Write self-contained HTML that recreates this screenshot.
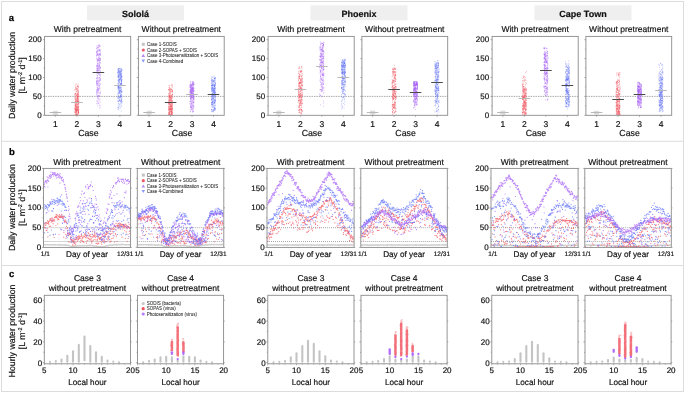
<!DOCTYPE html>
<html><head><meta charset="utf-8"><style>
html,body{margin:0;padding:0;background:#fff;width:685px;height:393px;overflow:hidden}
svg{display:block;will-change:transform}
</style></head><body>
<svg width="685" height="393" viewBox="0 0 685 393" font-family='"Liberation Sans", sans-serif' text-rendering="geometricPrecision">
<rect width="685" height="393" fill="#fff"/>
<rect x="1.5" y="1.5" width="682" height="390" fill="none" stroke="#dcdcdc" stroke-width="1"/>
<path d="M1.5 141.3H683.5M1.5 265.5H683.5" stroke="#dcdcdc" stroke-width="1"/>
<text x="8.7" y="20.5" font-size="9.5" text-anchor="start" font-weight="bold" fill="#000" stroke="#000" stroke-width="0.18" >a</text>
<text x="8.9" y="155.2" font-size="9.5" text-anchor="start" font-weight="bold" fill="#000" stroke="#000" stroke-width="0.18" >b</text>
<text x="8.9" y="276.8" font-size="9.5" text-anchor="start" font-weight="bold" fill="#000" stroke="#000" stroke-width="0.18" >c</text>
<rect x="87" y="5.3" width="97" height="15" fill="#efefef"/>
<text x="135.5" y="16.5" font-size="9" text-anchor="middle" font-weight="bold" fill="#111" stroke="#111" stroke-width="0.18" >Sololá</text>
<rect x="310.5" y="5.3" width="97" height="15" fill="#efefef"/>
<text x="359" y="16.5" font-size="9" text-anchor="middle" font-weight="bold" fill="#111" stroke="#111" stroke-width="0.18" >Phoenix</text>
<rect x="534.5" y="5.3" width="97" height="15" fill="#efefef"/>
<text x="583" y="16.5" font-size="9" text-anchor="middle" font-weight="bold" fill="#111" stroke="#111" stroke-width="0.18" >Cape Town</text>
<g transform="translate(15.3 75.4) rotate(-90)"><text x="0" y="0" font-size="8.8" text-anchor="middle" fill="#111" stroke="#111" stroke-width="0.18">Daily water production</text></g>
<g transform="translate(24.9 75.4) rotate(-90)"><text x="0" y="0" font-size="8.8" text-anchor="middle" fill="#111" stroke="#111" stroke-width="0.18">[L m<tspan font-size="5.5" dy="-3.2">-2</tspan><tspan dy="3.2"> d</tspan><tspan font-size="5.5" dy="-3.2">-1</tspan><tspan dy="3.2">]</tspan></text></g>
<g transform="translate(15.3 207.6) rotate(-90)"><text x="0" y="0" font-size="8.8" text-anchor="middle" fill="#111" stroke="#111" stroke-width="0.18">Daily water production</text></g>
<g transform="translate(24.9 207.6) rotate(-90)"><text x="0" y="0" font-size="8.8" text-anchor="middle" fill="#111" stroke="#111" stroke-width="0.18">[L m<tspan font-size="5.5" dy="-3.2">-2</tspan><tspan dy="3.2"> d</tspan><tspan font-size="5.5" dy="-3.2">-1</tspan><tspan dy="3.2">]</tspan></text></g>
<g transform="translate(15.3 331.0) rotate(-90)"><text x="0" y="0" font-size="8.8" text-anchor="middle" fill="#111" stroke="#111" stroke-width="0.18">Hourly water production</text></g>
<g transform="translate(24.9 331.0) rotate(-90)"><text x="0" y="0" font-size="8.8" text-anchor="middle" fill="#111" stroke="#111" stroke-width="0.18">[L m<tspan font-size="5.5" dy="-3.2">-2</tspan><tspan dy="3.2"> d</tspan><tspan font-size="5.5" dy="-3.2">-1</tspan><tspan dy="3.2">]</tspan></text></g>
<path d="M44.6 96.4H130.7" stroke="#333" stroke-width="0.55" stroke-dasharray="0.8 0.9"/>
<path d="M56.3 112.7h0M55.1 112.5h0M54.9 112.8h0M55.0 113.2h0M53.4 112.9h0M56.8 113.3h0M55.5 112.6h0M54.9 111.8h0M55.6 113.0h0M56.3 113.0h0M54.9 112.4h0M56.8 112.4h0M57.1 112.6h0M54.9 113.2h0M53.8 112.7h0M56.5 112.2h0M57.4 113.5h0M53.9 112.9h0M56.3 113.8h0M56.7 113.4h0M57.1 113.8h0M53.8 112.8h0M53.6 113.4h0M57.4 112.5h0M53.8 112.6h0M54.0 112.8h0M55.7 114.2h0M55.1 113.0h0M56.4 112.7h0M54.1 112.6h0M57.1 113.6h0M54.2 112.9h0M56.5 113.2h0M53.5 113.1h0M55.3 112.0h0M53.4 113.1h0M54.6 112.7h0M54.6 112.1h0M56.3 113.0h0M55.2 112.7h0M53.5 112.6h0M57.4 112.6h0M57.0 113.4h0M57.1 112.6h0M54.3 111.8h0M54.9 113.6h0M54.2 112.1h0M53.8 112.6h0M53.4 113.0h0M55.4 111.4h0M53.8 112.2h0M54.0 113.4h0M56.9 112.6h0M55.3 112.3h0M54.0 112.8h0M56.1 112.2h0M54.4 112.7h0M55.5 112.3h0M54.5 111.8h0M55.4 113.1h0M55.9 112.5h0M55.5 112.9h0M54.9 112.6h0M56.6 113.4h0M56.9 113.0h0M54.0 112.8h0M53.8 112.1h0M53.7 112.0h0M57.4 113.5h0M57.2 113.1h0M54.2 112.3h0M57.3 113.9h0M54.1 112.9h0M55.4 112.7h0M55.4 111.9h0M57.1 112.2h0M53.4 112.9h0M54.6 112.9h0M55.8 112.8h0M53.5 111.7h0M54.3 112.9h0M55.2 112.8h0M57.0 112.4h0M56.5 112.7h0M56.7 112.8h0M56.5 113.3h0M56.2 112.7h0M56.8 112.9h0M56.1 111.9h0M56.4 112.3h0M54.5 112.7h0M54.0 112.2h0M56.4 112.9h0M54.0 112.0h0M57.1 112.7h0M55.8 112.3h0M54.6 113.4h0M57.2 112.4h0M53.9 113.7h0M55.4 113.9h0M53.6 112.8h0M57.3 113.2h0M55.7 112.6h0M56.6 111.3h0M54.4 113.2h0M56.6 113.0h0M56.2 112.5h0M56.0 112.4h0M57.3 112.8h0M55.1 112.8h0M55.0 112.2h0M56.2 112.3h0M56.8 113.3h0M54.7 112.7h0M56.1 112.6h0M54.1 113.3h0M55.6 112.5h0M56.5 113.2h0M53.5 112.1h0M56.3 112.5h0M53.3 112.6h0M57.3 113.0h0M55.2 112.7h0M55.0 113.9h0M56.3 113.3h0M55.5 112.4h0M56.3 113.9h0M53.6 112.1h0M55.6 113.7h0M55.6 112.2h0M57.2 113.2h0M53.4 112.2h0M55.2 112.6h0M55.9 113.6h0M55.6 111.9h0M53.6 111.8h0M55.8 112.7h0M54.2 112.8h0M54.1 112.8h0M57.0 113.2h0M54.1 112.0h0M55.2 113.0h0M56.4 112.7h0M56.2 113.1h0M55.6 113.0h0M56.7 113.4h0M55.2 111.9h0M55.9 112.7h0M56.7 112.1h0M56.1 112.6h0M56.0 113.1h0M55.0 112.9h0M55.6 113.0h0M54.9 112.6h0M56.4 112.9h0M54.9 112.8h0M55.2 113.5h0M56.4 113.1h0M55.4 111.7h0M54.7 113.1h0M56.7 113.3h0M54.9 112.4h0M56.8 111.8h0M56.6 113.5h0M55.1 112.8h0M56.3 113.0h0M53.4 113.7h0M54.9 112.2h0M56.9 112.7h0M55.7 112.6h0M55.6 113.1h0M56.1 112.4h0M56.1 113.0h0M55.7 112.7h0M55.0 113.3h0M54.0 113.4h0M54.5 111.8h0M54.5 113.0h0M55.1 112.5h0M57.5 112.7h0M54.7 112.9h0M55.1 113.0h0M54.8 112.3h0M55.7 112.8h0M57.2 112.7h0M57.0 112.6h0M54.8 111.9h0M54.4 112.2h0M57.0 112.4h0M55.3 113.0h0M56.1 113.5h0M53.6 112.1h0M56.9 112.1h0M54.6 112.7h0M55.3 112.3h0M54.1 112.2h0M55.0 112.2h0M56.7 112.1h0M56.7 112.9h0M55.3 111.7h0M56.5 113.4h0M55.2 112.1h0M54.8 112.4h0M55.6 112.1h0M54.1 111.5h0M54.6 111.8h0M56.2 113.3h0M56.5 113.7h0M53.5 112.2h0M56.3 113.3h0M56.7 112.7h0M55.1 112.1h0M53.5 113.6h0M56.1 113.9h0M54.3 112.5h0M56.0 112.6h0M54.8 112.8h0M55.9 112.6h0M54.3 113.2h0M55.3 113.6h0M55.5 112.8h0M55.9 113.2h0M54.1 113.6h0M57.3 112.3h0M54.5 112.7h0M54.5 112.4h0M54.3 113.3h0M53.5 113.1h0M55.0 113.3h0M56.5 113.2h0M56.2 112.5h0M54.1 113.1h0M53.8 112.4h0M54.6 112.4h0M56.5 111.4h0M55.3 113.5h0M57.1 112.1h0M56.0 112.7h0M55.9 112.7h0M56.5 113.5h0M56.4 112.9h0M54.7 112.2h0M54.3 112.7h0M55.1 112.6h0M55.3 112.8h0M53.9 112.0h0M55.1 112.7h0M55.9 114.0h0M53.8 113.1h0M53.8 113.8h0M54.0 114.2h0M54.5 113.0h0M57.3 111.8h0M53.4 112.6h0M54.0 113.4h0M54.0 113.2h0M55.3 112.0h0M53.3 112.6h0M55.2 112.6h0M53.9 112.7h0M54.4 112.6h0M56.6 112.2h0M54.0 112.3h0M55.9 112.5h0M55.0 113.3h0M55.0 112.3h0M56.7 113.1h0M53.9 112.0h0M57.1 113.4h0M57.0 112.7h0M56.1 112.7h0M53.5 113.5h0M56.0 111.6h0M55.8 111.8h0M56.5 112.9h0M54.2 112.2h0M57.3 112.4h0M57.0 114.2h0M53.7 112.5h0M54.6 112.7h0M53.4 112.6h0M56.8 113.3h0M57.1 112.8h0M57.4 112.8h0M55.8 111.9h0M56.1 112.5h0M56.1 112.7h0M55.7 111.7h0M57.3 113.0h0M55.8 112.9h0M54.7 113.8h0M55.4 111.7h0M53.3 112.1h0M56.3 112.1h0M56.2 112.2h0M55.0 112.6h0M56.8 112.5h0M56.4 112.8h0M54.7 112.8h0M53.6 112.6h0" stroke="#9a9a9a" stroke-width="1.40" stroke-linecap="round" stroke-opacity="0.35" fill="none"/>
<path d="M77.9 106.4h0M77.5 102.1h0M76.2 113.5h0M77.0 112.9h0M77.3 115.2h0M77.0 110.3h0M75.3 107.2h0M79.0 96.9h0M78.8 110.4h0M74.9 105.2h0M78.8 96.0h0M77.0 109.0h0M75.3 106.6h0M78.2 98.6h0M76.6 101.9h0M77.8 105.8h0M78.3 101.3h0M77.0 93.5h0M75.0 109.1h0M78.2 111.5h0M77.7 97.1h0M78.6 101.3h0M75.9 110.1h0M78.1 107.5h0M78.5 112.8h0M76.3 100.3h0M76.5 109.7h0M76.2 107.2h0M74.8 97.4h0M75.8 86.9h0M76.2 105.4h0M75.2 115.1h0M78.0 84.3h0M76.6 111.8h0M77.2 102.1h0M76.0 101.9h0M76.3 114.8h0M78.0 90.2h0M76.8 101.4h0M77.3 98.5h0M76.6 89.0h0M77.1 96.3h0M78.6 108.1h0M75.9 108.9h0M77.0 110.4h0M77.7 98.0h0M75.2 106.1h0M78.8 109.2h0M76.9 99.2h0M75.8 109.4h0M78.0 106.8h0M78.2 103.8h0M77.4 96.8h0M78.6 112.3h0M75.2 112.6h0M77.0 113.8h0M77.9 105.2h0M78.6 111.7h0M77.5 109.7h0M77.3 99.9h0M76.4 95.4h0M77.2 88.3h0M77.1 96.6h0M78.6 90.2h0M78.3 99.8h0M77.9 95.2h0M78.7 96.8h0M75.1 85.4h0M78.0 108.7h0M76.7 102.0h0M77.9 98.3h0M76.0 111.3h0M76.8 104.7h0M78.3 103.8h0M74.9 111.9h0M76.0 107.1h0M76.8 94.7h0M78.4 92.0h0M75.9 104.3h0M78.2 101.0h0M75.8 110.3h0M76.1 107.0h0M77.1 109.5h0M77.5 101.4h0M78.5 110.7h0M78.5 110.3h0M75.8 95.3h0M77.9 99.8h0M77.5 99.8h0M76.4 107.2h0M78.0 94.0h0M78.6 95.1h0M76.8 100.3h0M78.6 86.0h0M75.3 109.8h0M75.5 93.5h0M78.0 102.1h0M76.1 104.1h0M77.2 96.3h0M76.9 97.6h0M75.4 100.4h0M78.0 108.9h0M77.9 88.6h0M75.4 99.9h0M75.9 104.1h0M78.1 107.5h0M78.6 109.2h0M78.4 104.3h0M76.9 111.7h0M76.3 99.9h0M76.7 109.2h0M75.5 87.7h0M76.9 91.4h0M75.8 114.6h0M75.5 109.6h0M76.4 111.7h0M75.1 93.5h0M76.8 114.8h0M77.7 86.4h0M77.5 89.3h0M78.9 105.9h0M78.5 87.3h0M77.4 109.3h0M78.6 109.3h0M76.7 108.8h0M78.1 103.2h0M76.0 94.5h0M77.0 102.1h0M78.9 102.3h0M77.3 107.6h0M76.9 89.7h0M78.1 104.0h0M76.1 104.9h0M78.3 106.5h0M74.9 109.9h0M75.8 113.0h0M75.5 105.2h0M75.9 106.2h0M78.8 95.9h0M74.9 108.8h0M76.0 103.8h0M77.2 100.0h0M77.7 97.4h0M78.0 93.8h0M76.4 95.3h0M75.7 88.3h0M78.4 110.2h0M75.3 101.8h0M75.1 94.2h0M75.8 98.3h0M76.9 102.1h0M78.7 112.0h0M77.8 97.5h0M77.2 111.0h0M77.0 107.3h0M77.7 86.1h0M77.4 90.4h0M76.2 106.7h0M75.2 98.7h0M75.6 101.4h0M78.1 110.9h0M77.5 106.6h0M78.1 107.4h0M75.0 112.4h0M78.6 112.7h0M76.4 91.0h0M78.7 99.3h0M77.3 94.4h0M77.1 108.1h0M78.2 96.6h0M77.4 101.1h0M77.6 85.8h0M75.4 110.3h0M77.3 104.1h0M76.3 105.4h0M75.1 89.7h0M75.3 112.0h0M76.8 103.5h0M75.9 83.7h0M78.0 102.9h0M75.3 114.4h0M74.8 108.6h0M79.0 100.9h0M76.1 92.8h0M76.9 99.0h0M75.7 109.7h0M75.7 102.6h0M76.5 89.0h0M78.1 94.3h0M75.0 95.4h0M78.3 93.4h0M78.9 102.3h0M77.1 114.4h0M76.3 84.6h0M75.8 113.4h0M75.6 105.2h0M76.1 91.5h0M78.4 92.7h0M74.8 90.6h0M78.1 109.9h0M77.6 100.9h0M74.9 96.1h0M75.1 114.2h0M77.9 92.6h0M77.6 96.2h0M76.1 102.4h0M78.4 96.7h0M75.7 110.2h0M76.6 111.4h0M75.3 111.4h0M77.5 104.6h0M75.2 101.5h0M75.5 102.2h0M78.0 109.1h0M76.9 97.1h0M77.6 115.0h0M77.9 91.6h0M77.3 109.8h0M75.6 108.6h0M77.7 100.6h0M75.3 97.7h0M75.9 109.1h0M76.7 110.6h0M75.3 99.5h0M75.2 89.4h0M77.5 96.4h0M77.9 102.6h0M76.3 108.4h0M76.4 114.2h0M75.7 108.3h0M77.0 115.0h0M77.2 95.0h0M78.7 113.9h0M75.0 103.5h0M78.6 101.9h0M78.9 103.7h0M76.2 98.1h0M77.8 101.6h0M78.3 112.7h0M77.5 102.1h0M76.0 100.3h0M77.4 109.4h0M78.5 94.6h0M75.2 99.3h0M76.8 108.0h0M74.9 107.7h0M78.3 87.0h0M78.1 91.5h0M75.0 94.3h0M77.9 113.8h0M77.7 104.7h0M75.3 93.5h0M77.0 110.6h0M77.7 96.5h0M76.2 89.0h0M76.9 110.7h0M78.9 112.3h0M77.5 95.3h0M76.9 88.1h0M75.1 105.2h0M75.3 102.9h0M78.4 112.7h0M77.9 114.8h0M78.3 106.9h0M77.2 110.4h0M77.2 107.1h0M77.0 112.6h0M77.9 86.4h0M76.2 102.9h0M76.9 111.7h0M76.8 112.4h0M77.6 93.2h0M75.7 106.0h0M74.9 111.9h0M75.2 102.4h0M75.5 104.6h0M78.4 112.0h0M77.8 99.8h0M77.9 98.3h0M76.7 115.0h0M75.2 98.1h0M76.7 87.2h0M78.4 113.6h0M76.9 114.6h0M77.4 93.9h0M76.4 110.9h0M75.4 106.4h0M77.4 101.5h0M76.8 110.5h0M76.2 107.8h0M75.9 105.8h0M77.7 102.5h0M76.1 110.5h0M77.2 98.4h0M75.9 112.2h0M78.0 90.3h0M76.4 110.5h0M76.8 107.7h0M78.7 102.1h0M77.8 107.3h0" stroke="#f0505a" stroke-width="1.00" stroke-linecap="round" stroke-opacity="0.45" fill="none"/>
<path d="M97.1 101.5h0M99.9 89.8h0M97.5 59.6h0M98.6 98.3h0M99.3 46.0h0M96.9 52.4h0M100.3 84.0h0M100.3 59.4h0M100.4 54.2h0M96.3 52.0h0M99.0 70.8h0M99.1 73.5h0M100.0 99.5h0M97.2 80.8h0M96.8 83.9h0M99.7 61.7h0M97.4 76.9h0M96.6 78.0h0M96.7 46.1h0M99.0 88.7h0M98.6 96.4h0M99.5 88.4h0M99.7 105.2h0M96.3 49.0h0M100.2 96.0h0M100.0 58.4h0M100.2 67.2h0M99.5 108.2h0M97.9 59.0h0M97.4 66.0h0M100.1 102.2h0M98.1 59.9h0M98.4 101.9h0M99.2 95.0h0M99.2 57.9h0M99.2 50.3h0M98.9 78.7h0M98.4 69.9h0M99.5 66.2h0M98.0 55.2h0M97.4 54.0h0M100.1 75.3h0M99.9 59.5h0M99.3 79.3h0M97.0 80.1h0M96.5 82.0h0M100.2 52.0h0M100.3 79.5h0M97.5 80.1h0M99.0 72.6h0M96.4 72.5h0M98.0 65.0h0M99.3 86.0h0M97.8 72.4h0M99.7 53.8h0M100.1 53.0h0M96.9 55.2h0M99.2 64.2h0M97.9 97.1h0M97.0 85.6h0M97.8 91.4h0M98.3 70.2h0M100.1 68.4h0M99.5 50.5h0M96.3 94.7h0M96.5 65.2h0M100.5 78.2h0M98.7 58.1h0M98.9 73.6h0M97.8 89.4h0M99.8 45.8h0M98.7 57.9h0M98.8 67.8h0M97.4 90.8h0M99.6 81.0h0M97.2 83.8h0M96.9 60.7h0M98.8 68.7h0M99.8 50.0h0M97.5 68.6h0M97.6 96.2h0M96.9 82.0h0M98.8 63.1h0M99.5 56.2h0M96.8 83.0h0M98.6 82.1h0M98.6 95.8h0M96.8 54.0h0M98.5 55.7h0M97.5 63.7h0M97.1 55.6h0M100.5 84.1h0M96.7 81.5h0M97.8 61.5h0M98.9 78.0h0M98.0 77.5h0M96.4 67.1h0M100.0 54.8h0M97.3 87.9h0M98.0 103.6h0M100.1 107.4h0M100.4 50.9h0M100.2 75.0h0M98.0 96.8h0M99.4 49.2h0M99.9 93.1h0M97.1 51.2h0M100.4 92.2h0M96.7 80.9h0M99.1 86.0h0M97.3 75.6h0M97.2 63.1h0M96.9 93.2h0M100.3 60.2h0M96.9 71.5h0M100.1 54.9h0M97.0 70.7h0M97.7 65.8h0M97.2 82.6h0M100.5 55.3h0M96.7 57.9h0M99.9 100.9h0M97.6 93.0h0M100.3 93.6h0M99.5 72.8h0M97.4 63.6h0M98.5 89.8h0M97.0 65.9h0M98.0 51.1h0M96.4 92.7h0M99.2 69.9h0M98.8 57.1h0M97.5 67.8h0M96.4 103.8h0M100.3 58.2h0M96.8 69.0h0M97.7 50.3h0M96.4 52.0h0M97.9 45.5h0M98.0 96.5h0M98.6 54.2h0M97.7 54.8h0M97.4 68.0h0M99.6 60.7h0M97.5 85.0h0M97.7 89.7h0M98.4 80.4h0M97.5 84.9h0M99.4 64.7h0M96.7 66.3h0M97.7 60.4h0M98.1 92.8h0M97.4 78.8h0M99.8 45.5h0M97.8 51.5h0M98.1 89.0h0M98.3 74.0h0M99.8 58.4h0M97.2 84.0h0M99.8 53.8h0M100.3 67.9h0M97.4 90.3h0M97.0 78.1h0M99.6 60.3h0M97.6 59.0h0M97.3 75.7h0M96.6 48.3h0M98.9 50.3h0M100.2 49.6h0M100.0 63.4h0M98.8 90.0h0M98.2 60.0h0M100.4 92.1h0M99.1 61.1h0M100.3 71.2h0M99.2 68.9h0M99.2 46.3h0M99.3 65.3h0M96.8 52.2h0M97.4 87.5h0M96.6 85.0h0M100.2 105.8h0M100.5 62.7h0M98.9 86.7h0M97.0 81.3h0M96.8 55.6h0M98.2 67.2h0M98.0 95.3h0M97.1 51.3h0M96.7 89.7h0M99.0 70.9h0M99.6 77.5h0M96.6 56.0h0M97.6 106.0h0M97.6 98.2h0M98.6 59.5h0M98.9 99.1h0M98.0 53.7h0M99.9 66.6h0M98.0 69.0h0M97.6 81.8h0M99.5 58.7h0M99.8 77.3h0M100.0 74.2h0M97.0 52.9h0M97.1 83.5h0M98.3 46.0h0M100.4 78.6h0M98.9 47.7h0M98.9 98.8h0M97.7 61.8h0M100.5 72.8h0M97.1 47.8h0M98.7 45.1h0M99.1 81.1h0M99.7 83.9h0M99.7 54.9h0M97.9 95.5h0M97.5 102.6h0M100.4 75.9h0M98.6 90.3h0M97.5 73.2h0M96.9 100.7h0M99.7 67.7h0M99.9 67.8h0M98.7 81.7h0M97.9 88.1h0M99.1 63.0h0M100.4 79.6h0M98.7 88.6h0M99.6 66.1h0M100.0 59.7h0M99.5 54.4h0M98.4 103.7h0M97.1 54.3h0M99.2 70.1h0M99.8 80.8h0M100.4 70.3h0M97.0 92.1h0M96.8 70.3h0M99.0 54.6h0M99.8 80.9h0M96.6 73.9h0M98.9 65.0h0M97.4 72.9h0M100.5 60.3h0M97.8 100.1h0M96.7 78.5h0M99.6 85.7h0M97.6 88.9h0M98.1 60.2h0M96.9 92.1h0M97.7 69.6h0M96.9 91.1h0M97.4 64.7h0M98.7 85.6h0M97.6 65.7h0M99.1 93.0h0M100.1 88.0h0M98.7 82.9h0M96.4 58.9h0M100.3 71.9h0M97.1 87.0h0M97.8 47.9h0M98.5 84.5h0M98.9 66.2h0M97.7 54.5h0M98.2 49.6h0M98.9 95.6h0M98.2 47.7h0M97.5 70.8h0M98.0 60.0h0M97.9 65.8h0M97.5 53.7h0M98.8 91.6h0M98.5 74.0h0M98.0 47.1h0M99.3 87.2h0M99.7 74.9h0M99.0 103.7h0M97.7 47.8h0M100.2 54.1h0M96.8 83.4h0M99.7 51.2h0M98.1 67.1h0M98.0 50.2h0M99.9 44.3h0M99.1 83.8h0M100.4 80.6h0M100.0 46.5h0M96.8 94.8h0M98.4 66.3h0M99.5 62.7h0M96.7 90.7h0M98.6 60.4h0M100.5 67.7h0M97.3 70.6h0M96.8 68.7h0M97.5 68.9h0M97.8 70.9h0" stroke="#a45cf5" stroke-width="1.00" stroke-linecap="round" stroke-opacity="0.45" fill="none"/>
<path d="M118.9 80.0h0M119.6 100.2h0M118.1 105.1h0M117.9 72.7h0M118.9 76.6h0M121.2 100.5h0M120.7 77.6h0M119.8 79.9h0M119.6 70.9h0M119.0 92.8h0M121.1 69.5h0M119.9 81.7h0M118.1 97.5h0M120.5 74.8h0M122.0 91.3h0M118.1 83.7h0M122.0 101.6h0M118.3 103.3h0M119.1 75.2h0M121.9 70.7h0M121.9 95.4h0M118.6 79.9h0M120.9 102.8h0M120.4 74.3h0M119.5 73.3h0M121.1 74.9h0M120.5 72.8h0M118.8 77.6h0M119.9 91.4h0M120.8 84.1h0M120.4 101.8h0M120.1 68.4h0M120.9 83.4h0M118.4 76.2h0M118.0 97.1h0M118.0 75.1h0M120.4 92.0h0M119.7 92.9h0M121.3 80.9h0M121.9 84.3h0M118.3 79.8h0M119.4 93.1h0M119.6 90.8h0M120.1 99.7h0M121.7 68.3h0M120.4 83.6h0M119.1 90.0h0M120.6 96.9h0M119.2 106.5h0M120.2 78.5h0M118.3 73.0h0M120.2 78.6h0M119.8 77.9h0M120.5 108.0h0M120.2 77.1h0M120.2 76.5h0M120.9 79.7h0M118.4 95.7h0M121.0 73.4h0M120.5 85.2h0M120.7 97.3h0M119.5 97.7h0M118.2 74.3h0M121.7 100.6h0M121.3 105.8h0M121.9 73.3h0M119.8 93.3h0M121.6 81.4h0M121.5 80.8h0M120.1 100.9h0M121.6 77.5h0M121.3 82.3h0M118.3 76.6h0M118.4 76.8h0M119.5 82.7h0M120.1 74.7h0M120.6 70.4h0M120.2 72.1h0M121.5 76.4h0M121.2 111.0h0M118.3 75.3h0M119.3 80.8h0M121.6 94.6h0M121.0 93.1h0M117.9 77.4h0M120.5 96.6h0M118.4 78.1h0M120.0 91.1h0M122.0 102.9h0M118.2 80.5h0M121.3 77.3h0M119.9 104.1h0M121.9 96.9h0M121.4 83.8h0M118.1 84.2h0M120.5 87.6h0M121.5 74.1h0M119.0 86.9h0M120.8 84.1h0M118.9 89.8h0M118.7 103.8h0M119.2 82.3h0M119.1 88.0h0M121.9 80.5h0M118.8 85.3h0M119.6 98.1h0M119.9 71.5h0M120.7 93.8h0M121.9 91.9h0M120.4 88.4h0M121.5 96.4h0M118.4 89.8h0M120.6 71.2h0M118.6 86.6h0M121.5 78.1h0M120.3 95.9h0M118.4 109.0h0M121.4 71.1h0M120.0 100.8h0M119.9 70.5h0M118.2 94.1h0M121.6 79.9h0M120.0 71.5h0M121.5 92.5h0M118.2 80.7h0M120.7 96.1h0M119.4 100.1h0M120.1 81.0h0M120.5 78.9h0M121.3 98.3h0M121.7 94.5h0M118.5 86.8h0M121.4 71.9h0M118.3 87.9h0M117.9 98.7h0M119.1 91.7h0M119.0 108.1h0M121.1 90.3h0M120.2 95.2h0M119.5 88.4h0M121.2 91.0h0M121.8 98.0h0M120.5 78.4h0M120.6 72.4h0M121.5 84.3h0M119.1 84.8h0M122.0 69.5h0M118.6 68.6h0M118.0 109.7h0M121.3 91.7h0M118.6 93.2h0M119.2 79.5h0M120.0 79.4h0M118.3 107.0h0M119.6 72.6h0M119.3 79.4h0M118.2 70.6h0M120.4 90.7h0M119.7 97.3h0M118.5 76.1h0M121.1 71.2h0M119.6 79.4h0M117.9 69.3h0M121.5 80.5h0M119.6 87.4h0M118.2 76.4h0M119.1 88.3h0M118.9 72.0h0M118.0 90.2h0M119.2 82.9h0M118.5 87.6h0M118.7 89.0h0M120.7 95.5h0M118.5 76.5h0M117.9 94.6h0M118.6 98.5h0M119.1 87.2h0M118.5 81.8h0M120.3 84.9h0M121.5 82.5h0M121.3 83.3h0M119.8 86.8h0M121.1 106.3h0M121.2 83.7h0M120.5 94.9h0M121.2 84.6h0M119.4 73.2h0M121.0 96.2h0M120.0 78.4h0M120.9 89.1h0M120.9 89.7h0M118.1 97.2h0M121.3 69.8h0M118.0 86.6h0M119.6 79.8h0M120.3 86.0h0M121.3 89.9h0M118.1 88.3h0M120.7 75.4h0M119.3 100.7h0M118.0 101.1h0M119.2 81.1h0M120.5 96.0h0M118.2 95.9h0M121.4 88.4h0M118.0 87.0h0M118.8 74.2h0M119.2 92.0h0M118.1 86.3h0M121.7 101.2h0M121.9 91.7h0M121.6 77.1h0M118.7 70.8h0M121.3 99.8h0M119.3 90.6h0M119.1 71.0h0M120.7 97.7h0M118.2 93.0h0M117.9 72.3h0M121.7 75.5h0M119.3 74.3h0M121.2 83.7h0M119.6 68.8h0M118.2 96.6h0M119.8 92.4h0M118.6 71.5h0M118.2 71.8h0M117.9 107.8h0M119.5 104.9h0M118.9 68.4h0M119.2 77.1h0M121.9 76.5h0M121.3 81.5h0M120.8 75.8h0M118.9 88.5h0M121.0 76.8h0M120.8 87.5h0M120.1 87.0h0M118.8 84.7h0M118.7 69.4h0M119.6 75.3h0M119.0 68.7h0M121.6 92.2h0M119.8 89.6h0M120.7 90.6h0M121.6 70.1h0M120.4 68.6h0M118.5 87.1h0M119.2 91.6h0M121.7 87.5h0M118.0 76.6h0M118.8 86.4h0M120.4 83.8h0M121.4 74.2h0M121.3 75.7h0M120.9 71.5h0M120.8 104.1h0M119.4 72.0h0M118.1 101.4h0M120.5 75.8h0M118.1 107.6h0M121.2 100.2h0M118.4 101.6h0M117.9 87.9h0M122.0 77.4h0M118.5 81.0h0M120.3 73.9h0M118.1 100.8h0M122.0 101.5h0M117.9 69.9h0M120.7 73.8h0M121.4 99.9h0M119.1 99.8h0M117.9 72.2h0M118.0 72.3h0M118.1 92.7h0M121.0 73.0h0M120.1 74.0h0M121.6 102.9h0M120.5 90.9h0M120.3 101.4h0M118.7 83.3h0M118.8 68.9h0M121.9 79.1h0M121.8 70.1h0M119.7 91.4h0M121.2 80.2h0M120.9 96.4h0M119.0 72.3h0M118.7 70.0h0M121.0 79.6h0M121.9 99.2h0M122.0 76.0h0M119.3 96.8h0M118.1 82.8h0M119.2 75.0h0M118.1 73.9h0M122.0 79.3h0M119.1 76.2h0M121.4 83.1h0" stroke="#5a6cf5" stroke-width="1.00" stroke-linecap="round" stroke-opacity="0.45" fill="none"/>
<path d="M49.6 112.5h11.6" stroke="#b8b8b8" stroke-width="1"/>
<path d="M71.1 102.5h11.6" stroke="#b8b8b8" stroke-width="1"/>
<path d="M92.6 72.5h11.6" stroke="#4a4a4a" stroke-width="1"/>
<path d="M114.1 85.5h11.6" stroke="#b8b8b8" stroke-width="1"/>
<rect x="44.6" y="36.4" width="86.1" height="78.9" fill="none" stroke="#8a8a8a" stroke-width="0.9"/>
<path d="M44.6 115.3h-1.6M44.6 96.4h-1.6M44.6 77.5h-1.6M44.6 58.6h-1.6M44.6 39.7h-1.6M44.6 105.8h-1M44.6 86.9h-1M44.6 68.0h-1M44.6 49.1h-1" stroke="#8a8a8a" stroke-width="0.7" fill="none"/>
<text x="41.6" y="117.6" font-size="8" text-anchor="end" font-weight="normal" fill="#111" stroke="#111" stroke-width="0.18" >0</text>
<text x="41.6" y="98.7" font-size="8" text-anchor="end" font-weight="normal" fill="#111" stroke="#111" stroke-width="0.18" >50</text>
<text x="41.6" y="79.8" font-size="8" text-anchor="end" font-weight="normal" fill="#111" stroke="#111" stroke-width="0.18" >100</text>
<text x="41.6" y="60.9" font-size="8" text-anchor="end" font-weight="normal" fill="#111" stroke="#111" stroke-width="0.18" >150</text>
<text x="41.6" y="42" font-size="8" text-anchor="end" font-weight="normal" fill="#111" stroke="#111" stroke-width="0.18" >200</text>
<path d="M55.4 115.3v1.5M76.9 115.3v1.5M98.4 115.3v1.5M119.9 115.3v1.5" stroke="#8a8a8a" stroke-width="0.7"/>
<text x="55.4" y="126.8" font-size="8.5" text-anchor="middle" font-weight="normal" fill="#111" stroke="#111" stroke-width="0.18" >1</text>
<text x="76.9" y="126.8" font-size="8.5" text-anchor="middle" font-weight="normal" fill="#111" stroke="#111" stroke-width="0.18" >2</text>
<text x="98.4" y="126.8" font-size="8.5" text-anchor="middle" font-weight="normal" fill="#111" stroke="#111" stroke-width="0.18" >3</text>
<text x="119.9" y="126.8" font-size="8.5" text-anchor="middle" font-weight="normal" fill="#111" stroke="#111" stroke-width="0.18" >4</text>
<text x="88.4" y="136.3" font-size="8.8" text-anchor="middle" font-weight="normal" fill="#111" stroke="#111" stroke-width="0.18" >Case</text>
<text x="87.6" y="31.6" font-size="8.5" text-anchor="middle" font-weight="normal" fill="#111" stroke="#111" stroke-width="0.18" >With pretreatment</text>
<path d="M138.4 96.4H224.2" stroke="#333" stroke-width="0.55" stroke-dasharray="0.8 0.9"/>
<path d="M149.1 113.3h0M148.3 113.6h0M148.4 113.1h0M147.7 113.2h0M151.1 113.5h0M147.9 112.6h0M148.2 112.3h0M148.7 113.4h0M147.5 113.0h0M148.0 112.6h0M148.7 112.8h0M149.5 113.1h0M149.3 112.2h0M148.6 112.1h0M149.9 112.2h0M150.2 112.8h0M148.1 111.4h0M148.0 111.6h0M149.7 112.9h0M148.8 112.7h0M150.5 111.9h0M147.1 113.1h0M149.3 112.4h0M148.5 112.6h0M147.9 113.1h0M150.7 112.8h0M147.9 113.6h0M150.3 113.0h0M150.6 113.9h0M151.1 111.3h0M147.5 111.7h0M147.7 111.9h0M147.4 112.5h0M148.4 112.0h0M150.8 111.9h0M149.7 112.0h0M147.7 112.1h0M147.5 113.2h0M150.2 112.4h0M149.6 113.0h0M147.0 113.4h0M149.5 113.3h0M147.8 112.4h0M148.3 112.0h0M147.4 113.5h0M151.2 111.6h0M148.9 111.8h0M149.6 112.9h0M147.9 112.9h0M148.6 112.7h0M149.7 112.1h0M150.2 112.9h0M150.8 113.3h0M148.1 112.4h0M148.0 113.9h0M148.7 112.6h0M148.3 112.0h0M150.5 112.5h0M148.6 112.2h0M148.6 112.4h0M149.1 112.2h0M149.4 112.6h0M148.5 113.2h0M147.1 112.8h0M150.1 112.7h0M147.5 111.9h0M150.6 111.7h0M148.1 112.4h0M148.1 113.1h0M149.3 113.1h0M150.8 112.8h0M148.6 111.8h0M149.0 112.5h0M148.8 112.7h0M147.5 113.1h0M148.2 112.1h0M150.9 112.5h0M151.0 112.7h0M148.1 112.6h0M150.9 111.6h0M147.1 112.8h0M150.0 111.6h0M147.1 111.9h0M148.8 112.6h0M148.8 112.1h0M148.9 112.7h0M151.0 113.2h0M148.5 112.8h0M147.1 113.2h0M147.5 112.3h0M150.2 112.6h0M147.6 112.3h0M147.3 112.2h0M147.8 114.2h0M151.1 112.5h0M148.9 113.7h0M147.6 112.6h0M149.8 113.2h0M148.6 112.6h0M149.3 111.8h0M151.2 113.7h0M150.0 112.5h0M149.3 112.7h0M151.2 113.8h0M149.1 112.3h0M148.9 112.6h0M150.6 113.0h0M151.0 113.1h0M150.0 111.1h0M148.6 112.9h0M148.7 113.7h0M147.1 113.2h0M148.0 112.9h0M150.3 112.9h0M149.1 112.7h0M150.6 113.3h0M149.8 112.3h0M149.4 112.9h0M150.4 113.5h0M149.1 113.1h0M149.8 112.9h0M149.1 112.1h0M148.5 112.4h0M150.2 112.9h0M147.3 112.6h0M151.1 112.5h0M151.1 111.4h0M150.5 113.0h0M149.0 112.4h0M148.9 112.2h0M148.7 113.2h0M149.0 112.5h0M148.0 112.6h0M150.4 112.9h0M150.7 112.3h0M149.1 112.0h0M150.6 112.0h0M148.2 112.8h0M150.6 112.5h0M151.1 111.2h0M149.8 113.3h0M151.1 112.5h0M150.1 112.1h0M149.9 112.6h0M149.0 112.3h0M147.3 112.5h0M147.6 112.2h0M150.5 111.9h0M147.8 112.8h0M149.9 112.5h0M147.7 112.7h0M150.2 112.9h0M151.0 112.7h0M149.6 113.3h0M147.2 112.2h0M150.1 111.6h0M149.0 111.6h0M150.7 111.9h0M147.7 113.2h0M148.2 111.7h0M150.9 113.1h0M150.5 112.7h0M150.8 111.5h0M149.2 113.3h0M149.9 112.1h0M150.9 112.5h0M149.8 112.7h0M147.4 113.2h0M147.7 112.4h0M147.0 112.9h0M147.5 112.0h0M147.1 111.9h0M148.6 113.5h0M149.6 113.0h0M150.6 112.8h0M148.7 113.4h0M147.7 113.3h0M150.8 112.6h0M150.9 112.8h0M151.1 113.7h0M147.1 113.0h0M149.5 112.3h0M149.7 113.4h0M149.3 113.2h0M147.8 111.7h0M150.9 111.9h0M149.3 113.6h0M147.2 113.5h0M148.5 112.4h0M150.1 113.4h0M147.9 112.8h0M150.3 112.9h0M147.9 112.3h0M148.8 114.2h0M148.3 114.0h0M147.6 113.4h0M150.7 112.0h0M148.5 112.7h0M150.2 113.7h0M150.8 112.4h0M148.2 112.2h0M147.0 112.8h0M149.2 112.9h0M148.0 112.4h0M150.7 111.9h0M147.7 112.6h0M150.1 112.3h0M147.1 112.7h0M148.2 112.9h0M147.9 113.2h0M150.6 112.5h0M149.5 112.8h0M149.8 112.8h0M147.4 112.1h0M148.3 112.4h0M150.8 112.1h0M149.6 113.6h0M150.2 112.3h0M149.1 113.0h0M147.9 113.1h0M150.9 113.2h0M148.1 111.9h0M147.7 112.2h0M149.8 113.1h0M147.4 113.3h0M150.2 112.6h0M150.0 112.9h0M148.6 111.7h0M149.2 113.5h0M149.1 113.8h0M147.3 112.8h0M147.4 112.6h0M148.5 112.6h0M147.1 112.2h0M147.8 111.4h0M148.6 112.9h0M149.7 113.0h0M149.2 113.7h0M147.8 112.5h0M150.2 112.1h0M150.4 112.8h0M149.8 111.9h0M149.9 112.6h0M148.1 111.7h0M150.5 112.5h0M149.5 113.3h0M147.8 113.0h0M149.9 113.6h0M149.7 113.7h0M149.4 112.5h0M149.0 112.1h0M150.2 111.5h0M150.1 112.7h0M149.5 112.8h0M147.3 113.3h0M148.0 112.1h0M151.1 112.4h0M148.7 113.0h0M149.7 112.2h0M147.6 112.3h0M149.4 113.8h0M149.6 112.2h0M150.2 112.6h0M151.1 112.9h0M148.9 112.9h0M148.3 111.6h0M147.7 111.7h0M148.4 111.5h0M148.9 113.3h0M151.1 113.0h0M149.2 112.1h0M149.9 113.4h0M150.1 113.1h0M147.1 113.7h0M148.0 111.5h0M149.3 112.0h0M147.3 112.4h0M147.7 112.5h0M150.2 112.9h0M149.9 112.9h0M147.6 112.3h0M147.5 113.1h0M150.6 111.9h0M149.0 113.0h0M148.4 113.2h0M150.0 111.9h0M149.8 112.7h0M151.2 112.3h0M147.5 112.9h0M150.3 114.0h0M149.0 112.3h0M148.1 113.5h0M149.1 112.0h0M147.1 113.6h0M147.5 113.8h0M147.5 112.5h0M149.9 112.4h0M150.0 112.6h0M148.0 113.4h0M148.3 112.1h0" stroke="#9a9a9a" stroke-width="1.40" stroke-linecap="round" stroke-opacity="0.35" fill="none"/>
<path d="M171.0 106.7h0M171.9 110.9h0M169.2 102.7h0M171.1 102.4h0M169.6 92.5h0M170.6 97.3h0M170.3 107.6h0M170.9 106.0h0M170.9 110.0h0M172.3 96.1h0M171.1 102.8h0M170.0 106.5h0M171.8 110.6h0M169.2 107.0h0M171.7 109.1h0M170.9 99.4h0M169.6 103.7h0M171.6 107.0h0M169.0 103.1h0M168.6 90.0h0M169.6 94.5h0M170.6 91.2h0M171.1 108.9h0M169.8 111.6h0M170.9 103.8h0M172.6 97.4h0M172.7 94.0h0M171.5 108.6h0M169.7 91.2h0M170.5 105.7h0M171.9 85.1h0M172.2 104.7h0M172.5 90.4h0M170.1 107.0h0M169.9 109.0h0M169.9 108.5h0M171.8 114.7h0M172.5 108.6h0M170.8 109.2h0M170.3 96.0h0M171.3 114.8h0M170.2 109.5h0M170.9 90.9h0M169.3 102.8h0M168.9 103.4h0M170.2 89.5h0M169.6 112.1h0M169.1 107.7h0M172.5 107.0h0M171.4 98.3h0M170.1 91.1h0M172.6 104.6h0M168.9 94.2h0M169.9 96.7h0M172.2 84.6h0M172.5 105.3h0M171.8 101.7h0M169.3 100.1h0M170.9 111.0h0M168.8 89.8h0M168.7 107.9h0M172.1 112.4h0M168.5 103.4h0M168.9 112.7h0M168.9 114.1h0M171.5 97.9h0M171.1 108.1h0M169.4 96.4h0M170.2 100.5h0M172.5 106.3h0M169.4 95.7h0M168.8 89.6h0M171.2 112.8h0M168.9 100.4h0M170.8 108.8h0M169.5 87.9h0M168.6 101.4h0M171.2 103.9h0M171.6 108.8h0M169.8 106.1h0M169.1 96.9h0M172.6 108.8h0M169.5 109.0h0M169.5 97.1h0M170.0 108.5h0M169.5 87.7h0M169.5 113.5h0M172.4 98.1h0M168.8 114.0h0M172.0 113.9h0M170.7 104.8h0M168.6 100.1h0M169.1 108.4h0M171.2 112.8h0M170.8 99.3h0M169.5 85.7h0M169.7 109.7h0M172.4 103.4h0M171.6 104.9h0M171.3 114.3h0M172.4 103.2h0M169.4 90.4h0M169.9 106.4h0M172.0 105.4h0M170.3 104.1h0M170.4 97.3h0M171.9 96.2h0M172.7 91.1h0M172.2 109.0h0M171.7 98.2h0M170.4 96.4h0M171.4 99.9h0M169.4 112.8h0M169.5 98.9h0M169.3 101.6h0M171.3 92.1h0M172.5 100.5h0M171.6 109.5h0M169.6 100.5h0M171.2 101.2h0M169.9 109.7h0M171.9 95.8h0M170.5 114.8h0M169.5 113.6h0M169.7 100.4h0M168.8 113.2h0M170.0 89.1h0M169.9 100.8h0M170.4 110.1h0M171.2 101.1h0M172.4 109.1h0M171.9 96.1h0M170.9 108.5h0M170.0 104.2h0M169.2 114.5h0M171.0 106.3h0M168.7 89.6h0M168.7 112.5h0M171.2 105.9h0M169.2 95.6h0M172.0 85.7h0M171.3 106.1h0M170.7 97.3h0M172.4 112.4h0M169.0 105.2h0M169.8 109.9h0M170.6 92.1h0M172.5 89.9h0M168.8 104.3h0M171.0 111.7h0M172.3 114.2h0M169.1 104.6h0M171.4 111.0h0M171.4 113.9h0M170.0 95.1h0M170.7 110.1h0M172.4 102.8h0M170.4 88.9h0M170.4 95.5h0M170.8 114.5h0M168.6 106.8h0M171.9 101.5h0M168.7 110.5h0M172.6 91.7h0M172.6 108.7h0M171.9 94.7h0M172.2 90.8h0M171.1 109.2h0M169.8 96.1h0M171.0 111.4h0M171.3 95.5h0M169.1 96.8h0M171.7 102.8h0M169.8 88.3h0M170.6 93.0h0M169.6 113.1h0M169.7 109.1h0M172.2 94.5h0M171.7 106.5h0M168.7 95.0h0M171.7 89.7h0M172.4 109.1h0M171.4 111.4h0M171.4 97.7h0M169.6 89.7h0M171.4 96.5h0M170.1 101.9h0M172.4 110.6h0M171.4 89.7h0M169.8 98.1h0M172.2 86.8h0M171.7 98.4h0M169.3 96.6h0M169.4 99.6h0M168.5 109.2h0M171.7 114.8h0M168.8 85.8h0M169.6 98.0h0M171.6 106.7h0M169.8 98.2h0M169.7 110.7h0M168.8 114.3h0M168.7 110.9h0M170.9 110.1h0M169.1 87.7h0M172.5 114.2h0M168.6 102.5h0M169.8 94.3h0M169.2 102.8h0M172.3 111.4h0M171.6 103.7h0M168.9 96.2h0M168.7 102.0h0M168.8 114.3h0M171.6 112.1h0M171.6 106.7h0M171.1 85.3h0M170.5 93.9h0M170.4 101.0h0M171.0 112.2h0M168.9 102.9h0M171.8 95.5h0M171.7 100.4h0M171.3 111.0h0M169.5 102.7h0M169.4 93.5h0M172.6 94.3h0M172.5 100.8h0M171.6 107.1h0M171.8 106.8h0M170.4 108.0h0M172.2 87.0h0M171.4 102.8h0M170.3 93.3h0M171.3 113.7h0M168.8 109.5h0M170.1 98.8h0M172.0 100.7h0M170.5 109.3h0M170.8 104.5h0M170.8 107.7h0M172.4 115.1h0M169.3 111.4h0M171.3 99.9h0M170.4 105.5h0M169.5 104.6h0M168.7 96.1h0M171.0 104.8h0M169.2 114.4h0M170.9 113.9h0M170.3 111.6h0M170.2 89.1h0M172.2 102.1h0M168.9 109.0h0M170.8 106.3h0M170.2 103.8h0M169.1 113.9h0M170.1 113.0h0M172.1 111.9h0M169.3 103.9h0M171.3 88.9h0M169.6 97.6h0M170.7 100.4h0M170.8 111.7h0M168.8 109.0h0M171.9 113.1h0M170.1 89.9h0M169.4 106.8h0M169.3 112.8h0M172.6 91.4h0M172.4 112.6h0M170.4 97.9h0M169.6 112.4h0M171.4 113.0h0M168.7 106.1h0M172.1 108.5h0M168.5 93.4h0M168.7 98.9h0M169.9 99.9h0M170.4 99.3h0M168.5 107.1h0M169.7 109.4h0M172.6 94.3h0M171.7 113.7h0M168.7 97.1h0M172.2 107.6h0M170.4 98.4h0M172.6 91.9h0M169.8 101.9h0M169.8 92.0h0M171.3 91.5h0M170.5 109.4h0M169.6 111.2h0M170.7 115.1h0M171.2 105.6h0M169.8 114.5h0M171.9 112.5h0M171.6 111.3h0M171.6 89.2h0M171.2 106.5h0" stroke="#f0505a" stroke-width="1.00" stroke-linecap="round" stroke-opacity="0.45" fill="none"/>
<path d="M193.6 95.3h0M190.3 94.5h0M192.6 112.1h0M190.6 104.6h0M192.1 90.4h0M191.4 101.5h0M191.1 88.2h0M190.0 91.4h0M192.4 87.1h0M191.8 93.9h0M192.8 100.0h0M190.7 94.8h0M194.1 99.3h0M190.0 87.2h0M190.7 86.2h0M192.6 94.0h0M190.5 89.1h0M191.0 97.8h0M192.0 93.7h0M193.1 97.1h0M193.6 102.8h0M191.3 95.5h0M192.7 89.7h0M190.0 103.8h0M193.7 108.8h0M192.7 106.4h0M193.7 106.0h0M190.8 98.2h0M192.0 91.0h0M193.0 88.4h0M190.0 96.3h0M193.5 96.9h0M192.9 83.7h0M193.2 91.5h0M190.6 94.6h0M193.2 104.6h0M192.3 90.1h0M190.6 86.4h0M190.5 89.7h0M193.5 84.6h0M191.6 97.4h0M191.1 92.7h0M191.5 99.6h0M192.8 97.8h0M190.5 98.6h0M190.6 100.8h0M192.7 95.8h0M193.7 91.4h0M192.7 90.9h0M193.9 88.1h0M191.1 90.0h0M191.4 89.9h0M191.5 94.6h0M191.4 85.9h0M191.1 106.1h0M193.3 88.9h0M191.1 89.9h0M191.7 104.8h0M191.9 90.6h0M194.1 84.3h0M191.3 96.7h0M192.8 92.0h0M191.3 105.7h0M193.3 99.8h0M191.6 99.9h0M190.0 85.3h0M192.1 107.1h0M191.3 93.0h0M191.0 91.4h0M191.2 94.0h0M189.9 101.7h0M193.0 88.7h0M192.2 88.8h0M192.6 85.4h0M192.3 100.4h0M191.5 88.9h0M191.9 92.2h0M191.9 88.1h0M193.8 90.9h0M191.4 91.7h0M190.6 87.5h0M190.3 96.8h0M191.3 95.2h0M192.3 101.0h0M192.4 85.1h0M193.0 93.1h0M192.7 93.1h0M190.3 111.6h0M191.6 109.8h0M191.5 93.7h0M190.4 91.3h0M192.4 83.0h0M193.2 96.3h0M190.1 93.9h0M192.2 104.2h0M190.4 94.9h0M193.2 88.4h0M192.3 101.6h0M190.2 86.2h0M192.1 91.5h0M190.9 106.2h0M190.8 91.4h0M192.7 83.5h0M191.6 85.1h0M193.8 102.0h0M193.8 91.7h0M193.5 98.0h0M191.6 92.5h0M193.7 90.9h0M190.2 84.9h0M193.2 90.0h0M191.4 97.9h0M193.6 96.9h0M190.0 92.9h0M192.3 84.8h0M190.2 84.2h0M191.2 107.5h0M192.3 90.0h0M190.5 107.1h0M192.8 108.1h0M192.1 87.7h0M190.9 102.6h0M192.2 88.2h0M191.8 86.0h0M190.1 87.5h0M192.9 93.9h0M192.9 94.0h0M193.7 106.0h0M193.9 83.2h0M191.5 89.8h0M192.6 105.4h0M192.5 102.7h0M190.1 101.4h0M193.0 89.5h0M191.1 106.6h0M191.7 86.6h0M192.5 81.9h0M192.0 91.4h0M191.1 87.9h0M193.6 111.2h0M190.3 95.6h0M192.5 110.2h0M190.7 94.8h0M193.8 98.0h0M193.9 82.8h0M192.9 82.8h0M193.6 96.2h0M193.1 109.9h0M192.7 94.2h0M193.1 98.4h0M193.8 85.1h0M190.8 107.5h0M193.0 111.4h0M190.7 109.9h0M191.9 94.8h0M191.4 103.6h0M192.6 92.4h0M192.6 109.0h0M193.7 108.0h0M193.5 97.7h0M190.2 92.4h0M190.7 94.1h0M190.1 89.6h0M192.9 97.9h0M191.4 102.7h0M194.0 102.3h0M190.8 101.1h0M193.9 98.8h0M193.1 90.4h0M193.1 83.9h0M192.5 94.9h0M193.6 82.8h0M190.9 98.9h0M193.6 86.9h0M193.6 105.9h0M192.5 105.3h0M192.7 96.3h0M190.9 93.4h0M192.0 96.4h0M192.4 97.9h0M191.3 89.1h0M190.1 103.6h0M193.9 96.3h0M193.3 94.3h0M191.5 97.7h0M192.2 88.3h0M192.4 111.2h0M193.9 90.3h0M192.3 88.4h0M193.0 87.7h0M193.3 93.9h0M190.3 89.9h0M192.4 90.2h0M193.8 84.7h0M193.4 102.5h0M193.8 99.4h0M190.6 87.0h0M193.2 81.6h0M191.1 93.6h0M193.6 101.9h0M193.2 93.7h0M191.5 90.4h0M192.4 91.5h0M191.9 97.0h0M193.9 97.4h0M192.3 87.7h0M190.3 95.4h0M192.2 107.6h0M190.0 92.7h0M190.5 99.5h0M192.0 90.0h0M191.9 85.5h0M190.2 91.5h0M191.4 96.1h0M191.1 92.5h0M191.1 84.3h0M191.8 104.0h0M190.1 89.9h0M190.1 85.4h0M190.9 84.6h0M192.9 83.4h0M193.9 91.1h0M193.1 87.6h0M190.2 111.8h0M193.4 95.5h0M193.4 95.9h0M193.5 87.9h0M193.0 86.7h0M191.0 106.9h0M192.0 90.3h0M191.8 96.8h0M190.1 86.1h0M192.2 103.2h0M191.0 91.3h0M193.9 97.8h0M192.7 85.3h0M193.3 111.8h0M190.1 95.6h0M192.9 90.0h0M193.3 93.5h0M191.9 108.3h0M191.0 98.1h0M192.0 84.7h0M192.2 81.6h0M191.7 108.8h0M191.3 86.4h0M192.7 88.9h0M193.7 85.2h0M191.1 106.4h0M193.6 84.1h0M190.2 90.1h0M192.8 95.2h0M191.4 93.4h0M192.1 88.4h0M191.4 109.2h0M190.3 81.5h0M190.6 82.4h0M194.1 88.7h0M191.7 103.7h0M193.9 106.9h0M192.1 97.9h0M193.7 99.6h0M191.8 107.7h0M194.1 94.8h0M191.9 95.5h0M191.0 93.2h0M190.7 98.6h0M190.2 91.5h0M190.4 98.7h0M192.8 93.0h0M191.4 87.5h0M193.6 90.0h0M190.8 101.4h0M193.8 101.0h0M190.7 96.7h0M191.1 90.8h0M191.4 85.7h0M191.0 97.6h0M191.7 84.3h0M193.3 102.8h0M190.2 97.1h0M191.0 83.1h0M190.1 87.2h0M193.2 83.8h0M190.4 105.7h0M192.1 84.5h0M193.6 92.1h0M191.3 92.1h0M190.4 107.6h0M191.0 88.5h0M193.9 106.1h0M190.3 85.0h0M193.6 102.9h0M190.4 90.9h0M190.6 92.4h0M193.2 82.2h0M192.6 95.3h0M191.3 88.4h0M192.9 97.7h0M190.5 110.0h0" stroke="#a45cf5" stroke-width="1.00" stroke-linecap="round" stroke-opacity="0.45" fill="none"/>
<path d="M211.8 83.7h0M214.5 82.3h0M213.5 81.4h0M214.0 77.3h0M212.1 85.4h0M213.1 104.2h0M214.1 110.7h0M213.2 90.0h0M214.4 92.9h0M211.7 80.4h0M212.9 91.3h0M211.8 89.2h0M214.5 78.6h0M213.0 102.1h0M214.5 107.4h0M214.6 93.9h0M211.5 85.6h0M214.0 102.5h0M214.8 92.7h0M215.2 92.4h0M211.7 109.3h0M211.8 99.8h0M213.2 98.2h0M214.5 85.1h0M211.8 100.0h0M215.6 78.2h0M214.4 100.9h0M211.4 99.7h0M214.5 99.5h0M213.2 80.8h0M212.1 93.0h0M214.2 100.4h0M214.4 84.5h0M214.0 97.4h0M212.4 80.6h0M212.1 98.8h0M211.6 89.0h0M212.1 81.1h0M212.9 86.2h0M212.8 104.8h0M211.7 106.8h0M214.9 86.7h0M212.2 82.7h0M211.7 111.3h0M212.3 100.9h0M213.2 98.8h0M214.0 88.9h0M211.7 104.1h0M212.0 89.0h0M211.5 99.4h0M213.0 82.0h0M215.6 83.5h0M214.7 86.5h0M215.0 93.4h0M215.2 94.5h0M212.3 94.0h0M214.1 91.6h0M213.1 80.8h0M212.9 88.0h0M214.6 96.2h0M213.7 107.6h0M214.0 93.3h0M212.5 87.7h0M215.3 84.3h0M214.1 78.7h0M214.0 106.2h0M214.6 86.6h0M215.2 109.9h0M212.1 104.2h0M212.5 88.5h0M215.5 92.4h0M214.2 91.1h0M215.1 107.9h0M212.8 93.5h0M215.5 77.8h0M213.2 88.3h0M214.8 101.2h0M215.2 83.4h0M213.5 103.6h0M213.1 87.9h0M213.5 91.8h0M211.9 97.1h0M211.7 80.6h0M215.3 96.8h0M214.1 80.4h0M211.7 88.4h0M213.9 97.9h0M212.4 95.4h0M214.9 91.3h0M212.9 89.4h0M211.4 90.3h0M214.2 86.6h0M215.6 89.1h0M214.5 105.3h0M215.4 82.8h0M211.8 105.3h0M212.6 87.5h0M214.6 102.7h0M213.3 94.9h0M212.1 98.6h0M212.8 94.8h0M212.6 102.2h0M214.3 91.3h0M214.6 102.8h0M214.5 88.5h0M214.2 87.8h0M214.5 109.6h0M215.3 88.5h0M212.5 95.2h0M212.5 85.4h0M215.5 80.0h0M215.1 97.9h0M214.2 88.6h0M214.7 110.4h0M214.1 84.7h0M212.7 104.2h0M213.7 94.7h0M212.4 81.3h0M211.8 79.2h0M212.8 105.0h0M214.8 108.6h0M212.0 95.8h0M211.6 102.1h0M212.4 96.6h0M214.7 90.4h0M215.1 82.6h0M212.5 84.7h0M215.4 105.7h0M213.4 83.4h0M214.3 95.5h0M214.2 100.3h0M213.2 90.4h0M214.9 80.1h0M215.1 78.4h0M213.4 90.0h0M212.6 84.9h0M215.3 101.9h0M214.3 101.8h0M212.9 91.0h0M212.1 89.7h0M213.0 88.7h0M213.2 84.9h0M214.8 90.0h0M214.3 88.0h0M213.5 109.7h0M215.2 108.4h0M213.8 85.6h0M215.0 87.8h0M211.6 96.6h0M211.7 99.7h0M215.0 91.5h0M214.5 78.5h0M212.5 77.2h0M211.9 98.4h0M211.7 102.8h0M212.7 93.4h0M215.1 109.3h0M212.2 90.9h0M212.4 102.3h0M214.9 90.2h0M212.2 97.1h0M212.4 97.9h0M214.5 86.1h0M215.0 97.0h0M215.3 105.1h0M211.6 76.9h0M212.8 111.6h0M213.9 98.9h0M212.8 102.2h0M214.5 94.3h0M212.3 82.9h0M213.9 76.2h0M212.1 111.5h0M212.0 102.5h0M214.7 102.7h0M214.0 96.1h0M213.8 81.4h0M213.0 110.5h0M214.2 102.5h0M215.4 108.5h0M212.9 92.4h0M211.6 81.7h0M212.5 90.5h0M214.7 93.8h0M212.6 106.4h0M214.5 95.0h0M212.2 97.2h0M213.9 79.8h0M212.9 94.5h0M213.6 100.2h0M212.9 95.7h0M213.9 92.8h0M214.5 80.4h0M214.3 90.4h0M213.2 92.7h0M211.5 87.8h0M214.8 82.1h0M211.8 83.7h0M213.0 85.0h0M214.7 108.8h0M215.5 87.8h0M214.4 85.8h0M211.9 94.9h0M215.4 100.2h0M211.6 91.3h0M211.5 104.4h0M214.5 78.5h0M215.2 100.1h0M214.1 85.8h0M215.1 77.8h0M214.1 88.3h0M211.7 103.3h0M214.0 88.0h0M214.6 94.5h0M213.4 84.4h0M214.4 103.6h0M213.3 81.9h0M211.8 82.8h0M215.0 103.7h0M212.2 104.2h0M212.2 85.9h0M211.9 102.8h0M212.8 94.4h0M213.1 90.9h0M212.2 88.0h0M212.1 85.0h0M213.3 98.8h0M211.4 79.8h0M213.4 109.8h0M211.8 109.7h0M211.9 95.9h0M211.9 86.0h0M214.9 96.6h0M214.8 81.4h0M215.5 95.8h0M214.8 93.3h0M213.5 111.0h0M213.0 103.7h0M213.8 93.2h0M214.0 106.8h0M215.5 85.2h0M212.8 101.2h0M215.2 84.7h0M215.4 101.0h0M215.4 94.8h0M214.0 89.9h0M214.0 96.2h0M215.6 93.0h0M213.1 89.8h0M214.6 88.9h0M211.7 109.9h0M212.4 107.3h0M213.5 89.7h0M214.5 78.2h0M212.1 102.5h0M214.8 85.4h0M213.8 105.7h0M211.9 109.5h0M211.5 85.7h0M213.0 90.3h0M214.8 91.0h0M215.5 97.9h0M214.6 92.3h0M212.3 88.2h0M215.1 85.8h0M212.0 91.3h0M213.0 110.6h0M214.2 107.4h0M212.8 101.3h0M212.8 98.7h0M213.2 101.1h0M215.2 101.9h0M213.3 80.9h0M211.7 85.7h0M212.9 101.9h0M213.8 91.9h0M213.6 97.8h0M215.4 99.4h0M213.5 92.2h0M214.7 85.3h0M214.5 108.7h0M213.3 85.7h0M213.1 95.2h0M213.3 95.6h0M211.9 87.4h0M211.7 94.1h0M211.9 96.5h0M211.9 85.2h0M211.7 78.2h0M213.0 99.7h0M212.0 85.9h0M215.5 100.5h0M213.1 111.9h0M211.4 94.8h0M214.1 108.9h0M214.4 102.6h0M215.4 95.4h0M212.4 79.5h0M212.7 104.9h0M214.5 89.3h0" stroke="#5a6cf5" stroke-width="1.00" stroke-linecap="round" stroke-opacity="0.45" fill="none"/>
<path d="M143.3 112.5h11.6" stroke="#b8b8b8" stroke-width="1"/>
<path d="M164.8 102.5h11.6" stroke="#4a4a4a" stroke-width="1"/>
<path d="M186.2 94.5h11.6" stroke="#b8b8b8" stroke-width="1"/>
<path d="M207.7 94.5h11.6" stroke="#4a4a4a" stroke-width="1"/>
<rect x="138.4" y="36.4" width="85.8" height="78.9" fill="none" stroke="#8a8a8a" stroke-width="0.9"/>
<path d="M138.4 115.3h-1.6M138.4 96.4h-1.6M138.4 77.5h-1.6M138.4 58.6h-1.6M138.4 39.7h-1.6M138.4 105.8h-1M138.4 86.9h-1M138.4 68.0h-1M138.4 49.1h-1" stroke="#8a8a8a" stroke-width="0.7" fill="none"/>
<path d="M149.1 115.3v1.5M170.6 115.3v1.5M192.0 115.3v1.5M213.5 115.3v1.5" stroke="#8a8a8a" stroke-width="0.7"/>
<text x="149.1" y="126.8" font-size="8.5" text-anchor="middle" font-weight="normal" fill="#111" stroke="#111" stroke-width="0.18" >1</text>
<text x="170.6" y="126.8" font-size="8.5" text-anchor="middle" font-weight="normal" fill="#111" stroke="#111" stroke-width="0.18" >2</text>
<text x="192" y="126.8" font-size="8.5" text-anchor="middle" font-weight="normal" fill="#111" stroke="#111" stroke-width="0.18" >3</text>
<text x="213.5" y="126.8" font-size="8.5" text-anchor="middle" font-weight="normal" fill="#111" stroke="#111" stroke-width="0.18" >4</text>
<text x="182.1" y="136.3" font-size="8.8" text-anchor="middle" font-weight="normal" fill="#111" stroke="#111" stroke-width="0.18" >Case</text>
<text x="181.3" y="31.6" font-size="8.5" text-anchor="middle" font-weight="normal" fill="#111" stroke="#111" stroke-width="0.18" >Without pretreatment</text>
<rect x="141.8" y="42.8" width="3" height="3" fill="#c4c4c4"/>
<text x="146.9" y="45.9" font-size="4.5" text-anchor="start" font-weight="normal" fill="#222" stroke="#222" stroke-width="0.04" text-rendering="optimizeLegibility">Case 1-SODIS</text>
<circle cx="143.3" cy="50.0" r="1.6" fill="#f05a68"/>
<text x="146.9" y="51.6" font-size="4.5" text-anchor="start" font-weight="normal" fill="#222" stroke="#222" stroke-width="0.04" text-rendering="optimizeLegibility">Case 2-SOPAS + SODIS</text>
<path d="M141.5 56.9L143.3 53.8L145.1 56.9Z" fill="#b888f8"/>
<text x="146.9" y="57.1" font-size="4.5" text-anchor="start" font-weight="normal" fill="#222" stroke="#222" stroke-width="0.04" text-rendering="optimizeLegibility">Case 3-Photosensitization + SODIS</text>
<path d="M141.5 59.6L143.3 62.7L145.1 59.6Z" fill="#8c9cf8"/>
<text x="146.9" y="62.6" font-size="4.5" text-anchor="start" font-weight="normal" fill="#222" stroke="#222" stroke-width="0.04" text-rendering="optimizeLegibility">Case 4-Combined</text>
<path d="M268.1 96.4H354.2" stroke="#333" stroke-width="0.55" stroke-dasharray="0.8 0.9"/>
<path d="M277.9 112.7h0M278.6 113.6h0M277.7 112.5h0M280.1 112.5h0M278.2 112.2h0M277.4 112.8h0M280.5 113.4h0M278.2 112.7h0M280.8 113.2h0M278.6 111.6h0M279.5 113.1h0M280.1 113.1h0M278.9 112.7h0M280.7 113.4h0M280.2 112.9h0M280.5 112.7h0M279.0 113.0h0M277.3 112.8h0M277.5 111.9h0M277.4 112.4h0M279.0 113.5h0M280.8 112.9h0M279.1 112.2h0M278.6 113.1h0M277.2 112.6h0M278.3 112.7h0M277.5 112.3h0M278.7 112.8h0M278.7 112.7h0M280.7 113.2h0M278.4 112.4h0M280.5 113.2h0M276.9 111.6h0M278.2 112.7h0M279.8 112.8h0M278.6 112.2h0M277.1 112.7h0M278.3 112.6h0M279.1 112.7h0M280.8 113.1h0M277.8 113.2h0M277.1 113.1h0M279.9 112.0h0M279.3 113.0h0M278.2 112.9h0M278.4 112.9h0M278.1 112.2h0M279.5 111.4h0M280.4 113.2h0M278.0 112.3h0M280.6 112.6h0M278.5 112.8h0M278.8 112.3h0M277.8 113.4h0M277.1 112.1h0M277.6 112.5h0M277.8 113.3h0M278.6 111.7h0M278.8 112.1h0M280.3 111.9h0M278.3 113.6h0M280.0 112.8h0M277.8 113.0h0M278.8 112.3h0M277.1 111.8h0M280.5 113.8h0M278.2 112.6h0M279.5 112.7h0M279.1 112.0h0M278.8 112.7h0M277.8 113.4h0M280.2 112.8h0M278.7 113.3h0M277.3 113.1h0M277.2 112.6h0M278.9 113.0h0M279.1 112.5h0M277.9 113.6h0M277.7 111.2h0M280.2 111.9h0M279.6 112.2h0M277.4 113.5h0M280.2 114.0h0M277.0 113.2h0M280.3 112.8h0M280.3 111.3h0M277.3 111.8h0M280.9 113.0h0M280.5 111.9h0M277.5 111.9h0M279.5 112.6h0M278.7 111.9h0M277.4 112.4h0M277.6 113.1h0M277.6 113.4h0M279.6 112.7h0M279.2 112.0h0M280.8 113.5h0M278.0 113.7h0M278.8 112.3h0M278.3 114.2h0M278.4 111.5h0M279.2 112.9h0M280.1 112.2h0M279.6 111.5h0M277.2 113.6h0M277.9 113.3h0M279.4 111.3h0M280.0 112.8h0M280.4 112.7h0M278.3 112.5h0M278.7 112.0h0M277.0 111.8h0M278.9 112.6h0M278.0 112.9h0M279.0 112.7h0M279.3 112.5h0M277.5 111.8h0M277.1 112.6h0M279.8 111.5h0M279.8 113.2h0M280.9 112.3h0M278.9 111.6h0M277.0 111.9h0M277.1 112.4h0M280.8 113.2h0M279.8 113.1h0M277.5 112.8h0M278.5 112.5h0M277.6 112.8h0M280.0 113.6h0M279.8 113.1h0M280.7 112.3h0M279.5 112.1h0M278.5 113.5h0M280.6 112.9h0M278.4 113.7h0M279.9 113.0h0M277.7 111.1h0M277.9 112.6h0M279.3 112.9h0M278.0 113.0h0M280.4 113.4h0M278.9 113.8h0M280.7 112.7h0M279.3 112.8h0M279.2 111.7h0M278.9 113.7h0M277.6 112.4h0M278.2 111.8h0M280.5 113.9h0M279.6 112.2h0M280.0 113.7h0M278.5 112.3h0M277.6 111.7h0M280.1 112.7h0M278.5 112.5h0M280.0 113.1h0M277.0 112.5h0M278.2 112.0h0M279.5 112.8h0M280.7 112.7h0M277.6 112.4h0M280.9 112.1h0M279.6 113.7h0M277.6 112.6h0M276.8 113.1h0M280.7 112.3h0M279.6 112.0h0M279.8 112.5h0M278.5 111.9h0M277.1 113.3h0M278.8 112.9h0M279.5 113.3h0M277.9 112.6h0M280.8 112.6h0M280.0 112.8h0M276.8 113.4h0M278.0 112.7h0M280.5 112.9h0M279.9 112.3h0M280.1 112.8h0M277.6 111.9h0M280.5 112.5h0M279.5 113.8h0M278.5 112.8h0M279.6 113.5h0M277.8 112.1h0M280.5 111.8h0M277.1 112.7h0M277.9 112.4h0M279.8 113.5h0M278.5 114.0h0M280.5 113.0h0M280.2 112.8h0M279.6 113.6h0M278.3 112.6h0M278.6 112.5h0M278.2 112.3h0M278.1 111.7h0M276.8 112.2h0M277.8 112.9h0M279.7 112.6h0M279.0 112.3h0M278.2 113.3h0M278.1 111.8h0M277.5 112.1h0M277.1 112.8h0M277.4 113.0h0M279.4 111.1h0M280.7 112.1h0M279.6 112.1h0M278.2 111.5h0M279.1 112.0h0M277.3 112.5h0M277.1 112.2h0M277.0 113.2h0M279.1 112.2h0M279.2 113.6h0M277.4 112.4h0M280.7 112.3h0M277.4 113.6h0M278.9 111.5h0M279.5 113.4h0M276.9 112.0h0M277.9 113.0h0M279.0 112.5h0M279.6 113.1h0M279.6 111.1h0M279.5 112.0h0M277.1 111.5h0M277.0 112.2h0M280.4 112.2h0M277.4 112.6h0M278.3 112.8h0M280.3 112.3h0M276.9 112.5h0M280.4 112.7h0M279.5 113.5h0M278.4 112.8h0M277.8 112.3h0M279.0 112.9h0M280.2 112.4h0M277.6 112.7h0M277.8 113.3h0M278.9 113.2h0M280.2 113.1h0M278.5 112.8h0M278.5 112.8h0M280.8 111.9h0M279.0 113.3h0M280.1 113.9h0M279.6 112.2h0M279.1 112.9h0M278.6 112.7h0M279.5 111.1h0M280.3 111.7h0M277.4 112.3h0M277.9 112.1h0M277.6 112.6h0M280.2 112.0h0M278.1 113.0h0M278.6 113.1h0M278.9 112.9h0M280.8 111.7h0M276.8 111.7h0M277.5 113.0h0M280.4 111.9h0M278.7 112.7h0M278.3 112.0h0M280.7 112.8h0M277.2 112.0h0M276.8 112.7h0M280.6 112.8h0M280.2 112.6h0M279.0 112.5h0M277.9 113.0h0M280.0 113.5h0M277.4 111.6h0M278.6 112.9h0M277.5 113.8h0M278.5 114.0h0M276.8 114.2h0M278.7 113.0h0M278.7 111.8h0M280.9 113.6h0M278.4 112.8h0M279.0 113.8h0M277.4 111.9h0M277.9 112.4h0M277.7 112.4h0M280.9 111.8h0M277.3 111.6h0M279.5 112.0h0M280.3 113.0h0M280.7 113.5h0M279.7 113.3h0M277.5 113.7h0M280.6 111.5h0M278.9 112.7h0" stroke="#9a9a9a" stroke-width="1.40" stroke-linecap="round" stroke-opacity="0.35" fill="none"/>
<path d="M298.3 90.0h0M301.6 100.6h0M299.8 82.1h0M299.8 105.5h0M300.3 100.1h0M299.1 78.5h0M299.2 106.6h0M301.3 96.0h0M302.1 111.6h0M298.9 107.7h0M299.4 94.5h0M302.4 79.0h0M301.2 101.5h0M302.1 79.3h0M299.9 78.9h0M301.5 110.7h0M301.3 78.7h0M301.4 88.6h0M300.3 88.4h0M299.5 110.4h0M299.8 76.3h0M298.9 99.2h0M298.6 106.2h0M299.9 112.4h0M301.9 70.1h0M299.7 106.3h0M300.6 80.9h0M301.7 76.2h0M298.7 97.5h0M299.8 109.5h0M299.8 75.4h0M301.3 76.6h0M302.1 99.5h0M298.3 90.5h0M300.6 82.3h0M298.3 88.3h0M299.6 67.1h0M300.0 74.9h0M299.5 109.4h0M300.0 86.3h0M299.8 68.5h0M300.4 90.3h0M299.3 105.6h0M299.9 97.1h0M299.2 89.3h0M300.1 88.7h0M301.3 109.6h0M298.4 80.1h0M302.5 110.6h0M298.9 89.5h0M301.6 112.9h0M299.5 83.1h0M298.6 102.3h0M301.6 98.1h0M300.7 94.2h0M299.4 103.9h0M299.9 101.9h0M301.9 90.3h0M301.3 105.0h0M299.5 107.7h0M299.3 97.1h0M300.7 87.6h0M298.8 85.8h0M299.2 109.6h0M301.7 72.0h0M301.3 82.6h0M298.4 88.3h0M300.2 99.9h0M300.0 112.3h0M301.4 85.2h0M300.1 99.9h0M299.2 96.0h0M301.8 107.5h0M299.1 112.7h0M301.0 102.3h0M299.5 97.1h0M300.9 82.7h0M299.0 101.1h0M302.0 92.7h0M299.8 87.9h0M301.1 112.2h0M301.4 80.3h0M300.3 103.1h0M300.6 102.4h0M298.8 86.1h0M300.6 86.3h0M300.5 79.7h0M302.0 80.9h0M299.8 94.6h0M298.9 100.5h0M300.0 82.8h0M301.6 109.7h0M298.3 76.6h0M298.4 92.3h0M302.5 94.1h0M300.6 101.2h0M301.3 87.5h0M300.2 105.2h0M299.1 92.3h0M301.1 94.2h0M299.3 83.2h0M300.2 102.9h0M299.2 92.1h0M302.1 92.5h0M299.9 85.5h0M301.2 97.2h0M299.1 86.2h0M300.8 87.5h0M299.5 103.9h0M298.8 75.4h0M299.6 96.2h0M298.6 93.7h0M300.8 76.3h0M300.6 71.6h0M301.9 105.6h0M298.4 91.2h0M300.0 82.2h0M302.4 85.7h0M299.7 97.1h0M298.5 95.4h0M301.6 90.3h0M298.7 71.4h0M301.3 97.7h0M300.5 80.3h0M302.0 103.9h0M300.4 72.3h0M301.1 101.2h0M299.4 91.2h0M302.4 85.6h0M299.2 103.1h0M301.8 78.2h0M301.2 85.4h0M300.3 93.5h0M299.9 95.1h0M298.6 110.3h0M301.6 79.5h0M299.2 89.1h0M302.0 81.0h0M302.0 73.9h0M299.2 83.3h0M299.5 78.0h0M301.3 84.5h0M301.5 80.9h0M298.5 83.8h0M301.8 94.4h0M301.7 110.8h0M300.9 71.7h0M302.0 81.3h0M302.4 95.3h0M299.1 68.0h0M302.2 67.1h0M301.9 88.7h0M300.8 87.6h0M298.8 94.6h0M302.3 85.2h0M301.4 83.2h0M299.8 96.9h0M299.6 88.8h0M302.3 82.6h0M299.3 95.8h0M301.7 70.6h0M300.2 104.3h0M301.2 109.8h0M301.7 76.6h0M298.7 73.4h0M299.4 104.9h0M298.8 86.3h0M300.0 74.5h0M298.9 76.5h0M302.1 85.9h0M301.6 71.7h0M300.7 71.8h0M299.1 67.1h0M299.2 83.8h0M300.8 97.6h0M302.1 78.6h0M302.2 82.3h0M302.2 84.3h0M299.6 97.9h0M301.2 95.6h0M300.5 93.4h0M300.6 91.6h0M301.1 83.1h0M299.5 77.4h0M299.4 107.2h0M300.0 110.2h0M299.3 97.4h0M301.9 89.2h0M299.8 86.2h0M298.4 94.4h0M300.9 83.3h0M302.4 73.7h0M300.6 82.2h0M299.5 95.2h0M302.1 88.1h0M300.9 109.6h0M300.9 95.7h0M300.2 71.7h0M301.5 113.5h0M301.1 88.5h0M300.6 82.0h0M299.7 78.6h0M301.6 84.9h0M302.1 97.8h0M298.7 80.6h0M298.4 98.6h0M298.7 100.4h0M302.0 91.0h0M300.9 103.8h0M300.0 100.9h0M302.4 77.9h0M302.3 96.3h0M300.1 103.7h0M299.8 93.5h0M300.5 79.9h0M300.8 105.5h0M301.8 99.0h0M302.0 90.5h0M299.5 82.8h0M301.9 92.9h0M298.6 100.8h0M299.2 83.4h0M300.1 91.8h0M298.6 95.6h0M299.7 76.5h0M298.4 94.0h0M301.7 68.3h0M301.1 95.7h0M299.4 100.8h0M300.5 88.4h0M299.9 96.5h0M301.7 114.2h0M299.5 74.4h0M299.3 82.4h0M301.5 97.0h0M301.5 109.5h0M301.2 103.8h0M298.6 89.1h0M298.5 110.5h0M302.2 103.5h0M302.4 81.6h0M299.1 84.6h0M300.4 95.2h0M300.2 94.0h0M299.5 82.7h0M298.6 91.9h0M299.4 99.7h0M302.3 75.3h0M300.1 70.6h0M299.2 112.6h0M298.6 68.7h0M301.0 86.6h0M301.8 71.5h0M299.3 72.9h0M301.5 71.1h0M298.4 100.4h0M298.8 107.7h0M301.0 102.1h0M298.7 77.8h0M300.2 70.6h0M300.3 83.3h0M298.4 79.2h0M301.7 66.6h0M301.4 75.8h0M301.6 99.6h0M301.0 95.8h0M299.5 76.5h0M301.2 88.7h0M300.7 79.9h0M300.9 100.2h0M301.4 66.8h0M299.5 85.2h0M302.1 102.4h0M300.2 78.7h0M299.6 87.3h0M300.5 113.4h0M302.4 111.2h0M301.2 103.7h0M298.7 73.1h0M299.4 82.9h0M301.1 109.0h0M302.3 103.5h0M300.6 102.1h0M300.6 91.0h0M298.3 97.2h0M298.9 81.7h0M301.7 106.8h0M299.3 111.6h0M300.5 108.1h0M301.2 95.4h0M300.8 98.7h0M301.5 99.1h0M301.0 89.9h0M299.6 77.8h0M300.7 83.4h0M301.2 97.2h0M298.6 83.8h0M302.3 100.7h0M300.9 109.6h0M302.4 94.9h0" stroke="#f0505a" stroke-width="1.00" stroke-linecap="round" stroke-opacity="0.45" fill="none"/>
<path d="M321.2 64.2h0M322.0 50.0h0M319.8 60.1h0M323.8 69.2h0M321.8 96.2h0M320.5 60.1h0M322.5 58.8h0M322.2 47.0h0M322.8 68.1h0M324.0 88.0h0M321.7 63.1h0M319.8 94.0h0M320.7 72.2h0M321.5 49.6h0M320.9 66.0h0M321.9 43.3h0M322.5 62.8h0M322.0 58.3h0M320.0 48.1h0M319.9 64.5h0M319.9 94.3h0M322.7 43.5h0M321.5 65.6h0M322.1 54.6h0M321.5 84.2h0M322.7 89.6h0M324.0 90.2h0M322.4 74.3h0M320.7 76.1h0M322.9 80.1h0M320.7 57.1h0M322.7 91.2h0M322.2 69.4h0M319.9 59.3h0M320.6 65.6h0M320.8 53.5h0M321.4 91.8h0M323.5 44.5h0M322.8 60.0h0M321.8 79.3h0M321.5 61.6h0M319.9 59.1h0M320.7 70.7h0M323.5 79.8h0M321.4 55.1h0M321.0 74.6h0M323.8 61.2h0M320.7 78.0h0M323.2 51.3h0M321.4 68.2h0M321.3 78.9h0M321.2 80.3h0M320.9 62.7h0M320.9 60.0h0M321.0 44.8h0M321.8 61.4h0M321.7 84.8h0M319.9 47.0h0M321.5 83.2h0M323.3 62.9h0M323.0 61.8h0M320.3 85.4h0M320.7 57.0h0M322.5 80.5h0M322.5 73.9h0M320.0 49.2h0M321.1 87.3h0M322.0 55.8h0M322.7 62.0h0M322.2 62.1h0M322.5 75.3h0M323.5 101.1h0M323.5 83.9h0M320.7 82.7h0M323.5 44.3h0M320.7 76.2h0M319.8 67.3h0M323.1 72.1h0M323.6 84.4h0M320.2 89.5h0M323.0 78.2h0M320.2 66.3h0M323.7 69.7h0M321.8 77.8h0M321.9 67.9h0M323.6 65.5h0M321.1 50.1h0M322.1 79.4h0M320.2 71.8h0M320.6 76.1h0M322.1 56.5h0M323.5 53.1h0M321.4 59.4h0M319.8 70.0h0M320.8 70.1h0M321.9 51.3h0M320.1 63.1h0M320.4 44.4h0M320.8 49.1h0M323.4 60.6h0M321.6 65.1h0M320.4 55.8h0M322.1 49.7h0M322.2 64.9h0M322.4 62.6h0M322.9 61.3h0M322.2 56.1h0M320.0 67.1h0M322.3 80.3h0M322.4 90.1h0M321.9 68.7h0M320.4 65.9h0M320.7 56.9h0M322.4 87.0h0M323.0 82.4h0M320.1 72.7h0M323.0 86.3h0M321.7 90.6h0M322.5 58.2h0M323.1 64.5h0M320.2 78.3h0M322.9 50.7h0M322.9 43.3h0M321.8 52.8h0M320.9 61.9h0M322.2 84.2h0M322.3 48.5h0M321.5 82.8h0M322.0 47.4h0M322.9 67.0h0M323.1 84.5h0M323.8 56.4h0M323.9 47.2h0M319.9 48.0h0M323.6 81.5h0M323.5 46.1h0M324.0 73.6h0M323.1 75.6h0M323.8 51.7h0M323.9 42.3h0M320.4 71.8h0M320.3 54.0h0M322.2 51.0h0M323.7 59.1h0M322.0 85.5h0M321.9 88.3h0M323.4 69.6h0M322.3 66.6h0M323.3 87.7h0M322.3 96.4h0M322.0 90.0h0M321.9 62.4h0M323.1 66.5h0M320.3 53.4h0M321.2 90.1h0M320.2 45.7h0M322.6 75.0h0M321.5 62.1h0M323.6 57.5h0M321.2 43.1h0M323.7 67.3h0M321.1 91.3h0M323.8 42.4h0M323.6 45.1h0M321.0 43.3h0M322.0 53.3h0M320.1 56.4h0M322.4 45.9h0M322.7 88.8h0M321.7 54.4h0M321.6 56.2h0M321.9 74.1h0M323.1 70.4h0M320.7 47.3h0M323.3 49.0h0M322.8 47.6h0M321.5 67.7h0M323.9 74.0h0M322.3 58.6h0M322.0 72.4h0M322.0 75.2h0M321.3 54.2h0M322.0 73.6h0M320.2 74.0h0M322.4 48.4h0M321.2 60.3h0M322.6 87.6h0M322.3 51.1h0M324.0 52.3h0M322.9 45.5h0M319.8 67.8h0M320.3 59.5h0M321.9 65.3h0M322.1 56.0h0M321.8 86.6h0M322.9 66.0h0M323.7 44.9h0M320.1 81.3h0M322.4 80.3h0M321.0 89.7h0M321.5 58.8h0M323.8 69.7h0M320.1 89.6h0M320.7 71.5h0M321.9 50.3h0M323.0 74.5h0M323.8 69.3h0M323.9 92.4h0M323.7 65.5h0M323.1 75.9h0M321.7 86.6h0M321.0 52.1h0M323.4 74.4h0M323.0 46.9h0M322.8 44.1h0M323.1 63.7h0M323.7 63.0h0M322.1 71.6h0M320.9 62.6h0M319.9 56.6h0M320.8 57.1h0M322.6 49.9h0M321.4 57.1h0M320.6 104.8h0M320.4 95.5h0M320.0 66.4h0M322.2 54.8h0M322.6 51.9h0M323.8 64.1h0M323.1 51.4h0M320.5 70.0h0M320.7 76.7h0M323.9 80.9h0M321.0 62.6h0M322.1 70.5h0M323.2 56.9h0M322.5 82.1h0M320.0 80.2h0M321.8 54.9h0M322.0 50.1h0M322.1 53.8h0M320.3 51.1h0M323.9 56.1h0M321.9 49.1h0M322.6 46.1h0M323.0 56.8h0M320.9 46.8h0M319.9 56.0h0M322.4 66.5h0M323.6 83.6h0M323.5 53.7h0M323.5 45.5h0M320.7 70.9h0M323.5 44.2h0M320.1 95.4h0M321.0 53.4h0M323.3 50.9h0M320.2 65.2h0M323.1 77.7h0M323.2 88.2h0M323.6 50.8h0M323.4 106.0h0M322.8 63.1h0M320.5 79.2h0M320.3 65.7h0M320.1 64.0h0M321.1 43.6h0M321.1 84.5h0M324.0 75.9h0M323.4 75.5h0M320.2 41.8h0M321.8 59.9h0M323.2 93.2h0M321.5 79.0h0M322.0 62.6h0M323.5 103.1h0M323.7 54.5h0M320.5 49.6h0M323.3 67.2h0M321.7 67.5h0M319.9 50.5h0M321.1 89.4h0M323.5 58.7h0M320.6 55.0h0M320.5 82.0h0M323.8 57.9h0M321.6 68.5h0M323.6 68.7h0M321.0 56.2h0M320.1 60.9h0M323.7 58.5h0M321.2 49.0h0M323.8 67.1h0M322.6 83.6h0M323.3 74.4h0M321.2 60.7h0M322.8 43.6h0M323.2 56.0h0M322.7 75.8h0M323.7 73.0h0" stroke="#a45cf5" stroke-width="1.00" stroke-linecap="round" stroke-opacity="0.45" fill="none"/>
<path d="M343.7 86.5h0M342.6 77.2h0M341.6 87.7h0M344.1 63.0h0M342.5 82.8h0M344.5 74.8h0M342.6 73.8h0M343.0 82.3h0M345.1 67.9h0M341.8 107.1h0M342.5 107.1h0M344.2 70.0h0M343.1 66.5h0M345.0 86.9h0M341.9 65.4h0M341.4 103.1h0M344.7 60.5h0M342.0 78.4h0M342.5 88.1h0M342.2 105.9h0M343.2 67.9h0M345.1 64.1h0M343.4 64.3h0M344.4 85.1h0M342.0 65.6h0M343.6 66.5h0M342.3 70.8h0M342.3 80.5h0M342.6 73.4h0M343.0 77.8h0M344.4 71.3h0M341.8 90.7h0M342.4 76.3h0M345.4 82.5h0M342.9 63.9h0M341.4 88.0h0M345.0 81.5h0M341.4 64.5h0M342.9 72.6h0M344.3 80.0h0M345.3 60.8h0M345.1 59.4h0M345.3 78.9h0M343.8 89.4h0M345.4 69.7h0M342.3 68.9h0M342.7 71.9h0M344.1 93.9h0M344.0 108.1h0M344.8 101.8h0M341.9 77.1h0M342.9 84.6h0M344.0 84.2h0M341.7 85.7h0M343.5 89.2h0M345.0 73.7h0M341.4 68.9h0M344.8 75.4h0M344.4 82.1h0M343.1 96.9h0M342.2 66.9h0M344.6 78.4h0M342.8 89.8h0M344.0 89.3h0M341.9 109.2h0M344.5 73.2h0M345.2 94.7h0M345.2 71.8h0M345.5 84.7h0M341.6 88.4h0M344.7 63.3h0M342.4 91.9h0M341.8 76.9h0M344.7 74.5h0M345.1 65.6h0M341.6 84.4h0M342.2 60.8h0M343.3 69.3h0M345.0 94.4h0M343.3 79.8h0M341.5 101.2h0M344.4 66.6h0M345.3 65.7h0M342.0 66.3h0M344.8 97.0h0M345.4 72.8h0M343.1 69.8h0M344.8 72.4h0M344.0 76.1h0M345.4 64.8h0M344.2 64.5h0M342.6 82.8h0M344.3 69.1h0M342.7 65.2h0M342.8 91.7h0M341.4 69.8h0M341.7 68.1h0M342.1 83.4h0M344.1 61.2h0M343.5 97.7h0M343.0 60.7h0M343.9 73.1h0M342.7 83.7h0M342.7 72.9h0M343.9 63.8h0M344.5 65.7h0M344.4 84.7h0M343.7 61.5h0M345.4 76.5h0M345.5 81.5h0M345.2 78.8h0M342.6 81.4h0M344.5 72.1h0M341.8 87.9h0M345.5 72.3h0M343.7 103.4h0M341.6 72.8h0M341.9 83.6h0M344.1 90.0h0M344.2 72.7h0M342.9 71.6h0M343.2 97.5h0M344.7 89.4h0M344.6 61.7h0M344.5 98.9h0M342.9 63.0h0M342.8 66.5h0M344.1 66.9h0M341.7 69.6h0M344.2 99.7h0M344.2 71.3h0M344.6 63.0h0M342.4 70.2h0M342.8 92.3h0M342.4 62.9h0M343.2 62.0h0M344.0 93.8h0M343.2 61.9h0M345.0 65.9h0M343.8 78.4h0M344.7 60.8h0M345.4 75.9h0M344.7 75.5h0M342.2 78.0h0M342.8 93.9h0M341.5 65.9h0M343.0 64.2h0M343.2 80.0h0M342.7 76.8h0M342.9 80.6h0M342.2 72.6h0M344.8 62.6h0M343.0 79.8h0M341.4 94.7h0M343.2 72.1h0M342.9 74.3h0M342.1 69.0h0M344.3 71.2h0M343.1 72.6h0M344.6 80.7h0M343.9 78.1h0M345.4 91.0h0M342.8 75.7h0M341.5 83.1h0M342.1 97.4h0M344.5 78.9h0M342.2 65.8h0M343.8 61.0h0M341.8 66.7h0M344.9 70.8h0M343.0 77.5h0M342.6 62.1h0M345.1 63.7h0M344.3 104.7h0M343.9 74.2h0M345.1 66.1h0M344.7 73.1h0M341.4 80.4h0M345.2 65.0h0M342.2 69.7h0M344.4 81.7h0M342.6 78.4h0M342.6 66.1h0M343.1 65.2h0M341.4 63.0h0M344.9 67.7h0M342.5 99.2h0M344.0 68.0h0M341.9 87.3h0M341.7 72.3h0M341.4 104.8h0M343.4 90.1h0M343.1 84.9h0M344.4 67.4h0M343.2 80.7h0M343.5 87.7h0M343.7 65.6h0M341.9 81.6h0M342.9 87.1h0M344.8 93.5h0M345.5 80.8h0M343.4 64.9h0M342.6 70.5h0M344.9 96.0h0M343.6 78.1h0M341.5 88.1h0M342.0 74.0h0M344.0 82.8h0M341.9 73.7h0M343.6 70.9h0M345.4 60.0h0M343.5 83.9h0M343.2 86.9h0M344.7 62.9h0M343.5 91.1h0M344.9 86.3h0M341.4 67.1h0M344.9 72.6h0M342.0 62.3h0M342.3 59.7h0M343.7 67.5h0M344.2 85.1h0M342.0 73.7h0M344.7 76.5h0M343.4 91.8h0M344.5 63.6h0M342.8 69.2h0M342.8 60.0h0M343.6 89.3h0M344.1 62.6h0M344.6 72.8h0M342.8 79.2h0M343.9 93.4h0M342.4 77.1h0M344.3 59.2h0M343.0 67.2h0M345.2 71.6h0M344.4 63.2h0M341.7 71.0h0M344.0 74.3h0M342.9 78.3h0M342.7 84.3h0M342.2 71.9h0M344.3 65.8h0M344.9 73.8h0M343.2 73.7h0M343.4 78.1h0M342.7 63.2h0M344.7 63.0h0M345.5 66.4h0M343.2 66.3h0M343.2 78.3h0M342.1 100.7h0M342.5 72.5h0M343.0 77.1h0M343.1 85.0h0M342.0 65.6h0M342.8 78.6h0M341.6 83.1h0M342.5 67.7h0M344.1 87.9h0M345.1 67.7h0M342.2 72.3h0M344.3 69.2h0M342.3 67.8h0M345.3 95.0h0M342.4 89.0h0M341.5 96.4h0M345.3 76.1h0M342.8 84.7h0M342.2 81.0h0M343.2 65.9h0M344.9 90.9h0M343.0 72.5h0M343.3 62.2h0M344.1 59.8h0M341.4 62.8h0M345.1 81.3h0M344.3 63.4h0M343.8 69.7h0M342.8 71.7h0M345.4 82.3h0M341.6 65.7h0M341.4 62.3h0M343.8 74.2h0M344.2 69.8h0M342.0 87.7h0M344.9 83.9h0M343.2 72.0h0M342.7 93.5h0M344.3 69.1h0M343.0 64.6h0M342.0 61.1h0M343.1 85.1h0M341.5 81.3h0M342.6 89.9h0M343.8 65.6h0M341.7 69.7h0M343.2 63.3h0M343.4 82.5h0" stroke="#5a6cf5" stroke-width="1.00" stroke-linecap="round" stroke-opacity="0.45" fill="none"/>
<path d="M273.1 112.5h11.6" stroke="#b8b8b8" stroke-width="1"/>
<path d="M294.6 89.5h11.6" stroke="#b8b8b8" stroke-width="1"/>
<path d="M316.1 66.5h11.6" stroke="#b8b8b8" stroke-width="1"/>
<path d="M337.6 77.5h11.6" stroke="#b8b8b8" stroke-width="1"/>
<rect x="268.1" y="36.4" width="86.1" height="78.9" fill="none" stroke="#8a8a8a" stroke-width="0.9"/>
<path d="M268.1 115.3h-1.6M268.1 96.4h-1.6M268.1 77.5h-1.6M268.1 58.6h-1.6M268.1 39.7h-1.6M268.1 105.8h-1M268.1 86.9h-1M268.1 68.0h-1M268.1 49.1h-1" stroke="#8a8a8a" stroke-width="0.7" fill="none"/>
<text x="265.1" y="117.6" font-size="8" text-anchor="end" font-weight="normal" fill="#111" stroke="#111" stroke-width="0.18" >0</text>
<text x="265.1" y="98.7" font-size="8" text-anchor="end" font-weight="normal" fill="#111" stroke="#111" stroke-width="0.18" >50</text>
<text x="265.1" y="79.8" font-size="8" text-anchor="end" font-weight="normal" fill="#111" stroke="#111" stroke-width="0.18" >100</text>
<text x="265.1" y="60.9" font-size="8" text-anchor="end" font-weight="normal" fill="#111" stroke="#111" stroke-width="0.18" >150</text>
<text x="265.1" y="42" font-size="8" text-anchor="end" font-weight="normal" fill="#111" stroke="#111" stroke-width="0.18" >200</text>
<path d="M278.9 115.3v1.5M300.4 115.3v1.5M321.9 115.3v1.5M343.4 115.3v1.5" stroke="#8a8a8a" stroke-width="0.7"/>
<text x="278.9" y="126.8" font-size="8.5" text-anchor="middle" font-weight="normal" fill="#111" stroke="#111" stroke-width="0.18" >1</text>
<text x="300.4" y="126.8" font-size="8.5" text-anchor="middle" font-weight="normal" fill="#111" stroke="#111" stroke-width="0.18" >2</text>
<text x="321.9" y="126.8" font-size="8.5" text-anchor="middle" font-weight="normal" fill="#111" stroke="#111" stroke-width="0.18" >3</text>
<text x="343.4" y="126.8" font-size="8.5" text-anchor="middle" font-weight="normal" fill="#111" stroke="#111" stroke-width="0.18" >4</text>
<text x="311.9" y="136.3" font-size="8.8" text-anchor="middle" font-weight="normal" fill="#111" stroke="#111" stroke-width="0.18" >Case</text>
<text x="311.1" y="31.6" font-size="8.5" text-anchor="middle" font-weight="normal" fill="#111" stroke="#111" stroke-width="0.18" >With pretreatment</text>
<path d="M361.9 96.4H447.7" stroke="#333" stroke-width="0.55" stroke-dasharray="0.8 0.9"/>
<path d="M371.7 112.9h0M372.0 114.1h0M374.7 113.0h0M372.5 112.4h0M371.1 112.7h0M373.7 112.6h0M371.4 113.3h0M372.8 112.3h0M373.8 113.2h0M372.4 112.1h0M370.9 112.5h0M373.6 112.9h0M374.4 111.8h0M373.4 112.9h0M374.4 112.0h0M372.5 112.6h0M371.4 112.7h0M371.9 112.0h0M373.9 112.4h0M374.5 112.7h0M371.7 112.7h0M374.0 112.5h0M373.7 112.6h0M371.5 112.9h0M374.0 113.3h0M372.3 114.2h0M371.1 112.7h0M372.9 112.8h0M371.6 111.9h0M372.8 112.4h0M374.5 112.0h0M371.4 111.6h0M372.8 112.7h0M372.7 113.2h0M371.2 112.2h0M373.1 113.0h0M371.6 112.8h0M374.3 111.8h0M374.1 112.3h0M372.7 112.0h0M371.6 113.5h0M371.1 112.6h0M371.5 112.0h0M372.7 113.4h0M373.0 112.5h0M371.1 112.4h0M373.7 114.0h0M372.6 111.7h0M374.6 113.1h0M372.2 112.7h0M372.5 111.6h0M373.8 113.7h0M372.3 112.4h0M373.8 112.9h0M372.8 112.6h0M371.0 113.1h0M374.3 111.8h0M374.3 113.3h0M371.1 112.4h0M371.9 112.3h0M372.9 112.7h0M371.0 112.8h0M372.2 112.8h0M370.8 112.0h0M372.8 112.4h0M372.6 112.7h0M374.4 113.3h0M373.9 112.6h0M371.7 112.3h0M373.4 112.7h0M374.5 111.8h0M371.1 113.8h0M372.8 111.1h0M371.1 112.8h0M371.6 113.3h0M372.6 113.7h0M370.6 112.1h0M372.5 112.3h0M371.8 112.8h0M370.8 112.7h0M372.8 112.5h0M371.4 112.9h0M371.4 112.0h0M374.5 112.3h0M372.4 112.7h0M372.8 113.6h0M371.0 111.8h0M374.5 112.9h0M373.0 113.3h0M371.8 111.9h0M373.3 112.3h0M373.2 113.9h0M372.6 113.7h0M372.3 112.9h0M370.9 113.4h0M373.7 112.7h0M370.7 111.1h0M370.8 111.1h0M373.1 112.7h0M374.2 112.2h0M374.3 112.1h0M371.5 112.7h0M373.9 113.5h0M371.3 112.0h0M371.3 112.8h0M372.5 112.4h0M372.9 112.2h0M372.8 113.1h0M374.4 111.6h0M372.6 112.6h0M372.0 112.5h0M372.5 112.9h0M371.3 112.2h0M373.6 112.0h0M371.3 113.0h0M372.6 112.3h0M370.9 112.9h0M373.6 113.4h0M372.0 112.8h0M373.8 112.3h0M371.2 112.3h0M372.6 112.0h0M374.2 113.1h0M373.6 112.8h0M371.4 112.6h0M370.9 112.3h0M373.0 112.7h0M374.6 113.2h0M372.2 113.6h0M373.5 111.9h0M373.4 112.0h0M374.6 113.1h0M372.2 111.8h0M370.9 112.7h0M370.9 112.4h0M374.3 111.9h0M371.4 112.9h0M373.0 113.1h0M373.2 113.7h0M374.3 112.5h0M372.3 112.4h0M371.6 112.1h0M374.3 112.3h0M373.1 112.6h0M374.7 111.9h0M373.8 113.3h0M373.3 112.4h0M372.5 112.3h0M370.5 112.7h0M374.0 111.6h0M372.0 112.4h0M370.8 111.8h0M373.6 112.1h0M374.7 112.8h0M373.6 111.5h0M371.3 112.0h0M372.0 112.6h0M372.0 112.7h0M371.8 113.3h0M373.4 112.7h0M373.6 112.8h0M371.7 112.5h0M372.2 112.9h0M371.9 112.3h0M371.6 112.7h0M373.3 113.6h0M373.9 113.0h0M373.5 113.2h0M374.6 113.4h0M374.5 112.8h0M374.6 112.1h0M373.8 113.3h0M372.1 113.9h0M373.7 112.7h0M374.6 111.1h0M371.7 113.0h0M372.0 112.5h0M370.6 112.9h0M374.3 112.1h0M373.9 111.8h0M371.0 112.7h0M372.4 111.9h0M371.7 113.3h0M372.0 112.5h0M372.4 113.4h0M374.5 112.5h0M371.8 113.0h0M372.9 112.5h0M373.7 113.3h0M373.5 112.5h0M370.7 112.6h0M372.0 113.0h0M374.0 113.1h0M371.3 113.4h0M372.4 112.9h0M373.8 112.4h0M371.4 112.7h0M372.6 112.5h0M374.5 111.9h0M370.9 112.8h0M371.7 112.5h0M370.6 112.1h0M370.8 112.3h0M373.9 112.4h0M372.8 112.6h0M373.1 111.5h0M371.6 112.7h0M373.5 112.9h0M371.1 112.3h0M371.4 111.6h0M370.8 111.8h0M374.5 112.6h0M371.9 112.1h0M371.7 112.3h0M372.3 112.6h0M371.5 112.2h0M374.4 112.3h0M371.7 112.6h0M370.7 111.6h0M374.1 112.9h0M373.6 111.8h0M371.3 111.4h0M372.1 111.4h0M371.2 112.5h0M374.3 112.7h0M374.4 113.6h0M370.8 112.7h0M371.4 111.2h0M372.3 113.6h0M373.1 113.6h0M374.0 112.1h0M374.3 112.3h0M374.4 113.7h0M372.9 112.7h0M373.6 112.4h0M374.3 113.6h0M373.6 112.1h0M372.5 113.4h0M374.0 112.0h0M373.2 112.5h0M371.7 113.1h0M370.6 113.6h0M373.7 112.8h0M370.6 112.7h0M373.8 112.7h0M373.8 113.0h0M371.3 112.8h0M374.1 112.1h0M372.9 113.2h0M374.5 112.8h0M374.4 112.4h0M370.6 112.7h0M371.5 112.1h0M373.9 111.7h0M372.7 112.9h0M371.1 112.5h0M372.7 114.2h0M372.0 112.9h0M372.1 112.2h0M371.0 113.3h0M373.1 111.8h0M374.0 113.8h0M372.1 111.8h0M371.9 113.0h0M374.3 113.3h0M373.2 112.9h0M374.6 112.8h0M374.1 113.3h0M371.4 113.5h0M373.5 113.0h0M371.2 112.1h0M371.2 112.4h0M373.2 111.8h0M370.6 113.0h0M371.5 112.9h0M374.6 112.8h0M371.8 112.6h0M373.5 112.4h0M373.5 111.6h0M372.8 112.2h0M374.1 112.5h0M371.4 111.8h0M371.1 113.1h0M373.9 113.4h0M372.0 112.2h0M371.4 112.5h0M372.7 112.6h0M373.4 112.1h0M372.7 112.8h0M373.9 112.7h0M372.0 112.4h0M373.9 112.3h0M374.4 112.0h0M373.0 112.6h0M373.4 112.5h0M372.9 114.1h0M371.8 111.9h0M371.6 113.6h0M373.6 112.7h0M371.1 111.1h0" stroke="#9a9a9a" stroke-width="1.40" stroke-linecap="round" stroke-opacity="0.35" fill="none"/>
<path d="M395.7 96.5h0M393.5 80.7h0M393.6 75.3h0M394.2 107.3h0M394.8 84.9h0M394.4 71.9h0M393.4 82.3h0M394.3 93.5h0M393.5 113.1h0M394.8 105.5h0M394.3 104.9h0M392.4 107.0h0M394.6 93.5h0M395.9 74.4h0M394.6 83.6h0M392.3 109.4h0M394.3 71.6h0M392.7 101.8h0M393.7 71.6h0M392.7 72.7h0M395.8 99.5h0M395.2 97.4h0M394.4 96.6h0M393.2 104.3h0M392.4 99.5h0M395.0 105.8h0M393.0 85.6h0M395.8 96.1h0M395.7 84.2h0M392.7 96.4h0M396.2 86.6h0M396.0 72.2h0M392.3 82.1h0M394.1 105.6h0M393.2 69.9h0M394.6 104.2h0M395.5 102.4h0M393.1 97.9h0M392.3 91.5h0M393.5 91.8h0M392.8 74.7h0M395.0 89.3h0M393.2 98.8h0M394.5 89.1h0M392.4 69.3h0M393.1 75.0h0M395.2 78.5h0M395.5 102.9h0M394.3 92.9h0M394.4 112.7h0M392.2 83.5h0M394.5 77.6h0M394.4 80.1h0M392.9 84.9h0M395.0 111.9h0M392.5 93.8h0M394.2 95.4h0M392.4 111.8h0M395.5 81.6h0M393.7 69.1h0M396.0 91.6h0M393.9 98.5h0M395.2 109.0h0M394.1 77.9h0M392.2 90.2h0M393.3 87.6h0M394.4 68.4h0M395.3 74.8h0M392.2 104.6h0M394.1 107.7h0M395.2 99.2h0M392.9 72.4h0M393.4 69.9h0M393.2 94.4h0M395.1 76.1h0M393.2 90.5h0M395.8 97.2h0M395.5 96.2h0M394.3 93.0h0M396.1 87.2h0M393.3 107.8h0M392.0 106.2h0M394.8 91.1h0M395.4 84.8h0M395.9 79.6h0M392.7 111.6h0M392.1 83.2h0M394.5 82.1h0M393.6 93.4h0M392.9 114.2h0M394.8 74.9h0M394.2 95.0h0M394.5 85.1h0M395.8 71.8h0M395.6 105.1h0M392.7 96.8h0M392.2 69.8h0M394.7 95.8h0M392.0 76.8h0M392.9 86.3h0M395.8 79.3h0M393.6 90.5h0M395.0 89.3h0M394.7 78.3h0M392.4 94.3h0M395.1 89.3h0M395.1 78.4h0M392.0 87.4h0M396.0 95.1h0M392.4 114.8h0M394.0 106.1h0M394.0 103.9h0M394.0 85.5h0M396.1 98.1h0M392.7 71.5h0M395.4 77.8h0M395.7 86.7h0M392.6 104.8h0M392.0 84.8h0M393.1 71.4h0M392.2 112.1h0M392.3 98.1h0M395.5 76.0h0M392.1 97.1h0M393.1 105.5h0M392.3 86.2h0M392.6 90.0h0M394.3 101.8h0M395.8 68.6h0M395.6 108.3h0M392.5 106.5h0M395.5 107.8h0M395.6 94.4h0M393.0 86.1h0M392.8 102.8h0M393.5 107.3h0M395.2 69.5h0M396.1 108.6h0M394.2 108.2h0M393.7 67.9h0M393.5 107.3h0M393.9 88.5h0M393.0 94.2h0M394.9 72.5h0M394.4 108.0h0M393.4 94.3h0M394.9 69.7h0M395.3 75.2h0M392.8 92.9h0M393.6 97.0h0M394.6 77.3h0M395.1 112.0h0M392.3 109.0h0M392.4 108.6h0M395.2 75.1h0M395.2 74.9h0M392.9 80.6h0M393.6 90.8h0M394.8 91.5h0M394.1 81.5h0M395.3 75.8h0M392.8 94.6h0M393.7 97.8h0M393.4 69.6h0M395.5 96.9h0M393.4 92.2h0M395.0 108.6h0M393.8 107.4h0M392.7 95.9h0M394.6 90.7h0M392.6 82.9h0M392.5 81.5h0M395.6 93.3h0M395.7 104.1h0M393.4 95.6h0M393.5 110.3h0M394.5 90.2h0M394.6 102.8h0M394.4 68.4h0M393.1 80.6h0M395.3 94.5h0M393.2 73.4h0M395.6 93.4h0M395.9 111.1h0M393.1 104.2h0M394.5 102.6h0M394.9 104.1h0M392.9 71.6h0M396.0 97.1h0M393.8 78.7h0M394.1 72.9h0M393.4 107.7h0M393.6 98.4h0M392.3 109.7h0M395.9 96.6h0M395.7 87.0h0M395.2 111.8h0M396.2 92.2h0M395.6 99.8h0M394.6 112.7h0M392.1 87.3h0M396.0 111.4h0M395.2 79.0h0M394.2 98.3h0M394.1 73.6h0M394.6 107.0h0M395.0 102.8h0M394.3 76.2h0M393.5 88.1h0M392.3 92.0h0M393.6 88.8h0M392.4 112.4h0M393.6 99.0h0M395.6 80.3h0M395.3 110.7h0M394.1 90.4h0M394.9 67.7h0M393.8 82.9h0M394.3 91.0h0M395.7 81.5h0M396.0 98.4h0M393.2 99.5h0M395.2 103.8h0M393.6 80.8h0M393.9 95.2h0M393.7 72.5h0M392.7 88.5h0M392.9 97.7h0M395.7 81.5h0M394.4 71.9h0M392.6 86.3h0M396.1 84.0h0M395.2 74.7h0M395.2 69.0h0M394.3 98.1h0M394.5 65.3h0M392.6 97.0h0M392.7 98.8h0M394.8 91.6h0M394.8 106.4h0M393.6 108.1h0M395.4 72.9h0M392.9 76.0h0M392.6 95.7h0M392.2 82.5h0M395.9 97.5h0M394.2 69.4h0M394.4 87.3h0M394.7 87.9h0M392.5 112.0h0M395.7 93.1h0M396.1 88.4h0M393.0 80.0h0M393.0 106.2h0M395.6 93.5h0M394.1 80.7h0M392.8 100.5h0M396.1 114.4h0M395.5 69.1h0M393.5 71.8h0M394.6 101.0h0M395.0 80.9h0M393.5 99.1h0M394.4 77.0h0M393.6 104.6h0M395.5 86.8h0M392.9 80.7h0M393.9 92.3h0M392.2 82.6h0M394.5 87.9h0M392.2 79.6h0M393.4 93.9h0M395.2 107.0h0M394.3 92.1h0M393.4 95.3h0M394.0 106.0h0M392.5 104.7h0M393.0 73.6h0M395.8 102.0h0M392.6 88.0h0M395.3 88.9h0M395.1 76.1h0M394.6 89.9h0M395.2 87.0h0M392.5 68.6h0M393.5 87.8h0M393.4 81.8h0M392.9 104.8h0M393.0 97.2h0M393.3 104.6h0M396.0 89.8h0M393.6 110.7h0M395.3 97.8h0M395.1 86.8h0M395.1 71.6h0M394.0 104.7h0M394.1 88.0h0M392.7 89.7h0M395.7 91.2h0M393.5 95.6h0" stroke="#f0505a" stroke-width="1.00" stroke-linecap="round" stroke-opacity="0.45" fill="none"/>
<path d="M417.1 83.2h0M414.2 94.3h0M417.2 84.4h0M416.9 92.9h0M414.2 92.3h0M414.3 104.1h0M413.6 96.1h0M415.3 87.0h0M413.9 85.6h0M416.8 104.4h0M414.6 88.0h0M414.4 88.0h0M417.3 97.0h0M414.7 93.1h0M414.8 88.7h0M415.8 89.8h0M415.7 84.9h0M414.7 85.2h0M416.0 83.9h0M414.3 83.8h0M416.2 94.7h0M414.7 100.2h0M414.4 96.9h0M414.9 90.6h0M414.5 98.7h0M416.8 104.7h0M416.6 84.8h0M413.9 89.9h0M417.2 81.8h0M416.9 88.1h0M413.8 88.9h0M415.5 87.6h0M415.6 88.0h0M415.6 91.5h0M413.5 94.6h0M417.3 87.0h0M415.2 96.4h0M416.5 88.5h0M415.7 93.5h0M417.3 86.3h0M414.7 103.9h0M416.4 95.0h0M414.8 82.0h0M417.3 96.1h0M414.7 104.1h0M413.6 89.8h0M415.5 85.8h0M416.4 95.3h0M415.1 85.6h0M416.6 103.2h0M416.5 93.1h0M414.4 90.4h0M415.1 98.2h0M417.6 87.5h0M415.6 88.3h0M417.1 93.5h0M415.1 102.7h0M414.4 82.1h0M417.1 83.0h0M415.3 90.9h0M413.5 85.2h0M416.4 89.1h0M415.7 99.8h0M416.9 102.3h0M417.5 96.8h0M416.3 93.2h0M414.0 81.8h0M413.8 93.3h0M417.0 99.0h0M416.5 92.3h0M416.9 92.7h0M415.7 96.5h0M415.9 100.0h0M413.7 107.9h0M415.2 85.8h0M415.8 97.1h0M414.6 84.6h0M413.8 101.1h0M417.1 100.1h0M414.1 91.1h0M415.6 91.6h0M416.2 84.3h0M415.5 99.4h0M417.2 88.2h0M414.4 87.0h0M417.2 82.3h0M417.0 84.7h0M415.7 91.0h0M415.2 88.9h0M417.0 84.0h0M415.5 109.5h0M417.5 84.6h0M414.1 88.6h0M413.8 82.8h0M414.1 92.7h0M417.0 89.3h0M415.2 81.6h0M415.4 85.2h0M416.2 85.2h0M414.3 85.5h0M415.3 94.2h0M416.0 99.4h0M413.5 91.2h0M415.3 86.0h0M415.9 98.8h0M415.2 103.6h0M414.3 105.3h0M413.7 91.1h0M417.4 83.9h0M416.8 98.4h0M415.7 87.6h0M416.5 102.9h0M413.5 83.3h0M417.6 100.1h0M414.8 89.6h0M415.3 89.8h0M413.7 84.8h0M414.8 95.7h0M413.9 95.4h0M414.8 105.7h0M415.2 102.4h0M416.0 95.1h0M414.0 83.2h0M417.1 95.1h0M417.4 85.4h0M414.0 83.8h0M414.1 97.1h0M416.7 82.6h0M414.8 96.1h0M414.6 89.7h0M414.5 88.8h0M414.2 88.8h0M417.2 83.5h0M416.2 97.4h0M414.3 105.9h0M417.6 86.2h0M414.8 98.6h0M416.6 90.9h0M416.5 92.2h0M415.3 96.4h0M416.3 97.9h0M414.6 85.8h0M416.5 84.2h0M414.3 93.1h0M414.0 89.4h0M415.0 90.5h0M416.4 91.8h0M416.4 96.0h0M414.6 87.1h0M413.6 100.5h0M415.7 93.7h0M416.6 84.0h0M413.6 89.9h0M414.0 95.9h0M415.3 92.0h0M414.2 93.7h0M415.0 85.7h0M414.2 101.6h0M416.4 92.4h0M416.7 96.1h0M417.4 84.0h0M413.6 90.7h0M414.0 93.2h0M417.1 85.0h0M416.3 104.7h0M416.3 83.8h0M413.5 86.0h0M417.6 89.8h0M414.8 95.6h0M413.7 81.9h0M413.9 101.6h0M414.0 86.8h0M416.1 81.4h0M415.2 93.9h0M414.7 98.9h0M414.1 102.5h0M414.6 85.8h0M416.8 98.5h0M415.0 94.6h0M413.5 88.1h0M417.6 99.9h0M417.4 88.9h0M415.0 107.2h0M416.1 83.5h0M413.8 85.0h0M415.8 89.3h0M413.6 85.9h0M414.4 83.0h0M417.4 94.6h0M414.0 81.9h0M415.6 98.7h0M415.9 88.6h0M414.4 83.9h0M417.5 104.1h0M415.5 104.4h0M413.8 84.4h0M416.6 81.7h0M415.4 87.9h0M414.2 83.1h0M414.9 82.7h0M415.8 101.5h0M415.5 85.3h0M415.3 97.1h0M413.4 94.7h0M413.8 82.4h0M415.2 84.7h0M417.5 86.0h0M414.1 83.5h0M414.4 93.1h0M415.3 96.4h0M414.7 106.0h0M417.1 82.6h0M416.6 94.3h0M416.3 98.5h0M414.0 81.8h0M415.0 88.4h0M416.8 83.8h0M415.8 84.9h0M414.0 92.5h0M417.0 98.5h0M417.3 84.5h0M416.6 91.5h0M415.9 102.6h0M414.1 94.6h0M414.9 84.3h0M415.3 102.2h0M415.8 93.1h0M415.7 81.9h0M414.0 88.2h0M415.9 90.0h0M416.8 85.7h0M414.3 85.1h0M413.7 89.9h0M415.1 96.3h0M415.1 83.5h0M417.3 94.0h0M414.5 82.5h0M416.7 98.0h0M416.9 85.5h0M414.0 101.8h0M417.2 91.5h0M415.8 101.7h0M417.0 88.9h0M416.7 92.3h0M415.5 99.7h0M417.0 85.3h0M414.8 89.0h0M414.8 93.6h0M415.9 94.6h0M415.0 89.0h0M414.3 94.7h0M416.8 82.4h0M416.8 83.2h0M413.8 99.6h0M416.4 84.4h0M417.3 89.0h0M416.8 91.1h0M414.0 85.7h0M413.8 101.4h0M415.3 84.3h0M417.2 87.4h0M417.3 88.2h0M413.5 83.4h0M417.2 101.6h0M416.1 92.4h0M416.2 97.4h0M414.4 88.2h0M416.1 86.2h0M417.4 93.2h0M415.9 83.7h0M417.3 94.8h0M416.3 83.6h0M414.4 94.3h0M414.9 82.5h0M414.5 100.2h0M414.7 92.2h0M416.2 99.0h0M415.5 88.3h0M417.2 87.3h0M414.3 96.8h0M414.0 93.8h0M413.8 94.2h0M414.5 89.9h0M416.4 91.6h0M414.1 84.1h0M416.1 81.7h0M417.3 95.7h0M416.1 81.8h0M414.3 99.3h0M416.6 83.0h0M416.9 96.0h0M415.6 90.2h0M415.0 91.6h0M416.0 93.1h0M413.8 108.0h0M416.2 105.4h0M414.4 90.1h0M416.1 101.3h0M414.7 84.7h0M415.0 89.2h0" stroke="#a45cf5" stroke-width="1.00" stroke-linecap="round" stroke-opacity="0.45" fill="none"/>
<path d="M436.2 64.5h0M438.6 92.7h0M436.8 71.2h0M435.0 90.1h0M437.4 68.4h0M438.0 60.7h0M435.0 84.7h0M439.0 69.4h0M436.3 67.4h0M436.8 78.5h0M438.0 78.0h0M437.3 88.4h0M436.9 84.1h0M438.9 100.8h0M435.4 93.0h0M437.9 74.3h0M434.9 64.7h0M438.1 80.1h0M437.9 93.7h0M436.6 63.4h0M436.6 108.6h0M437.3 72.2h0M438.7 109.6h0M435.5 98.8h0M436.5 72.4h0M436.8 94.4h0M436.4 74.8h0M435.9 72.0h0M436.9 74.4h0M436.3 111.5h0M437.4 79.9h0M436.7 82.9h0M438.4 90.9h0M438.4 82.3h0M437.2 72.8h0M438.5 64.1h0M437.0 81.7h0M436.4 95.9h0M437.3 94.9h0M438.4 101.4h0M437.2 93.4h0M438.2 74.8h0M436.4 87.3h0M437.7 89.1h0M437.2 98.7h0M437.6 67.6h0M436.7 102.1h0M435.4 67.6h0M434.9 63.1h0M435.2 96.9h0M435.2 65.2h0M436.7 86.3h0M436.5 83.0h0M437.5 77.8h0M438.9 75.7h0M436.6 74.1h0M436.2 81.3h0M437.5 103.3h0M437.1 111.0h0M435.1 80.2h0M438.2 66.2h0M436.4 87.3h0M437.2 70.8h0M437.6 82.0h0M438.8 88.6h0M436.2 67.5h0M436.8 84.5h0M438.5 66.3h0M438.9 90.5h0M437.9 65.7h0M438.3 90.3h0M435.0 71.6h0M437.3 114.1h0M436.1 64.0h0M437.4 63.4h0M437.5 97.3h0M436.6 73.5h0M438.5 72.9h0M438.3 65.5h0M435.1 101.0h0M438.6 86.9h0M438.0 98.5h0M438.4 72.3h0M436.2 62.1h0M436.6 68.4h0M438.0 75.5h0M438.5 88.0h0M436.1 64.0h0M437.7 72.0h0M436.5 79.3h0M436.8 95.8h0M436.9 79.5h0M436.5 65.4h0M438.6 90.0h0M438.4 109.8h0M435.1 91.1h0M435.1 93.2h0M435.2 105.5h0M435.5 87.6h0M435.8 83.1h0M435.7 66.2h0M436.1 102.8h0M436.5 87.6h0M437.9 94.8h0M437.4 95.9h0M435.4 86.1h0M437.7 77.5h0M437.3 88.4h0M434.9 68.5h0M438.5 63.5h0M435.7 77.1h0M437.0 95.9h0M437.1 89.3h0M435.1 106.1h0M435.5 90.6h0M435.6 68.4h0M438.7 79.3h0M438.6 95.9h0M438.6 106.3h0M435.9 87.4h0M436.6 90.2h0M437.2 90.7h0M435.1 65.9h0M435.4 73.7h0M436.9 110.1h0M435.3 87.3h0M436.8 81.6h0M437.1 100.6h0M435.0 111.9h0M438.1 62.8h0M436.5 81.0h0M436.9 91.9h0M437.6 79.6h0M438.5 85.0h0M435.5 86.4h0M435.6 93.9h0M437.5 79.6h0M438.6 79.3h0M435.8 88.5h0M436.8 91.0h0M435.0 89.7h0M434.9 73.0h0M438.8 86.6h0M438.1 88.2h0M437.8 76.5h0M435.1 64.8h0M437.8 64.7h0M437.9 77.1h0M436.3 101.5h0M438.3 76.4h0M439.1 92.7h0M435.9 100.9h0M435.0 66.1h0M436.1 70.1h0M437.7 80.7h0M438.7 87.6h0M438.8 82.6h0M438.3 88.4h0M437.4 86.7h0M435.8 66.0h0M436.2 79.7h0M435.8 68.6h0M437.3 96.7h0M435.3 67.3h0M438.2 82.3h0M437.6 84.5h0M438.2 73.8h0M437.9 94.8h0M437.7 94.8h0M436.2 88.6h0M438.7 76.0h0M438.1 107.2h0M435.4 74.6h0M435.8 63.8h0M435.3 66.5h0M437.7 76.2h0M436.8 99.4h0M435.9 84.8h0M437.8 104.0h0M435.3 86.9h0M439.0 69.3h0M438.9 72.1h0M435.3 71.9h0M437.7 79.9h0M437.4 67.7h0M436.1 83.3h0M436.3 65.1h0M438.9 112.0h0M435.2 91.0h0M438.7 106.2h0M436.9 111.7h0M437.2 66.9h0M437.0 83.4h0M438.2 67.9h0M435.7 66.8h0M435.9 70.6h0M435.3 80.5h0M436.8 66.4h0M435.0 90.0h0M438.9 102.6h0M436.7 74.9h0M436.3 69.7h0M438.8 77.5h0M438.5 63.7h0M435.8 94.1h0M435.2 85.7h0M437.9 60.8h0M436.4 72.8h0M438.4 71.7h0M436.5 88.4h0M436.1 82.6h0M436.8 91.8h0M435.1 70.2h0M435.6 96.5h0M435.5 93.1h0M437.8 87.3h0M436.1 103.5h0M438.3 64.9h0M438.9 100.6h0M437.0 70.6h0M435.7 96.1h0M434.9 80.9h0M438.9 71.5h0M435.4 101.2h0M438.0 101.4h0M435.0 100.6h0M438.7 90.2h0M437.2 75.0h0M437.6 69.4h0M437.5 95.8h0M435.9 93.9h0M435.4 104.4h0M438.4 105.1h0M437.2 99.6h0M437.3 98.3h0M435.3 79.1h0M438.9 89.6h0M437.8 76.4h0M436.7 82.9h0M435.1 69.0h0M436.8 84.9h0M439.0 71.1h0M438.1 88.6h0M435.0 61.5h0M438.0 82.5h0M438.5 65.4h0M436.0 100.7h0M438.4 67.4h0M439.0 102.5h0M436.6 80.0h0M435.3 72.4h0M436.4 101.6h0M438.7 72.6h0M436.8 90.4h0M436.1 85.2h0M436.7 88.9h0M438.4 83.3h0M437.4 107.7h0M435.4 91.5h0M436.2 98.9h0M436.1 65.9h0M438.1 90.7h0M437.0 65.5h0M435.2 102.6h0M435.0 81.4h0M436.4 80.6h0M437.3 97.1h0M437.3 78.9h0M436.5 82.9h0M436.6 92.6h0M436.1 102.0h0M435.5 94.2h0M436.3 68.5h0M437.6 67.1h0M436.1 76.4h0M438.7 62.9h0M437.2 90.1h0M435.6 76.7h0M436.8 89.1h0M435.6 78.0h0M435.4 86.1h0M435.3 70.7h0M435.6 76.3h0M435.7 80.5h0M438.9 82.3h0M435.1 91.5h0M436.8 78.0h0M437.6 84.7h0M435.2 76.2h0M436.2 69.0h0M436.6 68.3h0M436.9 95.2h0M437.7 62.6h0M437.0 62.9h0M437.1 101.6h0M436.1 92.2h0M435.1 72.6h0M437.7 85.5h0M437.1 110.3h0M437.0 97.5h0" stroke="#5a6cf5" stroke-width="1.00" stroke-linecap="round" stroke-opacity="0.45" fill="none"/>
<path d="M366.8 112.5h11.6" stroke="#b8b8b8" stroke-width="1"/>
<path d="M388.3 89.5h11.6" stroke="#4a4a4a" stroke-width="1"/>
<path d="M409.7 92.5h11.6" stroke="#4a4a4a" stroke-width="1"/>
<path d="M431.2 82.5h11.6" stroke="#4a4a4a" stroke-width="1"/>
<rect x="361.9" y="36.4" width="85.8" height="78.9" fill="none" stroke="#8a8a8a" stroke-width="0.9"/>
<path d="M361.9 115.3h-1.6M361.9 96.4h-1.6M361.9 77.5h-1.6M361.9 58.6h-1.6M361.9 39.7h-1.6M361.9 105.8h-1M361.9 86.9h-1M361.9 68.0h-1M361.9 49.1h-1" stroke="#8a8a8a" stroke-width="0.7" fill="none"/>
<path d="M372.6 115.3v1.5M394.1 115.3v1.5M415.5 115.3v1.5M437.0 115.3v1.5" stroke="#8a8a8a" stroke-width="0.7"/>
<text x="372.6" y="126.8" font-size="8.5" text-anchor="middle" font-weight="normal" fill="#111" stroke="#111" stroke-width="0.18" >1</text>
<text x="394.1" y="126.8" font-size="8.5" text-anchor="middle" font-weight="normal" fill="#111" stroke="#111" stroke-width="0.18" >2</text>
<text x="415.5" y="126.8" font-size="8.5" text-anchor="middle" font-weight="normal" fill="#111" stroke="#111" stroke-width="0.18" >3</text>
<text x="437" y="126.8" font-size="8.5" text-anchor="middle" font-weight="normal" fill="#111" stroke="#111" stroke-width="0.18" >4</text>
<text x="405.6" y="136.3" font-size="8.8" text-anchor="middle" font-weight="normal" fill="#111" stroke="#111" stroke-width="0.18" >Case</text>
<text x="404.8" y="31.6" font-size="8.5" text-anchor="middle" font-weight="normal" fill="#111" stroke="#111" stroke-width="0.18" >Without pretreatment</text>
<path d="M492.1 96.4H578.2" stroke="#333" stroke-width="0.55" stroke-dasharray="0.8 0.9"/>
<path d="M501.6 111.8h0M501.9 113.2h0M503.6 112.6h0M500.8 111.7h0M503.6 111.9h0M503.1 113.1h0M502.8 113.0h0M501.1 112.3h0M503.9 113.0h0M501.0 112.6h0M503.7 113.5h0M504.1 112.3h0M501.8 113.6h0M504.4 112.6h0M501.7 112.2h0M502.3 113.1h0M504.1 113.6h0M504.5 113.4h0M504.6 113.8h0M504.0 111.6h0M500.8 113.8h0M504.3 113.4h0M504.4 112.5h0M504.6 112.6h0M502.2 112.0h0M501.3 111.9h0M504.2 112.4h0M501.9 112.7h0M502.5 113.0h0M504.5 112.8h0M501.5 112.1h0M501.9 112.3h0M502.2 112.3h0M504.2 113.7h0M504.8 113.1h0M501.5 113.1h0M502.0 113.0h0M504.0 113.3h0M501.7 112.2h0M503.3 112.0h0M502.7 111.6h0M504.3 113.0h0M501.9 112.7h0M503.0 112.6h0M503.2 112.7h0M500.9 113.2h0M501.0 112.2h0M501.6 113.9h0M500.9 112.9h0M502.4 113.8h0M503.1 112.3h0M502.8 113.5h0M503.4 113.4h0M503.2 112.7h0M503.8 113.3h0M504.3 112.5h0M500.9 112.9h0M501.0 111.5h0M500.9 113.4h0M503.1 113.2h0M501.4 112.3h0M502.8 112.6h0M501.9 112.4h0M502.5 112.8h0M502.6 112.1h0M503.3 112.4h0M500.9 111.9h0M502.9 113.5h0M502.0 112.5h0M503.1 112.8h0M502.4 112.4h0M500.8 113.2h0M502.6 112.2h0M503.1 113.5h0M504.4 112.1h0M502.8 112.3h0M501.9 113.7h0M500.9 112.4h0M501.4 113.8h0M504.7 112.3h0M503.1 113.6h0M504.6 112.7h0M501.2 112.8h0M501.4 113.6h0M504.5 113.8h0M500.9 112.4h0M502.8 112.9h0M503.5 112.0h0M503.0 112.7h0M503.5 111.1h0M501.0 112.5h0M503.1 111.6h0M503.0 112.4h0M504.0 112.6h0M502.8 112.3h0M502.1 113.1h0M502.7 113.0h0M501.5 111.6h0M504.0 112.8h0M503.0 113.3h0M501.9 112.3h0M503.7 113.2h0M502.1 112.6h0M502.9 112.0h0M504.9 111.9h0M504.7 111.5h0M502.6 111.9h0M501.9 112.2h0M503.9 112.3h0M504.8 112.5h0M504.4 112.7h0M503.3 111.3h0M503.9 112.7h0M505.0 111.6h0M502.0 112.7h0M501.2 111.9h0M503.9 114.2h0M504.6 112.5h0M503.2 113.0h0M502.0 111.7h0M502.4 111.7h0M500.8 113.0h0M503.9 112.7h0M504.9 112.1h0M501.4 112.4h0M503.2 112.6h0M502.6 112.0h0M503.4 113.4h0M504.8 111.6h0M504.2 112.3h0M503.4 114.2h0M500.9 113.2h0M502.2 112.7h0M502.1 111.2h0M503.8 112.6h0M501.3 113.5h0M501.8 111.8h0M501.2 112.4h0M503.7 112.6h0M500.8 112.0h0M502.3 112.8h0M502.2 112.7h0M504.5 112.0h0M501.0 112.3h0M503.9 112.0h0M502.6 112.8h0M502.1 111.6h0M500.9 113.5h0M502.4 113.4h0M504.8 112.3h0M503.9 112.8h0M501.4 112.5h0M501.3 112.6h0M503.0 112.7h0M503.5 113.2h0M504.7 112.4h0M504.7 111.8h0M504.4 113.1h0M501.3 111.4h0M502.6 111.6h0M501.7 113.1h0M503.3 112.1h0M501.8 113.2h0M502.6 112.7h0M504.5 113.2h0M501.9 112.9h0M504.4 113.7h0M503.3 112.7h0M501.9 113.2h0M503.6 113.1h0M503.5 113.8h0M502.4 112.6h0M504.3 111.4h0M504.0 112.8h0M503.3 112.7h0M503.6 113.3h0M504.2 112.9h0M503.2 113.1h0M503.8 113.5h0M502.8 113.1h0M502.6 112.9h0M502.3 112.4h0M502.3 112.8h0M504.2 112.4h0M502.3 111.8h0M503.1 112.0h0M502.4 112.8h0M503.3 113.7h0M501.3 112.7h0M500.9 112.5h0M502.3 112.0h0M501.9 112.5h0M504.4 111.1h0M504.0 112.8h0M504.4 112.2h0M502.8 113.1h0M503.5 113.2h0M504.0 112.8h0M502.1 112.5h0M501.2 112.2h0M504.8 114.2h0M504.7 111.9h0M501.0 111.7h0M501.5 111.8h0M504.3 112.1h0M503.5 112.7h0M504.1 112.3h0M502.8 111.8h0M501.7 113.2h0M501.5 112.2h0M504.6 112.3h0M503.0 112.7h0M503.0 111.5h0M503.3 113.0h0M503.6 113.2h0M501.9 112.6h0M501.1 113.0h0M504.6 111.8h0M501.5 113.6h0M503.9 113.4h0M502.6 112.4h0M502.1 112.2h0M504.6 113.3h0M503.8 111.8h0M504.0 113.8h0M502.0 112.0h0M503.8 113.1h0M502.3 112.9h0M503.9 111.5h0M504.4 112.6h0M501.1 113.0h0M504.2 112.5h0M502.2 111.5h0M500.9 112.6h0M503.7 113.1h0M504.2 112.5h0M501.8 113.4h0M503.6 113.0h0M503.5 113.0h0M503.1 112.2h0M504.5 112.9h0M503.9 112.3h0M503.1 111.9h0M504.9 111.7h0M500.9 113.6h0M503.5 112.7h0M503.6 113.3h0M503.6 112.2h0M504.0 112.5h0M502.9 112.6h0M501.3 112.9h0M503.4 113.2h0M501.1 113.6h0M504.3 112.0h0M503.8 112.7h0M501.2 112.6h0M503.7 112.4h0M501.7 112.1h0M504.1 111.5h0M500.9 112.7h0M500.9 112.2h0M502.4 113.6h0M502.5 112.9h0M502.5 113.1h0M500.8 113.0h0M500.8 111.9h0M502.7 112.6h0M503.6 112.6h0M504.8 112.6h0M504.1 112.8h0M502.1 112.8h0M502.7 113.0h0M503.9 112.9h0M502.2 112.9h0M503.3 112.7h0M502.4 113.8h0M503.8 112.6h0M502.3 112.6h0M501.2 112.4h0M502.7 113.3h0M502.6 113.2h0M503.1 112.1h0M502.0 113.1h0M502.1 112.3h0M504.1 113.0h0M504.0 113.3h0M500.9 113.5h0M502.8 113.0h0M504.0 112.9h0M501.0 113.4h0M502.7 111.8h0M501.6 112.6h0M503.0 113.2h0M502.5 111.7h0M503.4 112.1h0M503.4 113.1h0M501.0 113.2h0M502.3 112.7h0M501.0 112.2h0M504.8 113.5h0" stroke="#9a9a9a" stroke-width="1.40" stroke-linecap="round" stroke-opacity="0.35" fill="none"/>
<path d="M524.3 107.9h0M524.2 92.1h0M525.3 114.2h0M524.5 106.2h0M524.1 89.3h0M522.6 112.2h0M524.2 91.5h0M525.9 103.1h0M526.4 100.3h0M525.9 112.9h0M522.7 85.6h0M526.0 94.4h0M524.4 89.7h0M525.2 97.0h0M524.9 111.9h0M524.4 95.3h0M523.2 97.5h0M523.8 100.4h0M523.8 97.6h0M525.5 89.6h0M522.9 89.8h0M522.6 106.8h0M525.9 113.4h0M525.1 102.6h0M524.7 101.5h0M522.9 97.6h0M522.8 87.0h0M525.1 108.7h0M522.9 97.5h0M525.9 112.9h0M523.0 109.9h0M524.9 103.2h0M523.3 104.0h0M523.6 97.8h0M523.7 95.1h0M522.4 90.6h0M524.0 97.1h0M525.9 104.9h0M524.4 98.3h0M523.1 96.1h0M524.5 108.6h0M526.2 102.9h0M524.2 102.2h0M524.3 105.4h0M525.5 105.2h0M522.6 84.3h0M523.6 108.5h0M523.9 99.4h0M523.6 97.8h0M524.6 93.1h0M525.6 90.2h0M524.0 76.6h0M525.6 95.7h0M524.1 88.6h0M526.0 104.4h0M523.7 92.5h0M524.2 89.5h0M525.2 106.9h0M522.3 94.0h0M526.0 105.9h0M524.1 115.1h0M523.8 102.3h0M522.8 85.2h0M522.7 114.4h0M524.3 113.4h0M525.7 96.0h0M524.8 102.9h0M526.1 113.3h0M526.4 83.3h0M524.4 101.5h0M523.1 92.0h0M526.2 90.3h0M523.2 86.7h0M524.6 101.8h0M523.1 110.3h0M526.0 89.7h0M525.5 112.8h0M524.5 76.5h0M525.9 97.1h0M525.2 85.0h0M524.9 104.2h0M525.1 88.1h0M526.0 92.3h0M524.0 91.5h0M525.2 104.0h0M523.8 107.5h0M525.1 80.3h0M524.5 109.3h0M525.4 107.0h0M524.6 96.4h0M524.4 102.6h0M522.7 98.4h0M522.5 105.2h0M525.9 113.4h0M524.2 80.2h0M526.4 93.5h0M524.2 105.6h0M522.7 113.9h0M525.4 109.4h0M523.6 84.3h0M524.9 89.1h0M522.5 98.3h0M526.0 106.5h0M523.1 99.7h0M523.8 108.7h0M524.0 104.3h0M524.5 79.0h0M526.2 98.5h0M525.9 110.0h0M523.9 96.8h0M523.9 104.1h0M525.4 109.9h0M523.7 105.9h0M523.3 110.3h0M526.2 93.5h0M525.4 114.6h0M524.0 103.2h0M523.1 83.7h0M524.4 90.7h0M524.1 90.0h0M523.5 102.3h0M524.7 86.8h0M523.0 112.6h0M523.4 96.5h0M524.6 95.3h0M524.0 88.8h0M524.0 101.6h0M525.1 95.6h0M522.6 96.4h0M525.5 110.7h0M526.3 104.2h0M526.1 89.2h0M526.0 105.7h0M522.5 103.4h0M523.6 108.9h0M522.7 97.6h0M522.7 99.5h0M523.0 105.9h0M522.5 99.6h0M526.2 100.5h0M524.8 114.1h0M523.6 77.3h0M523.3 88.9h0M522.3 84.8h0M522.4 112.4h0M525.0 104.5h0M524.3 105.8h0M523.6 109.7h0M524.3 97.2h0M523.9 105.6h0M525.2 111.2h0M524.6 107.6h0M524.1 112.8h0M522.3 112.3h0M524.6 102.5h0M525.9 112.8h0M523.3 104.0h0M523.7 103.9h0M525.5 77.4h0M523.0 99.3h0M524.7 101.0h0M524.9 94.4h0M525.6 98.4h0M526.0 105.6h0M525.8 92.9h0M523.1 111.9h0M525.5 87.8h0M524.8 90.4h0M524.0 95.0h0M522.5 109.7h0M524.8 114.7h0M524.1 95.0h0M525.2 93.3h0M524.8 101.1h0M522.9 109.2h0M525.3 99.1h0M522.9 115.1h0M522.8 91.9h0M525.1 102.9h0M526.1 109.5h0M525.3 98.0h0M526.2 102.6h0M522.9 87.2h0M522.7 78.2h0M524.3 113.7h0M523.4 106.3h0M523.4 108.5h0M523.1 86.9h0M523.5 96.4h0M525.4 109.4h0M524.0 108.0h0M524.4 111.3h0M522.9 88.6h0M524.9 104.7h0M525.2 102.1h0M523.7 80.8h0M524.6 106.4h0M523.4 107.5h0M522.6 108.4h0M523.0 91.2h0M522.3 108.6h0M526.1 80.7h0M526.3 99.1h0M523.0 87.2h0M525.7 110.2h0M524.7 107.2h0M525.5 93.4h0M524.8 97.1h0M524.4 95.6h0M523.8 78.0h0M523.9 112.3h0M526.0 95.8h0M523.5 104.7h0M523.0 105.8h0M526.5 115.0h0M523.5 97.4h0M522.7 105.5h0M523.4 91.8h0M525.7 72.6h0M525.6 103.5h0M526.0 97.4h0M526.1 109.3h0M526.5 89.4h0M523.7 86.5h0M523.2 93.3h0M526.3 107.7h0M526.1 96.7h0M524.5 98.1h0M523.6 111.2h0M523.1 81.3h0M526.4 71.6h0M525.0 102.8h0M524.9 88.2h0M523.1 91.1h0M523.1 112.2h0M524.1 90.5h0M526.1 102.6h0M525.7 100.0h0M523.4 90.7h0M522.6 108.9h0M524.9 94.9h0M525.4 106.4h0M526.2 88.5h0M525.0 114.5h0M523.4 89.8h0M524.5 81.1h0M525.3 102.0h0M523.1 99.7h0M526.1 112.1h0M522.9 96.8h0M522.3 112.7h0M523.5 86.5h0M525.5 95.3h0M524.7 97.8h0M523.5 101.5h0M523.7 99.7h0M524.4 92.7h0M525.7 82.6h0M526.4 98.9h0M525.2 93.8h0M522.9 88.8h0M525.9 110.3h0M525.7 84.3h0M525.3 100.0h0M525.7 98.3h0M522.4 95.9h0M525.1 103.8h0M524.3 106.3h0M526.5 109.1h0M526.3 95.1h0M524.3 113.0h0M525.8 101.4h0M525.3 91.9h0M525.4 79.8h0M523.8 89.3h0M525.4 108.6h0M522.4 80.5h0M522.4 95.7h0M523.3 106.4h0M523.3 92.7h0M522.3 94.9h0M526.0 106.2h0M525.6 109.0h0M525.5 100.2h0M525.7 93.4h0M526.2 104.0h0M522.9 83.0h0M524.4 97.6h0M523.9 93.6h0M523.9 107.2h0M525.1 95.6h0M523.8 111.9h0M526.2 90.2h0M522.9 106.3h0M523.0 90.3h0M526.0 91.3h0M523.4 76.0h0M523.8 100.7h0M524.2 112.3h0M525.3 98.6h0" stroke="#f0505a" stroke-width="1.00" stroke-linecap="round" stroke-opacity="0.45" fill="none"/>
<path d="M546.8 94.0h0M545.3 74.1h0M546.9 87.8h0M548.0 68.4h0M546.9 95.2h0M546.1 89.2h0M544.2 54.5h0M547.3 75.8h0M546.8 90.5h0M544.8 72.6h0M547.4 89.5h0M547.3 53.5h0M547.4 80.4h0M545.5 56.5h0M546.9 62.6h0M546.3 96.4h0M544.9 54.6h0M544.7 54.4h0M545.0 68.5h0M543.8 48.2h0M544.1 86.6h0M546.8 88.4h0M547.7 79.9h0M547.6 68.7h0M547.4 65.7h0M545.2 66.6h0M544.8 58.5h0M545.5 95.6h0M546.6 68.0h0M547.6 76.7h0M545.8 79.7h0M547.6 64.1h0M547.4 77.8h0M545.5 59.7h0M544.3 72.0h0M546.5 81.4h0M545.5 83.2h0M547.6 80.2h0M545.9 73.5h0M546.1 61.9h0M546.4 56.2h0M545.1 83.1h0M544.7 66.8h0M546.1 62.0h0M544.2 90.7h0M546.3 62.2h0M546.1 88.3h0M547.7 82.3h0M544.0 62.5h0M544.9 54.4h0M544.8 57.4h0M547.7 92.2h0M545.9 62.8h0M547.8 81.7h0M546.0 61.2h0M544.7 58.0h0M544.1 59.8h0M546.5 92.4h0M547.7 88.0h0M545.8 86.2h0M547.8 88.7h0M545.5 74.0h0M543.8 73.7h0M547.6 90.1h0M545.7 86.5h0M545.3 86.3h0M548.0 65.3h0M545.7 73.7h0M544.5 58.9h0M545.3 55.5h0M546.2 73.9h0M547.8 56.0h0M547.3 61.8h0M545.5 56.4h0M547.7 67.3h0M546.4 50.7h0M544.9 66.5h0M544.6 55.2h0M544.1 55.0h0M544.7 64.5h0M544.6 76.0h0M544.5 61.6h0M544.5 81.0h0M545.4 92.4h0M543.9 68.6h0M544.8 65.3h0M546.4 72.5h0M545.9 60.3h0M546.4 67.4h0M546.5 48.3h0M546.8 73.6h0M544.6 56.7h0M546.9 54.9h0M547.2 51.7h0M546.8 91.5h0M546.0 73.2h0M544.3 73.5h0M544.8 48.6h0M545.8 61.2h0M545.2 60.1h0M545.5 54.1h0M544.9 90.6h0M545.8 59.1h0M547.2 82.6h0M544.2 78.9h0M547.9 70.3h0M544.5 58.4h0M547.4 100.0h0M544.8 79.5h0M544.9 82.8h0M547.5 76.2h0M547.8 91.8h0M546.1 71.7h0M546.9 77.8h0M544.9 68.5h0M544.2 94.3h0M545.2 99.8h0M545.1 92.1h0M545.2 68.8h0M546.5 72.6h0M544.6 51.3h0M545.4 68.3h0M546.2 89.1h0M547.9 74.0h0M546.2 92.8h0M546.7 69.1h0M545.9 86.3h0M547.1 94.5h0M544.0 58.2h0M545.5 75.3h0M544.7 71.5h0M545.3 57.1h0M545.1 68.7h0M546.8 61.3h0M546.4 52.6h0M546.6 71.2h0M545.6 88.3h0M544.6 91.6h0M544.8 63.1h0M546.1 58.4h0M544.9 55.2h0M545.7 68.3h0M547.7 70.9h0M545.1 68.8h0M544.3 57.1h0M547.9 67.6h0M547.2 63.6h0M544.3 47.6h0M547.6 51.6h0M546.3 62.6h0M544.6 61.9h0M547.0 73.3h0M545.6 58.1h0M547.7 60.0h0M547.8 51.7h0M544.1 78.3h0M547.4 73.6h0M544.0 53.9h0M547.6 62.8h0M545.9 65.5h0M544.2 47.8h0M545.5 52.0h0M545.2 58.9h0M546.7 84.4h0M546.8 55.5h0M545.4 82.1h0M546.8 76.6h0M543.9 76.5h0M544.8 87.7h0M544.3 83.9h0M544.5 89.0h0M545.0 52.2h0M544.6 69.3h0M546.0 62.5h0M547.8 98.7h0M547.7 83.7h0M547.0 76.0h0M547.2 80.6h0M544.4 79.2h0M544.2 78.2h0M546.6 79.6h0M545.6 93.3h0M544.6 65.8h0M544.2 78.8h0M545.1 71.8h0M545.7 69.1h0M543.9 64.5h0M545.5 94.8h0M544.5 77.4h0M547.5 81.3h0M546.9 80.5h0M544.7 90.9h0M544.3 86.4h0M547.1 100.1h0M547.0 83.5h0M547.9 79.2h0M544.4 52.7h0M546.1 68.0h0M547.3 62.3h0M545.7 90.3h0M544.9 61.4h0M544.3 79.7h0M545.0 55.8h0M545.3 62.0h0M546.6 92.0h0M544.1 53.3h0M547.0 74.3h0M544.4 65.4h0M544.9 54.2h0M545.7 82.8h0M544.0 48.3h0M545.2 53.6h0M547.8 87.2h0M547.8 99.6h0M547.2 52.9h0M545.1 60.2h0M546.1 73.1h0M547.2 92.7h0M543.8 70.2h0M545.6 54.2h0M546.0 77.8h0M546.4 72.4h0M544.8 74.2h0M545.2 75.2h0M548.0 63.9h0M544.1 64.9h0M547.3 68.6h0M546.3 79.5h0M548.0 57.8h0M546.3 76.5h0M545.5 95.4h0M547.9 57.9h0M546.3 88.2h0M546.3 56.7h0M547.3 55.6h0M545.3 70.5h0M546.3 80.6h0M547.1 87.5h0M544.7 80.6h0M544.8 72.9h0M547.0 85.4h0M547.4 67.0h0M546.8 86.6h0M546.5 74.1h0M544.4 48.9h0M547.4 55.9h0M547.9 78.4h0M547.5 54.0h0M546.0 55.9h0M544.3 87.0h0M545.7 66.1h0M547.7 58.3h0M546.6 69.1h0M544.5 69.9h0M547.8 68.3h0M546.6 59.2h0M547.0 78.5h0M544.3 57.5h0M546.4 83.4h0M547.1 48.9h0M544.5 67.0h0M545.0 86.0h0M547.5 95.1h0M546.0 48.0h0M547.1 60.3h0M547.0 53.1h0M546.0 74.6h0M545.6 53.2h0M546.9 48.3h0M545.4 65.4h0M546.6 61.7h0M544.2 65.2h0M546.9 81.1h0M547.0 88.9h0M547.3 72.4h0M545.9 59.5h0M547.2 72.8h0M544.7 74.8h0M543.9 87.2h0M547.5 69.4h0M544.4 67.6h0M544.8 72.1h0M545.0 64.4h0M543.9 86.4h0M544.8 72.6h0M545.5 68.6h0M544.5 70.0h0M547.7 71.2h0M544.0 62.6h0M545.0 78.2h0M544.7 55.4h0M546.1 88.1h0M544.2 58.0h0M546.1 60.7h0M544.5 62.5h0M547.0 60.4h0M545.4 58.9h0M545.4 83.5h0M547.4 75.4h0M544.5 48.6h0" stroke="#a45cf5" stroke-width="1.00" stroke-linecap="round" stroke-opacity="0.45" fill="none"/>
<path d="M568.1 98.1h0M565.4 85.2h0M567.5 96.1h0M569.0 96.6h0M569.0 66.7h0M569.3 68.9h0M567.2 92.2h0M565.8 67.0h0M569.1 94.5h0M569.4 73.9h0M565.8 64.6h0M566.5 78.5h0M566.6 84.7h0M566.7 79.2h0M569.0 79.8h0M566.8 89.7h0M565.5 90.1h0M568.5 79.6h0M567.5 79.6h0M568.8 105.5h0M568.1 106.7h0M569.4 86.1h0M567.4 100.2h0M567.4 91.4h0M569.3 96.7h0M566.1 85.1h0M566.9 71.5h0M569.4 72.2h0M569.5 82.5h0M568.7 72.8h0M568.3 92.9h0M568.8 94.2h0M569.1 99.7h0M568.0 73.4h0M567.4 78.3h0M567.6 78.6h0M566.7 63.7h0M566.9 76.7h0M568.6 102.1h0M565.5 71.6h0M569.0 81.6h0M566.5 90.0h0M567.8 92.2h0M566.1 88.1h0M568.7 95.2h0M568.5 99.5h0M566.1 97.2h0M567.4 68.2h0M567.5 74.2h0M567.8 80.0h0M565.5 106.4h0M568.6 71.9h0M568.3 92.7h0M567.9 90.8h0M566.8 71.2h0M568.0 77.0h0M567.8 67.4h0M566.5 103.5h0M567.1 65.0h0M569.3 104.3h0M566.6 65.8h0M567.4 88.7h0M566.8 75.2h0M568.2 100.8h0M567.0 79.3h0M569.2 90.0h0M566.0 103.4h0M566.6 106.1h0M569.4 82.2h0M568.1 77.2h0M568.4 92.2h0M567.2 74.6h0M565.6 101.1h0M565.5 97.0h0M568.6 94.5h0M569.4 76.0h0M567.3 89.6h0M568.3 77.5h0M566.8 99.1h0M568.5 70.3h0M566.5 92.2h0M566.9 71.7h0M568.6 96.8h0M567.5 93.1h0M567.5 79.5h0M565.5 102.4h0M566.6 93.0h0M566.4 89.8h0M567.1 107.2h0M566.1 98.7h0M569.2 73.2h0M568.8 64.7h0M568.7 104.6h0M567.0 91.8h0M568.0 76.0h0M566.8 94.1h0M566.5 103.0h0M569.2 80.8h0M568.6 66.9h0M569.0 81.0h0M568.0 104.1h0M568.2 86.2h0M569.5 106.3h0M567.8 77.5h0M566.5 99.1h0M566.2 102.8h0M569.2 101.8h0M566.2 86.4h0M565.6 94.6h0M567.7 109.0h0M565.7 66.7h0M567.3 100.9h0M566.7 105.0h0M566.7 79.5h0M568.5 97.2h0M566.7 96.3h0M569.2 71.1h0M568.8 76.7h0M568.9 75.2h0M566.5 83.9h0M566.8 77.8h0M566.5 86.8h0M567.1 92.7h0M566.6 80.2h0M567.0 91.7h0M568.0 93.3h0M567.8 83.2h0M568.5 79.2h0M568.9 68.1h0M567.0 90.9h0M569.1 78.4h0M567.0 74.5h0M566.3 73.5h0M567.0 73.7h0M566.5 83.9h0M566.4 88.6h0M565.8 69.7h0M569.0 82.6h0M566.4 96.3h0M569.1 104.8h0M569.2 99.3h0M569.5 81.8h0M566.8 81.1h0M565.5 61.7h0M568.6 105.6h0M568.7 72.2h0M569.2 73.0h0M567.6 89.8h0M568.9 69.0h0M566.7 67.1h0M565.6 101.3h0M566.3 88.7h0M569.0 101.6h0M568.5 99.3h0M566.0 86.4h0M566.8 102.5h0M567.3 79.8h0M569.2 95.3h0M568.8 103.7h0M566.3 82.6h0M566.4 99.8h0M569.2 82.9h0M568.5 69.1h0M568.5 71.5h0M567.0 80.0h0M569.1 70.6h0M566.1 90.7h0M565.5 63.7h0M569.3 83.7h0M565.8 88.8h0M565.4 84.7h0M568.8 101.1h0M567.3 99.3h0M569.2 67.7h0M567.3 79.2h0M568.0 76.5h0M567.2 85.7h0M567.6 93.5h0M566.4 87.9h0M565.7 106.8h0M567.4 82.9h0M567.3 79.5h0M568.0 104.5h0M565.8 104.4h0M566.5 91.6h0M565.8 100.7h0M565.4 87.2h0M566.4 78.6h0M565.8 83.6h0M566.2 77.2h0M567.7 94.6h0M567.6 70.7h0M566.5 84.1h0M565.4 76.5h0M569.3 97.9h0M569.5 84.4h0M566.8 103.4h0M567.9 91.3h0M565.9 91.3h0M568.1 98.7h0M566.2 106.3h0M567.5 91.5h0M569.3 67.2h0M568.5 78.0h0M566.5 70.5h0M569.0 94.0h0M566.6 86.5h0M568.2 98.2h0M566.4 69.6h0M569.0 101.6h0M565.9 79.6h0M566.2 76.7h0M568.0 106.5h0M565.5 94.1h0M568.5 97.8h0M566.7 103.1h0M568.9 63.3h0M566.5 102.7h0M568.0 79.3h0M567.5 72.0h0M568.7 86.6h0M566.5 90.1h0M565.5 72.6h0M569.2 97.6h0M566.5 103.0h0M568.9 78.3h0M566.8 66.9h0M566.7 77.7h0M566.5 94.1h0M568.6 65.5h0M566.0 90.8h0M568.2 90.8h0M567.4 69.6h0M567.6 94.0h0M568.9 94.6h0M565.4 84.4h0M568.2 98.2h0M567.8 76.4h0M566.4 106.6h0M565.4 73.1h0M569.1 73.0h0M567.8 85.1h0M569.5 70.4h0M567.8 98.3h0M567.0 79.7h0M568.0 92.3h0M569.4 78.1h0M566.2 98.2h0M569.5 102.7h0M566.8 74.9h0M567.3 101.1h0M567.6 67.6h0M565.9 98.5h0M566.4 90.7h0M566.8 100.5h0M566.6 84.3h0M565.5 80.1h0M568.5 92.5h0M569.0 91.2h0M566.5 75.3h0M565.4 86.2h0M567.9 101.6h0M567.3 103.0h0M565.8 97.6h0M569.1 79.2h0M567.9 99.7h0M568.7 73.5h0M565.8 79.2h0M567.1 84.4h0M568.0 76.0h0M567.1 69.9h0M568.8 80.5h0M569.3 100.4h0M568.6 68.5h0M566.9 81.1h0M567.0 84.6h0M567.6 80.5h0M565.9 85.6h0M567.9 75.2h0M568.5 88.7h0M565.7 81.1h0M568.5 95.1h0M568.0 86.0h0M568.4 60.9h0M566.0 90.7h0M568.3 69.6h0M566.2 92.7h0M567.2 85.0h0M569.0 102.5h0M568.3 78.4h0M567.0 66.2h0M569.2 90.9h0M565.8 80.9h0M565.9 78.1h0M568.7 98.8h0M566.9 90.3h0M568.6 83.6h0M565.5 100.3h0M565.7 80.6h0M567.4 89.0h0" stroke="#5a6cf5" stroke-width="1.00" stroke-linecap="round" stroke-opacity="0.45" fill="none"/>
<path d="M497.1 112.5h11.6" stroke="#b8b8b8" stroke-width="1"/>
<path d="M518.6 98.5h11.6" stroke="#b8b8b8" stroke-width="1"/>
<path d="M540.1 70.5h11.6" stroke="#4a4a4a" stroke-width="1"/>
<path d="M561.6 85.5h11.6" stroke="#4a4a4a" stroke-width="1"/>
<rect x="492.1" y="36.4" width="86.1" height="78.9" fill="none" stroke="#8a8a8a" stroke-width="0.9"/>
<path d="M492.1 115.3h-1.6M492.1 96.4h-1.6M492.1 77.5h-1.6M492.1 58.6h-1.6M492.1 39.7h-1.6M492.1 105.8h-1M492.1 86.9h-1M492.1 68.0h-1M492.1 49.1h-1" stroke="#8a8a8a" stroke-width="0.7" fill="none"/>
<text x="489.1" y="117.6" font-size="8" text-anchor="end" font-weight="normal" fill="#111" stroke="#111" stroke-width="0.18" >0</text>
<text x="489.1" y="98.7" font-size="8" text-anchor="end" font-weight="normal" fill="#111" stroke="#111" stroke-width="0.18" >50</text>
<text x="489.1" y="79.8" font-size="8" text-anchor="end" font-weight="normal" fill="#111" stroke="#111" stroke-width="0.18" >100</text>
<text x="489.1" y="60.9" font-size="8" text-anchor="end" font-weight="normal" fill="#111" stroke="#111" stroke-width="0.18" >150</text>
<text x="489.1" y="42" font-size="8" text-anchor="end" font-weight="normal" fill="#111" stroke="#111" stroke-width="0.18" >200</text>
<path d="M502.9 115.3v1.5M524.4 115.3v1.5M545.9 115.3v1.5M567.4 115.3v1.5" stroke="#8a8a8a" stroke-width="0.7"/>
<text x="502.9" y="126.8" font-size="8.5" text-anchor="middle" font-weight="normal" fill="#111" stroke="#111" stroke-width="0.18" >1</text>
<text x="524.4" y="126.8" font-size="8.5" text-anchor="middle" font-weight="normal" fill="#111" stroke="#111" stroke-width="0.18" >2</text>
<text x="545.9" y="126.8" font-size="8.5" text-anchor="middle" font-weight="normal" fill="#111" stroke="#111" stroke-width="0.18" >3</text>
<text x="567.4" y="126.8" font-size="8.5" text-anchor="middle" font-weight="normal" fill="#111" stroke="#111" stroke-width="0.18" >4</text>
<text x="536" y="136.3" font-size="8.8" text-anchor="middle" font-weight="normal" fill="#111" stroke="#111" stroke-width="0.18" >Case</text>
<text x="535.2" y="31.6" font-size="8.5" text-anchor="middle" font-weight="normal" fill="#111" stroke="#111" stroke-width="0.18" >With pretreatment</text>
<path d="M585.9 96.4H671.7" stroke="#333" stroke-width="0.55" stroke-dasharray="0.8 0.9"/>
<path d="M596.8 112.8h0M597.7 112.1h0M595.4 112.8h0M597.1 112.9h0M596.8 112.7h0M597.8 112.8h0M597.5 112.8h0M594.6 112.4h0M595.7 112.6h0M594.6 111.6h0M597.5 112.4h0M597.3 111.6h0M597.0 112.5h0M598.0 111.6h0M598.3 112.7h0M595.9 111.9h0M598.1 112.5h0M596.7 111.7h0M598.4 113.1h0M594.8 112.9h0M595.1 112.4h0M597.3 113.2h0M595.2 111.7h0M597.3 112.7h0M595.1 112.3h0M598.1 112.0h0M596.8 112.3h0M594.6 113.1h0M595.8 113.4h0M596.6 113.6h0M597.5 113.2h0M595.7 113.1h0M597.5 113.1h0M597.3 112.4h0M598.2 113.4h0M596.2 113.6h0M595.0 112.5h0M595.5 111.6h0M598.0 113.2h0M596.6 112.7h0M596.9 112.7h0M595.9 112.0h0M598.0 112.1h0M594.7 112.9h0M598.7 112.1h0M597.7 112.6h0M595.5 112.1h0M597.4 111.5h0M595.5 113.9h0M595.7 113.5h0M597.0 113.4h0M596.9 113.4h0M597.9 112.6h0M597.3 112.6h0M594.5 111.6h0M595.2 111.8h0M594.6 112.5h0M597.6 112.7h0M597.2 112.2h0M598.5 112.4h0M596.8 112.9h0M597.1 112.2h0M597.4 112.9h0M595.4 112.7h0M596.3 112.7h0M597.4 113.0h0M596.3 113.0h0M596.8 112.6h0M594.6 112.7h0M596.1 113.4h0M596.2 111.6h0M597.7 111.6h0M597.7 111.7h0M598.1 111.9h0M597.5 112.7h0M596.5 113.2h0M597.4 113.2h0M596.6 113.7h0M596.4 112.8h0M596.0 113.7h0M598.2 112.6h0M595.6 112.5h0M594.9 113.0h0M594.6 113.0h0M595.7 112.7h0M594.7 112.3h0M597.7 112.8h0M595.2 111.6h0M595.7 113.2h0M597.5 113.0h0M598.2 112.9h0M597.7 112.8h0M597.2 112.5h0M597.5 112.3h0M595.9 112.8h0M598.6 111.7h0M596.3 113.8h0M597.3 112.5h0M596.6 112.6h0M596.3 113.5h0M595.4 113.5h0M598.6 112.6h0M597.3 112.0h0M597.9 112.4h0M596.9 112.7h0M595.9 112.8h0M596.8 113.0h0M597.1 112.9h0M596.0 112.3h0M594.7 112.0h0M598.2 112.3h0M595.9 113.1h0M598.5 112.3h0M598.2 112.1h0M598.4 113.7h0M594.8 112.5h0M597.0 113.0h0M597.7 112.6h0M595.1 113.4h0M597.2 113.3h0M598.2 112.7h0M597.9 113.0h0M598.7 113.0h0M598.1 113.2h0M595.2 112.4h0M596.9 112.0h0M596.3 113.2h0M597.4 112.5h0M597.7 112.9h0M597.6 112.5h0M598.7 112.0h0M596.8 112.5h0M598.1 112.7h0M597.2 113.3h0M597.3 112.0h0M595.0 111.7h0M597.6 113.8h0M597.9 112.3h0M595.7 112.8h0M597.2 113.4h0M597.0 111.7h0M594.9 112.4h0M596.1 111.4h0M597.6 113.1h0M595.2 112.9h0M596.5 113.6h0M597.3 112.6h0M597.3 113.7h0M595.5 112.9h0M596.3 112.0h0M597.5 112.4h0M597.1 112.1h0M597.8 112.6h0M597.2 112.2h0M597.7 112.7h0M595.9 113.4h0M597.4 112.4h0M597.7 112.7h0M596.3 113.1h0M595.1 113.3h0M597.9 112.0h0M597.2 113.6h0M596.9 113.2h0M595.6 112.5h0M597.3 112.3h0M595.4 112.5h0M598.2 113.6h0M595.0 112.0h0M598.3 112.7h0M594.5 113.5h0M598.2 112.0h0M595.4 112.7h0M594.9 113.8h0M595.3 114.2h0M597.7 112.8h0M597.7 113.0h0M595.0 112.5h0M596.2 112.6h0M595.5 113.1h0M597.6 112.4h0M597.1 112.5h0M598.4 113.3h0M597.4 112.2h0M597.0 112.6h0M598.5 112.8h0M595.5 112.5h0M594.9 113.2h0M596.0 113.1h0M597.4 112.7h0M595.5 113.2h0M598.1 111.8h0M595.7 112.5h0M595.1 112.3h0M598.2 111.6h0M595.4 111.8h0M595.2 111.4h0M597.6 113.2h0M597.7 111.7h0M596.7 112.9h0M596.1 112.8h0M598.6 112.5h0M594.7 112.6h0M597.2 112.7h0M595.4 112.5h0M596.3 111.8h0M596.1 113.9h0M596.0 113.5h0M595.6 113.4h0M597.6 112.5h0M596.9 112.6h0M598.2 112.4h0M597.7 111.5h0M596.4 112.6h0M596.9 113.5h0M598.0 112.4h0M595.1 111.6h0M594.5 111.5h0M596.7 112.7h0M596.5 112.6h0M597.0 112.5h0M596.8 112.3h0M595.4 112.7h0M598.4 112.9h0M598.5 111.7h0M595.6 111.8h0M596.1 112.6h0M598.4 113.0h0M597.0 113.0h0M597.0 113.3h0M598.2 113.4h0M595.3 112.8h0M595.1 113.1h0M597.3 112.5h0M596.2 113.0h0M595.6 113.2h0M595.3 112.9h0M595.4 114.1h0M598.4 112.4h0M596.2 112.8h0M595.1 111.8h0M595.8 112.9h0M595.2 112.7h0M598.4 113.2h0M595.6 111.4h0M596.1 112.5h0M596.2 111.9h0M594.6 112.9h0M597.0 112.3h0M595.9 113.2h0M598.1 113.0h0M596.1 112.8h0M595.8 113.2h0M595.4 112.2h0M596.5 112.2h0M598.4 112.0h0M598.7 113.2h0M596.6 113.0h0M597.9 112.7h0M595.5 112.3h0M598.2 113.4h0M597.0 112.8h0M595.9 112.1h0M597.6 112.6h0M596.9 112.7h0M596.3 113.3h0M596.9 112.9h0M598.7 112.3h0M595.9 112.1h0M595.5 113.7h0M597.1 112.4h0M597.1 112.9h0M595.5 113.2h0M596.0 111.6h0M596.2 112.3h0M595.7 113.3h0M594.5 113.3h0M594.7 112.6h0M595.8 113.5h0M598.4 112.8h0M596.9 112.4h0M598.4 113.5h0M596.7 112.6h0M597.0 112.4h0M596.2 113.1h0M597.6 112.5h0M597.2 112.3h0M594.8 112.4h0M596.0 113.1h0M596.8 112.2h0M596.6 112.9h0M594.7 112.6h0M595.8 112.6h0M597.5 112.7h0M596.3 113.9h0M597.9 112.1h0M595.6 112.4h0M597.4 112.6h0M594.7 112.3h0M597.8 112.9h0M596.9 112.8h0" stroke="#9a9a9a" stroke-width="1.40" stroke-linecap="round" stroke-opacity="0.35" fill="none"/>
<path d="M619.8 93.3h0M619.4 102.6h0M619.0 93.6h0M616.2 91.8h0M618.6 96.2h0M616.5 84.9h0M619.6 108.3h0M619.6 105.4h0M619.4 111.7h0M617.6 85.5h0M616.6 92.3h0M619.8 107.7h0M616.5 113.3h0M619.1 82.6h0M616.9 101.2h0M616.3 89.2h0M618.8 107.7h0M618.8 104.2h0M619.7 96.1h0M619.2 105.8h0M619.6 94.4h0M618.9 100.9h0M617.2 83.6h0M619.6 99.1h0M618.5 112.7h0M616.3 108.9h0M617.3 89.5h0M616.1 102.6h0M617.5 81.1h0M620.0 114.5h0M617.2 111.6h0M619.3 107.4h0M618.3 90.1h0M616.5 110.8h0M617.9 92.6h0M618.5 85.3h0M619.9 72.6h0M618.1 93.9h0M619.0 115.1h0M619.2 100.9h0M619.9 74.5h0M617.4 97.3h0M619.7 105.6h0M617.2 107.9h0M616.8 108.8h0M618.0 106.7h0M619.4 109.7h0M618.4 76.0h0M618.3 80.2h0M616.3 102.7h0M616.3 108.8h0M620.0 106.0h0M619.2 113.2h0M617.9 112.7h0M618.7 107.2h0M620.0 114.0h0M619.0 107.9h0M616.4 87.0h0M619.2 106.7h0M618.9 112.1h0M618.3 109.9h0M618.2 105.8h0M617.5 81.5h0M616.2 102.5h0M619.3 80.0h0M619.8 90.9h0M618.2 75.6h0M618.2 113.2h0M619.9 105.6h0M617.4 90.7h0M616.0 105.6h0M617.0 105.8h0M617.0 96.0h0M618.4 111.0h0M617.2 96.2h0M619.4 94.9h0M616.1 95.4h0M620.0 114.4h0M617.4 114.6h0M618.0 109.4h0M617.8 104.7h0M616.3 101.1h0M617.8 95.6h0M616.7 104.5h0M616.5 105.4h0M616.5 82.8h0M617.1 73.8h0M619.5 81.2h0M619.0 110.9h0M618.0 94.7h0M617.1 113.7h0M618.5 93.9h0M618.2 87.0h0M617.0 89.9h0M617.0 103.1h0M617.1 85.5h0M619.5 112.7h0M619.3 73.8h0M618.1 94.5h0M619.6 81.4h0M618.8 90.4h0M619.9 99.6h0M617.0 114.7h0M617.9 100.8h0M619.7 101.2h0M616.7 110.4h0M617.7 101.8h0M619.5 105.6h0M617.5 103.7h0M616.3 99.7h0M617.7 109.0h0M617.8 81.8h0M616.5 99.9h0M617.3 106.6h0M618.6 87.8h0M619.8 72.9h0M617.7 106.6h0M616.3 106.1h0M617.0 95.1h0M616.8 98.1h0M617.3 101.9h0M619.6 89.3h0M619.4 100.7h0M617.8 95.0h0M620.1 94.1h0M619.2 107.1h0M619.5 112.9h0M620.1 91.8h0M620.0 109.1h0M616.7 86.7h0M618.8 114.9h0M619.8 76.9h0M618.5 97.6h0M618.9 105.6h0M618.9 108.7h0M616.8 110.2h0M619.2 114.5h0M618.1 113.4h0M616.1 82.0h0M618.8 101.6h0M619.5 93.8h0M618.1 111.5h0M617.4 92.5h0M616.2 90.6h0M617.4 82.2h0M616.8 75.2h0M616.2 94.3h0M619.3 113.8h0M618.5 111.6h0M618.6 107.7h0M617.8 110.2h0M616.8 107.3h0M616.4 103.8h0M619.8 87.1h0M617.8 81.0h0M616.3 94.5h0M618.9 110.2h0M617.9 89.8h0M619.3 97.8h0M618.9 113.1h0M619.0 94.4h0M617.7 79.7h0M617.4 95.1h0M616.5 114.7h0M616.4 109.4h0M618.8 114.8h0M620.0 99.4h0M619.1 84.9h0M617.7 112.2h0M618.3 73.5h0M616.2 112.9h0M619.5 114.6h0M616.1 110.6h0M616.9 88.3h0M620.1 88.6h0M618.1 104.1h0M617.6 100.7h0M619.5 83.2h0M618.9 104.3h0M617.5 105.3h0M618.7 74.5h0M617.8 101.4h0M619.0 105.0h0M616.2 103.0h0M618.9 98.1h0M616.5 82.1h0M616.8 88.6h0M616.9 105.9h0M619.0 98.6h0M619.8 104.0h0M618.0 104.6h0M619.0 98.6h0M618.5 92.8h0M617.9 108.6h0M619.8 84.5h0M619.2 94.3h0M617.9 90.7h0M619.6 81.0h0M616.3 114.2h0M618.9 100.0h0M617.0 104.4h0M617.3 97.8h0M617.9 111.5h0M616.5 103.9h0M617.8 100.9h0M616.3 84.1h0M619.3 75.2h0M617.5 114.6h0M617.5 89.0h0M616.5 81.3h0M618.8 96.9h0M617.6 88.0h0M616.3 73.0h0M619.9 99.5h0M616.9 99.5h0M616.1 107.7h0M617.2 89.3h0M618.8 91.6h0M619.8 113.2h0M619.8 98.6h0M617.8 100.8h0M617.4 83.2h0M616.1 92.9h0M618.2 110.3h0M619.4 111.8h0M619.1 108.6h0M619.2 99.5h0M617.0 105.2h0M617.2 88.9h0M617.5 96.4h0M618.2 112.0h0M617.5 90.5h0M619.9 87.6h0M617.2 102.3h0M616.4 92.3h0M617.9 87.0h0M616.0 97.0h0M616.2 94.6h0M617.8 107.9h0M618.9 91.9h0M618.5 74.5h0M617.0 109.3h0M617.7 106.0h0M617.1 108.6h0M616.3 109.0h0M617.7 108.8h0M618.4 111.4h0M617.4 87.0h0M618.0 82.6h0M619.1 95.8h0M616.2 106.9h0M616.1 82.7h0M617.8 112.7h0M617.8 84.0h0M619.7 98.5h0M619.3 101.6h0M617.1 88.8h0M619.4 91.0h0M617.9 102.1h0M618.7 111.0h0M616.8 100.9h0M617.2 108.2h0M619.6 106.9h0M616.7 88.7h0M616.1 91.7h0M616.3 105.9h0M618.5 114.2h0M617.9 101.5h0M618.6 91.9h0M617.4 105.8h0M616.4 97.8h0M616.8 111.5h0M620.1 89.2h0M619.2 113.5h0M618.8 93.9h0M620.2 106.9h0M618.9 109.3h0M616.4 82.7h0M617.4 113.3h0M618.9 103.3h0M619.5 108.6h0M619.0 113.9h0M619.6 111.4h0M618.1 72.3h0M616.7 113.1h0M618.3 111.1h0M619.0 101.5h0M619.3 77.8h0M616.3 100.1h0M616.8 97.0h0M619.9 111.5h0M619.2 103.1h0M617.3 109.2h0M616.3 83.6h0M618.6 80.2h0M618.8 82.3h0M616.3 111.7h0M620.1 86.0h0M617.0 112.2h0M618.7 112.7h0" stroke="#f0505a" stroke-width="1.00" stroke-linecap="round" stroke-opacity="0.45" fill="none"/>
<path d="M637.6 83.9h0M638.3 86.2h0M638.5 90.6h0M641.2 100.0h0M641.0 100.2h0M638.2 105.1h0M639.3 90.0h0M638.6 105.9h0M641.3 106.3h0M640.6 100.2h0M637.6 94.4h0M638.9 90.2h0M637.5 98.2h0M639.7 99.6h0M638.6 85.1h0M641.6 89.9h0M640.6 96.2h0M639.0 89.1h0M640.7 90.4h0M641.1 93.0h0M641.4 95.3h0M638.9 98.1h0M639.0 95.3h0M639.8 98.3h0M638.8 94.1h0M638.0 85.9h0M641.1 84.3h0M639.7 105.1h0M638.7 92.1h0M637.5 91.4h0M641.4 86.1h0M638.1 89.1h0M639.2 91.6h0M641.5 84.9h0M638.0 83.7h0M639.1 95.9h0M638.8 90.4h0M638.2 99.7h0M639.7 94.1h0M641.2 84.4h0M638.1 102.8h0M638.8 101.3h0M641.2 95.9h0M639.3 90.3h0M637.6 94.7h0M638.9 99.6h0M641.3 102.5h0M639.8 84.5h0M641.5 90.2h0M637.7 94.3h0M638.0 108.2h0M641.1 96.5h0M638.3 101.0h0M638.4 93.8h0M639.3 82.5h0M640.3 93.5h0M637.5 94.4h0M639.0 86.9h0M638.7 97.7h0M639.6 83.5h0M641.0 87.7h0M638.5 99.1h0M637.5 103.8h0M638.2 87.7h0M641.0 102.4h0M639.3 100.9h0M638.4 92.9h0M637.6 90.0h0M640.6 98.2h0M639.2 89.5h0M640.6 97.7h0M638.5 102.7h0M640.0 98.2h0M640.6 99.5h0M640.6 107.2h0M641.6 95.5h0M637.5 93.5h0M640.1 83.7h0M638.7 91.7h0M641.3 98.0h0M637.8 89.6h0M638.7 98.9h0M637.9 104.5h0M641.3 94.4h0M640.9 88.7h0M639.6 87.0h0M639.5 99.1h0M641.4 91.2h0M640.0 94.9h0M638.4 98.2h0M638.4 95.0h0M638.7 91.8h0M637.7 85.4h0M639.9 101.5h0M638.4 89.0h0M638.9 92.1h0M639.2 94.0h0M640.1 99.9h0M639.8 87.0h0M639.4 94.9h0M640.5 93.0h0M640.0 98.4h0M639.2 92.2h0M641.4 94.1h0M640.3 92.7h0M637.8 101.8h0M639.8 95.1h0M638.3 93.7h0M639.4 99.0h0M639.0 88.2h0M637.5 101.7h0M638.8 82.6h0M640.8 89.8h0M638.5 102.3h0M638.2 91.2h0M637.6 82.4h0M639.0 91.6h0M637.8 94.8h0M641.5 91.7h0M640.7 101.6h0M639.5 88.1h0M640.8 90.0h0M637.7 104.2h0M638.2 92.3h0M640.7 100.8h0M639.4 94.4h0M637.6 100.2h0M638.7 101.5h0M641.5 98.6h0M640.1 103.4h0M639.3 82.7h0M638.4 97.3h0M641.5 86.4h0M639.3 95.2h0M637.6 91.7h0M640.7 88.9h0M640.6 91.8h0M638.1 98.0h0M639.9 85.2h0M638.8 91.5h0M638.6 107.0h0M640.8 93.5h0M637.6 86.9h0M640.6 105.6h0M638.8 103.1h0M638.6 86.0h0M641.0 107.4h0M639.7 83.3h0M638.8 87.6h0M641.1 91.4h0M639.2 97.7h0M638.1 86.7h0M639.7 87.1h0M638.1 98.2h0M638.3 101.6h0M640.9 107.2h0M638.8 91.2h0M640.6 102.2h0M637.6 103.8h0M639.8 91.3h0M637.7 90.6h0M637.9 82.8h0M638.6 91.9h0M637.5 88.2h0M639.4 92.2h0M637.5 101.2h0M640.4 89.4h0M637.4 88.2h0M638.8 96.2h0M640.4 89.5h0M639.7 101.0h0M639.6 90.2h0M640.8 99.1h0M640.9 106.3h0M640.4 88.5h0M638.0 97.1h0M640.9 88.7h0M638.9 107.6h0M641.5 88.3h0M638.7 86.2h0M641.2 92.7h0M639.2 96.4h0M641.2 91.3h0M640.7 99.1h0M640.8 86.1h0M637.6 94.4h0M641.0 93.6h0M638.9 86.2h0M638.7 98.2h0M638.7 95.0h0M641.3 103.8h0M641.4 93.4h0M637.6 97.4h0M640.2 105.5h0M640.7 97.3h0M640.7 107.5h0M637.4 91.8h0M638.9 95.4h0M639.9 105.9h0M638.4 89.7h0M637.6 99.1h0M639.6 92.5h0M637.6 90.5h0M638.5 93.4h0M637.8 91.9h0M640.1 102.7h0M637.8 98.0h0M641.3 107.7h0M638.7 87.2h0M640.7 107.6h0M638.3 100.5h0M637.5 101.0h0M640.4 84.2h0M639.7 97.0h0M641.6 103.1h0M638.4 86.9h0M641.0 103.4h0M638.4 85.7h0M639.6 89.8h0M638.2 103.0h0M641.4 100.6h0M639.8 87.0h0M639.2 90.7h0M639.7 83.9h0M641.1 99.4h0M640.4 92.1h0M639.4 102.2h0M640.3 99.9h0M637.9 94.8h0M639.2 102.6h0M638.8 91.3h0M638.7 102.2h0M641.3 99.5h0M639.6 103.8h0M641.6 87.0h0M638.6 82.2h0M639.4 104.3h0M641.0 104.7h0M641.2 85.7h0M640.2 89.6h0M638.9 95.1h0M640.4 96.8h0M640.8 96.3h0M640.0 89.5h0M640.6 95.5h0M640.5 103.1h0M638.3 89.1h0M638.5 91.0h0M637.6 101.2h0M641.5 94.7h0M637.7 88.2h0M640.6 86.1h0M639.5 98.9h0M641.3 92.5h0M638.5 83.1h0M641.5 93.2h0M638.0 102.3h0M637.9 96.1h0M639.6 86.2h0M638.2 102.7h0M638.7 91.1h0M639.4 86.5h0M640.0 105.1h0M639.7 88.2h0M641.0 91.9h0M637.4 89.1h0M640.9 87.0h0M637.8 90.6h0M638.2 105.3h0M637.8 89.5h0M639.1 89.7h0M640.3 87.5h0M637.5 95.9h0M638.6 94.8h0M638.3 86.6h0M637.9 101.6h0M640.2 91.1h0M640.0 95.9h0M637.7 85.9h0M638.8 98.5h0M638.4 97.7h0M639.3 84.5h0M637.6 86.5h0M641.4 101.7h0M640.7 89.6h0M639.1 104.8h0M639.5 93.1h0M641.0 94.2h0M638.7 105.3h0M641.4 95.2h0M640.9 85.0h0M639.6 103.4h0M637.5 105.2h0M641.6 91.1h0M638.7 97.1h0M638.1 96.8h0M638.8 95.2h0M637.5 96.3h0M638.0 94.1h0M639.5 101.4h0" stroke="#a45cf5" stroke-width="1.00" stroke-linecap="round" stroke-opacity="0.45" fill="none"/>
<path d="M659.8 90.2h0M660.2 86.3h0M660.8 92.8h0M661.4 98.5h0M659.6 81.3h0M659.1 96.7h0M660.6 79.0h0M662.5 76.2h0M660.2 95.4h0M661.8 94.2h0M659.2 105.2h0M661.3 107.6h0M659.3 83.6h0M660.3 87.7h0M660.3 93.6h0M659.9 94.4h0M659.4 105.6h0M661.7 88.0h0M660.4 99.1h0M662.6 91.3h0M659.7 87.1h0M661.8 79.5h0M660.1 104.1h0M659.3 100.4h0M660.4 107.2h0M662.5 106.0h0M662.1 83.8h0M659.5 108.3h0M659.0 75.4h0M660.0 91.7h0M659.8 105.1h0M662.2 84.8h0M660.6 98.7h0M661.1 100.5h0M661.8 76.9h0M662.8 95.4h0M659.2 104.7h0M660.4 97.6h0M659.1 87.8h0M661.5 101.0h0M660.6 86.3h0M660.3 99.3h0M661.3 102.8h0M660.6 77.0h0M661.6 92.5h0M660.1 73.5h0M658.9 95.4h0M662.9 80.2h0M659.2 90.9h0M662.2 88.0h0M660.7 104.8h0M660.2 94.1h0M661.8 79.7h0M660.0 79.3h0M659.9 92.7h0M662.8 108.4h0M659.6 105.5h0M662.7 109.0h0M660.3 93.4h0M661.5 86.2h0M661.8 90.1h0M659.7 78.5h0M660.0 95.6h0M661.5 104.7h0M659.5 94.1h0M659.2 94.5h0M658.9 79.5h0M662.7 90.6h0M662.3 83.2h0M663.0 111.3h0M660.0 90.8h0M661.4 84.8h0M660.4 108.8h0M662.3 79.1h0M660.4 105.3h0M662.5 90.1h0M661.7 106.3h0M659.9 85.7h0M659.2 102.7h0M661.0 83.0h0M662.9 99.6h0M662.6 77.4h0M661.8 91.0h0M660.7 77.8h0M661.1 74.4h0M662.3 100.5h0M662.2 90.0h0M660.4 100.7h0M662.0 101.7h0M661.9 79.4h0M660.2 92.7h0M660.4 102.6h0M662.0 69.8h0M660.3 107.4h0M662.4 65.1h0M661.6 88.6h0M660.9 85.7h0M661.5 94.9h0M659.6 95.8h0M660.2 92.4h0M661.8 75.6h0M661.2 102.8h0M662.7 72.2h0M662.2 70.9h0M659.7 96.7h0M660.3 94.6h0M661.2 85.1h0M660.4 82.4h0M659.0 76.5h0M660.6 95.1h0M659.9 96.2h0M660.8 99.5h0M660.7 80.9h0M661.0 83.4h0M659.6 100.9h0M662.0 77.3h0M662.7 73.8h0M661.2 96.4h0M658.9 74.2h0M660.8 105.6h0M661.2 93.3h0M660.2 90.7h0M661.9 102.0h0M659.0 64.5h0M661.7 104.6h0M660.1 101.2h0M660.6 63.6h0M659.3 73.5h0M659.3 106.4h0M661.4 100.4h0M660.7 91.1h0M660.9 88.5h0M660.2 74.7h0M661.3 97.3h0M660.4 83.2h0M660.9 102.6h0M662.9 73.0h0M659.1 92.4h0M661.5 83.1h0M662.5 97.5h0M663.0 110.5h0M661.1 93.0h0M661.1 96.6h0M661.9 86.3h0M660.0 105.3h0M661.1 94.4h0M662.3 79.8h0M661.7 88.6h0M659.1 102.1h0M662.1 79.1h0M659.2 111.4h0M662.4 85.9h0M660.0 90.8h0M661.1 82.8h0M661.0 79.2h0M661.8 92.0h0M660.8 106.7h0M661.0 87.5h0M662.8 90.5h0M660.3 101.5h0M661.4 92.4h0M662.5 106.0h0M662.4 90.2h0M659.9 90.1h0M663.0 106.8h0M659.0 99.0h0M660.8 89.0h0M661.9 95.0h0M661.8 110.1h0M660.6 92.7h0M660.9 100.8h0M659.0 82.9h0M662.7 83.2h0M662.0 103.5h0M661.4 88.5h0M661.9 103.5h0M661.4 82.1h0M659.1 101.8h0M660.2 95.2h0M662.3 95.8h0M661.9 99.9h0M660.5 85.1h0M662.4 98.3h0M660.4 102.5h0M662.8 106.8h0M662.5 98.1h0M659.4 84.3h0M660.2 71.0h0M659.8 110.7h0M662.8 71.5h0M662.5 102.8h0M659.8 102.7h0M658.9 94.3h0M661.6 83.4h0M660.0 80.4h0M659.5 95.2h0M662.5 100.5h0M659.9 108.5h0M659.2 83.7h0M662.2 77.6h0M660.8 104.2h0M659.7 109.9h0M658.9 78.3h0M660.9 63.3h0M660.1 104.9h0M659.3 104.1h0M661.9 80.2h0M662.5 68.6h0M661.6 93.3h0M662.6 92.9h0M661.8 78.9h0M660.8 87.5h0M659.0 89.5h0M660.1 87.3h0M660.3 85.6h0M661.4 95.9h0M660.8 100.5h0M660.1 76.5h0M661.0 110.0h0M661.3 108.4h0M662.7 98.1h0M662.2 109.7h0M662.4 89.7h0M660.0 103.3h0M661.0 78.1h0M662.5 81.7h0M659.6 89.6h0M659.4 77.5h0M661.5 95.2h0M660.0 106.1h0M660.5 99.8h0M661.3 69.6h0M662.5 79.4h0M660.4 110.4h0M659.7 67.5h0M659.9 111.6h0M662.4 111.7h0M659.3 72.4h0M662.1 92.7h0M663.0 101.4h0M661.2 91.6h0M662.0 105.1h0M661.9 108.1h0M662.4 100.8h0M662.7 106.6h0M662.0 64.4h0M661.6 98.2h0M660.4 74.6h0M659.4 90.7h0M659.3 80.5h0M660.5 96.2h0M662.3 86.8h0M660.6 77.2h0M661.2 107.8h0M662.0 83.3h0M660.6 89.6h0M662.7 107.3h0M662.5 84.1h0M661.5 104.3h0M660.8 97.6h0M662.8 72.6h0M660.8 90.3h0M661.1 91.6h0M659.2 65.5h0M661.2 74.7h0M661.9 65.2h0M661.5 72.6h0M661.4 94.2h0M663.1 78.3h0M659.9 95.9h0M662.9 67.1h0M663.0 84.6h0M660.5 82.2h0M661.1 80.8h0M659.9 88.1h0M661.0 86.1h0M662.5 91.2h0M662.8 98.1h0M661.8 100.6h0M662.9 86.9h0M659.6 109.7h0M661.8 91.9h0M660.9 98.7h0M659.0 90.0h0M659.1 100.9h0M661.1 85.5h0M659.1 80.5h0M661.9 96.6h0M659.5 96.6h0M661.1 80.8h0M660.4 71.4h0M659.5 94.6h0M661.5 78.3h0M660.0 94.9h0M662.4 94.5h0M662.3 102.8h0M660.6 99.3h0M661.6 105.9h0M662.8 96.7h0M661.2 107.7h0" stroke="#5a6cf5" stroke-width="1.00" stroke-linecap="round" stroke-opacity="0.45" fill="none"/>
<path d="M590.8 112.5h11.6" stroke="#b8b8b8" stroke-width="1"/>
<path d="M612.3 99.5h11.6" stroke="#4a4a4a" stroke-width="1"/>
<path d="M633.7 94.5h11.6" stroke="#4a4a4a" stroke-width="1"/>
<path d="M655.2 90.5h11.6" stroke="#b8b8b8" stroke-width="1"/>
<rect x="585.9" y="36.4" width="85.8" height="78.9" fill="none" stroke="#8a8a8a" stroke-width="0.9"/>
<path d="M585.9 115.3h-1.6M585.9 96.4h-1.6M585.9 77.5h-1.6M585.9 58.6h-1.6M585.9 39.7h-1.6M585.9 105.8h-1M585.9 86.9h-1M585.9 68.0h-1M585.9 49.1h-1" stroke="#8a8a8a" stroke-width="0.7" fill="none"/>
<path d="M596.6 115.3v1.5M618.1 115.3v1.5M639.5 115.3v1.5M661.0 115.3v1.5" stroke="#8a8a8a" stroke-width="0.7"/>
<text x="596.6" y="126.8" font-size="8.5" text-anchor="middle" font-weight="normal" fill="#111" stroke="#111" stroke-width="0.18" >1</text>
<text x="618.1" y="126.8" font-size="8.5" text-anchor="middle" font-weight="normal" fill="#111" stroke="#111" stroke-width="0.18" >2</text>
<text x="639.5" y="126.8" font-size="8.5" text-anchor="middle" font-weight="normal" fill="#111" stroke="#111" stroke-width="0.18" >3</text>
<text x="661" y="126.8" font-size="8.5" text-anchor="middle" font-weight="normal" fill="#111" stroke="#111" stroke-width="0.18" >4</text>
<text x="629.6" y="136.3" font-size="8.8" text-anchor="middle" font-weight="normal" fill="#111" stroke="#111" stroke-width="0.18" >Case</text>
<text x="628.8" y="31.6" font-size="8.5" text-anchor="middle" font-weight="normal" fill="#111" stroke="#111" stroke-width="0.18" >Without pretreatment</text>
<path d="M43.5 227.7H130.6M43.5 241.5H130.6" stroke="#777" stroke-width="0.7" stroke-dasharray="0.9 1.1"/>
<path d="M44.1 244.6h0M44.3 244.6h0M44.6 244.8h0M44.8 244.8h0M45.0 244.4h0M45.3 244.8h0M45.5 244.7h0M45.8 244.7h0M46.0 244.8h0M46.2 244.5h0M46.5 244.8h0M46.7 245.1h0M46.9 244.3h0M47.2 244.8h0M47.4 244.7h0M47.6 244.6h0M47.9 244.8h0M48.1 245.0h0M48.3 244.9h0M48.6 244.9h0M48.8 244.6h0M49.1 244.8h0M49.3 244.6h0M49.5 245.3h0M49.8 245.0h0M50.0 244.7h0M50.2 245.0h0M50.5 244.6h0M50.7 244.8h0M50.9 244.8h0M51.2 245.0h0M51.4 244.8h0M51.7 245.1h0M51.9 244.6h0M52.1 244.7h0M52.4 244.9h0M52.6 245.1h0M52.8 244.7h0M53.1 245.0h0M53.3 244.6h0M53.5 244.6h0M53.8 245.0h0M54.0 244.9h0M54.2 244.4h0M54.5 244.7h0M54.7 244.6h0M55.0 245.0h0M55.2 244.6h0M55.4 245.2h0M55.7 244.7h0M55.9 244.6h0M56.1 244.9h0M56.4 244.7h0M56.6 244.9h0M56.8 244.9h0M57.1 244.8h0M57.3 244.8h0M57.6 244.8h0M57.8 244.8h0M58.0 245.1h0M58.3 245.2h0M58.5 244.8h0M58.7 245.5h0M59.0 245.3h0M59.2 245.2h0M59.4 244.7h0M59.7 244.8h0M59.9 244.2h0M60.1 245.0h0M60.4 245.0h0M60.6 245.0h0M60.9 245.3h0M61.1 244.7h0M61.3 245.2h0M61.6 245.1h0M61.8 244.9h0M62.0 245.1h0M62.3 244.8h0M62.5 244.8h0M62.7 244.8h0M63.0 245.0h0M63.2 245.2h0M63.5 245.0h0M63.7 245.2h0M63.9 245.4h0M64.2 245.4h0M64.4 244.8h0M64.6 245.3h0M64.9 244.7h0M65.1 245.0h0M65.3 245.1h0M65.6 245.0h0M65.8 244.6h0M66.0 245.4h0M66.3 244.9h0M66.5 245.2h0M66.8 245.3h0M67.0 245.6h0M67.2 245.4h0M67.5 245.4h0M67.7 245.2h0M67.9 245.1h0M68.2 245.3h0M68.4 245.5h0M68.6 245.1h0M68.9 245.8h0M69.1 245.7h0M69.4 245.9h0M69.6 245.8h0M69.8 245.9h0M70.1 246.1h0M70.3 246.1h0M70.5 246.3h0M70.8 246.6h0M71.0 246.3h0M71.2 246.7h0M71.5 246.8h0M71.7 246.5h0M71.9 246.9h0M72.2 246.8h0M72.4 246.2h0M72.7 246.6h0M72.9 246.9h0M73.1 246.9h0M73.4 246.5h0M73.6 246.5h0M73.8 246.8h0M74.1 246.4h0M74.3 246.9h0M74.5 246.1h0M74.8 246.1h0M75.0 245.9h0M75.3 246.6h0M75.5 246.1h0M75.7 245.7h0M76.0 246.0h0M76.2 246.1h0M76.4 245.7h0M76.7 246.3h0M76.9 246.0h0M77.1 245.8h0M77.4 246.0h0M77.6 245.8h0M77.8 245.6h0M78.1 245.6h0M78.3 245.8h0M78.6 246.1h0M78.8 246.1h0M79.0 246.0h0M79.3 245.9h0M79.5 245.9h0M79.7 245.1h0M80.0 245.8h0M80.2 245.8h0M80.4 245.6h0M80.7 246.0h0M80.9 245.9h0M81.2 245.6h0M81.4 245.9h0M81.6 245.5h0M81.9 245.8h0M82.1 245.6h0M82.3 245.3h0M82.6 245.4h0M82.8 245.6h0M83.0 245.6h0M83.3 245.5h0M83.5 245.7h0M83.7 245.9h0M84.0 245.4h0M84.2 245.4h0M84.5 245.6h0M84.7 245.7h0M84.9 245.9h0M85.2 245.7h0M85.4 245.7h0M85.6 245.5h0M85.9 245.4h0M86.1 245.6h0M86.3 245.5h0M86.6 245.9h0M86.8 245.5h0M87.0 245.3h0M87.3 245.7h0M87.5 246.0h0M87.8 245.4h0M88.0 245.2h0M88.2 245.3h0M88.5 245.6h0M88.7 245.4h0M88.9 246.0h0M89.2 245.5h0M89.4 245.7h0M89.6 245.2h0M89.9 245.7h0M90.1 245.0h0M90.4 244.9h0M90.6 245.0h0M90.8 245.2h0M91.1 245.7h0M91.3 245.6h0M91.5 245.3h0M91.8 245.4h0M92.0 245.7h0M92.2 245.6h0M92.5 245.8h0M92.7 245.5h0M92.9 245.7h0M93.2 245.4h0M93.4 245.6h0M93.7 245.9h0M93.9 245.5h0M94.1 246.4h0M94.4 246.2h0M94.6 246.1h0M94.8 245.8h0M95.1 245.5h0M95.3 245.8h0M95.5 246.0h0M95.8 246.1h0M96.0 246.6h0M96.3 246.3h0M96.5 245.9h0M96.7 246.2h0M97.0 246.4h0M97.2 246.3h0M97.4 246.5h0M97.7 246.8h0M97.9 246.5h0M98.1 246.6h0M98.4 246.8h0M98.6 246.6h0M98.8 246.6h0M99.1 246.5h0M99.3 246.6h0M99.6 246.6h0M99.8 246.7h0M100.0 246.9h0M100.3 246.8h0M100.5 246.8h0M100.7 246.6h0M101.0 246.8h0M101.2 247.0h0M101.4 246.7h0M101.7 246.9h0M101.9 246.7h0M102.2 246.3h0M102.4 246.6h0M102.6 247.1h0M102.9 247.0h0M103.1 246.6h0M103.3 247.0h0M103.6 246.7h0M103.8 246.5h0M104.0 246.6h0M104.3 246.6h0M104.5 246.4h0M104.7 246.4h0M105.0 246.4h0M105.2 246.1h0M105.5 246.3h0M105.7 246.1h0M105.9 245.7h0M106.2 245.8h0M106.4 245.9h0M106.6 245.9h0M106.9 245.8h0M107.1 245.7h0M107.3 246.0h0M107.6 245.9h0M107.8 245.4h0M108.1 245.9h0M108.3 245.2h0M108.5 245.4h0M108.8 245.5h0M109.0 245.6h0M109.2 245.4h0M109.5 245.2h0M109.7 245.3h0M109.9 245.0h0M110.2 245.2h0M110.4 245.4h0M110.6 245.1h0M110.9 245.0h0M111.1 245.2h0M111.4 245.4h0M111.6 245.3h0M111.8 244.9h0M112.1 245.3h0M112.3 244.6h0M112.5 244.8h0M112.8 245.4h0M113.0 245.2h0M113.2 244.9h0M113.5 245.1h0M113.7 244.8h0M114.0 244.6h0M114.2 244.6h0M114.4 245.0h0M114.7 244.5h0M114.9 244.5h0M115.1 244.8h0M115.4 244.5h0M115.6 244.8h0M115.8 245.0h0M116.1 244.4h0M116.3 244.4h0M116.5 244.9h0M116.8 245.3h0M117.0 244.4h0M117.3 244.8h0M117.5 244.5h0M117.7 245.0h0M118.0 244.5h0M118.2 244.4h0M118.4 244.6h0M118.7 244.4h0M118.9 244.6h0M119.1 244.4h0M119.4 244.8h0M119.6 244.8h0M119.9 245.1h0M120.1 244.7h0M120.3 244.7h0M120.6 244.9h0M120.8 244.4h0M121.0 244.7h0M121.3 243.9h0M121.5 244.5h0M121.7 244.8h0M122.0 244.6h0M122.2 244.5h0M122.4 244.4h0M122.7 244.3h0M122.9 244.7h0M123.2 244.4h0M123.4 244.6h0M123.6 244.4h0M123.9 244.7h0M124.1 244.6h0M124.3 244.6h0M124.6 244.8h0M124.8 244.6h0M125.0 244.5h0M125.3 245.1h0M125.5 244.8h0M125.8 244.8h0M126.0 244.4h0M126.2 244.6h0M126.5 244.6h0M126.7 244.8h0M126.9 244.5h0M127.2 244.7h0M127.4 244.4h0M127.6 244.7h0M127.9 244.6h0M128.1 244.5h0M128.3 244.5h0M128.6 245.0h0M128.8 244.6h0M129.1 244.6h0M129.3 245.1h0M129.5 244.9h0M129.8 244.4h0M130.0 244.6h0" stroke="#b0b0b0" stroke-width="1.20" stroke-linecap="round" stroke-opacity="0.6" fill="none"/>
<path d="M44.1 226.1h0M44.3 224.1h0M44.6 227.7h0M44.8 223.3h0M45.0 227.9h0M45.3 222.9h0M45.5 225.3h0M45.8 225.3h0M46.0 224.0h0M46.2 230.5h0M46.5 222.7h0M46.7 222.8h0M46.9 230.4h0M47.2 228.7h0M47.4 223.4h0M47.6 220.8h0M47.9 236.9h0M48.1 221.4h0M48.3 222.7h0M48.6 223.6h0M48.8 224.6h0M49.1 221.8h0M49.3 221.3h0M49.5 226.4h0M49.8 219.8h0M50.0 220.4h0M50.2 218.7h0M50.5 220.2h0M50.7 226.2h0M50.9 219.1h0M51.2 222.0h0M51.4 220.5h0M51.7 221.9h0M51.9 218.7h0M52.1 217.8h0M52.4 221.5h0M52.6 220.7h0M52.8 220.2h0M53.1 223.7h0M53.3 219.0h0M53.5 234.8h0M53.8 220.4h0M54.0 221.5h0M54.2 237.5h0M54.5 217.6h0M54.7 219.9h0M55.0 217.6h0M55.2 217.1h0M55.4 216.3h0M55.7 217.2h0M55.9 225.5h0M56.1 214.7h0M56.4 217.4h0M56.6 216.4h0M56.8 214.6h0M57.1 217.9h0M57.3 215.3h0M57.6 219.8h0M57.8 223.9h0M58.0 218.3h0M58.3 216.4h0M58.5 216.2h0M58.7 219.4h0M59.0 234.5h0M59.2 217.6h0M59.4 214.5h0M59.7 216.6h0M59.9 215.7h0M60.1 217.4h0M60.4 217.2h0M60.6 217.5h0M60.9 216.1h0M61.1 217.3h0M61.3 217.3h0M61.6 214.3h0M61.8 217.4h0M62.0 216.2h0M62.3 216.6h0M62.5 218.0h0M62.7 218.1h0M63.0 216.1h0M63.2 218.6h0M63.5 217.2h0M63.7 237.2h0M63.9 232.3h0M64.2 216.7h0M64.4 221.5h0M64.6 220.5h0M64.9 220.7h0M65.1 219.8h0M65.3 221.9h0M65.6 221.4h0M65.8 234.4h0M66.0 238.6h0M66.3 222.3h0M66.5 226.4h0M66.8 222.9h0M67.0 235.4h0M67.2 228.5h0M67.5 227.8h0M67.7 230.4h0M67.9 232.9h0M68.2 233.2h0M68.4 241.8h0M68.6 235.7h0M68.9 233.8h0M69.1 234.7h0M69.4 233.2h0M69.6 234.5h0M69.8 242.0h0M70.1 234.4h0M70.3 242.0h0M70.5 238.2h0M70.8 236.7h0M71.0 238.9h0M71.2 239.5h0M71.5 240.3h0M71.7 239.5h0M71.9 240.1h0M72.2 241.8h0M72.4 244.9h0M72.7 240.4h0M72.9 241.6h0M73.1 241.9h0M73.4 241.4h0M73.6 239.9h0M73.8 245.2h0M74.1 243.1h0M74.3 242.3h0M74.5 243.3h0M74.8 240.9h0M75.0 237.9h0M75.3 239.4h0M75.5 244.0h0M75.7 244.2h0M76.0 242.3h0M76.2 237.4h0M76.4 239.2h0M76.7 239.0h0M76.9 237.6h0M77.1 239.6h0M77.4 241.0h0M77.6 236.6h0M77.8 240.8h0M78.1 238.3h0M78.3 236.6h0M78.6 239.4h0M78.8 238.2h0M79.0 235.7h0M79.3 236.2h0M79.5 238.1h0M79.7 237.2h0M80.0 238.6h0M80.2 238.0h0M80.4 242.3h0M80.7 236.3h0M80.9 240.3h0M81.2 236.5h0M81.4 234.2h0M81.6 235.6h0M81.9 239.0h0M82.1 240.5h0M82.3 238.2h0M82.6 241.7h0M82.8 236.9h0M83.0 237.8h0M83.3 241.6h0M83.5 241.5h0M83.7 236.1h0M84.0 242.5h0M84.2 236.0h0M84.5 236.3h0M84.7 234.5h0M84.9 233.7h0M85.2 237.3h0M85.4 234.5h0M85.6 235.2h0M85.9 235.4h0M86.1 237.8h0M86.3 235.9h0M86.6 243.1h0M86.8 241.0h0M87.0 235.7h0M87.3 235.4h0M87.5 237.8h0M87.8 240.5h0M88.0 232.8h0M88.2 232.6h0M88.5 238.6h0M88.7 233.5h0M88.9 236.8h0M89.2 239.1h0M89.4 235.0h0M89.6 235.4h0M89.9 238.9h0M90.1 240.0h0M90.4 236.4h0M90.6 236.3h0M90.8 234.3h0M91.1 239.9h0M91.3 238.2h0M91.5 241.7h0M91.8 243.0h0M92.0 236.5h0M92.2 241.0h0M92.5 234.6h0M92.7 231.6h0M92.9 237.3h0M93.2 240.5h0M93.4 236.2h0M93.7 235.5h0M93.9 235.4h0M94.1 239.5h0M94.4 234.5h0M94.6 236.4h0M94.8 233.2h0M95.1 236.8h0M95.3 235.1h0M95.5 237.2h0M95.8 239.8h0M96.0 243.5h0M96.3 233.1h0M96.5 243.3h0M96.7 236.2h0M97.0 236.5h0M97.2 240.9h0M97.4 239.7h0M97.7 244.2h0M97.9 238.0h0M98.1 242.9h0M98.4 236.6h0M98.6 237.0h0M98.8 243.5h0M99.1 238.5h0M99.3 234.7h0M99.6 239.6h0M99.8 238.5h0M100.0 237.5h0M100.3 241.5h0M100.5 238.7h0M100.7 238.3h0M101.0 237.6h0M101.2 239.8h0M101.4 242.6h0M101.7 244.3h0M101.9 236.6h0M102.2 236.5h0M102.4 234.7h0M102.6 241.5h0M102.9 238.6h0M103.1 240.4h0M103.3 233.0h0M103.6 236.1h0M103.8 236.5h0M104.0 235.7h0M104.3 241.7h0M104.5 240.1h0M104.7 242.8h0M105.0 237.1h0M105.2 235.2h0M105.5 234.7h0M105.7 234.1h0M105.9 231.4h0M106.2 241.7h0M106.4 232.8h0M106.6 234.3h0M106.9 232.2h0M107.1 233.4h0M107.3 227.9h0M107.6 239.8h0M107.8 236.9h0M108.1 238.3h0M108.3 233.1h0M108.5 238.2h0M108.8 240.0h0M109.0 231.2h0M109.2 228.4h0M109.5 228.5h0M109.7 236.8h0M109.9 241.8h0M110.2 241.8h0M110.4 234.4h0M110.6 228.9h0M110.9 231.3h0M111.1 241.2h0M111.4 228.8h0M111.6 233.5h0M111.8 238.7h0M112.1 229.1h0M112.3 228.9h0M112.5 228.8h0M112.8 231.3h0M113.0 233.1h0M113.2 237.9h0M113.5 229.3h0M113.7 228.0h0M114.0 235.8h0M114.2 225.2h0M114.4 242.1h0M114.7 226.2h0M114.9 229.0h0M115.1 226.0h0M115.4 233.5h0M115.6 226.5h0M115.8 234.4h0M116.1 223.4h0M116.3 229.8h0M116.5 236.2h0M116.8 225.5h0M117.0 241.4h0M117.3 226.7h0M117.5 225.0h0M117.7 225.4h0M118.0 225.2h0M118.2 223.6h0M118.4 226.3h0M118.7 227.9h0M118.9 223.7h0M119.1 225.7h0M119.4 223.1h0M119.6 226.1h0M119.9 227.2h0M120.1 228.8h0M120.3 224.7h0M120.6 223.5h0M120.8 225.5h0M121.0 225.1h0M121.3 225.1h0M121.5 224.3h0M121.7 226.6h0M122.0 237.2h0M122.2 226.6h0M122.4 224.8h0M122.7 224.3h0M122.9 228.8h0M123.2 225.3h0M123.4 226.0h0M123.6 224.8h0M123.9 226.9h0M124.1 225.9h0M124.3 227.7h0M124.6 224.9h0M124.8 230.6h0M125.0 225.8h0M125.3 238.4h0M125.5 224.1h0M125.8 226.8h0M126.0 226.3h0M126.2 231.9h0M126.5 225.1h0M126.7 227.6h0M126.9 228.7h0M127.2 241.3h0M127.4 226.0h0M127.6 227.0h0M127.9 234.3h0M128.1 238.5h0M128.3 226.5h0M128.6 227.5h0M128.8 227.0h0M129.1 224.2h0M129.3 231.5h0M129.5 228.5h0M129.8 233.6h0M130.0 227.6h0" stroke="#f0505a" stroke-width="1.20" stroke-linecap="round" stroke-opacity="0.75" fill="none"/>
<path d="M44.1 183.3h0M44.3 184.4h0M44.6 186.4h0M44.8 182.1h0M45.0 187.0h0M45.3 181.4h0M45.5 182.0h0M45.8 180.6h0M46.0 180.9h0M46.2 213.0h0M46.5 181.1h0M46.7 183.1h0M46.9 182.2h0M47.2 176.8h0M47.4 180.5h0M47.6 179.9h0M47.9 187.0h0M48.1 177.9h0M48.3 180.8h0M48.6 181.3h0M48.8 211.0h0M49.1 177.8h0M49.3 175.9h0M49.5 176.2h0M49.8 202.8h0M50.0 175.3h0M50.2 178.3h0M50.5 176.7h0M50.7 174.6h0M50.9 172.1h0M51.2 176.8h0M51.4 177.2h0M51.7 175.3h0M51.9 199.3h0M52.1 220.2h0M52.4 174.4h0M52.6 172.8h0M52.8 172.3h0M53.1 173.8h0M53.3 176.0h0M53.5 208.6h0M53.8 174.2h0M54.0 174.7h0M54.2 172.6h0M54.5 173.3h0M54.7 173.8h0M55.0 174.2h0M55.2 172.9h0M55.4 175.3h0M55.7 175.9h0M55.9 174.9h0M56.1 175.8h0M56.4 175.2h0M56.6 177.9h0M56.8 174.7h0M57.1 175.6h0M57.3 205.3h0M57.6 173.5h0M57.8 174.1h0M58.0 177.2h0M58.3 174.8h0M58.5 174.8h0M58.7 176.9h0M59.0 174.9h0M59.2 176.9h0M59.4 178.0h0M59.7 175.5h0M59.9 183.1h0M60.1 173.7h0M60.4 176.6h0M60.6 229.2h0M60.9 177.3h0M61.1 177.8h0M61.3 178.4h0M61.6 194.9h0M61.8 179.9h0M62.0 177.0h0M62.3 180.6h0M62.5 177.6h0M62.7 222.8h0M63.0 218.7h0M63.2 181.1h0M63.5 179.7h0M63.7 182.0h0M63.9 230.4h0M64.2 184.3h0M64.4 222.6h0M64.6 210.4h0M64.9 184.9h0M65.1 187.4h0M65.3 188.2h0M65.6 189.5h0M65.8 228.7h0M66.0 191.4h0M66.3 194.5h0M66.5 194.1h0M66.8 196.2h0M67.0 197.5h0M67.2 198.3h0M67.5 233.4h0M67.7 201.2h0M67.9 232.3h0M68.2 233.8h0M68.4 210.7h0M68.6 206.4h0M68.9 216.1h0M69.1 209.1h0M69.4 228.0h0M69.6 214.2h0M69.8 216.5h0M70.1 218.7h0M70.3 229.6h0M70.5 239.2h0M70.8 226.1h0M71.0 233.3h0M71.2 231.9h0M71.5 228.7h0M71.7 231.2h0M71.9 235.3h0M72.2 232.0h0M72.4 228.4h0M72.7 233.6h0M72.9 231.2h0M73.1 228.8h0M73.4 230.3h0M73.6 229.6h0M73.8 238.2h0M74.1 225.9h0M74.3 227.5h0M74.5 227.2h0M74.8 239.3h0M75.0 218.3h0M75.3 231.1h0M75.5 220.1h0M75.7 213.9h0M76.0 225.9h0M76.2 227.5h0M76.4 235.6h0M76.7 211.9h0M76.9 213.8h0M77.1 216.1h0M77.4 229.0h0M77.6 213.7h0M77.8 207.4h0M78.1 206.4h0M78.3 205.5h0M78.6 220.1h0M78.8 222.7h0M79.0 220.5h0M79.3 222.6h0M79.5 203.0h0M79.7 219.5h0M80.0 206.0h0M80.2 197.6h0M80.4 224.3h0M80.7 200.7h0M80.9 213.5h0M81.2 230.8h0M81.4 194.1h0M81.6 221.0h0M81.9 222.5h0M82.1 191.2h0M82.3 203.3h0M82.6 203.6h0M82.8 214.5h0M83.0 211.3h0M83.3 200.8h0M83.5 221.3h0M83.7 193.7h0M84.0 207.6h0M84.2 203.5h0M84.5 192.9h0M84.7 211.3h0M84.9 197.3h0M85.2 214.2h0M85.4 205.9h0M85.6 186.2h0M85.9 187.6h0M86.1 206.5h0M86.3 229.3h0M86.6 231.6h0M86.8 225.9h0M87.0 199.8h0M87.3 184.6h0M87.5 201.0h0M87.8 223.7h0M88.0 188.9h0M88.2 186.5h0M88.5 187.3h0M88.7 188.4h0M88.9 229.3h0M89.2 198.1h0M89.4 229.6h0M89.6 186.3h0M89.9 186.6h0M90.1 185.5h0M90.4 184.6h0M90.6 231.4h0M90.8 185.6h0M91.1 207.6h0M91.3 182.0h0M91.5 198.7h0M91.8 228.0h0M92.0 205.0h0M92.2 227.5h0M92.5 186.7h0M92.7 216.2h0M92.9 205.4h0M93.2 190.5h0M93.4 206.4h0M93.7 223.2h0M93.9 222.3h0M94.1 206.0h0M94.4 209.4h0M94.6 232.3h0M94.8 231.2h0M95.1 204.0h0M95.3 210.3h0M95.5 196.4h0M95.8 215.5h0M96.0 198.3h0M96.3 200.0h0M96.5 204.4h0M96.7 207.8h0M97.0 215.4h0M97.2 227.2h0M97.4 234.0h0M97.7 235.0h0M97.9 206.8h0M98.1 234.4h0M98.4 229.4h0M98.6 209.3h0M98.8 216.5h0M99.1 228.0h0M99.3 214.8h0M99.6 225.1h0M99.8 234.0h0M100.0 218.0h0M100.3 233.9h0M100.5 234.2h0M100.7 227.8h0M101.0 220.7h0M101.2 220.4h0M101.4 225.1h0M101.7 240.5h0M101.9 234.0h0M102.2 227.9h0M102.4 235.1h0M102.6 230.0h0M102.9 229.0h0M103.1 239.2h0M103.3 223.3h0M103.6 222.9h0M103.8 229.5h0M104.0 221.0h0M104.3 233.8h0M104.5 218.0h0M104.7 239.0h0M105.0 222.0h0M105.2 229.8h0M105.5 236.6h0M105.7 223.0h0M105.9 225.7h0M106.2 212.1h0M106.4 228.3h0M106.6 213.4h0M106.9 208.9h0M107.1 231.5h0M107.3 220.8h0M107.6 210.6h0M107.8 209.2h0M108.1 203.8h0M108.3 235.8h0M108.5 218.9h0M108.8 216.7h0M109.0 204.5h0M109.2 198.1h0M109.5 196.8h0M109.7 196.8h0M109.9 193.9h0M110.2 233.8h0M110.4 194.9h0M110.6 190.5h0M110.9 224.6h0M111.1 225.7h0M111.4 192.1h0M111.6 198.4h0M111.8 198.2h0M112.1 202.7h0M112.3 212.3h0M112.5 187.7h0M112.8 224.4h0M113.0 223.2h0M113.2 221.4h0M113.5 185.7h0M113.7 186.6h0M114.0 195.5h0M114.2 226.4h0M114.4 225.6h0M114.7 208.0h0M114.9 225.3h0M115.1 209.7h0M115.4 182.9h0M115.6 215.0h0M115.8 182.6h0M116.1 183.9h0M116.3 182.5h0M116.5 182.6h0M116.8 203.9h0M117.0 193.9h0M117.3 221.3h0M117.5 181.7h0M117.7 178.2h0M118.0 180.6h0M118.2 177.9h0M118.4 180.6h0M118.7 179.8h0M118.9 201.9h0M119.1 212.5h0M119.4 181.4h0M119.6 181.8h0M119.9 205.8h0M120.1 179.0h0M120.3 203.1h0M120.6 229.1h0M120.8 226.3h0M121.0 207.8h0M121.3 179.3h0M121.5 181.2h0M121.7 213.8h0M122.0 201.9h0M122.2 179.5h0M122.4 182.6h0M122.7 206.5h0M122.9 178.9h0M123.2 210.4h0M123.4 181.0h0M123.6 179.8h0M123.9 225.1h0M124.1 183.4h0M124.3 197.7h0M124.6 182.0h0M124.8 192.3h0M125.0 226.2h0M125.3 179.6h0M125.5 179.2h0M125.8 192.9h0M126.0 191.1h0M126.2 180.9h0M126.5 180.7h0M126.7 180.6h0M126.9 184.1h0M127.2 228.5h0M127.4 180.1h0M127.6 180.6h0M127.9 226.4h0M128.1 181.3h0M128.3 179.6h0M128.6 183.5h0M128.8 227.0h0M129.1 181.1h0M129.3 182.1h0M129.5 213.0h0M129.8 181.4h0M130.0 230.6h0" stroke="#a45cf5" stroke-width="1.20" stroke-linecap="round" stroke-opacity="0.75" fill="none"/>
<path d="M44.1 209.1h0M44.3 204.6h0M44.6 232.8h0M44.8 206.9h0M45.0 222.8h0M45.3 206.2h0M45.5 208.5h0M45.8 227.8h0M46.0 205.2h0M46.2 206.4h0M46.5 207.5h0M46.7 207.0h0M46.9 212.6h0M47.2 208.3h0M47.4 209.8h0M47.6 204.3h0M47.9 232.3h0M48.1 207.5h0M48.3 205.9h0M48.6 205.0h0M48.8 205.0h0M49.1 205.7h0M49.3 206.1h0M49.5 205.4h0M49.8 204.6h0M50.0 235.2h0M50.2 201.9h0M50.5 203.8h0M50.7 203.0h0M50.9 203.0h0M51.2 204.3h0M51.4 230.0h0M51.7 210.9h0M51.9 201.6h0M52.1 202.0h0M52.4 203.7h0M52.6 201.4h0M52.8 211.2h0M53.1 201.0h0M53.3 234.4h0M53.5 208.6h0M53.8 199.6h0M54.0 202.4h0M54.2 204.5h0M54.5 202.4h0M54.7 200.2h0M55.0 201.0h0M55.2 203.2h0M55.4 234.2h0M55.7 201.3h0M55.9 203.6h0M56.1 201.1h0M56.4 200.6h0M56.6 201.0h0M56.8 201.0h0M57.1 198.2h0M57.3 202.6h0M57.6 201.2h0M57.8 198.6h0M58.0 200.2h0M58.3 202.7h0M58.5 199.8h0M58.7 204.5h0M59.0 201.4h0M59.2 199.8h0M59.4 202.8h0M59.7 199.7h0M59.9 200.7h0M60.1 201.0h0M60.4 196.9h0M60.6 199.9h0M60.9 201.1h0M61.1 204.1h0M61.3 211.0h0M61.6 229.7h0M61.8 215.9h0M62.0 201.2h0M62.3 203.9h0M62.5 223.5h0M62.7 202.0h0M63.0 205.5h0M63.2 203.4h0M63.5 220.2h0M63.7 204.4h0M63.9 203.8h0M64.2 216.0h0M64.4 204.2h0M64.6 204.7h0M64.9 206.2h0M65.1 207.2h0M65.3 217.4h0M65.6 207.0h0M65.8 210.1h0M66.0 207.4h0M66.3 236.3h0M66.5 210.4h0M66.8 221.0h0M67.0 223.8h0M67.2 237.7h0M67.5 230.9h0M67.7 223.1h0M67.9 234.9h0M68.2 235.5h0M68.4 219.9h0M68.6 219.9h0M68.9 221.7h0M69.1 229.9h0M69.4 231.0h0M69.6 228.3h0M69.8 232.7h0M70.1 233.3h0M70.3 227.1h0M70.5 234.2h0M70.8 237.7h0M71.0 230.5h0M71.2 240.8h0M71.5 237.5h0M71.7 242.3h0M71.9 229.3h0M72.2 232.0h0M72.4 232.8h0M72.7 234.6h0M72.9 238.6h0M73.1 236.6h0M73.4 231.4h0M73.6 234.3h0M73.8 242.2h0M74.1 234.8h0M74.3 227.2h0M74.5 224.9h0M74.8 224.5h0M75.0 227.0h0M75.3 227.8h0M75.5 223.0h0M75.7 218.1h0M76.0 237.0h0M76.2 223.5h0M76.4 223.5h0M76.7 225.3h0M76.9 238.0h0M77.1 230.7h0M77.4 215.1h0M77.6 227.1h0M77.8 228.7h0M78.1 215.5h0M78.3 215.5h0M78.6 217.6h0M78.8 226.1h0M79.0 213.1h0M79.3 217.0h0M79.5 232.3h0M79.7 231.7h0M80.0 220.5h0M80.2 210.2h0M80.4 231.5h0M80.7 212.4h0M80.9 207.9h0M81.2 216.8h0M81.4 234.1h0M81.6 225.8h0M81.9 211.8h0M82.1 218.1h0M82.3 225.8h0M82.6 204.0h0M82.8 218.0h0M83.0 208.2h0M83.3 209.8h0M83.5 232.4h0M83.7 206.4h0M84.0 227.4h0M84.2 221.9h0M84.5 219.5h0M84.7 219.9h0M84.9 209.0h0M85.2 203.4h0M85.4 230.1h0M85.6 232.8h0M85.9 231.9h0M86.1 227.1h0M86.3 234.0h0M86.6 236.1h0M86.8 202.5h0M87.0 226.0h0M87.3 209.0h0M87.5 230.0h0M87.8 228.0h0M88.0 235.2h0M88.2 205.4h0M88.5 210.2h0M88.7 205.7h0M88.9 214.3h0M89.2 229.3h0M89.4 220.9h0M89.6 203.6h0M89.9 202.0h0M90.1 219.1h0M90.4 231.5h0M90.6 219.4h0M90.8 207.8h0M91.1 203.0h0M91.3 198.6h0M91.5 200.9h0M91.8 219.6h0M92.0 203.5h0M92.2 234.1h0M92.5 216.6h0M92.7 207.3h0M92.9 229.9h0M93.2 207.4h0M93.4 222.7h0M93.7 211.0h0M93.9 212.0h0M94.1 228.8h0M94.4 229.0h0M94.6 216.3h0M94.8 207.7h0M95.1 213.7h0M95.3 220.6h0M95.5 212.4h0M95.8 226.5h0M96.0 210.2h0M96.3 230.0h0M96.5 218.5h0M96.7 234.0h0M97.0 233.2h0M97.2 215.3h0M97.4 217.8h0M97.7 236.1h0M97.9 236.8h0M98.1 235.1h0M98.4 219.4h0M98.6 220.8h0M98.8 229.6h0M99.1 224.5h0M99.3 223.6h0M99.6 235.0h0M99.8 234.7h0M100.0 228.1h0M100.3 224.2h0M100.5 221.3h0M100.7 233.2h0M101.0 230.4h0M101.2 239.4h0M101.4 237.9h0M101.7 239.8h0M101.9 230.3h0M102.2 229.1h0M102.4 239.7h0M102.6 226.6h0M102.9 230.4h0M103.1 231.7h0M103.3 242.5h0M103.6 236.5h0M103.8 228.8h0M104.0 233.5h0M104.3 237.2h0M104.5 228.2h0M104.7 232.3h0M105.0 236.7h0M105.2 228.2h0M105.5 225.7h0M105.7 241.4h0M105.9 223.0h0M106.2 223.8h0M106.4 231.0h0M106.6 239.0h0M106.9 232.2h0M107.1 226.2h0M107.3 231.8h0M107.6 219.8h0M107.8 218.6h0M108.1 226.6h0M108.3 227.0h0M108.5 229.2h0M108.8 236.9h0M109.0 227.9h0M109.2 233.6h0M109.5 217.7h0M109.7 239.4h0M109.9 215.6h0M110.2 230.8h0M110.4 213.8h0M110.6 224.7h0M110.9 229.2h0M111.1 212.3h0M111.4 209.7h0M111.6 211.3h0M111.8 217.8h0M112.1 223.3h0M112.3 210.3h0M112.5 212.4h0M112.8 215.6h0M113.0 218.1h0M113.2 235.3h0M113.5 205.6h0M113.7 231.8h0M114.0 231.5h0M114.2 203.0h0M114.4 216.3h0M114.7 206.3h0M114.9 205.7h0M115.1 206.7h0M115.4 229.8h0M115.6 205.5h0M115.8 226.9h0M116.1 207.4h0M116.3 220.6h0M116.5 205.8h0M116.8 202.7h0M117.0 213.6h0M117.3 202.7h0M117.5 234.5h0M117.7 204.9h0M118.0 228.2h0M118.2 205.9h0M118.4 209.2h0M118.7 220.6h0M118.9 227.1h0M119.1 204.6h0M119.4 224.9h0M119.6 204.2h0M119.9 200.6h0M120.1 207.2h0M120.3 214.0h0M120.6 203.0h0M120.8 206.7h0M121.0 226.7h0M121.3 234.8h0M121.5 206.1h0M121.7 221.5h0M122.0 205.0h0M122.2 227.0h0M122.4 205.0h0M122.7 204.9h0M122.9 212.3h0M123.2 233.2h0M123.4 224.3h0M123.6 220.2h0M123.9 207.2h0M124.1 208.0h0M124.3 206.9h0M124.6 216.0h0M124.8 205.2h0M125.0 205.4h0M125.3 207.8h0M125.5 206.7h0M125.8 234.8h0M126.0 205.4h0M126.2 234.0h0M126.5 207.0h0M126.7 227.0h0M126.9 209.9h0M127.2 220.0h0M127.4 206.8h0M127.6 207.3h0M127.9 218.7h0M128.1 207.5h0M128.3 222.4h0M128.6 208.9h0M128.8 236.6h0M129.1 208.9h0M129.3 211.1h0M129.5 208.4h0M129.8 208.4h0M130.0 218.3h0" stroke="#5a6cf5" stroke-width="1.20" stroke-linecap="round" stroke-opacity="0.75" fill="none"/>
<rect x="43.5" y="168.4" width="87.1" height="79.0" fill="none" stroke="#8a8a8a" stroke-width="0.9"/>
<path d="M43.5 247.4h-1.6M130.6 247.4h1.2M43.5 227.7h-1.6M130.6 227.7h1.2M43.5 207.9h-1.6M130.6 207.9h1.2M43.5 188.2h-1.6M130.6 188.2h1.2M43.5 168.4h-1.6M130.6 168.4h1.2M43.5 237.5h-1M43.5 217.8h-1M43.5 198.0h-1M43.5 178.3h-1" stroke="#8a8a8a" stroke-width="0.7" fill="none"/>
<text x="41.2" y="249.8" font-size="8" text-anchor="end" font-weight="normal" fill="#111" stroke="#111" stroke-width="0.18" >0</text>
<text x="41.2" y="230.1" font-size="8" text-anchor="end" font-weight="normal" fill="#111" stroke="#111" stroke-width="0.18" >50</text>
<text x="41.2" y="210.3" font-size="8" text-anchor="end" font-weight="normal" fill="#111" stroke="#111" stroke-width="0.18" >100</text>
<text x="41.2" y="190.6" font-size="8" text-anchor="end" font-weight="normal" fill="#111" stroke="#111" stroke-width="0.18" >150</text>
<text x="41.2" y="170.8" font-size="8" text-anchor="end" font-weight="normal" fill="#111" stroke="#111" stroke-width="0.18" >200</text>
<text x="45.3" y="255.7" font-size="6.5" text-anchor="middle" font-weight="normal" fill="#111" stroke="#111" stroke-width="0.18" >1/1</text>
<text x="125.2" y="255.7" font-size="6.5" text-anchor="middle" font-weight="normal" fill="#111" stroke="#111" stroke-width="0.18" >12/31</text>
<text x="87" y="256.7" font-size="8.2" text-anchor="middle" font-weight="normal" fill="#111" stroke="#111" stroke-width="0.18" >Day of year</text>
<text x="87" y="164.7" font-size="8.5" text-anchor="middle" font-weight="normal" fill="#111" stroke="#111" stroke-width="0.18" >With pretreatment</text>
<path d="M137.3 227.7H223.8M137.3 241.5H223.8" stroke="#777" stroke-width="0.7" stroke-dasharray="0.9 1.1"/>
<path d="M137.9 244.6h0M138.1 244.9h0M138.4 244.6h0M138.6 244.4h0M138.8 244.6h0M139.1 244.8h0M139.3 244.8h0M139.5 245.0h0M139.8 244.9h0M140.0 245.2h0M140.2 244.6h0M140.5 244.7h0M140.7 244.7h0M140.9 244.1h0M141.2 244.7h0M141.4 244.5h0M141.6 245.0h0M141.9 244.8h0M142.1 244.9h0M142.4 244.7h0M142.6 245.0h0M142.8 244.9h0M143.1 244.9h0M143.3 244.7h0M143.5 245.0h0M143.8 244.7h0M144.0 244.6h0M144.2 244.7h0M144.5 244.5h0M144.7 244.7h0M144.9 244.7h0M145.2 244.7h0M145.4 244.6h0M145.6 244.7h0M145.9 244.8h0M146.1 244.6h0M146.3 245.0h0M146.6 244.6h0M146.8 245.1h0M147.0 244.5h0M147.3 244.9h0M147.5 244.9h0M147.7 244.9h0M148.0 244.7h0M148.2 245.3h0M148.4 244.9h0M148.7 244.7h0M148.9 244.7h0M149.1 245.1h0M149.4 244.5h0M149.6 244.4h0M149.9 245.0h0M150.1 244.9h0M150.3 245.1h0M150.6 245.0h0M150.8 244.9h0M151.0 244.4h0M151.3 245.2h0M151.5 244.4h0M151.7 244.9h0M152.0 245.0h0M152.2 245.0h0M152.4 244.7h0M152.7 245.0h0M152.9 244.9h0M153.1 244.9h0M153.4 244.9h0M153.6 244.8h0M153.8 245.0h0M154.1 245.1h0M154.3 244.8h0M154.5 244.9h0M154.8 244.9h0M155.0 245.4h0M155.2 245.0h0M155.5 245.1h0M155.7 245.2h0M155.9 245.1h0M156.2 245.2h0M156.4 245.4h0M156.6 245.2h0M156.9 244.8h0M157.1 245.0h0M157.4 245.2h0M157.6 245.0h0M157.8 245.5h0M158.1 244.6h0M158.3 244.7h0M158.5 245.0h0M158.8 244.9h0M159.0 245.2h0M159.2 245.1h0M159.5 245.1h0M159.7 245.1h0M159.9 244.9h0M160.2 245.3h0M160.4 244.9h0M160.6 245.3h0M160.9 245.1h0M161.1 244.9h0M161.3 244.8h0M161.6 245.6h0M161.8 245.2h0M162.0 245.1h0M162.3 245.5h0M162.5 245.3h0M162.7 245.9h0M163.0 245.8h0M163.2 245.4h0M163.4 245.8h0M163.7 245.9h0M163.9 246.3h0M164.1 246.4h0M164.4 246.2h0M164.6 246.5h0M164.8 246.2h0M165.1 246.8h0M165.3 246.9h0M165.6 246.6h0M165.8 247.1h0M166.0 246.6h0M166.3 246.4h0M166.5 246.3h0M166.7 247.0h0M167.0 246.8h0M167.2 246.4h0M167.4 246.7h0M167.7 246.4h0M167.9 246.9h0M168.1 246.4h0M168.4 246.2h0M168.6 246.5h0M168.8 246.1h0M169.1 246.2h0M169.3 246.2h0M169.5 246.3h0M169.8 246.1h0M170.0 245.9h0M170.2 246.0h0M170.5 245.8h0M170.7 245.8h0M170.9 246.1h0M171.2 245.8h0M171.4 245.6h0M171.6 245.7h0M171.9 245.9h0M172.1 246.1h0M172.3 245.7h0M172.6 245.7h0M172.8 245.5h0M173.1 245.8h0M173.3 245.7h0M173.5 245.7h0M173.8 245.4h0M174.0 245.5h0M174.2 245.3h0M174.5 245.8h0M174.7 245.5h0M174.9 245.6h0M175.2 245.3h0M175.4 245.8h0M175.6 245.5h0M175.9 245.5h0M176.1 245.9h0M176.3 245.7h0M176.6 245.7h0M176.8 245.8h0M177.0 245.8h0M177.3 246.0h0M177.5 245.5h0M177.7 245.6h0M178.0 245.6h0M178.2 245.6h0M178.4 245.5h0M178.7 245.8h0M178.9 245.8h0M179.1 245.5h0M179.4 245.5h0M179.6 245.4h0M179.8 245.5h0M180.1 245.8h0M180.3 245.8h0M180.6 245.7h0M180.8 245.1h0M181.0 245.4h0M181.3 245.8h0M181.5 245.3h0M181.7 245.3h0M182.0 245.6h0M182.2 245.3h0M182.4 245.5h0M182.7 245.5h0M182.9 245.4h0M183.1 245.2h0M183.4 245.3h0M183.6 245.9h0M183.8 245.6h0M184.1 245.1h0M184.3 245.0h0M184.5 245.7h0M184.8 245.2h0M185.0 245.9h0M185.2 245.2h0M185.5 245.6h0M185.7 245.3h0M185.9 245.5h0M186.2 245.8h0M186.4 245.9h0M186.6 246.0h0M186.9 246.2h0M187.1 246.5h0M187.3 246.1h0M187.6 245.8h0M187.8 246.0h0M188.0 245.8h0M188.3 246.1h0M188.5 245.8h0M188.8 245.9h0M189.0 246.2h0M189.2 246.4h0M189.5 246.6h0M189.7 246.0h0M189.9 246.2h0M190.2 246.7h0M190.4 246.5h0M190.6 246.4h0M190.9 246.0h0M191.1 246.1h0M191.3 246.5h0M191.6 246.3h0M191.8 246.8h0M192.0 246.6h0M192.3 246.6h0M192.5 246.9h0M192.7 246.3h0M193.0 246.7h0M193.2 246.4h0M193.4 247.1h0M193.7 246.5h0M193.9 246.6h0M194.1 247.1h0M194.4 246.8h0M194.6 246.8h0M194.8 246.7h0M195.1 247.0h0M195.3 247.1h0M195.5 247.1h0M195.8 246.8h0M196.0 246.9h0M196.3 246.8h0M196.5 247.3h0M196.7 246.7h0M197.0 247.0h0M197.2 246.5h0M197.4 246.2h0M197.7 246.3h0M197.9 246.4h0M198.1 246.1h0M198.4 246.7h0M198.6 246.3h0M198.8 245.9h0M199.1 246.2h0M199.3 246.5h0M199.5 246.2h0M199.8 245.8h0M200.0 245.7h0M200.2 245.8h0M200.5 245.5h0M200.7 245.7h0M200.9 245.6h0M201.2 245.4h0M201.4 246.0h0M201.6 244.9h0M201.9 245.5h0M202.1 245.0h0M202.3 245.4h0M202.6 245.1h0M202.8 245.3h0M203.0 245.3h0M203.3 245.3h0M203.5 245.3h0M203.7 244.9h0M204.0 245.0h0M204.2 244.8h0M204.5 245.5h0M204.7 245.6h0M204.9 245.0h0M205.2 244.7h0M205.4 245.3h0M205.6 245.2h0M205.9 245.2h0M206.1 245.0h0M206.3 244.6h0M206.6 244.9h0M206.8 244.8h0M207.0 245.2h0M207.3 245.2h0M207.5 244.7h0M207.7 244.6h0M208.0 244.9h0M208.2 244.6h0M208.4 244.6h0M208.7 244.5h0M208.9 244.8h0M209.1 244.6h0M209.4 244.2h0M209.6 244.8h0M209.8 244.7h0M210.1 244.8h0M210.3 244.4h0M210.5 244.8h0M210.8 244.9h0M211.0 244.8h0M211.2 245.0h0M211.5 244.6h0M211.7 244.2h0M212.0 244.5h0M212.2 244.5h0M212.4 244.5h0M212.7 244.7h0M212.9 245.0h0M213.1 244.9h0M213.4 244.4h0M213.6 245.0h0M213.8 244.2h0M214.1 244.9h0M214.3 244.7h0M214.5 244.8h0M214.8 244.9h0M215.0 244.7h0M215.2 244.7h0M215.5 244.7h0M215.7 244.5h0M215.9 244.6h0M216.2 244.3h0M216.4 244.7h0M216.6 244.8h0M216.9 244.8h0M217.1 244.7h0M217.3 244.4h0M217.6 244.6h0M217.8 244.7h0M218.0 244.6h0M218.3 244.9h0M218.5 244.7h0M218.7 244.8h0M219.0 244.9h0M219.2 244.5h0M219.5 244.8h0M219.7 244.8h0M219.9 244.9h0M220.2 244.6h0M220.4 244.9h0M220.6 244.1h0M220.9 244.9h0M221.1 244.4h0M221.3 244.5h0M221.6 244.4h0M221.8 244.6h0M222.0 244.9h0M222.3 244.1h0M222.5 244.6h0M222.7 244.9h0M223.0 244.3h0M223.2 244.6h0" stroke="#b0b0b0" stroke-width="1.20" stroke-linecap="round" stroke-opacity="0.6" fill="none"/>
<path d="M137.9 219.9h0M138.1 224.1h0M138.4 218.7h0M138.6 218.0h0M138.8 218.8h0M139.1 217.3h0M139.3 218.1h0M139.5 219.2h0M139.8 218.6h0M140.0 237.0h0M140.2 218.6h0M140.5 219.5h0M140.7 218.3h0M140.9 217.7h0M141.2 217.7h0M141.4 220.2h0M141.6 219.8h0M141.9 218.7h0M142.1 230.2h0M142.4 217.9h0M142.6 216.0h0M142.8 216.0h0M143.1 235.4h0M143.3 217.8h0M143.5 218.2h0M143.8 219.1h0M144.0 217.6h0M144.2 219.4h0M144.5 216.6h0M144.7 220.1h0M144.9 216.1h0M145.2 218.0h0M145.4 229.1h0M145.6 234.7h0M145.9 217.4h0M146.1 217.5h0M146.3 231.6h0M146.6 221.4h0M146.8 216.2h0M147.0 217.4h0M147.3 216.4h0M147.5 220.7h0M147.7 217.9h0M148.0 218.7h0M148.2 217.1h0M148.4 215.9h0M148.7 227.8h0M148.9 216.6h0M149.1 216.5h0M149.4 220.0h0M149.6 217.3h0M149.9 220.3h0M150.1 234.1h0M150.3 216.5h0M150.6 215.5h0M150.8 216.2h0M151.0 220.1h0M151.3 218.6h0M151.5 221.4h0M151.7 218.2h0M152.0 233.9h0M152.2 220.2h0M152.4 218.5h0M152.7 217.3h0M152.9 218.1h0M153.1 227.8h0M153.4 228.0h0M153.6 216.9h0M153.8 218.6h0M154.1 218.5h0M154.3 225.4h0M154.5 217.1h0M154.8 219.1h0M155.0 227.9h0M155.2 219.2h0M155.5 219.8h0M155.7 218.8h0M155.9 220.1h0M156.2 219.8h0M156.4 237.4h0M156.6 220.0h0M156.9 223.1h0M157.1 222.2h0M157.4 236.4h0M157.6 238.7h0M157.8 234.3h0M158.1 228.1h0M158.3 223.8h0M158.5 224.3h0M158.8 224.4h0M159.0 224.7h0M159.2 227.2h0M159.5 226.5h0M159.7 227.3h0M159.9 227.9h0M160.2 227.9h0M160.4 228.5h0M160.6 230.9h0M160.9 234.1h0M161.1 229.0h0M161.3 242.8h0M161.6 240.9h0M161.8 233.1h0M162.0 236.8h0M162.3 239.2h0M162.5 234.0h0M162.7 232.7h0M163.0 234.8h0M163.2 239.8h0M163.4 235.9h0M163.7 239.3h0M163.9 237.5h0M164.1 240.5h0M164.4 240.8h0M164.6 241.1h0M164.8 239.8h0M165.1 239.7h0M165.3 241.6h0M165.6 239.1h0M165.8 244.5h0M166.0 241.9h0M166.3 244.8h0M166.5 243.9h0M166.7 244.6h0M167.0 240.6h0M167.2 241.3h0M167.4 242.0h0M167.7 239.3h0M167.9 245.0h0M168.1 239.9h0M168.4 244.4h0M168.6 245.6h0M168.8 240.4h0M169.1 243.5h0M169.3 239.9h0M169.5 235.5h0M169.8 237.9h0M170.0 237.1h0M170.2 237.6h0M170.5 236.0h0M170.7 243.9h0M170.9 242.5h0M171.2 238.0h0M171.4 239.1h0M171.6 237.8h0M171.9 243.1h0M172.1 241.7h0M172.3 237.3h0M172.6 240.6h0M172.8 235.2h0M173.1 243.6h0M173.3 238.8h0M173.5 235.7h0M173.8 240.4h0M174.0 240.2h0M174.2 237.3h0M174.5 236.2h0M174.7 244.2h0M174.9 235.7h0M175.2 241.3h0M175.4 236.7h0M175.6 238.1h0M175.9 237.2h0M176.1 238.3h0M176.3 236.9h0M176.6 237.1h0M176.8 242.5h0M177.0 235.7h0M177.3 232.8h0M177.5 243.1h0M177.7 233.1h0M178.0 243.0h0M178.2 235.4h0M178.4 235.6h0M178.7 242.3h0M178.9 231.8h0M179.1 239.3h0M179.4 234.1h0M179.6 234.9h0M179.8 233.1h0M180.1 243.1h0M180.3 233.2h0M180.6 233.0h0M180.8 243.0h0M181.0 238.7h0M181.3 240.2h0M181.5 232.5h0M181.7 236.1h0M182.0 237.3h0M182.2 241.3h0M182.4 238.0h0M182.7 238.9h0M182.9 230.0h0M183.1 231.4h0M183.4 241.3h0M183.6 241.7h0M183.8 242.0h0M184.1 243.8h0M184.3 234.1h0M184.5 242.9h0M184.8 233.6h0M185.0 243.3h0M185.2 232.7h0M185.5 233.5h0M185.7 241.0h0M185.9 230.5h0M186.2 243.2h0M186.4 230.5h0M186.6 230.0h0M186.9 230.1h0M187.1 232.6h0M187.3 231.2h0M187.6 231.2h0M187.8 237.2h0M188.0 236.7h0M188.3 233.8h0M188.5 232.0h0M188.8 235.1h0M189.0 234.8h0M189.2 232.8h0M189.5 233.2h0M189.7 237.4h0M189.9 234.9h0M190.2 236.0h0M190.4 234.7h0M190.6 236.1h0M190.9 244.6h0M191.1 236.8h0M191.3 237.4h0M191.6 238.6h0M191.8 241.7h0M192.0 237.8h0M192.3 242.4h0M192.5 237.6h0M192.7 236.2h0M193.0 238.1h0M193.2 239.8h0M193.4 239.5h0M193.7 238.1h0M193.9 242.2h0M194.1 238.0h0M194.4 239.7h0M194.6 245.0h0M194.8 245.2h0M195.1 244.1h0M195.3 239.6h0M195.5 239.9h0M195.8 243.7h0M196.0 245.6h0M196.3 238.8h0M196.5 239.9h0M196.7 239.5h0M197.0 242.0h0M197.2 242.4h0M197.4 244.7h0M197.7 240.5h0M197.9 241.2h0M198.1 240.0h0M198.4 243.1h0M198.6 240.0h0M198.8 244.9h0M199.1 239.4h0M199.3 239.6h0M199.5 240.0h0M199.8 245.0h0M200.0 237.9h0M200.2 242.9h0M200.5 238.7h0M200.7 239.2h0M200.9 241.8h0M201.2 240.6h0M201.4 239.9h0M201.6 239.3h0M201.9 234.5h0M202.1 242.0h0M202.3 235.7h0M202.6 240.8h0M202.8 243.6h0M203.0 234.4h0M203.3 234.3h0M203.5 231.4h0M203.7 239.0h0M204.0 230.8h0M204.2 235.0h0M204.5 231.9h0M204.7 230.3h0M204.9 242.2h0M205.2 228.2h0M205.4 238.0h0M205.6 242.6h0M205.9 241.1h0M206.1 234.9h0M206.3 242.7h0M206.6 226.9h0M206.8 234.8h0M207.0 228.7h0M207.3 239.0h0M207.5 227.5h0M207.7 227.8h0M208.0 226.7h0M208.2 228.1h0M208.4 238.4h0M208.7 224.8h0M208.9 225.8h0M209.1 224.0h0M209.4 228.7h0M209.6 227.0h0M209.8 226.9h0M210.1 224.5h0M210.3 229.0h0M210.5 233.6h0M210.8 224.2h0M211.0 232.4h0M211.2 225.0h0M211.5 220.2h0M211.7 224.7h0M212.0 224.0h0M212.2 226.1h0M212.4 227.9h0M212.7 224.6h0M212.9 222.1h0M213.1 222.0h0M213.4 222.7h0M213.6 222.4h0M213.8 222.3h0M214.1 221.2h0M214.3 222.7h0M214.5 241.8h0M214.8 232.0h0M215.0 235.2h0M215.2 219.7h0M215.5 231.8h0M215.7 223.7h0M215.9 221.5h0M216.2 220.8h0M216.4 220.2h0M216.6 239.0h0M216.9 222.6h0M217.1 218.6h0M217.3 221.4h0M217.6 234.3h0M217.8 220.9h0M218.0 219.9h0M218.3 222.0h0M218.5 239.5h0M218.7 221.2h0M219.0 221.9h0M219.2 225.1h0M219.5 233.8h0M219.7 225.9h0M219.9 222.1h0M220.2 223.8h0M220.4 223.7h0M220.6 221.8h0M220.9 222.9h0M221.1 223.0h0M221.3 229.4h0M221.6 233.4h0M221.8 225.2h0M222.0 221.0h0M222.3 228.8h0M222.5 223.8h0M222.7 222.6h0M223.0 223.8h0M223.2 223.6h0" stroke="#f0505a" stroke-width="1.20" stroke-linecap="round" stroke-opacity="0.75" fill="none"/>
<path d="M137.9 216.9h0M138.1 214.8h0M138.4 216.9h0M138.6 216.5h0M138.8 216.5h0M139.1 218.6h0M139.3 217.6h0M139.5 215.3h0M139.8 216.3h0M140.0 215.1h0M140.2 215.1h0M140.5 220.8h0M140.7 216.6h0M140.9 216.2h0M141.2 238.8h0M141.4 216.2h0M141.6 230.8h0M141.9 212.7h0M142.1 223.3h0M142.4 213.0h0M142.6 233.1h0M142.8 238.5h0M143.1 211.1h0M143.3 212.8h0M143.5 226.7h0M143.8 214.2h0M144.0 219.7h0M144.2 211.5h0M144.5 211.9h0M144.7 211.9h0M144.9 212.3h0M145.2 210.5h0M145.4 210.7h0M145.6 209.5h0M145.9 213.8h0M146.1 210.3h0M146.3 210.8h0M146.6 209.8h0M146.8 210.1h0M147.0 213.5h0M147.3 221.2h0M147.5 218.9h0M147.7 239.2h0M148.0 217.6h0M148.2 212.6h0M148.4 208.3h0M148.7 209.7h0M148.9 209.1h0M149.1 210.7h0M149.4 208.0h0M149.6 209.7h0M149.9 209.6h0M150.1 210.8h0M150.3 208.9h0M150.6 220.4h0M150.8 210.4h0M151.0 209.7h0M151.3 208.3h0M151.5 223.2h0M151.7 208.5h0M152.0 207.8h0M152.2 209.1h0M152.4 211.1h0M152.7 209.3h0M152.9 215.8h0M153.1 209.2h0M153.4 211.2h0M153.6 237.0h0M153.8 209.0h0M154.1 227.2h0M154.3 207.6h0M154.5 208.7h0M154.8 218.9h0M155.0 212.9h0M155.2 215.4h0M155.5 210.8h0M155.7 211.8h0M155.9 211.3h0M156.2 213.0h0M156.4 229.7h0M156.6 211.0h0M156.9 212.5h0M157.1 213.3h0M157.4 211.6h0M157.6 240.3h0M157.8 214.3h0M158.1 216.7h0M158.3 227.8h0M158.5 216.2h0M158.8 217.1h0M159.0 218.4h0M159.2 218.4h0M159.5 227.7h0M159.7 235.6h0M159.9 221.6h0M160.2 218.4h0M160.4 222.4h0M160.6 222.4h0M160.9 224.5h0M161.1 233.8h0M161.3 223.1h0M161.6 224.4h0M161.8 226.7h0M162.0 235.5h0M162.3 228.8h0M162.5 227.5h0M162.7 232.0h0M163.0 240.8h0M163.2 231.5h0M163.4 243.3h0M163.7 240.9h0M163.9 237.2h0M164.1 236.5h0M164.4 234.3h0M164.6 238.7h0M164.8 236.4h0M165.1 239.0h0M165.3 238.2h0M165.6 242.4h0M165.8 244.5h0M166.0 243.1h0M166.3 242.9h0M166.5 245.0h0M166.7 242.6h0M167.0 238.2h0M167.2 240.1h0M167.4 241.8h0M167.7 240.1h0M167.9 243.8h0M168.1 240.9h0M168.4 244.4h0M168.6 238.0h0M168.8 237.3h0M169.1 237.1h0M169.3 238.8h0M169.5 235.0h0M169.8 244.3h0M170.0 238.2h0M170.2 232.7h0M170.5 241.9h0M170.7 235.0h0M170.9 232.0h0M171.2 239.3h0M171.4 230.2h0M171.6 241.2h0M171.9 235.4h0M172.1 229.7h0M172.3 242.8h0M172.6 232.9h0M172.8 241.7h0M173.1 231.7h0M173.3 229.7h0M173.5 226.3h0M173.8 234.9h0M174.0 225.3h0M174.2 232.1h0M174.5 223.9h0M174.7 225.0h0M174.9 221.9h0M175.2 228.1h0M175.4 227.4h0M175.6 241.0h0M175.9 223.1h0M176.1 224.2h0M176.3 237.0h0M176.6 227.3h0M176.8 232.4h0M177.0 220.9h0M177.3 217.9h0M177.5 226.4h0M177.7 220.3h0M178.0 229.8h0M178.2 229.3h0M178.4 228.9h0M178.7 235.2h0M178.9 225.7h0M179.1 225.8h0M179.4 223.8h0M179.6 225.7h0M179.8 235.1h0M180.1 218.0h0M180.3 227.5h0M180.6 234.2h0M180.8 231.2h0M181.0 215.6h0M181.3 223.7h0M181.5 215.8h0M181.7 234.3h0M182.0 214.3h0M182.2 218.7h0M182.4 222.0h0M182.7 216.7h0M182.9 223.5h0M183.1 236.9h0M183.4 225.9h0M183.6 236.0h0M183.8 216.8h0M184.1 240.0h0M184.3 217.2h0M184.5 231.2h0M184.8 236.8h0M185.0 223.6h0M185.2 224.7h0M185.5 224.3h0M185.7 219.7h0M185.9 219.7h0M186.2 239.3h0M186.4 228.8h0M186.6 232.5h0M186.9 241.1h0M187.1 238.8h0M187.3 221.2h0M187.6 222.1h0M187.8 221.4h0M188.0 240.9h0M188.3 237.2h0M188.5 239.4h0M188.8 221.1h0M189.0 241.8h0M189.2 241.0h0M189.5 242.6h0M189.7 224.0h0M189.9 242.1h0M190.2 229.0h0M190.4 234.5h0M190.6 230.5h0M190.9 227.6h0M191.1 243.0h0M191.3 238.4h0M191.6 241.4h0M191.8 226.9h0M192.0 241.0h0M192.3 232.4h0M192.5 233.3h0M192.7 235.9h0M193.0 234.3h0M193.2 233.0h0M193.4 236.5h0M193.7 242.1h0M193.9 243.5h0M194.1 234.3h0M194.4 233.7h0M194.6 234.2h0M194.8 237.1h0M195.1 238.4h0M195.3 239.5h0M195.5 240.0h0M195.8 237.3h0M196.0 236.7h0M196.3 242.2h0M196.5 237.4h0M196.7 240.9h0M197.0 235.7h0M197.2 234.9h0M197.4 241.3h0M197.7 236.1h0M197.9 239.3h0M198.1 243.0h0M198.4 241.5h0M198.6 241.5h0M198.8 239.7h0M199.1 240.4h0M199.3 243.0h0M199.5 238.5h0M199.8 240.9h0M200.0 244.2h0M200.2 237.7h0M200.5 243.4h0M200.7 240.6h0M200.9 244.0h0M201.2 239.7h0M201.4 239.0h0M201.6 239.7h0M201.9 244.5h0M202.1 234.0h0M202.3 242.7h0M202.6 238.8h0M202.8 231.5h0M203.0 231.1h0M203.3 238.7h0M203.5 229.0h0M203.7 232.0h0M204.0 242.0h0M204.2 232.9h0M204.5 241.0h0M204.7 233.0h0M204.9 239.1h0M205.2 225.7h0M205.4 241.1h0M205.6 226.1h0M205.9 237.1h0M206.1 224.3h0M206.3 233.0h0M206.6 222.9h0M206.8 229.9h0M207.0 223.1h0M207.3 221.3h0M207.5 222.8h0M207.7 222.0h0M208.0 229.9h0M208.2 220.4h0M208.4 233.0h0M208.7 235.3h0M208.9 219.6h0M209.1 217.6h0M209.4 225.2h0M209.6 216.2h0M209.8 213.9h0M210.1 213.4h0M210.3 215.7h0M210.5 215.3h0M210.8 214.3h0M211.0 215.2h0M211.2 214.0h0M211.5 214.2h0M211.7 211.2h0M212.0 213.6h0M212.2 214.4h0M212.4 230.3h0M212.7 232.8h0M212.9 226.4h0M213.1 215.0h0M213.4 215.3h0M213.6 213.6h0M213.8 223.2h0M214.1 214.5h0M214.3 215.5h0M214.5 212.3h0M214.8 213.8h0M215.0 213.2h0M215.2 212.4h0M215.5 211.8h0M215.7 213.7h0M215.9 214.4h0M216.2 214.6h0M216.4 214.2h0M216.6 225.4h0M216.9 209.2h0M217.1 212.3h0M217.3 213.7h0M217.6 213.2h0M217.8 213.5h0M218.0 223.9h0M218.3 213.1h0M218.5 226.2h0M218.7 213.0h0M219.0 214.4h0M219.2 213.4h0M219.5 237.7h0M219.7 214.0h0M219.9 229.6h0M220.2 212.8h0M220.4 214.3h0M220.6 217.5h0M220.9 214.4h0M221.1 213.2h0M221.3 210.2h0M221.6 239.3h0M221.8 212.3h0M222.0 215.8h0M222.3 213.2h0M222.5 213.7h0M222.7 215.0h0M223.0 216.3h0M223.2 216.3h0" stroke="#a45cf5" stroke-width="1.20" stroke-linecap="round" stroke-opacity="0.75" fill="none"/>
<path d="M137.9 215.3h0M138.1 215.6h0M138.4 213.0h0M138.6 214.7h0M138.8 214.9h0M139.1 216.7h0M139.3 215.4h0M139.5 213.7h0M139.8 216.7h0M140.0 216.4h0M140.2 223.6h0M140.5 213.3h0M140.7 214.7h0M140.9 213.7h0M141.2 214.2h0M141.4 213.4h0M141.6 211.6h0M141.9 228.0h0M142.1 209.2h0M142.4 210.3h0M142.6 211.7h0M142.8 212.5h0M143.1 228.6h0M143.3 225.2h0M143.5 231.7h0M143.8 226.0h0M144.0 211.2h0M144.2 212.1h0M144.5 235.4h0M144.7 211.3h0M144.9 211.7h0M145.2 222.2h0M145.4 211.9h0M145.6 212.2h0M145.9 207.1h0M146.1 214.0h0M146.3 210.2h0M146.6 209.2h0M146.8 214.5h0M147.0 210.5h0M147.3 238.7h0M147.5 211.0h0M147.7 208.3h0M148.0 206.9h0M148.2 206.5h0M148.4 211.7h0M148.7 206.2h0M148.9 233.7h0M149.1 229.7h0M149.4 205.8h0M149.6 208.6h0M149.9 207.6h0M150.1 208.1h0M150.3 219.3h0M150.6 207.4h0M150.8 205.8h0M151.0 218.4h0M151.3 231.2h0M151.5 207.6h0M151.7 204.7h0M152.0 208.5h0M152.2 207.8h0M152.4 204.6h0M152.7 208.1h0M152.9 206.6h0M153.1 214.5h0M153.4 210.1h0M153.6 207.1h0M153.8 210.8h0M154.1 210.5h0M154.3 206.3h0M154.5 209.8h0M154.8 208.7h0M155.0 207.2h0M155.2 207.0h0M155.5 208.6h0M155.7 221.6h0M155.9 211.5h0M156.2 208.5h0M156.4 210.7h0M156.6 213.1h0M156.9 219.1h0M157.1 211.0h0M157.4 215.3h0M157.6 211.9h0M157.8 237.4h0M158.1 231.1h0M158.3 217.5h0M158.5 216.9h0M158.8 216.6h0M159.0 215.3h0M159.2 230.9h0M159.5 230.5h0M159.7 237.1h0M159.9 233.0h0M160.2 216.9h0M160.4 218.8h0M160.6 222.7h0M160.9 231.6h0M161.1 228.6h0M161.3 221.7h0M161.6 232.7h0M161.8 242.3h0M162.0 233.7h0M162.3 231.2h0M162.5 225.9h0M162.7 227.1h0M163.0 230.3h0M163.2 230.6h0M163.4 241.5h0M163.7 239.7h0M163.9 233.3h0M164.1 243.0h0M164.4 233.1h0M164.6 235.5h0M164.8 236.3h0M165.1 239.3h0M165.3 233.0h0M165.6 240.6h0M165.8 242.7h0M166.0 243.2h0M166.3 240.4h0M166.5 238.7h0M166.7 238.1h0M167.0 243.4h0M167.2 239.4h0M167.4 240.2h0M167.7 240.2h0M167.9 240.7h0M168.1 244.3h0M168.4 241.0h0M168.6 238.2h0M168.8 240.4h0M169.1 236.3h0M169.3 234.7h0M169.5 242.4h0M169.8 235.2h0M170.0 240.5h0M170.2 232.2h0M170.5 231.9h0M170.7 235.6h0M170.9 237.7h0M171.2 232.7h0M171.4 231.1h0M171.6 227.4h0M171.9 228.3h0M172.1 236.2h0M172.3 227.1h0M172.6 226.2h0M172.8 226.0h0M173.1 225.9h0M173.3 222.8h0M173.5 236.8h0M173.8 231.5h0M174.0 240.1h0M174.2 232.0h0M174.5 237.8h0M174.7 232.0h0M174.9 233.7h0M175.2 241.7h0M175.4 228.1h0M175.6 237.0h0M175.9 220.4h0M176.1 220.3h0M176.3 241.0h0M176.6 221.7h0M176.8 217.6h0M177.0 220.7h0M177.3 230.9h0M177.5 235.1h0M177.7 220.5h0M178.0 216.1h0M178.2 219.2h0M178.4 224.0h0M178.7 219.1h0M178.9 226.2h0M179.1 231.8h0M179.4 236.7h0M179.6 214.2h0M179.8 219.2h0M180.1 212.6h0M180.3 232.8h0M180.6 216.3h0M180.8 240.9h0M181.0 219.2h0M181.3 226.6h0M181.5 215.7h0M181.7 214.7h0M182.0 229.7h0M182.2 219.4h0M182.4 217.6h0M182.7 234.7h0M182.9 223.3h0M183.1 213.1h0M183.4 233.3h0M183.6 228.2h0M183.8 231.6h0M184.1 214.9h0M184.3 213.6h0M184.5 223.5h0M184.8 215.8h0M185.0 215.5h0M185.2 216.6h0M185.5 216.0h0M185.7 213.9h0M185.9 220.6h0M186.2 215.9h0M186.4 234.5h0M186.6 227.9h0M186.9 217.1h0M187.1 234.1h0M187.3 223.7h0M187.6 236.1h0M187.8 220.0h0M188.0 220.4h0M188.3 237.0h0M188.5 232.8h0M188.8 223.8h0M189.0 220.7h0M189.2 224.6h0M189.5 231.5h0M189.7 230.4h0M189.9 223.5h0M190.2 241.9h0M190.4 228.7h0M190.6 223.9h0M190.9 236.2h0M191.1 236.1h0M191.3 236.7h0M191.6 231.6h0M191.8 227.6h0M192.0 231.0h0M192.3 243.5h0M192.5 227.8h0M192.7 230.1h0M193.0 239.0h0M193.2 242.1h0M193.4 230.9h0M193.7 240.7h0M193.9 243.7h0M194.1 241.3h0M194.4 235.3h0M194.6 232.0h0M194.8 239.1h0M195.1 244.7h0M195.3 234.3h0M195.5 235.5h0M195.8 239.4h0M196.0 241.8h0M196.3 240.3h0M196.5 236.3h0M196.7 243.9h0M197.0 240.8h0M197.2 243.3h0M197.4 233.1h0M197.7 244.9h0M197.9 244.5h0M198.1 238.0h0M198.4 238.3h0M198.6 239.2h0M198.8 243.9h0M199.1 239.9h0M199.3 243.0h0M199.5 238.9h0M199.8 242.4h0M200.0 240.5h0M200.2 244.1h0M200.5 239.9h0M200.7 242.6h0M200.9 241.8h0M201.2 237.8h0M201.4 243.0h0M201.6 238.6h0M201.9 235.7h0M202.1 233.5h0M202.3 237.1h0M202.6 231.5h0M202.8 234.1h0M203.0 241.2h0M203.3 228.9h0M203.5 236.2h0M203.7 241.2h0M204.0 231.6h0M204.2 239.0h0M204.5 232.1h0M204.7 240.3h0M204.9 224.6h0M205.2 225.0h0M205.4 224.1h0M205.6 221.9h0M205.9 237.8h0M206.1 222.2h0M206.3 241.0h0M206.6 231.8h0M206.8 220.6h0M207.0 231.7h0M207.3 219.7h0M207.5 239.1h0M207.7 235.5h0M208.0 221.0h0M208.2 217.8h0M208.4 219.0h0M208.7 218.1h0M208.9 217.6h0M209.1 218.0h0M209.4 215.1h0M209.6 216.2h0M209.8 212.5h0M210.1 215.1h0M210.3 216.8h0M210.5 213.4h0M210.8 211.4h0M211.0 211.2h0M211.2 224.6h0M211.5 213.4h0M211.7 213.1h0M212.0 211.8h0M212.2 213.3h0M212.4 216.8h0M212.7 210.8h0M212.9 211.5h0M213.1 214.2h0M213.4 214.5h0M213.6 213.1h0M213.8 213.8h0M214.1 234.9h0M214.3 223.6h0M214.5 235.6h0M214.8 211.0h0M215.0 218.0h0M215.2 209.0h0M215.5 211.7h0M215.7 236.3h0M215.9 210.9h0M216.2 212.8h0M216.4 214.9h0M216.6 213.4h0M216.9 214.7h0M217.1 227.6h0M217.3 233.1h0M217.6 210.7h0M217.8 208.2h0M218.0 211.3h0M218.3 234.6h0M218.5 208.9h0M218.7 220.8h0M219.0 209.2h0M219.2 212.9h0M219.5 214.1h0M219.7 211.6h0M219.9 209.9h0M220.2 211.4h0M220.4 211.4h0M220.6 212.6h0M220.9 213.7h0M221.1 211.8h0M221.3 211.8h0M221.6 221.0h0M221.8 230.1h0M222.0 210.5h0M222.3 221.1h0M222.5 212.8h0M222.7 240.2h0M223.0 214.2h0M223.2 213.5h0" stroke="#5a6cf5" stroke-width="1.20" stroke-linecap="round" stroke-opacity="0.75" fill="none"/>
<rect x="137.3" y="168.4" width="86.5" height="79.0" fill="none" stroke="#8a8a8a" stroke-width="0.9"/>
<path d="M137.3 247.4h-1.6M223.8 247.4h1.2M137.3 227.7h-1.6M223.8 227.7h1.2M137.3 207.9h-1.6M223.8 207.9h1.2M137.3 188.2h-1.6M223.8 188.2h1.2M137.3 168.4h-1.6M223.8 168.4h1.2M137.3 237.5h-1M137.3 217.8h-1M137.3 198.0h-1M137.3 178.3h-1" stroke="#8a8a8a" stroke-width="0.7" fill="none"/>
<text x="139.1" y="255.7" font-size="6.5" text-anchor="middle" font-weight="normal" fill="#111" stroke="#111" stroke-width="0.18" >1/1</text>
<text x="218.4" y="255.7" font-size="6.5" text-anchor="middle" font-weight="normal" fill="#111" stroke="#111" stroke-width="0.18" >12/31</text>
<text x="180.6" y="256.7" font-size="8.2" text-anchor="middle" font-weight="normal" fill="#111" stroke="#111" stroke-width="0.18" >Day of year</text>
<text x="180.6" y="164.7" font-size="8.5" text-anchor="middle" font-weight="normal" fill="#111" stroke="#111" stroke-width="0.18" >Without pretreatment</text>
<rect x="141.8" y="173.6" width="3" height="3" fill="#c4c4c4"/>
<text x="146.8" y="176.7" font-size="4.5" text-anchor="start" font-weight="normal" fill="#222" stroke="#222" stroke-width="0.04" text-rendering="optimizeLegibility">Case 1-SODIS</text>
<circle cx="143.3" cy="180.7" r="1.6" fill="#f05a68"/>
<text x="146.8" y="182.3" font-size="4.5" text-anchor="start" font-weight="normal" fill="#222" stroke="#222" stroke-width="0.04" text-rendering="optimizeLegibility">Case 2-SOPAS + SODIS</text>
<path d="M141.5 187.6L143.3 184.5L145.1 187.6Z" fill="#b888f8"/>
<text x="146.8" y="187.8" font-size="4.5" text-anchor="start" font-weight="normal" fill="#222" stroke="#222" stroke-width="0.04" text-rendering="optimizeLegibility">Case 3-Photosensitization + SODIS</text>
<path d="M141.5 190.0L143.3 193.1L145.1 190.0Z" fill="#8c9cf8"/>
<text x="146.8" y="193" font-size="4.5" text-anchor="start" font-weight="normal" fill="#222" stroke="#222" stroke-width="0.04" text-rendering="optimizeLegibility">Case 4-Combined</text>
<path d="M267.0 227.7H354.1M267.0 241.5H354.1" stroke="#777" stroke-width="0.7" stroke-dasharray="0.9 1.1"/>
<path d="M267.6 244.6h0M267.8 245.1h0M268.1 244.9h0M268.3 245.1h0M268.5 244.9h0M268.8 245.5h0M269.0 245.2h0M269.3 245.1h0M269.5 244.9h0M269.7 245.0h0M270.0 245.2h0M270.2 245.1h0M270.4 245.3h0M270.7 245.3h0M270.9 245.2h0M271.1 245.0h0M271.4 244.6h0M271.6 245.1h0M271.8 245.2h0M272.1 245.0h0M272.3 245.6h0M272.6 244.9h0M272.8 244.8h0M273.0 245.3h0M273.3 245.2h0M273.5 244.6h0M273.7 245.0h0M274.0 245.2h0M274.2 245.2h0M274.4 244.6h0M274.7 245.1h0M274.9 245.2h0M275.2 245.0h0M275.4 244.6h0M275.6 245.3h0M275.9 245.5h0M276.1 244.7h0M276.3 245.0h0M276.6 244.8h0M276.8 244.8h0M277.0 245.3h0M277.3 245.4h0M277.5 244.7h0M277.7 245.2h0M278.0 245.0h0M278.2 245.3h0M278.5 244.9h0M278.7 245.2h0M278.9 245.3h0M279.2 244.8h0M279.4 244.9h0M279.6 245.1h0M279.9 244.8h0M280.1 245.3h0M280.3 244.8h0M280.6 244.7h0M280.8 244.9h0M281.1 245.1h0M281.3 245.2h0M281.5 245.0h0M281.8 245.3h0M282.0 245.0h0M282.2 245.1h0M282.5 245.1h0M282.7 245.0h0M282.9 245.3h0M283.2 245.0h0M283.4 245.0h0M283.6 245.4h0M283.9 244.7h0M284.1 245.1h0M284.4 245.1h0M284.6 244.8h0M284.8 244.9h0M285.1 245.5h0M285.3 244.6h0M285.5 244.7h0M285.8 245.2h0M286.0 244.9h0M286.2 244.9h0M286.5 245.3h0M286.7 245.0h0M287.0 245.0h0M287.2 244.7h0M287.4 245.6h0M287.7 245.1h0M287.9 245.3h0M288.1 244.7h0M288.4 245.3h0M288.6 245.3h0M288.8 245.2h0M289.1 245.0h0M289.3 245.0h0M289.5 244.9h0M289.8 245.1h0M290.0 245.1h0M290.3 245.2h0M290.5 245.2h0M290.7 245.2h0M291.0 245.3h0M291.2 244.6h0M291.4 245.0h0M291.7 245.0h0M291.9 245.1h0M292.1 245.1h0M292.4 244.7h0M292.6 244.6h0M292.9 245.1h0M293.1 245.1h0M293.3 244.6h0M293.6 245.3h0M293.8 245.0h0M294.0 244.9h0M294.3 245.2h0M294.5 244.8h0M294.7 245.4h0M295.0 244.9h0M295.2 244.7h0M295.4 245.3h0M295.7 244.9h0M295.9 244.7h0M296.2 245.1h0M296.4 245.0h0M296.6 245.1h0M296.9 245.4h0M297.1 245.0h0M297.3 244.6h0M297.6 245.1h0M297.8 244.7h0M298.0 245.7h0M298.3 245.1h0M298.5 245.6h0M298.8 245.3h0M299.0 245.0h0M299.2 244.7h0M299.5 245.1h0M299.7 244.7h0M299.9 245.1h0M300.2 245.1h0M300.4 245.4h0M300.6 245.3h0M300.9 245.2h0M301.1 245.1h0M301.3 244.6h0M301.6 244.6h0M301.8 244.8h0M302.1 245.0h0M302.3 244.9h0M302.5 244.7h0M302.8 245.4h0M303.0 245.1h0M303.2 244.8h0M303.5 245.3h0M303.7 244.7h0M303.9 244.9h0M304.2 245.0h0M304.4 245.0h0M304.7 245.1h0M304.9 244.9h0M305.1 245.1h0M305.4 245.2h0M305.6 245.1h0M305.8 244.7h0M306.1 245.3h0M306.3 244.8h0M306.5 244.8h0M306.8 245.1h0M307.0 245.1h0M307.2 244.9h0M307.5 245.2h0M307.7 245.4h0M308.0 244.7h0M308.2 245.4h0M308.4 245.2h0M308.7 245.2h0M308.9 245.1h0M309.1 244.8h0M309.4 245.2h0M309.6 245.1h0M309.8 245.0h0M310.1 245.2h0M310.3 244.9h0M310.6 244.7h0M310.8 244.9h0M311.0 244.6h0M311.3 244.9h0M311.5 244.9h0M311.7 245.7h0M312.0 245.2h0M312.2 244.8h0M312.4 245.3h0M312.7 245.1h0M312.9 244.8h0M313.1 244.8h0M313.4 245.0h0M313.6 245.0h0M313.9 244.9h0M314.1 245.5h0M314.3 245.0h0M314.6 245.2h0M314.8 245.1h0M315.0 245.4h0M315.3 245.5h0M315.5 245.1h0M315.7 244.9h0M316.0 244.9h0M316.2 245.4h0M316.4 245.2h0M316.7 245.3h0M316.9 245.0h0M317.2 244.8h0M317.4 244.9h0M317.6 244.9h0M317.9 244.6h0M318.1 245.1h0M318.3 245.1h0M318.6 244.8h0M318.8 245.4h0M319.0 245.3h0M319.3 245.0h0M319.5 244.6h0M319.8 245.3h0M320.0 245.0h0M320.2 245.2h0M320.5 244.9h0M320.7 244.9h0M320.9 245.0h0M321.2 245.2h0M321.4 245.1h0M321.6 245.4h0M321.9 245.3h0M322.1 244.9h0M322.3 245.7h0M322.6 244.7h0M322.8 245.3h0M323.1 244.9h0M323.3 244.7h0M323.5 245.7h0M323.8 245.4h0M324.0 245.2h0M324.2 245.0h0M324.5 244.8h0M324.7 244.6h0M324.9 245.1h0M325.2 244.7h0M325.4 245.1h0M325.7 245.1h0M325.9 244.8h0M326.1 245.2h0M326.4 245.3h0M326.6 244.8h0M326.8 245.0h0M327.1 245.0h0M327.3 245.0h0M327.5 245.5h0M327.8 244.9h0M328.0 244.6h0M328.2 245.0h0M328.5 244.9h0M328.7 245.0h0M329.0 244.7h0M329.2 244.9h0M329.4 245.6h0M329.7 244.8h0M329.9 244.8h0M330.1 245.5h0M330.4 245.1h0M330.6 244.8h0M330.8 244.7h0M331.1 245.2h0M331.3 244.4h0M331.6 244.9h0M331.8 245.0h0M332.0 244.9h0M332.3 244.9h0M332.5 244.8h0M332.7 245.3h0M333.0 244.9h0M333.2 244.9h0M333.4 244.3h0M333.7 244.9h0M333.9 245.1h0M334.1 245.2h0M334.4 245.0h0M334.6 245.1h0M334.9 245.4h0M335.1 245.3h0M335.3 245.1h0M335.6 245.1h0M335.8 244.7h0M336.0 244.8h0M336.3 245.0h0M336.5 244.8h0M336.7 245.1h0M337.0 245.3h0M337.2 245.4h0M337.5 245.0h0M337.7 244.9h0M337.9 244.8h0M338.2 245.6h0M338.4 245.2h0M338.6 245.0h0M338.9 245.1h0M339.1 245.5h0M339.3 245.0h0M339.6 245.1h0M339.8 244.8h0M340.0 245.3h0M340.3 244.7h0M340.5 245.3h0M340.8 244.6h0M341.0 245.0h0M341.2 244.8h0M341.5 245.1h0M341.7 245.3h0M341.9 244.7h0M342.2 245.1h0M342.4 244.8h0M342.6 245.2h0M342.9 245.2h0M343.1 245.1h0M343.4 244.7h0M343.6 245.1h0M343.8 244.5h0M344.1 245.0h0M344.3 244.6h0M344.5 245.4h0M344.8 245.1h0M345.0 244.8h0M345.2 244.7h0M345.5 245.1h0M345.7 244.5h0M345.9 245.3h0M346.2 244.9h0M346.4 244.7h0M346.7 244.8h0M346.9 244.9h0M347.1 244.7h0M347.4 245.2h0M347.6 244.8h0M347.8 245.3h0M348.1 245.2h0M348.3 244.8h0M348.5 244.8h0M348.8 245.1h0M349.0 245.3h0M349.3 245.1h0M349.5 245.2h0M349.7 244.6h0M350.0 244.4h0M350.2 245.2h0M350.4 244.9h0M350.7 244.9h0M350.9 244.9h0M351.1 244.9h0M351.4 244.8h0M351.6 245.5h0M351.8 245.1h0M352.1 245.2h0M352.3 245.1h0M352.6 245.3h0M352.8 245.1h0M353.0 245.1h0M353.3 244.9h0M353.5 244.9h0" stroke="#b0b0b0" stroke-width="1.20" stroke-linecap="round" stroke-opacity="0.6" fill="none"/>
<path d="M267.6 238.7h0M267.8 237.5h0M268.1 241.1h0M268.3 236.3h0M268.5 236.1h0M268.8 235.8h0M269.0 233.8h0M269.3 234.3h0M269.5 239.0h0M269.7 237.6h0M270.0 233.0h0M270.2 234.6h0M270.4 231.6h0M270.7 229.2h0M270.9 237.0h0M271.1 234.1h0M271.4 234.2h0M271.6 237.2h0M271.8 228.8h0M272.1 230.8h0M272.3 231.0h0M272.6 234.1h0M272.8 230.0h0M273.0 233.2h0M273.3 228.3h0M273.5 230.2h0M273.7 228.1h0M274.0 226.0h0M274.2 230.1h0M274.4 228.3h0M274.7 229.1h0M274.9 228.4h0M275.2 225.3h0M275.4 228.0h0M275.6 228.0h0M275.9 224.7h0M276.1 225.5h0M276.3 233.6h0M276.6 222.9h0M276.8 229.3h0M277.0 223.7h0M277.3 222.1h0M277.5 223.2h0M277.7 233.0h0M278.0 223.5h0M278.2 220.9h0M278.5 227.9h0M278.7 231.6h0M278.9 222.4h0M279.2 227.3h0M279.4 222.4h0M279.6 216.2h0M279.9 218.5h0M280.1 218.5h0M280.3 217.0h0M280.6 229.5h0M280.8 216.6h0M281.1 217.6h0M281.3 221.6h0M281.5 214.6h0M281.8 223.1h0M282.0 214.7h0M282.2 220.5h0M282.5 221.8h0M282.7 213.7h0M282.9 211.9h0M283.2 221.9h0M283.4 210.8h0M283.6 224.5h0M283.9 210.0h0M284.1 212.5h0M284.4 224.6h0M284.6 212.0h0M284.8 207.3h0M285.1 209.4h0M285.3 208.5h0M285.5 213.4h0M285.8 215.0h0M286.0 208.4h0M286.2 209.0h0M286.5 223.7h0M286.7 209.5h0M287.0 207.8h0M287.2 207.1h0M287.4 219.7h0M287.7 208.7h0M287.9 215.9h0M288.1 208.3h0M288.4 223.4h0M288.6 214.1h0M288.8 208.7h0M289.1 205.7h0M289.3 213.9h0M289.5 213.9h0M289.8 208.3h0M290.0 222.1h0M290.3 214.2h0M290.5 204.6h0M290.7 205.0h0M291.0 208.6h0M291.2 224.6h0M291.4 225.5h0M291.7 204.4h0M291.9 217.2h0M292.1 209.8h0M292.4 210.8h0M292.6 223.5h0M292.9 222.2h0M293.1 209.7h0M293.3 208.9h0M293.6 227.9h0M293.8 224.0h0M294.0 216.2h0M294.3 209.6h0M294.5 211.3h0M294.7 210.3h0M295.0 211.4h0M295.2 214.2h0M295.4 214.5h0M295.7 220.5h0M295.9 213.1h0M296.2 210.9h0M296.4 214.1h0M296.6 221.9h0M296.9 215.8h0M297.1 209.5h0M297.3 224.8h0M297.6 225.7h0M297.8 229.9h0M298.0 217.9h0M298.3 222.9h0M298.5 220.1h0M298.8 228.2h0M299.0 214.4h0M299.2 214.3h0M299.5 215.3h0M299.7 229.3h0M299.9 212.9h0M300.2 229.1h0M300.4 215.6h0M300.6 219.9h0M300.9 219.5h0M301.1 214.7h0M301.3 215.8h0M301.6 214.8h0M301.8 215.8h0M302.1 218.0h0M302.3 222.7h0M302.5 227.3h0M302.8 215.8h0M303.0 229.2h0M303.2 225.3h0M303.5 222.7h0M303.7 215.8h0M303.9 220.1h0M304.2 227.6h0M304.4 222.7h0M304.7 217.3h0M304.9 221.7h0M305.1 223.4h0M305.4 219.6h0M305.6 224.0h0M305.8 217.3h0M306.1 218.6h0M306.3 216.5h0M306.5 218.9h0M306.8 232.2h0M307.0 220.4h0M307.2 224.7h0M307.5 232.1h0M307.7 220.0h0M308.0 219.0h0M308.2 221.0h0M308.4 231.5h0M308.7 227.4h0M308.9 230.2h0M309.1 221.7h0M309.4 220.4h0M309.6 216.6h0M309.8 216.8h0M310.1 219.8h0M310.3 216.7h0M310.6 219.6h0M310.8 216.9h0M311.0 229.0h0M311.3 216.5h0M311.5 226.0h0M311.7 218.1h0M312.0 219.7h0M312.2 228.7h0M312.4 216.5h0M312.7 230.7h0M312.9 215.4h0M313.1 220.8h0M313.4 215.5h0M313.6 215.8h0M313.9 222.7h0M314.1 214.4h0M314.3 214.3h0M314.6 213.2h0M314.8 214.5h0M315.0 217.6h0M315.3 223.1h0M315.5 224.4h0M315.7 227.9h0M316.0 216.4h0M316.2 217.3h0M316.4 214.7h0M316.7 211.7h0M316.9 218.0h0M317.2 221.6h0M317.4 213.3h0M317.6 225.3h0M317.9 211.9h0M318.1 212.0h0M318.3 209.9h0M318.6 210.1h0M318.8 209.2h0M319.0 209.6h0M319.3 207.6h0M319.5 209.8h0M319.8 227.7h0M320.0 207.7h0M320.2 222.1h0M320.5 217.0h0M320.7 207.6h0M320.9 209.2h0M321.2 206.6h0M321.4 207.8h0M321.6 205.5h0M321.9 205.7h0M322.1 205.8h0M322.3 206.2h0M322.6 221.5h0M322.8 205.1h0M323.1 218.0h0M323.3 206.5h0M323.5 201.6h0M323.8 202.6h0M324.0 203.2h0M324.2 204.5h0M324.5 203.5h0M324.7 220.0h0M324.9 222.3h0M325.2 209.6h0M325.4 200.6h0M325.7 209.9h0M325.9 201.4h0M326.1 219.9h0M326.4 200.3h0M326.6 199.9h0M326.8 215.9h0M327.1 201.2h0M327.3 201.6h0M327.5 200.6h0M327.8 217.4h0M328.0 200.5h0M328.2 204.0h0M328.5 205.7h0M328.7 221.8h0M329.0 201.8h0M329.2 218.4h0M329.4 200.5h0M329.7 198.7h0M329.9 200.1h0M330.1 217.8h0M330.4 197.5h0M330.6 198.9h0M330.8 198.4h0M331.1 202.1h0M331.3 199.0h0M331.6 200.9h0M331.8 200.3h0M332.0 203.0h0M332.3 204.9h0M332.5 216.4h0M332.7 203.5h0M333.0 202.4h0M333.2 219.4h0M333.4 203.5h0M333.7 202.2h0M333.9 206.6h0M334.1 204.0h0M334.4 204.1h0M334.6 205.1h0M334.9 222.9h0M335.1 212.1h0M335.3 207.1h0M335.6 217.2h0M335.8 206.5h0M336.0 208.8h0M336.3 218.1h0M336.5 208.6h0M336.7 209.3h0M337.0 226.0h0M337.2 209.2h0M337.5 208.8h0M337.7 208.2h0M337.9 210.5h0M338.2 225.3h0M338.4 227.5h0M338.6 214.8h0M338.9 214.9h0M339.1 212.7h0M339.3 213.7h0M339.6 223.6h0M339.8 220.2h0M340.0 222.5h0M340.3 220.3h0M340.5 227.5h0M340.8 219.5h0M341.0 217.4h0M341.2 229.8h0M341.5 229.7h0M341.7 219.0h0M341.9 221.5h0M342.2 221.5h0M342.4 226.3h0M342.6 220.4h0M342.9 223.4h0M343.1 228.1h0M343.4 232.6h0M343.6 234.4h0M343.8 225.3h0M344.1 227.5h0M344.3 227.0h0M344.5 228.7h0M344.8 230.5h0M345.0 231.4h0M345.2 230.9h0M345.5 230.2h0M345.7 230.6h0M345.9 234.7h0M346.2 228.3h0M346.4 235.1h0M346.7 230.5h0M346.9 231.1h0M347.1 230.1h0M347.4 233.3h0M347.6 230.7h0M347.8 231.9h0M348.1 233.2h0M348.3 233.4h0M348.5 231.2h0M348.8 232.3h0M349.0 234.3h0M349.3 233.7h0M349.5 240.6h0M349.7 240.7h0M350.0 235.1h0M350.2 237.2h0M350.4 238.8h0M350.7 236.1h0M350.9 237.2h0M351.1 235.9h0M351.4 235.0h0M351.6 237.0h0M351.8 241.1h0M352.1 237.8h0M352.3 239.1h0M352.6 236.9h0M352.8 241.9h0M353.0 238.9h0M353.3 236.8h0M353.5 238.7h0" stroke="#f0505a" stroke-width="1.20" stroke-linecap="round" stroke-opacity="0.75" fill="none"/>
<path d="M267.6 204.5h0M267.8 204.8h0M268.1 203.1h0M268.3 202.0h0M268.5 203.1h0M268.8 201.6h0M269.0 200.3h0M269.3 202.5h0M269.5 199.6h0M269.7 200.4h0M270.0 201.6h0M270.2 201.1h0M270.4 199.2h0M270.7 199.3h0M270.9 197.8h0M271.1 200.9h0M271.4 196.3h0M271.6 195.9h0M271.8 198.7h0M272.1 197.6h0M272.3 193.6h0M272.6 194.8h0M272.8 195.7h0M273.0 195.5h0M273.3 194.6h0M273.5 193.2h0M273.7 194.3h0M274.0 192.8h0M274.2 193.8h0M274.4 195.4h0M274.7 192.1h0M274.9 192.6h0M275.2 189.8h0M275.4 190.6h0M275.6 189.7h0M275.9 192.0h0M276.1 188.7h0M276.3 191.8h0M276.6 209.6h0M276.8 188.3h0M277.0 186.8h0M277.3 185.6h0M277.5 185.7h0M277.7 188.2h0M278.0 206.5h0M278.2 185.6h0M278.5 185.3h0M278.7 184.7h0M278.9 194.8h0M279.2 185.9h0M279.4 183.9h0M279.6 181.4h0M279.9 184.4h0M280.1 182.1h0M280.3 181.6h0M280.6 182.3h0M280.8 185.2h0M281.1 180.2h0M281.3 183.4h0M281.5 180.3h0M281.8 181.8h0M282.0 180.4h0M282.2 177.6h0M282.5 193.6h0M282.7 179.9h0M282.9 178.6h0M283.2 178.5h0M283.4 176.7h0M283.6 176.6h0M283.9 175.7h0M284.1 175.5h0M284.4 175.0h0M284.6 172.3h0M284.8 175.6h0M285.1 173.5h0M285.3 173.6h0M285.5 171.9h0M285.8 176.6h0M286.0 173.5h0M286.2 171.5h0M286.5 172.0h0M286.7 170.0h0M287.0 174.0h0M287.2 168.5h0M287.4 171.1h0M287.7 172.4h0M287.9 173.2h0M288.1 173.7h0M288.4 173.5h0M288.6 172.9h0M288.8 174.6h0M289.1 173.2h0M289.3 174.7h0M289.5 173.6h0M289.8 176.0h0M290.0 175.0h0M290.3 199.3h0M290.5 174.3h0M290.7 176.3h0M291.0 176.2h0M291.2 174.6h0M291.4 177.0h0M291.7 178.7h0M291.9 178.3h0M292.1 180.7h0M292.4 177.8h0M292.6 176.6h0M292.9 177.0h0M293.1 190.4h0M293.3 180.2h0M293.6 179.0h0M293.8 179.9h0M294.0 184.6h0M294.3 195.4h0M294.5 182.7h0M294.7 183.4h0M295.0 182.7h0M295.2 182.4h0M295.4 185.2h0M295.7 182.7h0M295.9 184.3h0M296.2 183.7h0M296.4 182.5h0M296.6 213.8h0M296.9 188.4h0M297.1 186.8h0M297.3 186.7h0M297.6 187.6h0M297.8 187.7h0M298.0 189.2h0M298.3 187.4h0M298.5 186.6h0M298.8 187.9h0M299.0 190.7h0M299.2 189.7h0M299.5 189.5h0M299.7 215.3h0M299.9 191.0h0M300.2 202.8h0M300.4 189.4h0M300.6 190.9h0M300.9 192.2h0M301.1 195.7h0M301.3 204.7h0M301.6 195.3h0M301.8 192.8h0M302.1 192.7h0M302.3 213.5h0M302.5 195.1h0M302.8 196.7h0M303.0 212.5h0M303.2 195.5h0M303.5 200.7h0M303.7 197.6h0M303.9 195.9h0M304.2 197.6h0M304.4 221.5h0M304.7 197.5h0M304.9 197.1h0M305.1 197.3h0M305.4 197.5h0M305.6 196.6h0M305.8 199.1h0M306.1 200.3h0M306.3 201.1h0M306.5 205.9h0M306.8 201.3h0M307.0 201.3h0M307.2 199.6h0M307.5 200.7h0M307.7 200.7h0M308.0 198.2h0M308.2 200.3h0M308.4 201.7h0M308.7 201.2h0M308.9 202.7h0M309.1 201.1h0M309.4 200.6h0M309.6 199.4h0M309.8 200.7h0M310.1 201.1h0M310.3 200.7h0M310.6 200.7h0M310.8 201.5h0M311.0 203.4h0M311.3 201.3h0M311.5 199.8h0M311.7 199.4h0M312.0 219.2h0M312.2 200.2h0M312.4 200.5h0M312.7 200.0h0M312.9 201.2h0M313.1 196.4h0M313.4 199.5h0M313.6 198.7h0M313.9 198.0h0M314.1 199.7h0M314.3 199.6h0M314.6 198.8h0M314.8 197.6h0M315.0 196.3h0M315.3 197.8h0M315.5 197.3h0M315.7 197.4h0M316.0 195.5h0M316.2 195.1h0M316.4 193.8h0M316.7 192.7h0M316.9 193.3h0M317.2 193.9h0M317.4 193.8h0M317.6 215.2h0M317.9 192.4h0M318.1 191.2h0M318.3 190.1h0M318.6 191.7h0M318.8 209.7h0M319.0 189.8h0M319.3 191.5h0M319.5 187.8h0M319.8 212.0h0M320.0 189.0h0M320.2 186.8h0M320.5 185.9h0M320.7 188.1h0M320.9 186.6h0M321.2 187.7h0M321.4 189.5h0M321.6 184.7h0M321.9 184.3h0M322.1 187.1h0M322.3 181.6h0M322.6 182.1h0M322.8 182.4h0M323.1 182.0h0M323.3 194.7h0M323.5 182.4h0M323.8 182.4h0M324.0 181.1h0M324.2 179.7h0M324.5 181.0h0M324.7 182.6h0M324.9 178.6h0M325.2 185.4h0M325.4 177.8h0M325.7 178.2h0M325.9 179.7h0M326.1 200.3h0M326.4 178.2h0M326.6 180.2h0M326.8 174.0h0M327.1 177.2h0M327.3 176.7h0M327.5 177.6h0M327.8 175.3h0M328.0 174.1h0M328.2 172.6h0M328.5 175.2h0M328.7 172.2h0M329.0 173.6h0M329.2 175.9h0M329.4 172.3h0M329.7 174.7h0M329.9 173.2h0M330.1 173.5h0M330.4 174.7h0M330.6 175.1h0M330.8 173.9h0M331.1 210.3h0M331.3 176.9h0M331.6 174.4h0M331.8 176.7h0M332.0 174.7h0M332.3 179.3h0M332.5 177.8h0M332.7 178.1h0M333.0 179.8h0M333.2 182.9h0M333.4 179.4h0M333.7 182.3h0M333.9 179.4h0M334.1 182.7h0M334.4 206.8h0M334.6 180.8h0M334.9 178.6h0M335.1 183.0h0M335.3 182.6h0M335.6 183.9h0M335.8 184.4h0M336.0 183.0h0M336.3 182.8h0M336.5 183.7h0M336.7 188.8h0M337.0 184.5h0M337.2 186.3h0M337.5 188.1h0M337.7 188.0h0M337.9 190.3h0M338.2 186.9h0M338.4 188.2h0M338.6 188.2h0M338.9 189.9h0M339.1 190.4h0M339.3 215.2h0M339.6 188.8h0M339.8 190.3h0M340.0 190.7h0M340.3 190.0h0M340.5 188.7h0M340.8 191.2h0M341.0 192.0h0M341.2 192.7h0M341.5 191.9h0M341.7 193.3h0M341.9 217.5h0M342.2 192.9h0M342.4 194.9h0M342.6 220.2h0M342.9 191.8h0M343.1 196.0h0M343.4 194.2h0M343.6 198.0h0M343.8 195.0h0M344.1 198.9h0M344.3 216.2h0M344.5 195.7h0M344.8 199.8h0M345.0 212.2h0M345.2 200.8h0M345.5 195.8h0M345.7 196.6h0M345.9 198.8h0M346.2 201.0h0M346.4 199.6h0M346.7 199.9h0M346.9 198.9h0M347.1 216.2h0M347.4 199.6h0M347.6 199.8h0M347.8 201.5h0M348.1 202.0h0M348.3 200.7h0M348.5 202.2h0M348.8 202.9h0M349.0 204.1h0M349.3 204.3h0M349.5 203.7h0M349.7 204.5h0M350.0 204.8h0M350.2 203.5h0M350.4 204.9h0M350.7 203.3h0M350.9 203.5h0M351.1 203.4h0M351.4 205.7h0M351.6 210.2h0M351.8 205.7h0M352.1 205.0h0M352.3 203.9h0M352.6 205.7h0M352.8 201.4h0M353.0 204.2h0M353.3 204.5h0M353.5 203.1h0" stroke="#a45cf5" stroke-width="1.20" stroke-linecap="round" stroke-opacity="0.75" fill="none"/>
<path d="M267.6 227.9h0M267.8 222.9h0M268.1 232.8h0M268.3 223.8h0M268.5 222.0h0M268.8 223.4h0M269.0 219.9h0M269.3 222.2h0M269.5 233.3h0M269.7 233.7h0M270.0 233.1h0M270.2 219.4h0M270.4 219.3h0M270.7 225.3h0M270.9 222.0h0M271.1 220.0h0M271.4 220.0h0M271.6 226.4h0M271.8 218.7h0M272.1 219.1h0M272.3 218.6h0M272.6 218.4h0M272.8 219.3h0M273.0 218.0h0M273.3 226.5h0M273.5 217.1h0M273.7 218.9h0M274.0 213.6h0M274.2 214.5h0M274.4 215.4h0M274.7 222.3h0M274.9 214.4h0M275.2 215.4h0M275.4 221.9h0M275.6 214.0h0M275.9 213.9h0M276.1 216.6h0M276.3 214.3h0M276.6 212.2h0M276.8 214.1h0M277.0 212.2h0M277.3 210.1h0M277.5 218.0h0M277.7 222.6h0M278.0 214.7h0M278.2 209.8h0M278.5 208.5h0M278.7 213.8h0M278.9 213.0h0M279.2 208.5h0M279.4 211.9h0M279.6 218.2h0M279.9 206.8h0M280.1 208.4h0M280.3 205.2h0M280.6 210.4h0M280.8 206.6h0M281.1 204.2h0M281.3 212.3h0M281.5 201.8h0M281.8 203.1h0M282.0 203.5h0M282.2 224.2h0M282.5 199.9h0M282.7 218.1h0M282.9 201.2h0M283.2 203.2h0M283.4 208.7h0M283.6 203.3h0M283.9 201.9h0M284.1 202.0h0M284.4 198.5h0M284.6 199.9h0M284.8 198.7h0M285.1 198.4h0M285.3 196.9h0M285.5 197.1h0M285.8 220.5h0M286.0 199.4h0M286.2 202.1h0M286.5 198.7h0M286.7 217.6h0M287.0 204.3h0M287.2 198.4h0M287.4 198.2h0M287.7 198.3h0M287.9 212.1h0M288.1 199.7h0M288.4 197.7h0M288.6 194.3h0M288.8 197.6h0M289.1 218.6h0M289.3 197.8h0M289.5 195.0h0M289.8 199.5h0M290.0 194.3h0M290.3 202.1h0M290.5 204.2h0M290.7 196.2h0M291.0 211.7h0M291.2 205.6h0M291.4 196.5h0M291.7 198.1h0M291.9 200.5h0M292.1 197.4h0M292.4 200.2h0M292.6 197.7h0M292.9 198.7h0M293.1 201.2h0M293.3 214.2h0M293.6 198.8h0M293.8 197.4h0M294.0 199.2h0M294.3 200.6h0M294.5 202.7h0M294.7 199.9h0M295.0 210.4h0M295.2 200.9h0M295.4 215.6h0M295.7 203.4h0M295.9 200.5h0M296.2 212.6h0M296.4 197.6h0M296.6 199.0h0M296.9 202.8h0M297.1 199.9h0M297.3 201.8h0M297.6 210.2h0M297.8 200.8h0M298.0 203.1h0M298.3 203.8h0M298.5 203.7h0M298.8 202.4h0M299.0 203.0h0M299.2 203.1h0M299.5 202.6h0M299.7 204.1h0M299.9 213.5h0M300.2 203.8h0M300.4 206.2h0M300.6 202.6h0M300.9 202.2h0M301.1 224.9h0M301.3 207.5h0M301.6 201.8h0M301.8 205.2h0M302.1 202.1h0M302.3 205.4h0M302.5 217.6h0M302.8 210.0h0M303.0 201.8h0M303.2 202.4h0M303.5 204.0h0M303.7 213.7h0M303.9 204.8h0M304.2 220.4h0M304.4 205.5h0M304.7 207.0h0M304.9 205.6h0M305.1 224.9h0M305.4 204.5h0M305.6 204.4h0M305.8 204.9h0M306.1 205.0h0M306.3 224.6h0M306.5 203.3h0M306.8 206.3h0M307.0 206.8h0M307.2 217.7h0M307.5 221.0h0M307.7 220.6h0M308.0 211.9h0M308.2 210.6h0M308.4 217.2h0M308.7 207.0h0M308.9 205.4h0M309.1 212.7h0M309.4 226.8h0M309.6 205.7h0M309.8 220.5h0M310.1 206.9h0M310.3 208.0h0M310.6 224.1h0M310.8 221.8h0M311.0 205.9h0M311.3 204.8h0M311.5 205.3h0M311.7 204.6h0M312.0 205.8h0M312.2 218.5h0M312.4 207.1h0M312.7 203.8h0M312.9 205.8h0M313.1 205.1h0M313.4 204.1h0M313.6 217.7h0M313.9 202.5h0M314.1 204.7h0M314.3 203.4h0M314.6 205.5h0M314.8 217.4h0M315.0 200.8h0M315.3 203.5h0M315.5 220.8h0M315.7 202.8h0M316.0 204.9h0M316.2 201.1h0M316.4 201.1h0M316.7 203.8h0M316.9 209.8h0M317.2 202.0h0M317.4 201.2h0M317.6 202.2h0M317.9 208.2h0M318.1 201.8h0M318.3 201.6h0M318.6 200.8h0M318.8 199.4h0M319.0 202.7h0M319.3 199.9h0M319.5 199.9h0M319.8 200.5h0M320.0 199.2h0M320.2 197.9h0M320.5 196.7h0M320.7 195.3h0M320.9 195.3h0M321.2 212.9h0M321.4 220.8h0M321.6 196.0h0M321.9 210.7h0M322.1 215.8h0M322.3 193.7h0M322.6 194.2h0M322.8 201.6h0M323.1 195.0h0M323.3 211.7h0M323.5 190.3h0M323.8 194.2h0M324.0 197.3h0M324.2 192.3h0M324.5 190.4h0M324.7 194.0h0M324.9 190.8h0M325.2 189.1h0M325.4 190.6h0M325.7 188.6h0M325.9 189.7h0M326.1 207.2h0M326.4 186.4h0M326.6 200.2h0M326.8 189.1h0M327.1 210.0h0M327.3 197.5h0M327.5 207.1h0M327.8 188.2h0M328.0 187.4h0M328.2 187.8h0M328.5 188.4h0M328.7 213.0h0M329.0 197.8h0M329.2 189.0h0M329.4 189.7h0M329.7 199.6h0M329.9 188.0h0M330.1 190.7h0M330.4 192.5h0M330.6 189.6h0M330.8 205.8h0M331.1 203.8h0M331.3 216.3h0M331.6 195.0h0M331.8 190.5h0M332.0 193.1h0M332.3 191.0h0M332.5 192.3h0M332.7 214.3h0M333.0 195.6h0M333.2 196.1h0M333.4 192.4h0M333.7 208.5h0M333.9 194.2h0M334.1 197.5h0M334.4 195.3h0M334.6 201.9h0M334.9 212.7h0M335.1 196.9h0M335.3 195.4h0M335.6 196.7h0M335.8 199.5h0M336.0 204.0h0M336.3 200.6h0M336.5 199.7h0M336.7 200.6h0M337.0 195.2h0M337.2 201.5h0M337.5 201.6h0M337.7 201.1h0M337.9 223.8h0M338.2 203.8h0M338.4 200.5h0M338.6 216.8h0M338.9 208.2h0M339.1 204.5h0M339.3 201.2h0M339.6 208.1h0M339.8 208.8h0M340.0 225.1h0M340.3 214.9h0M340.5 222.9h0M340.8 218.7h0M341.0 211.6h0M341.2 209.7h0M341.5 220.5h0M341.7 222.4h0M341.9 209.5h0M342.2 219.5h0M342.4 208.3h0M342.6 227.9h0M342.9 209.3h0M343.1 212.9h0M343.4 222.6h0M343.6 212.4h0M343.8 227.3h0M344.1 230.0h0M344.3 218.0h0M344.5 215.5h0M344.8 226.7h0M345.0 214.7h0M345.2 217.5h0M345.5 214.4h0M345.7 217.5h0M345.9 220.3h0M346.2 215.5h0M346.4 215.2h0M346.7 216.7h0M346.9 218.6h0M347.1 217.1h0M347.4 218.1h0M347.6 220.0h0M347.8 215.2h0M348.1 218.7h0M348.3 220.1h0M348.5 232.5h0M348.8 217.4h0M349.0 227.7h0M349.3 226.2h0M349.5 231.2h0M349.7 221.2h0M350.0 218.9h0M350.2 220.3h0M350.4 221.5h0M350.7 228.9h0M350.9 219.8h0M351.1 220.0h0M351.4 225.0h0M351.6 231.4h0M351.8 227.3h0M352.1 222.7h0M352.3 222.9h0M352.6 221.1h0M352.8 218.9h0M353.0 222.9h0M353.3 225.1h0M353.5 223.4h0" stroke="#5a6cf5" stroke-width="1.20" stroke-linecap="round" stroke-opacity="0.75" fill="none"/>
<rect x="267" y="168.4" width="87.1" height="79.0" fill="none" stroke="#8a8a8a" stroke-width="0.9"/>
<path d="M267.0 247.4h-1.6M354.1 247.4h1.2M267.0 227.7h-1.6M354.1 227.7h1.2M267.0 207.9h-1.6M354.1 207.9h1.2M267.0 188.2h-1.6M354.1 188.2h1.2M267.0 168.4h-1.6M354.1 168.4h1.2M267.0 237.5h-1M267.0 217.8h-1M267.0 198.0h-1M267.0 178.3h-1" stroke="#8a8a8a" stroke-width="0.7" fill="none"/>
<text x="264.7" y="249.8" font-size="8" text-anchor="end" font-weight="normal" fill="#111" stroke="#111" stroke-width="0.18" >0</text>
<text x="264.7" y="230.1" font-size="8" text-anchor="end" font-weight="normal" fill="#111" stroke="#111" stroke-width="0.18" >50</text>
<text x="264.7" y="210.3" font-size="8" text-anchor="end" font-weight="normal" fill="#111" stroke="#111" stroke-width="0.18" >100</text>
<text x="264.7" y="190.6" font-size="8" text-anchor="end" font-weight="normal" fill="#111" stroke="#111" stroke-width="0.18" >150</text>
<text x="264.7" y="170.8" font-size="8" text-anchor="end" font-weight="normal" fill="#111" stroke="#111" stroke-width="0.18" >200</text>
<text x="268.8" y="255.7" font-size="6.5" text-anchor="middle" font-weight="normal" fill="#111" stroke="#111" stroke-width="0.18" >1/1</text>
<text x="348.7" y="255.7" font-size="6.5" text-anchor="middle" font-weight="normal" fill="#111" stroke="#111" stroke-width="0.18" >12/31</text>
<text x="310.6" y="256.7" font-size="8.2" text-anchor="middle" font-weight="normal" fill="#111" stroke="#111" stroke-width="0.18" >Day of year</text>
<text x="310.6" y="164.7" font-size="8.5" text-anchor="middle" font-weight="normal" fill="#111" stroke="#111" stroke-width="0.18" >With pretreatment</text>
<path d="M360.8 227.7H447.3M360.8 241.5H447.3" stroke="#777" stroke-width="0.7" stroke-dasharray="0.9 1.1"/>
<path d="M361.4 245.6h0M361.6 245.0h0M361.9 245.1h0M362.1 244.6h0M362.3 245.4h0M362.6 244.7h0M362.8 245.1h0M363.0 245.1h0M363.3 245.0h0M363.5 245.0h0M363.7 245.3h0M364.0 244.9h0M364.2 244.9h0M364.4 245.3h0M364.7 244.9h0M364.9 245.0h0M365.1 244.9h0M365.4 244.9h0M365.6 245.0h0M365.9 244.6h0M366.1 245.0h0M366.3 245.4h0M366.6 244.8h0M366.8 245.4h0M367.0 245.0h0M367.3 245.1h0M367.5 245.5h0M367.7 245.4h0M368.0 244.5h0M368.2 245.2h0M368.4 245.6h0M368.7 245.3h0M368.9 245.1h0M369.1 244.8h0M369.4 245.4h0M369.6 245.1h0M369.8 245.1h0M370.1 245.1h0M370.3 244.8h0M370.5 245.1h0M370.8 245.5h0M371.0 245.1h0M371.2 245.2h0M371.5 245.1h0M371.7 244.9h0M371.9 245.6h0M372.2 245.1h0M372.4 245.0h0M372.6 245.3h0M372.9 245.5h0M373.1 244.8h0M373.4 244.9h0M373.6 245.4h0M373.8 245.2h0M374.1 245.2h0M374.3 245.1h0M374.5 245.3h0M374.8 244.9h0M375.0 245.0h0M375.2 244.8h0M375.5 245.1h0M375.7 244.7h0M375.9 245.3h0M376.2 244.9h0M376.4 244.9h0M376.6 245.1h0M376.9 244.9h0M377.1 245.1h0M377.3 245.4h0M377.6 245.1h0M377.8 244.8h0M378.0 245.6h0M378.3 244.7h0M378.5 245.4h0M378.7 244.9h0M379.0 245.3h0M379.2 244.9h0M379.4 245.2h0M379.7 245.0h0M379.9 245.0h0M380.1 245.0h0M380.4 244.9h0M380.6 245.1h0M380.9 245.1h0M381.1 244.7h0M381.3 245.1h0M381.6 245.1h0M381.8 244.9h0M382.0 245.2h0M382.3 245.1h0M382.5 245.0h0M382.7 245.0h0M383.0 245.1h0M383.2 245.1h0M383.4 245.0h0M383.7 244.9h0M383.9 245.4h0M384.1 245.2h0M384.4 245.1h0M384.6 245.0h0M384.8 244.9h0M385.1 244.9h0M385.3 245.2h0M385.5 245.3h0M385.8 245.0h0M386.0 245.2h0M386.2 245.3h0M386.5 244.8h0M386.7 245.2h0M386.9 245.1h0M387.2 245.0h0M387.4 245.6h0M387.6 244.4h0M387.9 244.7h0M388.1 244.6h0M388.3 245.1h0M388.6 245.0h0M388.8 244.8h0M389.1 245.0h0M389.3 245.0h0M389.5 245.1h0M389.8 245.2h0M390.0 244.7h0M390.2 244.9h0M390.5 245.0h0M390.7 245.2h0M390.9 244.5h0M391.2 245.1h0M391.4 245.5h0M391.6 244.9h0M391.9 245.6h0M392.1 244.7h0M392.3 245.2h0M392.6 245.0h0M392.8 245.0h0M393.0 245.1h0M393.3 245.4h0M393.5 244.9h0M393.7 245.0h0M394.0 245.2h0M394.2 244.9h0M394.4 244.9h0M394.7 245.3h0M394.9 245.0h0M395.1 245.4h0M395.4 245.7h0M395.6 244.8h0M395.8 245.0h0M396.1 244.8h0M396.3 245.0h0M396.6 245.0h0M396.8 244.9h0M397.0 244.9h0M397.3 244.9h0M397.5 245.3h0M397.7 244.9h0M398.0 245.5h0M398.2 245.0h0M398.4 244.5h0M398.7 244.6h0M398.9 244.7h0M399.1 245.2h0M399.4 244.9h0M399.6 245.2h0M399.8 244.8h0M400.1 245.1h0M400.3 245.2h0M400.5 244.9h0M400.8 244.8h0M401.0 245.4h0M401.2 245.1h0M401.5 245.0h0M401.7 245.0h0M401.9 245.2h0M402.2 245.0h0M402.4 245.2h0M402.6 244.8h0M402.9 244.9h0M403.1 244.7h0M403.3 245.2h0M403.6 245.2h0M403.8 245.0h0M404.1 244.8h0M404.3 245.0h0M404.5 245.1h0M404.8 245.4h0M405.0 245.1h0M405.2 245.0h0M405.5 244.8h0M405.7 245.4h0M405.9 244.9h0M406.2 244.9h0M406.4 244.5h0M406.6 244.8h0M406.9 245.4h0M407.1 245.2h0M407.3 245.1h0M407.6 245.2h0M407.8 245.1h0M408.0 245.4h0M408.3 245.1h0M408.5 245.2h0M408.7 245.1h0M409.0 245.2h0M409.2 245.0h0M409.4 245.0h0M409.7 245.0h0M409.9 245.1h0M410.1 245.3h0M410.4 245.1h0M410.6 244.7h0M410.8 245.0h0M411.1 245.0h0M411.3 244.9h0M411.5 245.0h0M411.8 245.2h0M412.0 245.1h0M412.3 245.3h0M412.5 245.3h0M412.7 245.0h0M413.0 245.1h0M413.2 245.3h0M413.4 245.0h0M413.7 244.9h0M413.9 245.1h0M414.1 245.2h0M414.4 244.6h0M414.6 245.0h0M414.8 245.2h0M415.1 244.8h0M415.3 244.7h0M415.5 245.3h0M415.8 245.3h0M416.0 245.1h0M416.2 244.9h0M416.5 245.3h0M416.7 244.7h0M416.9 245.0h0M417.2 244.6h0M417.4 245.0h0M417.6 244.9h0M417.9 244.8h0M418.1 245.1h0M418.3 245.3h0M418.6 245.1h0M418.8 245.4h0M419.0 245.3h0M419.3 245.1h0M419.5 244.9h0M419.8 244.8h0M420.0 244.7h0M420.2 245.2h0M420.5 245.4h0M420.7 244.7h0M420.9 245.0h0M421.2 245.0h0M421.4 245.4h0M421.6 245.3h0M421.9 244.9h0M422.1 245.2h0M422.3 244.7h0M422.6 245.3h0M422.8 244.7h0M423.0 245.3h0M423.3 245.4h0M423.5 245.1h0M423.7 245.2h0M424.0 245.2h0M424.2 244.9h0M424.4 244.9h0M424.7 245.3h0M424.9 244.8h0M425.1 244.7h0M425.4 244.7h0M425.6 245.1h0M425.8 245.1h0M426.1 245.0h0M426.3 245.0h0M426.5 245.2h0M426.8 245.4h0M427.0 245.0h0M427.2 245.0h0M427.5 245.0h0M427.7 245.3h0M428.0 245.4h0M428.2 245.1h0M428.4 244.9h0M428.7 244.8h0M428.9 245.2h0M429.1 245.4h0M429.4 245.3h0M429.6 245.2h0M429.8 244.9h0M430.1 245.4h0M430.3 245.2h0M430.5 245.2h0M430.8 245.1h0M431.0 245.1h0M431.2 245.3h0M431.5 244.8h0M431.7 244.8h0M431.9 244.8h0M432.2 244.9h0M432.4 244.8h0M432.6 244.9h0M432.9 245.0h0M433.1 245.4h0M433.3 245.0h0M433.6 244.9h0M433.8 245.2h0M434.0 244.8h0M434.3 245.0h0M434.5 245.3h0M434.7 244.8h0M435.0 245.2h0M435.2 244.9h0M435.5 245.3h0M435.7 245.3h0M435.9 244.9h0M436.2 245.2h0M436.4 245.1h0M436.6 245.1h0M436.9 245.0h0M437.1 244.7h0M437.3 245.1h0M437.6 245.0h0M437.8 245.1h0M438.0 244.6h0M438.3 245.0h0M438.5 245.2h0M438.7 245.2h0M439.0 244.6h0M439.2 245.0h0M439.4 244.6h0M439.7 245.2h0M439.9 244.8h0M440.1 245.1h0M440.4 245.0h0M440.6 245.0h0M440.8 244.8h0M441.1 245.1h0M441.3 244.9h0M441.5 245.2h0M441.8 245.1h0M442.0 244.9h0M442.2 244.8h0M442.5 245.0h0M442.7 244.6h0M443.0 245.2h0M443.2 245.3h0M443.4 244.8h0M443.7 244.9h0M443.9 245.2h0M444.1 244.7h0M444.4 245.0h0M444.6 244.4h0M444.8 245.4h0M445.1 245.2h0M445.3 244.8h0M445.5 244.7h0M445.8 244.6h0M446.0 245.1h0M446.2 245.0h0M446.5 244.9h0M446.7 244.8h0" stroke="#b0b0b0" stroke-width="1.20" stroke-linecap="round" stroke-opacity="0.6" fill="none"/>
<path d="M361.4 235.7h0M361.6 235.2h0M361.9 237.1h0M362.1 233.2h0M362.3 235.8h0M362.6 233.6h0M362.8 233.8h0M363.0 233.4h0M363.3 240.0h0M363.5 232.4h0M363.7 232.3h0M364.0 234.2h0M364.2 236.9h0M364.4 236.6h0M364.7 234.6h0M364.9 231.4h0M365.1 230.1h0M365.4 233.7h0M365.6 236.6h0M365.9 232.0h0M366.1 229.6h0M366.3 229.3h0M366.6 230.9h0M366.8 234.8h0M367.0 230.3h0M367.3 230.5h0M367.5 235.3h0M367.7 231.4h0M368.0 228.3h0M368.2 234.0h0M368.4 233.1h0M368.7 237.6h0M368.9 226.7h0M369.1 225.5h0M369.4 227.5h0M369.6 227.6h0M369.8 227.4h0M370.1 231.7h0M370.3 230.0h0M370.5 226.8h0M370.8 226.0h0M371.0 225.5h0M371.2 223.8h0M371.5 225.5h0M371.7 222.9h0M371.9 223.1h0M372.2 232.3h0M372.4 221.8h0M372.6 228.8h0M372.9 234.2h0M373.1 224.7h0M373.4 231.8h0M373.6 227.6h0M373.8 226.8h0M374.1 223.9h0M374.3 219.2h0M374.5 221.1h0M374.8 226.5h0M375.0 218.3h0M375.2 219.1h0M375.5 216.0h0M375.7 218.2h0M375.9 228.6h0M376.2 216.4h0M376.4 219.6h0M376.6 218.6h0M376.9 216.1h0M377.1 217.4h0M377.3 230.3h0M377.6 227.3h0M377.8 230.4h0M378.0 216.5h0M378.3 214.5h0M378.5 214.3h0M378.7 216.0h0M379.0 230.4h0M379.2 213.1h0M379.4 213.6h0M379.7 211.4h0M379.9 218.3h0M380.1 219.1h0M380.4 222.5h0M380.6 212.0h0M380.9 215.4h0M381.1 210.6h0M381.3 221.6h0M381.6 210.5h0M381.8 228.5h0M382.0 209.8h0M382.3 216.6h0M382.5 219.4h0M382.7 209.2h0M383.0 217.2h0M383.2 207.2h0M383.4 219.0h0M383.7 224.6h0M383.9 223.2h0M384.1 222.3h0M384.4 215.2h0M384.6 225.5h0M384.8 218.2h0M385.1 207.7h0M385.3 226.8h0M385.5 210.2h0M385.8 220.6h0M386.0 222.8h0M386.2 224.8h0M386.5 225.6h0M386.7 218.1h0M386.9 210.8h0M387.2 224.8h0M387.4 212.5h0M387.6 228.2h0M387.9 226.8h0M388.1 219.7h0M388.3 210.8h0M388.6 213.4h0M388.8 209.8h0M389.1 208.3h0M389.3 214.1h0M389.5 229.0h0M389.8 215.4h0M390.0 212.2h0M390.2 212.2h0M390.5 229.6h0M390.7 216.5h0M390.9 219.3h0M391.2 219.3h0M391.4 218.3h0M391.6 213.3h0M391.9 213.6h0M392.1 212.9h0M392.3 213.2h0M392.6 230.0h0M392.8 230.7h0M393.0 213.9h0M393.3 214.6h0M393.5 216.2h0M393.7 214.7h0M394.0 216.2h0M394.2 230.4h0M394.4 216.3h0M394.7 220.8h0M394.9 227.0h0M395.1 216.2h0M395.4 219.6h0M395.6 231.5h0M395.8 223.7h0M396.1 230.8h0M396.3 220.4h0M396.6 215.7h0M396.8 217.3h0M397.0 230.7h0M397.3 217.4h0M397.5 222.1h0M397.7 218.7h0M398.0 218.7h0M398.2 217.9h0M398.4 227.2h0M398.7 232.8h0M398.9 217.4h0M399.1 217.3h0M399.4 224.0h0M399.6 229.1h0M399.8 222.3h0M400.1 224.9h0M400.3 228.6h0M400.5 229.1h0M400.8 229.5h0M401.0 224.0h0M401.2 227.2h0M401.5 228.4h0M401.7 222.4h0M401.9 220.0h0M402.2 226.4h0M402.4 216.1h0M402.6 219.2h0M402.9 219.0h0M403.1 219.5h0M403.3 232.1h0M403.6 220.0h0M403.8 228.9h0M404.1 219.1h0M404.3 228.9h0M404.5 231.9h0M404.8 232.6h0M405.0 230.2h0M405.2 228.2h0M405.5 220.5h0M405.7 215.1h0M405.9 230.0h0M406.2 225.8h0M406.4 216.9h0M406.6 216.6h0M406.9 225.4h0M407.1 214.5h0M407.3 217.2h0M407.6 223.6h0M407.8 215.8h0M408.0 212.6h0M408.3 230.8h0M408.5 210.0h0M408.7 216.4h0M409.0 215.6h0M409.2 222.6h0M409.4 214.2h0M409.7 227.2h0M409.9 214.3h0M410.1 215.0h0M410.4 214.3h0M410.6 212.6h0M410.8 229.0h0M411.1 211.2h0M411.3 223.4h0M411.5 225.6h0M411.8 210.2h0M412.0 215.6h0M412.3 219.4h0M412.5 223.7h0M412.7 210.6h0M413.0 215.5h0M413.2 215.6h0M413.4 208.8h0M413.7 222.3h0M413.9 205.8h0M414.1 206.4h0M414.4 208.2h0M414.6 210.9h0M414.8 209.5h0M415.1 206.4h0M415.3 208.1h0M415.5 218.7h0M415.8 206.3h0M416.0 215.9h0M416.2 204.5h0M416.5 205.6h0M416.7 221.2h0M416.9 202.1h0M417.2 220.8h0M417.4 200.7h0M417.6 207.8h0M417.9 200.7h0M418.1 205.9h0M418.3 208.1h0M418.6 221.5h0M418.8 201.3h0M419.0 200.3h0M419.3 199.6h0M419.5 223.0h0M419.8 198.1h0M420.0 201.4h0M420.2 211.1h0M420.5 200.8h0M420.7 200.3h0M420.9 198.6h0M421.2 197.9h0M421.4 201.1h0M421.6 201.8h0M421.9 198.0h0M422.1 204.4h0M422.3 198.8h0M422.6 198.9h0M422.8 218.9h0M423.0 211.9h0M423.3 200.1h0M423.5 210.3h0M423.7 208.8h0M424.0 204.5h0M424.2 212.7h0M424.4 224.7h0M424.7 204.2h0M424.9 220.3h0M425.1 207.3h0M425.4 225.2h0M425.6 204.9h0M425.8 207.0h0M426.1 205.7h0M426.3 211.2h0M426.5 219.1h0M426.8 207.3h0M427.0 218.1h0M427.2 209.3h0M427.5 210.1h0M427.7 210.6h0M428.0 210.2h0M428.2 217.7h0M428.4 208.0h0M428.7 212.5h0M428.9 211.4h0M429.1 210.1h0M429.4 225.9h0M429.6 212.5h0M429.8 225.4h0M430.1 211.7h0M430.3 218.3h0M430.5 215.0h0M430.8 213.8h0M431.0 214.4h0M431.2 216.7h0M431.5 229.7h0M431.7 216.4h0M431.9 218.0h0M432.2 217.5h0M432.4 229.1h0M432.6 218.6h0M432.9 219.4h0M433.1 228.5h0M433.3 220.6h0M433.6 220.8h0M433.8 224.0h0M434.0 220.9h0M434.3 223.5h0M434.5 221.8h0M434.7 230.6h0M435.0 235.4h0M435.2 226.8h0M435.5 230.6h0M435.7 227.0h0M435.9 226.8h0M436.2 227.0h0M436.4 227.4h0M436.6 235.5h0M436.9 226.9h0M437.1 236.7h0M437.3 237.3h0M437.6 233.6h0M437.8 229.0h0M438.0 227.6h0M438.3 231.3h0M438.5 231.7h0M438.7 232.1h0M439.0 231.6h0M439.2 230.8h0M439.4 233.0h0M439.7 238.9h0M439.9 235.7h0M440.1 230.5h0M440.4 235.7h0M440.6 231.4h0M440.8 239.2h0M441.1 233.4h0M441.3 234.6h0M441.5 234.0h0M441.8 234.2h0M442.0 240.3h0M442.2 235.3h0M442.5 236.0h0M442.7 238.2h0M443.0 235.3h0M443.2 236.0h0M443.4 234.5h0M443.7 236.1h0M443.9 237.6h0M444.1 236.8h0M444.4 237.7h0M444.6 236.5h0M444.8 235.7h0M445.1 237.7h0M445.3 239.8h0M445.5 237.6h0M445.8 237.9h0M446.0 238.6h0M446.2 239.7h0M446.5 234.8h0M446.7 241.1h0" stroke="#f0505a" stroke-width="1.20" stroke-linecap="round" stroke-opacity="0.75" fill="none"/>
<path d="M361.4 226.5h0M361.6 229.6h0M361.9 226.3h0M362.1 227.0h0M362.3 227.0h0M362.6 226.8h0M362.8 227.4h0M363.0 227.2h0M363.3 225.3h0M363.5 228.5h0M363.7 225.0h0M364.0 225.4h0M364.2 223.5h0M364.4 224.4h0M364.7 222.0h0M364.9 222.2h0M365.1 224.9h0M365.4 223.3h0M365.6 225.1h0M365.9 223.2h0M366.1 223.2h0M366.3 223.9h0M366.6 221.8h0M366.8 223.7h0M367.0 222.4h0M367.3 221.4h0M367.5 222.9h0M367.7 223.3h0M368.0 222.2h0M368.2 222.9h0M368.4 219.7h0M368.7 220.9h0M368.9 220.1h0M369.1 221.5h0M369.4 229.0h0M369.6 220.0h0M369.8 232.8h0M370.1 220.0h0M370.3 222.0h0M370.5 221.5h0M370.8 218.7h0M371.0 219.8h0M371.2 219.9h0M371.5 217.8h0M371.7 222.0h0M371.9 217.4h0M372.2 218.7h0M372.4 220.3h0M372.6 220.2h0M372.9 219.1h0M373.1 217.6h0M373.4 219.9h0M373.6 216.6h0M373.8 217.6h0M374.1 217.0h0M374.3 217.9h0M374.5 219.6h0M374.8 215.9h0M375.0 215.8h0M375.2 217.8h0M375.5 217.5h0M375.7 222.4h0M375.9 213.6h0M376.2 216.4h0M376.4 227.4h0M376.6 215.4h0M376.9 212.8h0M377.1 213.8h0M377.3 214.3h0M377.6 214.7h0M377.8 213.3h0M378.0 212.5h0M378.3 214.8h0M378.5 213.4h0M378.7 215.6h0M379.0 220.2h0M379.2 214.1h0M379.4 211.3h0M379.7 212.5h0M379.9 213.4h0M380.1 210.2h0M380.4 213.8h0M380.6 213.1h0M380.9 212.7h0M381.1 212.3h0M381.3 211.8h0M381.6 212.2h0M381.8 210.7h0M382.0 211.6h0M382.3 211.4h0M382.5 212.2h0M382.7 212.1h0M383.0 210.4h0M383.2 211.5h0M383.4 211.2h0M383.7 212.1h0M383.9 213.8h0M384.1 213.2h0M384.4 215.5h0M384.6 211.8h0M384.8 210.8h0M385.1 213.8h0M385.3 214.4h0M385.5 214.0h0M385.8 212.6h0M386.0 213.3h0M386.2 213.5h0M386.5 216.0h0M386.7 213.5h0M386.9 214.3h0M387.2 214.0h0M387.4 213.5h0M387.6 213.4h0M387.9 214.6h0M388.1 216.3h0M388.3 214.1h0M388.6 214.6h0M388.8 215.2h0M389.1 214.1h0M389.3 217.4h0M389.5 221.4h0M389.8 215.0h0M390.0 217.1h0M390.2 216.4h0M390.5 216.8h0M390.7 216.3h0M390.9 218.2h0M391.2 214.7h0M391.4 219.3h0M391.6 217.5h0M391.9 218.7h0M392.1 216.6h0M392.3 220.2h0M392.6 219.9h0M392.8 218.0h0M393.0 220.4h0M393.3 227.5h0M393.5 219.8h0M393.7 218.8h0M394.0 218.7h0M394.2 222.1h0M394.4 219.6h0M394.7 232.9h0M394.9 218.3h0M395.1 231.6h0M395.4 222.3h0M395.6 219.4h0M395.8 221.8h0M396.1 222.4h0M396.3 220.6h0M396.6 221.6h0M396.8 220.4h0M397.0 221.6h0M397.3 234.4h0M397.5 222.9h0M397.7 222.7h0M398.0 223.5h0M398.2 224.5h0M398.4 221.4h0M398.7 221.0h0M398.9 223.0h0M399.1 225.0h0M399.4 224.3h0M399.6 223.8h0M399.8 225.3h0M400.1 224.2h0M400.3 223.8h0M400.5 226.2h0M400.8 227.4h0M401.0 234.6h0M401.2 224.5h0M401.5 224.0h0M401.7 225.8h0M401.9 234.0h0M402.2 222.6h0M402.4 224.1h0M402.6 228.9h0M402.9 223.7h0M403.1 225.9h0M403.3 224.5h0M403.6 227.6h0M403.8 233.7h0M404.1 227.2h0M404.3 223.5h0M404.5 224.5h0M404.8 222.4h0M405.0 222.7h0M405.2 223.3h0M405.5 223.4h0M405.7 222.8h0M405.9 222.4h0M406.2 222.4h0M406.4 223.7h0M406.6 220.7h0M406.9 223.3h0M407.1 220.1h0M407.3 223.5h0M407.6 220.7h0M407.8 222.7h0M408.0 218.7h0M408.3 220.7h0M408.5 219.8h0M408.7 218.0h0M409.0 219.0h0M409.2 218.2h0M409.4 222.1h0M409.7 221.0h0M409.9 231.3h0M410.1 220.2h0M410.4 220.2h0M410.6 220.0h0M410.8 220.6h0M411.1 217.0h0M411.3 217.3h0M411.5 218.6h0M411.8 229.5h0M412.0 219.8h0M412.3 213.8h0M412.5 222.7h0M412.7 216.1h0M413.0 218.5h0M413.2 216.9h0M413.4 215.9h0M413.7 215.4h0M413.9 217.9h0M414.1 222.6h0M414.4 217.1h0M414.6 214.2h0M414.8 216.7h0M415.1 217.4h0M415.3 227.7h0M415.5 219.3h0M415.8 218.1h0M416.0 214.9h0M416.2 217.2h0M416.5 229.7h0M416.7 216.3h0M416.9 216.7h0M417.2 216.1h0M417.4 214.2h0M417.6 215.2h0M417.9 213.5h0M418.1 214.2h0M418.3 216.2h0M418.6 214.6h0M418.8 212.6h0M419.0 211.5h0M419.3 215.4h0M419.5 212.7h0M419.8 211.7h0M420.0 209.9h0M420.2 213.3h0M420.5 226.4h0M420.7 222.4h0M420.9 210.9h0M421.2 214.5h0M421.4 214.3h0M421.6 212.9h0M421.9 212.2h0M422.1 219.7h0M422.3 211.4h0M422.6 215.3h0M422.8 210.7h0M423.0 212.7h0M423.3 212.9h0M423.5 210.6h0M423.7 212.7h0M424.0 211.8h0M424.2 211.3h0M424.4 208.9h0M424.7 211.1h0M424.9 209.4h0M425.1 210.4h0M425.4 212.9h0M425.6 209.4h0M425.8 212.5h0M426.1 214.3h0M426.3 211.8h0M426.5 213.1h0M426.8 214.9h0M427.0 212.0h0M427.2 213.0h0M427.5 209.8h0M427.7 213.9h0M428.0 215.8h0M428.2 214.2h0M428.4 214.6h0M428.7 212.0h0M428.9 212.2h0M429.1 215.7h0M429.4 215.0h0M429.6 214.9h0M429.8 215.7h0M430.1 213.4h0M430.3 214.8h0M430.5 215.6h0M430.8 214.9h0M431.0 214.8h0M431.2 215.9h0M431.5 216.0h0M431.7 215.2h0M431.9 223.3h0M432.2 217.5h0M432.4 226.0h0M432.6 219.6h0M432.9 219.9h0M433.1 218.9h0M433.3 215.1h0M433.6 217.4h0M433.8 218.1h0M434.0 215.6h0M434.3 217.2h0M434.5 219.3h0M434.7 220.1h0M435.0 223.2h0M435.2 219.5h0M435.5 222.0h0M435.7 220.8h0M435.9 223.5h0M436.2 223.0h0M436.4 221.0h0M436.6 221.7h0M436.9 218.9h0M437.1 222.0h0M437.3 221.0h0M437.6 223.3h0M437.8 224.4h0M438.0 224.8h0M438.3 224.6h0M438.5 224.0h0M438.7 222.0h0M439.0 225.1h0M439.2 226.8h0M439.4 225.5h0M439.7 228.1h0M439.9 225.2h0M440.1 229.4h0M440.4 229.0h0M440.6 225.4h0M440.8 225.3h0M441.1 227.2h0M441.3 234.0h0M441.5 225.7h0M441.8 225.6h0M442.0 233.7h0M442.2 234.0h0M442.5 229.1h0M442.7 228.2h0M443.0 227.6h0M443.2 226.7h0M443.4 225.7h0M443.7 227.1h0M443.9 227.4h0M444.1 226.8h0M444.4 227.3h0M444.6 227.6h0M444.8 225.5h0M445.1 226.8h0M445.3 226.0h0M445.5 229.3h0M445.8 228.6h0M446.0 228.0h0M446.2 228.5h0M446.5 227.5h0M446.7 231.1h0" stroke="#a45cf5" stroke-width="1.20" stroke-linecap="round" stroke-opacity="0.75" fill="none"/>
<path d="M361.4 232.0h0M361.6 231.3h0M361.9 233.7h0M362.1 225.7h0M362.3 233.7h0M362.6 226.3h0M362.8 236.6h0M363.0 229.1h0M363.3 228.6h0M363.5 224.5h0M363.7 236.1h0M364.0 222.6h0M364.2 226.9h0M364.4 222.6h0M364.7 233.1h0M364.9 225.8h0M365.1 230.3h0M365.4 226.3h0M365.6 224.6h0M365.9 224.1h0M366.1 220.2h0M366.3 223.8h0M366.6 221.2h0M366.8 220.1h0M367.0 221.1h0M367.3 230.8h0M367.5 225.3h0M367.7 231.7h0M368.0 221.0h0M368.2 221.8h0M368.4 219.5h0M368.7 220.1h0M368.9 219.2h0M369.1 222.0h0M369.4 220.1h0M369.6 218.8h0M369.8 221.1h0M370.1 219.2h0M370.3 219.1h0M370.5 214.1h0M370.8 217.6h0M371.0 224.9h0M371.2 218.0h0M371.5 217.4h0M371.7 216.6h0M371.9 216.0h0M372.2 230.6h0M372.4 213.7h0M372.6 219.6h0M372.9 220.5h0M373.1 211.4h0M373.4 216.3h0M373.6 212.2h0M373.8 212.6h0M374.1 213.1h0M374.3 213.3h0M374.5 219.8h0M374.8 214.2h0M375.0 210.3h0M375.2 208.4h0M375.5 213.1h0M375.7 212.1h0M375.9 211.5h0M376.2 209.8h0M376.4 208.3h0M376.6 210.3h0M376.9 222.0h0M377.1 226.5h0M377.3 209.1h0M377.6 216.8h0M377.8 212.2h0M378.0 211.4h0M378.3 205.0h0M378.5 209.1h0M378.7 222.6h0M379.0 208.0h0M379.2 203.9h0M379.4 217.7h0M379.7 204.5h0M379.9 221.8h0M380.1 212.4h0M380.4 204.2h0M380.6 202.1h0M380.9 202.8h0M381.1 221.5h0M381.3 200.7h0M381.6 207.1h0M381.8 201.6h0M382.0 202.1h0M382.3 200.3h0M382.5 200.7h0M382.7 202.3h0M383.0 202.9h0M383.2 199.7h0M383.4 202.1h0M383.7 202.4h0M383.9 200.8h0M384.1 201.0h0M384.4 202.8h0M384.6 221.4h0M384.8 201.6h0M385.1 208.8h0M385.3 211.1h0M385.5 204.4h0M385.8 211.4h0M386.0 204.8h0M386.2 202.2h0M386.5 202.3h0M386.7 204.9h0M386.9 206.0h0M387.2 225.5h0M387.4 203.8h0M387.6 206.9h0M387.9 204.9h0M388.1 203.8h0M388.3 205.6h0M388.6 212.3h0M388.8 225.3h0M389.1 206.8h0M389.3 207.5h0M389.5 210.3h0M389.8 210.1h0M390.0 208.1h0M390.2 203.9h0M390.5 208.8h0M390.7 211.6h0M390.9 214.2h0M391.2 212.9h0M391.4 209.1h0M391.6 208.9h0M391.9 221.1h0M392.1 207.2h0M392.3 222.2h0M392.6 208.7h0M392.8 209.2h0M393.0 210.9h0M393.3 207.6h0M393.5 207.7h0M393.7 207.8h0M394.0 208.2h0M394.2 210.0h0M394.4 210.8h0M394.7 210.6h0M394.9 210.4h0M395.1 214.8h0M395.4 209.0h0M395.6 223.0h0M395.8 210.6h0M396.1 212.5h0M396.3 209.9h0M396.6 212.7h0M396.8 223.1h0M397.0 208.0h0M397.3 209.8h0M397.5 211.7h0M397.7 222.7h0M398.0 212.2h0M398.2 209.5h0M398.4 209.2h0M398.7 211.7h0M398.9 211.8h0M399.1 214.5h0M399.4 216.2h0M399.6 209.6h0M399.8 221.9h0M400.1 214.1h0M400.3 212.3h0M400.5 210.1h0M400.8 209.9h0M401.0 209.9h0M401.2 225.6h0M401.5 208.9h0M401.7 216.6h0M401.9 220.4h0M402.2 212.0h0M402.4 211.9h0M402.6 219.7h0M402.9 209.9h0M403.1 209.8h0M403.3 228.4h0M403.6 207.6h0M403.8 212.6h0M404.1 209.7h0M404.3 224.8h0M404.5 221.5h0M404.8 213.9h0M405.0 208.6h0M405.2 211.1h0M405.5 208.2h0M405.7 209.1h0M405.9 211.2h0M406.2 209.0h0M406.4 206.9h0M406.6 221.7h0M406.9 206.4h0M407.1 205.8h0M407.3 209.2h0M407.6 227.0h0M407.8 209.0h0M408.0 207.1h0M408.3 224.5h0M408.5 222.7h0M408.7 207.3h0M409.0 205.5h0M409.2 219.6h0M409.4 202.1h0M409.7 204.2h0M409.9 225.8h0M410.1 204.0h0M410.4 214.1h0M410.6 222.4h0M410.8 205.8h0M411.1 202.1h0M411.3 202.5h0M411.5 206.7h0M411.8 204.3h0M412.0 222.7h0M412.3 200.2h0M412.5 200.7h0M412.7 205.2h0M413.0 201.4h0M413.2 200.3h0M413.4 205.0h0M413.7 222.4h0M413.9 202.1h0M414.1 199.3h0M414.4 211.2h0M414.6 221.8h0M414.8 199.4h0M415.1 217.0h0M415.3 217.5h0M415.5 215.8h0M415.8 199.6h0M416.0 197.8h0M416.2 194.8h0M416.5 198.2h0M416.7 202.3h0M416.9 199.3h0M417.2 196.5h0M417.4 212.1h0M417.6 217.0h0M417.9 197.0h0M418.1 196.6h0M418.3 215.9h0M418.6 210.9h0M418.8 195.3h0M419.0 194.0h0M419.3 204.7h0M419.5 194.4h0M419.8 193.5h0M420.0 192.1h0M420.2 199.5h0M420.5 218.7h0M420.7 189.3h0M420.9 209.7h0M421.2 202.4h0M421.4 206.8h0M421.6 205.5h0M421.9 193.4h0M422.1 192.3h0M422.3 193.7h0M422.6 190.7h0M422.8 198.1h0M423.0 193.4h0M423.3 202.2h0M423.5 196.9h0M423.7 196.0h0M424.0 193.4h0M424.2 197.9h0M424.4 196.5h0M424.7 212.6h0M424.9 218.1h0M425.1 198.6h0M425.4 198.5h0M425.6 199.9h0M425.8 202.4h0M426.1 201.3h0M426.3 214.4h0M426.5 213.7h0M426.8 216.3h0M427.0 203.6h0M427.2 201.2h0M427.5 208.7h0M427.7 219.3h0M428.0 200.9h0M428.2 203.3h0M428.4 211.9h0M428.7 207.3h0M428.9 205.9h0M429.1 202.0h0M429.4 203.3h0M429.6 205.6h0M429.8 205.4h0M430.1 205.5h0M430.3 206.2h0M430.5 206.8h0M430.8 207.2h0M431.0 207.4h0M431.2 206.0h0M431.5 209.6h0M431.7 211.4h0M431.9 226.5h0M432.2 207.7h0M432.4 221.3h0M432.6 222.6h0M432.9 220.2h0M433.1 224.3h0M433.3 215.7h0M433.6 223.9h0M433.8 213.7h0M434.0 216.3h0M434.3 214.6h0M434.5 215.8h0M434.7 218.0h0M435.0 231.3h0M435.2 214.0h0M435.5 231.2h0M435.7 219.2h0M435.9 229.2h0M436.2 219.3h0M436.4 225.2h0M436.6 219.8h0M436.9 225.0h0M437.1 220.7h0M437.3 229.4h0M437.6 225.3h0M437.8 224.4h0M438.0 220.9h0M438.3 222.5h0M438.5 222.1h0M438.7 223.8h0M439.0 226.1h0M439.2 226.5h0M439.4 228.2h0M439.7 223.5h0M439.9 225.8h0M440.1 230.9h0M440.4 230.4h0M440.6 222.5h0M440.8 229.6h0M441.1 226.4h0M441.3 227.7h0M441.5 234.4h0M441.8 226.8h0M442.0 232.3h0M442.2 234.2h0M442.5 226.6h0M442.7 226.9h0M443.0 230.1h0M443.2 235.5h0M443.4 234.9h0M443.7 230.7h0M443.9 237.2h0M444.1 231.6h0M444.4 230.0h0M444.6 228.2h0M444.8 232.0h0M445.1 227.8h0M445.3 227.2h0M445.5 229.8h0M445.8 227.2h0M446.0 227.2h0M446.2 231.9h0M446.5 230.7h0M446.7 229.4h0" stroke="#5a6cf5" stroke-width="1.20" stroke-linecap="round" stroke-opacity="0.75" fill="none"/>
<rect x="360.8" y="168.4" width="86.5" height="79.0" fill="none" stroke="#8a8a8a" stroke-width="0.9"/>
<path d="M360.8 247.4h-1.6M447.3 247.4h1.2M360.8 227.7h-1.6M447.3 227.7h1.2M360.8 207.9h-1.6M447.3 207.9h1.2M360.8 188.2h-1.6M447.3 188.2h1.2M360.8 168.4h-1.6M447.3 168.4h1.2M360.8 237.5h-1M360.8 217.8h-1M360.8 198.0h-1M360.8 178.3h-1" stroke="#8a8a8a" stroke-width="0.7" fill="none"/>
<text x="362.6" y="255.7" font-size="6.5" text-anchor="middle" font-weight="normal" fill="#111" stroke="#111" stroke-width="0.18" >1/1</text>
<text x="441.9" y="255.7" font-size="6.5" text-anchor="middle" font-weight="normal" fill="#111" stroke="#111" stroke-width="0.18" >12/31</text>
<text x="404.1" y="256.7" font-size="8.2" text-anchor="middle" font-weight="normal" fill="#111" stroke="#111" stroke-width="0.18" >Day of year</text>
<text x="404.1" y="164.7" font-size="8.5" text-anchor="middle" font-weight="normal" fill="#111" stroke="#111" stroke-width="0.18" >Without pretreatment</text>
<path d="M491.0 227.7H578.1M491.0 241.5H578.1" stroke="#777" stroke-width="0.7" stroke-dasharray="0.9 1.1"/>
<path d="M491.6 245.0h0M491.8 245.2h0M492.1 245.3h0M492.3 245.0h0M492.5 245.1h0M492.8 245.3h0M493.0 245.4h0M493.3 244.7h0M493.5 244.9h0M493.7 245.2h0M494.0 245.3h0M494.2 244.9h0M494.4 245.2h0M494.7 245.0h0M494.9 245.7h0M495.1 245.0h0M495.4 244.9h0M495.6 244.8h0M495.8 245.0h0M496.1 244.9h0M496.3 245.1h0M496.6 245.1h0M496.8 245.2h0M497.0 245.6h0M497.3 245.4h0M497.5 245.1h0M497.7 245.7h0M498.0 244.9h0M498.2 245.0h0M498.4 245.5h0M498.7 245.0h0M498.9 245.3h0M499.2 244.8h0M499.4 245.4h0M499.6 244.9h0M499.9 245.5h0M500.1 245.5h0M500.3 245.8h0M500.6 245.2h0M500.8 245.5h0M501.0 244.9h0M501.3 245.6h0M501.5 245.1h0M501.7 245.1h0M502.0 245.5h0M502.2 245.3h0M502.5 244.7h0M502.7 245.4h0M502.9 245.0h0M503.2 245.1h0M503.4 245.2h0M503.6 245.8h0M503.9 245.5h0M504.1 245.3h0M504.3 245.1h0M504.6 245.5h0M504.8 245.8h0M505.1 245.8h0M505.3 245.4h0M505.5 245.6h0M505.8 245.2h0M506.0 245.3h0M506.2 245.5h0M506.5 245.8h0M506.7 245.4h0M506.9 245.3h0M507.2 245.4h0M507.4 245.2h0M507.6 245.6h0M507.9 245.3h0M508.1 245.3h0M508.4 245.5h0M508.6 245.5h0M508.8 245.6h0M509.1 245.6h0M509.3 245.7h0M509.5 245.2h0M509.8 245.4h0M510.0 245.8h0M510.2 245.5h0M510.5 245.2h0M510.7 245.1h0M511.0 245.2h0M511.2 245.8h0M511.4 245.3h0M511.7 245.8h0M511.9 245.1h0M512.1 245.0h0M512.4 245.8h0M512.6 245.5h0M512.8 245.9h0M513.1 245.5h0M513.3 245.7h0M513.5 245.8h0M513.8 245.3h0M514.0 245.5h0M514.3 245.3h0M514.5 245.5h0M514.7 245.9h0M515.0 245.8h0M515.2 245.3h0M515.4 245.3h0M515.7 245.7h0M515.9 245.1h0M516.1 245.5h0M516.4 245.2h0M516.6 245.5h0M516.9 245.3h0M517.1 245.8h0M517.3 245.7h0M517.6 246.0h0M517.8 245.6h0M518.0 246.0h0M518.3 245.6h0M518.5 245.8h0M518.7 245.9h0M519.0 245.8h0M519.2 245.8h0M519.4 246.0h0M519.7 245.3h0M519.9 246.0h0M520.2 245.4h0M520.4 245.4h0M520.6 245.5h0M520.9 245.8h0M521.1 245.9h0M521.3 246.1h0M521.6 246.1h0M521.8 246.1h0M522.0 245.9h0M522.3 245.7h0M522.5 245.6h0M522.8 246.1h0M523.0 245.6h0M523.2 246.0h0M523.5 245.2h0M523.7 245.5h0M523.9 245.3h0M524.2 245.7h0M524.4 246.1h0M524.6 246.2h0M524.9 245.8h0M525.1 246.3h0M525.3 245.7h0M525.6 245.8h0M525.8 246.2h0M526.1 245.7h0M526.3 246.0h0M526.5 245.9h0M526.8 245.9h0M527.0 246.3h0M527.2 246.1h0M527.5 246.4h0M527.7 246.0h0M527.9 246.4h0M528.2 245.9h0M528.4 246.0h0M528.7 246.4h0M528.9 246.3h0M529.1 246.3h0M529.4 246.0h0M529.6 246.2h0M529.8 246.3h0M530.1 245.8h0M530.3 246.4h0M530.5 246.4h0M530.8 246.4h0M531.0 246.4h0M531.2 246.8h0M531.5 246.2h0M531.7 246.8h0M532.0 246.9h0M532.2 246.3h0M532.4 246.2h0M532.7 246.5h0M532.9 246.7h0M533.1 247.1h0M533.4 246.3h0M533.6 246.8h0M533.8 246.5h0M534.1 246.7h0M534.3 246.3h0M534.6 246.7h0M534.8 246.4h0M535.0 246.6h0M535.3 246.5h0M535.5 246.7h0M535.7 246.1h0M536.0 246.9h0M536.2 246.2h0M536.4 246.7h0M536.7 246.5h0M536.9 246.1h0M537.1 246.7h0M537.4 246.1h0M537.6 246.5h0M537.9 246.1h0M538.1 246.1h0M538.3 246.0h0M538.6 246.4h0M538.8 246.2h0M539.0 246.4h0M539.3 246.2h0M539.5 246.3h0M539.7 246.0h0M540.0 245.5h0M540.2 246.0h0M540.4 246.5h0M540.7 246.2h0M540.9 246.2h0M541.2 246.5h0M541.4 246.4h0M541.6 246.0h0M541.9 246.5h0M542.1 245.6h0M542.3 246.6h0M542.6 246.2h0M542.8 245.7h0M543.0 246.0h0M543.3 245.9h0M543.5 246.6h0M543.8 246.2h0M544.0 246.5h0M544.2 246.3h0M544.5 246.0h0M544.7 246.3h0M544.9 245.8h0M545.2 246.3h0M545.4 246.0h0M545.6 246.2h0M545.9 246.3h0M546.1 246.3h0M546.3 246.2h0M546.6 245.7h0M546.8 246.3h0M547.1 245.9h0M547.3 246.6h0M547.5 245.8h0M547.8 246.2h0M548.0 246.1h0M548.2 245.9h0M548.5 246.0h0M548.7 245.9h0M548.9 246.0h0M549.2 245.9h0M549.4 246.3h0M549.7 246.0h0M549.9 246.0h0M550.1 246.3h0M550.4 245.8h0M550.6 245.8h0M550.8 246.2h0M551.1 245.9h0M551.3 245.8h0M551.5 246.0h0M551.8 245.7h0M552.0 245.7h0M552.2 246.1h0M552.5 245.6h0M552.7 245.5h0M553.0 246.0h0M553.2 245.7h0M553.4 246.3h0M553.7 246.4h0M553.9 245.8h0M554.1 246.1h0M554.4 245.6h0M554.6 245.4h0M554.8 245.9h0M555.1 245.9h0M555.3 245.6h0M555.6 245.6h0M555.8 245.6h0M556.0 246.0h0M556.3 245.6h0M556.5 245.7h0M556.7 246.1h0M557.0 245.8h0M557.2 245.5h0M557.4 245.8h0M557.7 246.1h0M557.9 245.5h0M558.1 245.5h0M558.4 245.8h0M558.6 245.7h0M558.9 245.6h0M559.1 245.9h0M559.3 245.6h0M559.6 245.3h0M559.8 245.4h0M560.0 245.6h0M560.3 245.7h0M560.5 245.0h0M560.7 246.0h0M561.0 245.6h0M561.2 245.8h0M561.5 245.8h0M561.7 245.6h0M561.9 245.6h0M562.2 245.2h0M562.4 245.1h0M562.6 245.2h0M562.9 245.4h0M563.1 245.6h0M563.3 245.6h0M563.6 245.1h0M563.8 245.4h0M564.0 246.0h0M564.3 245.6h0M564.5 245.8h0M564.8 245.4h0M565.0 245.2h0M565.2 245.1h0M565.5 245.5h0M565.7 245.4h0M565.9 245.5h0M566.2 245.8h0M566.4 245.6h0M566.6 245.5h0M566.9 245.3h0M567.1 245.3h0M567.4 245.4h0M567.6 245.3h0M567.8 245.8h0M568.1 245.3h0M568.3 245.4h0M568.5 244.9h0M568.8 245.5h0M569.0 245.1h0M569.2 245.4h0M569.5 245.3h0M569.7 245.2h0M569.9 245.1h0M570.2 245.7h0M570.4 245.8h0M570.7 245.0h0M570.9 245.1h0M571.1 245.0h0M571.4 245.3h0M571.6 244.9h0M571.8 245.7h0M572.1 245.8h0M572.3 245.8h0M572.5 244.9h0M572.8 245.2h0M573.0 245.1h0M573.3 245.3h0M573.5 245.4h0M573.7 245.1h0M574.0 245.4h0M574.2 245.2h0M574.4 245.2h0M574.7 244.8h0M574.9 244.9h0M575.1 245.1h0M575.4 245.1h0M575.6 245.6h0M575.8 244.9h0M576.1 245.0h0M576.3 245.0h0M576.6 245.1h0M576.8 245.1h0M577.0 244.9h0M577.3 245.1h0M577.5 245.3h0" stroke="#b0b0b0" stroke-width="1.20" stroke-linecap="round" stroke-opacity="0.6" fill="none"/>
<path d="M491.6 222.8h0M491.8 244.9h0M492.1 225.4h0M492.3 224.9h0M492.5 233.8h0M492.8 225.1h0M493.0 220.5h0M493.3 245.3h0M493.5 222.2h0M493.7 225.4h0M494.0 229.3h0M494.2 227.6h0M494.4 246.8h0M494.7 227.6h0M494.9 243.6h0M495.1 236.8h0M495.4 222.2h0M495.6 222.0h0M495.8 218.4h0M496.1 219.9h0M496.3 240.9h0M496.6 218.6h0M496.8 221.2h0M497.0 221.6h0M497.3 219.0h0M497.5 221.3h0M497.7 218.4h0M498.0 243.5h0M498.2 221.2h0M498.4 224.5h0M498.7 219.4h0M498.9 219.4h0M499.2 244.9h0M499.4 242.0h0M499.6 218.3h0M499.9 216.5h0M500.1 235.1h0M500.3 219.2h0M500.6 229.8h0M500.8 217.5h0M501.0 220.9h0M501.3 224.6h0M501.5 240.2h0M501.7 219.9h0M502.0 215.6h0M502.2 235.6h0M502.5 220.1h0M502.7 215.4h0M502.9 215.0h0M503.2 241.0h0M503.4 219.2h0M503.6 219.4h0M503.9 216.8h0M504.1 242.7h0M504.3 222.8h0M504.6 244.4h0M504.8 214.8h0M505.1 215.4h0M505.3 243.1h0M505.5 231.6h0M505.8 227.3h0M506.0 212.7h0M506.2 244.0h0M506.5 241.1h0M506.7 231.4h0M506.9 211.6h0M507.2 243.2h0M507.4 214.0h0M507.6 214.2h0M507.9 214.8h0M508.1 216.0h0M508.4 217.8h0M508.6 214.2h0M508.8 212.7h0M509.1 211.0h0M509.3 236.7h0M509.5 213.4h0M509.8 229.9h0M510.0 227.3h0M510.2 232.2h0M510.5 216.5h0M510.7 244.0h0M511.0 214.7h0M511.2 231.8h0M511.4 238.5h0M511.7 239.1h0M511.9 217.0h0M512.1 241.2h0M512.4 229.0h0M512.6 215.0h0M512.8 215.7h0M513.1 217.1h0M513.3 236.6h0M513.5 219.9h0M513.8 216.5h0M514.0 234.6h0M514.3 220.9h0M514.5 218.4h0M514.7 219.6h0M515.0 220.0h0M515.2 237.2h0M515.4 246.4h0M515.7 220.4h0M515.9 225.0h0M516.1 246.4h0M516.4 219.4h0M516.6 237.9h0M516.9 219.4h0M517.1 232.6h0M517.3 220.8h0M517.6 247.3h0M517.8 222.4h0M518.0 246.5h0M518.3 240.4h0M518.5 247.3h0M518.7 247.3h0M519.0 227.9h0M519.2 224.5h0M519.4 246.9h0M519.7 227.8h0M519.9 241.9h0M520.2 226.4h0M520.4 246.8h0M520.6 244.0h0M520.9 226.7h0M521.1 226.4h0M521.3 247.0h0M521.6 228.1h0M521.8 228.6h0M522.0 241.5h0M522.3 246.8h0M522.5 230.9h0M522.8 230.3h0M523.0 239.0h0M523.2 247.2h0M523.5 241.8h0M523.7 238.6h0M523.9 246.8h0M524.2 242.1h0M524.4 234.7h0M524.6 247.3h0M524.9 232.3h0M525.1 241.3h0M525.3 243.0h0M525.6 240.2h0M525.8 246.7h0M526.1 234.1h0M526.3 234.5h0M526.5 246.6h0M526.8 236.4h0M527.0 242.6h0M527.2 233.0h0M527.5 238.0h0M527.7 235.1h0M527.9 246.7h0M528.2 237.6h0M528.4 235.5h0M528.7 238.5h0M528.9 237.9h0M529.1 246.9h0M529.4 247.4h0M529.6 246.6h0M529.8 245.8h0M530.1 246.5h0M530.3 236.6h0M530.5 247.4h0M530.8 246.7h0M531.0 247.1h0M531.2 242.0h0M531.5 245.2h0M531.7 246.9h0M532.0 236.0h0M532.2 245.0h0M532.4 237.3h0M532.7 247.1h0M532.9 238.4h0M533.1 238.1h0M533.4 237.8h0M533.6 247.4h0M533.8 237.7h0M534.1 245.9h0M534.3 246.7h0M534.6 238.6h0M534.8 247.3h0M535.0 247.1h0M535.3 246.8h0M535.5 246.9h0M535.7 243.7h0M536.0 245.9h0M536.2 241.2h0M536.4 247.3h0M536.7 247.1h0M536.9 246.7h0M537.1 247.0h0M537.4 245.6h0M537.6 238.1h0M537.9 242.5h0M538.1 241.9h0M538.3 234.4h0M538.6 238.1h0M538.8 244.2h0M539.0 247.1h0M539.3 238.1h0M539.5 238.4h0M539.7 238.6h0M540.0 240.7h0M540.2 247.1h0M540.4 238.2h0M540.7 244.5h0M540.9 247.0h0M541.2 247.4h0M541.4 239.7h0M541.6 237.3h0M541.9 247.4h0M542.1 240.5h0M542.3 235.2h0M542.6 247.0h0M542.8 246.8h0M543.0 236.4h0M543.3 236.3h0M543.5 246.7h0M543.8 231.3h0M544.0 240.7h0M544.2 231.5h0M544.5 246.6h0M544.7 247.3h0M544.9 235.7h0M545.2 236.9h0M545.4 247.3h0M545.6 247.1h0M545.9 236.7h0M546.1 247.3h0M546.3 247.4h0M546.6 231.0h0M546.8 246.8h0M547.1 240.9h0M547.3 230.4h0M547.5 247.1h0M547.8 231.1h0M548.0 246.9h0M548.2 229.5h0M548.5 247.3h0M548.7 230.8h0M548.9 246.9h0M549.2 230.3h0M549.4 225.6h0M549.7 226.3h0M549.9 246.0h0M550.1 246.8h0M550.4 226.9h0M550.6 228.7h0M550.8 246.6h0M551.1 226.0h0M551.3 247.4h0M551.5 243.9h0M551.8 247.1h0M552.0 232.9h0M552.2 246.7h0M552.5 246.8h0M552.7 226.8h0M553.0 223.0h0M553.2 246.7h0M553.4 234.7h0M553.7 225.2h0M553.9 223.8h0M554.1 237.8h0M554.4 247.2h0M554.6 222.6h0M554.8 220.8h0M555.1 225.1h0M555.3 221.9h0M555.6 222.6h0M555.8 242.2h0M556.0 240.6h0M556.3 221.7h0M556.5 221.3h0M556.7 220.9h0M557.0 241.3h0M557.2 221.1h0M557.4 238.0h0M557.7 246.4h0M557.9 223.2h0M558.1 245.4h0M558.4 219.7h0M558.6 232.1h0M558.9 220.8h0M559.1 228.5h0M559.3 222.2h0M559.6 243.7h0M559.8 235.9h0M560.0 219.5h0M560.3 221.5h0M560.5 219.6h0M560.7 228.7h0M561.0 237.2h0M561.2 222.8h0M561.5 232.9h0M561.7 220.5h0M561.9 217.7h0M562.2 219.8h0M562.4 221.0h0M562.6 227.2h0M562.9 220.1h0M563.1 220.6h0M563.3 233.5h0M563.6 220.0h0M563.8 237.8h0M564.0 220.6h0M564.3 240.7h0M564.5 238.5h0M564.8 221.2h0M565.0 219.9h0M565.2 220.7h0M565.5 226.7h0M565.7 220.7h0M565.9 221.9h0M566.2 239.1h0M566.4 220.3h0M566.6 218.7h0M566.9 246.4h0M567.1 223.1h0M567.4 220.8h0M567.6 223.5h0M567.8 220.4h0M568.1 224.1h0M568.3 230.1h0M568.5 225.5h0M568.8 220.7h0M569.0 241.8h0M569.2 222.6h0M569.5 221.2h0M569.7 220.4h0M569.9 221.6h0M570.2 233.5h0M570.4 220.6h0M570.7 221.1h0M570.9 233.0h0M571.1 220.4h0M571.4 228.4h0M571.6 222.4h0M571.8 230.3h0M572.1 221.4h0M572.3 234.8h0M572.5 222.6h0M572.8 225.1h0M573.0 224.9h0M573.3 228.3h0M573.5 227.7h0M573.7 222.3h0M574.0 220.4h0M574.2 246.5h0M574.4 223.7h0M574.7 224.7h0M574.9 245.2h0M575.1 222.0h0M575.4 223.1h0M575.6 232.3h0M575.8 221.5h0M576.1 223.5h0M576.3 243.1h0M576.6 225.3h0M576.8 222.4h0M577.0 225.4h0M577.3 226.3h0M577.5 223.9h0" stroke="#f0505a" stroke-width="1.20" stroke-linecap="round" stroke-opacity="0.75" fill="none"/>
<path d="M491.6 197.7h0M491.8 196.8h0M492.1 197.1h0M492.3 197.5h0M492.5 197.6h0M492.8 199.8h0M493.0 194.8h0M493.3 196.9h0M493.5 195.1h0M493.7 197.0h0M494.0 195.8h0M494.2 194.4h0M494.4 194.0h0M494.7 192.4h0M494.9 195.6h0M495.1 211.4h0M495.4 191.9h0M495.6 195.0h0M495.8 190.9h0M496.1 191.2h0M496.3 192.2h0M496.6 192.2h0M496.8 190.7h0M497.0 191.4h0M497.3 189.4h0M497.5 226.6h0M497.7 189.4h0M498.0 188.4h0M498.2 188.4h0M498.4 187.2h0M498.7 188.0h0M498.9 185.9h0M499.2 202.7h0M499.4 185.7h0M499.6 186.6h0M499.9 189.1h0M500.1 182.8h0M500.3 186.9h0M500.6 234.5h0M500.8 185.5h0M501.0 185.1h0M501.3 185.4h0M501.5 182.7h0M501.7 185.9h0M502.0 184.7h0M502.2 183.3h0M502.5 183.4h0M502.7 186.2h0M502.9 198.6h0M503.2 203.1h0M503.4 230.0h0M503.6 183.8h0M503.9 181.0h0M504.1 232.2h0M504.3 203.6h0M504.6 180.6h0M504.8 183.2h0M505.1 194.0h0M505.3 210.0h0M505.5 182.5h0M505.8 177.9h0M506.0 180.6h0M506.2 178.7h0M506.5 179.6h0M506.7 180.4h0M506.9 177.3h0M507.2 177.8h0M507.4 218.9h0M507.6 178.1h0M507.9 202.6h0M508.1 178.8h0M508.4 176.2h0M508.6 177.2h0M508.8 175.4h0M509.1 174.8h0M509.3 178.7h0M509.5 176.1h0M509.8 176.9h0M510.0 179.0h0M510.2 186.8h0M510.5 179.6h0M510.7 178.2h0M511.0 179.0h0M511.2 217.0h0M511.4 179.5h0M511.7 215.8h0M511.9 179.6h0M512.1 181.8h0M512.4 181.4h0M512.6 180.2h0M512.8 180.5h0M513.1 181.0h0M513.3 180.6h0M513.5 183.7h0M513.8 183.4h0M514.0 183.4h0M514.3 218.5h0M514.5 183.1h0M514.7 182.9h0M515.0 184.1h0M515.2 184.7h0M515.4 196.5h0M515.7 185.4h0M515.9 187.3h0M516.1 187.6h0M516.4 187.3h0M516.6 212.7h0M516.9 185.4h0M517.1 189.1h0M517.3 211.5h0M517.6 186.2h0M517.8 185.5h0M518.0 189.4h0M518.3 188.6h0M518.5 189.0h0M518.7 189.9h0M519.0 192.1h0M519.2 191.1h0M519.4 192.8h0M519.7 193.7h0M519.9 191.7h0M520.2 194.3h0M520.4 238.9h0M520.6 195.7h0M520.9 194.7h0M521.1 196.7h0M521.3 219.2h0M521.6 198.8h0M521.8 197.6h0M522.0 198.1h0M522.3 198.5h0M522.5 199.2h0M522.8 224.3h0M523.0 232.9h0M523.2 201.4h0M523.5 201.7h0M523.7 203.3h0M523.9 203.1h0M524.2 203.6h0M524.4 203.3h0M524.6 204.7h0M524.9 220.2h0M525.1 207.4h0M525.3 231.7h0M525.6 203.5h0M525.8 207.0h0M526.1 207.8h0M526.3 204.9h0M526.5 207.0h0M526.8 210.7h0M527.0 205.7h0M527.2 217.3h0M527.5 207.0h0M527.7 205.7h0M527.9 208.4h0M528.2 209.6h0M528.4 210.5h0M528.7 211.8h0M528.9 209.8h0M529.1 211.1h0M529.4 212.3h0M529.6 210.4h0M529.8 215.4h0M530.1 212.7h0M530.3 234.1h0M530.5 214.6h0M530.8 212.6h0M531.0 214.1h0M531.2 214.0h0M531.5 214.6h0M531.7 229.0h0M532.0 212.2h0M532.2 219.7h0M532.4 213.3h0M532.7 213.6h0M532.9 214.1h0M533.1 234.3h0M533.4 211.4h0M533.6 216.1h0M533.8 213.3h0M534.1 212.4h0M534.3 213.1h0M534.6 214.3h0M534.8 212.6h0M535.0 223.7h0M535.3 211.7h0M535.5 227.7h0M535.7 208.9h0M536.0 211.7h0M536.2 210.1h0M536.4 210.0h0M536.7 210.2h0M536.9 208.1h0M537.1 227.7h0M537.4 234.6h0M537.6 206.9h0M537.9 207.8h0M538.1 210.3h0M538.3 233.9h0M538.6 209.0h0M538.8 237.9h0M539.0 207.9h0M539.3 207.4h0M539.5 207.5h0M539.7 204.7h0M540.0 206.4h0M540.2 204.4h0M540.4 204.1h0M540.7 205.9h0M540.9 201.4h0M541.2 204.0h0M541.4 204.6h0M541.6 219.3h0M541.9 199.7h0M542.1 200.6h0M542.3 201.1h0M542.6 198.0h0M542.8 199.7h0M543.0 201.6h0M543.3 195.9h0M543.5 199.3h0M543.8 198.0h0M544.0 207.0h0M544.2 212.8h0M544.5 196.3h0M544.7 195.6h0M544.9 196.0h0M545.2 195.5h0M545.4 192.2h0M545.6 193.5h0M545.9 195.7h0M546.1 192.5h0M546.3 193.5h0M546.6 192.9h0M546.8 189.0h0M547.1 189.6h0M547.3 189.8h0M547.5 189.8h0M547.8 191.0h0M548.0 189.4h0M548.2 187.8h0M548.5 242.6h0M548.7 190.3h0M548.9 188.0h0M549.2 229.0h0M549.4 185.8h0M549.7 187.4h0M549.9 186.0h0M550.1 187.9h0M550.4 186.7h0M550.6 184.6h0M550.8 184.0h0M551.1 183.9h0M551.3 184.1h0M551.5 186.9h0M551.8 183.9h0M552.0 183.1h0M552.2 182.8h0M552.5 210.2h0M552.7 180.8h0M553.0 212.7h0M553.2 181.2h0M553.4 180.3h0M553.7 226.8h0M553.9 178.6h0M554.1 223.4h0M554.4 177.9h0M554.6 178.5h0M554.8 177.9h0M555.1 177.5h0M555.3 179.4h0M555.6 178.2h0M555.8 175.4h0M556.0 175.1h0M556.3 181.6h0M556.5 181.7h0M556.7 175.9h0M557.0 179.4h0M557.2 200.5h0M557.4 236.0h0M557.7 178.4h0M557.9 180.9h0M558.1 211.1h0M558.4 179.4h0M558.6 182.8h0M558.9 181.2h0M559.1 237.8h0M559.3 179.4h0M559.6 182.1h0M559.8 180.8h0M560.0 210.2h0M560.3 183.3h0M560.5 244.0h0M560.7 244.2h0M561.0 182.5h0M561.2 184.6h0M561.5 184.7h0M561.7 236.1h0M561.9 184.0h0M562.2 181.7h0M562.4 182.7h0M562.6 183.3h0M562.9 184.1h0M563.1 183.9h0M563.3 184.9h0M563.6 184.7h0M563.8 216.3h0M564.0 182.8h0M564.3 183.2h0M564.5 186.9h0M564.8 187.8h0M565.0 186.8h0M565.2 202.5h0M565.5 186.5h0M565.7 186.9h0M565.9 185.3h0M566.2 189.1h0M566.4 186.9h0M566.6 235.7h0M566.9 229.7h0M567.1 187.9h0M567.4 190.3h0M567.6 189.2h0M567.8 190.7h0M568.1 191.3h0M568.3 227.0h0M568.5 190.9h0M568.8 188.6h0M569.0 192.3h0M569.2 191.8h0M569.5 192.0h0M569.7 191.2h0M569.9 194.4h0M570.2 193.1h0M570.4 194.8h0M570.7 194.6h0M570.9 193.0h0M571.1 230.4h0M571.4 191.5h0M571.6 191.4h0M571.8 193.6h0M572.1 194.4h0M572.3 192.8h0M572.5 194.6h0M572.8 193.8h0M573.0 200.6h0M573.3 198.5h0M573.5 224.5h0M573.7 197.3h0M574.0 195.6h0M574.2 195.9h0M574.4 195.8h0M574.7 196.3h0M574.9 196.4h0M575.1 197.7h0M575.4 213.7h0M575.6 221.5h0M575.8 199.4h0M576.1 198.3h0M576.3 196.4h0M576.6 197.8h0M576.8 197.6h0M577.0 240.7h0M577.3 200.0h0M577.5 196.2h0" stroke="#a45cf5" stroke-width="1.20" stroke-linecap="round" stroke-opacity="0.75" fill="none"/>
<path d="M491.6 208.7h0M491.8 209.7h0M492.1 239.7h0M492.3 208.1h0M492.5 217.9h0M492.8 208.5h0M493.0 220.8h0M493.3 224.1h0M493.5 245.0h0M493.7 207.9h0M494.0 234.4h0M494.2 246.1h0M494.4 216.5h0M494.7 230.7h0M494.9 206.7h0M495.1 244.7h0M495.4 204.0h0M495.6 206.8h0M495.8 207.1h0M496.1 207.7h0M496.3 226.5h0M496.6 206.8h0M496.8 202.3h0M497.0 240.9h0M497.3 245.1h0M497.5 204.6h0M497.7 201.2h0M498.0 226.1h0M498.2 204.8h0M498.4 241.7h0M498.7 243.3h0M498.9 203.6h0M499.2 205.6h0M499.4 206.4h0M499.6 202.5h0M499.9 204.9h0M500.1 202.0h0M500.3 247.0h0M500.6 208.4h0M500.8 206.4h0M501.0 246.6h0M501.3 216.5h0M501.5 246.4h0M501.7 213.8h0M502.0 236.9h0M502.2 201.1h0M502.5 200.6h0M502.7 206.0h0M502.9 226.3h0M503.2 206.1h0M503.4 206.6h0M503.6 239.2h0M503.9 201.5h0M504.1 212.8h0M504.3 200.9h0M504.6 212.1h0M504.8 237.6h0M505.1 224.1h0M505.3 237.2h0M505.5 215.9h0M505.8 204.6h0M506.0 235.0h0M506.2 205.3h0M506.5 220.2h0M506.7 202.8h0M506.9 198.0h0M507.2 240.8h0M507.4 199.5h0M507.6 201.2h0M507.9 231.7h0M508.1 197.9h0M508.4 200.0h0M508.6 199.3h0M508.8 202.9h0M509.1 199.8h0M509.3 198.3h0M509.5 229.1h0M509.8 201.1h0M510.0 242.2h0M510.2 200.4h0M510.5 211.0h0M510.7 204.3h0M511.0 225.4h0M511.2 208.1h0M511.4 202.6h0M511.7 214.2h0M511.9 204.0h0M512.1 216.1h0M512.4 222.8h0M512.6 242.3h0M512.8 204.5h0M513.1 236.3h0M513.3 233.8h0M513.5 245.4h0M513.8 205.7h0M514.0 241.0h0M514.3 206.6h0M514.5 219.4h0M514.7 206.0h0M515.0 206.7h0M515.2 206.5h0M515.4 245.2h0M515.7 205.8h0M515.9 208.1h0M516.1 208.0h0M516.4 208.0h0M516.6 232.4h0M516.9 210.1h0M517.1 209.7h0M517.3 245.6h0M517.6 246.6h0M517.8 214.5h0M518.0 236.8h0M518.3 211.4h0M518.5 234.3h0M518.7 212.6h0M519.0 213.9h0M519.2 221.2h0M519.4 217.7h0M519.7 236.6h0M519.9 216.3h0M520.2 229.3h0M520.4 217.3h0M520.6 213.8h0M520.9 217.9h0M521.1 218.1h0M521.3 224.8h0M521.6 218.5h0M521.8 220.8h0M522.0 229.2h0M522.3 219.2h0M522.5 242.6h0M522.8 222.4h0M523.0 224.0h0M523.2 226.0h0M523.5 230.0h0M523.7 223.0h0M523.9 226.2h0M524.2 242.1h0M524.4 231.7h0M524.6 227.8h0M524.9 224.0h0M525.1 227.9h0M525.3 227.9h0M525.6 228.8h0M525.8 235.1h0M526.1 230.8h0M526.3 236.5h0M526.5 227.5h0M526.8 228.1h0M527.0 228.0h0M527.2 232.6h0M527.5 245.4h0M527.7 235.2h0M527.9 236.5h0M528.2 227.8h0M528.4 243.3h0M528.7 232.4h0M528.9 245.5h0M529.1 233.1h0M529.4 232.9h0M529.6 233.4h0M529.8 233.5h0M530.1 231.3h0M530.3 246.0h0M530.5 234.5h0M530.8 232.9h0M531.0 237.5h0M531.2 237.3h0M531.5 245.2h0M531.7 241.6h0M532.0 235.8h0M532.2 240.5h0M532.4 235.6h0M532.7 234.0h0M532.9 238.0h0M533.1 238.4h0M533.4 245.4h0M533.6 238.5h0M533.8 240.5h0M534.1 237.9h0M534.3 237.0h0M534.6 233.9h0M534.8 242.5h0M535.0 234.4h0M535.3 242.3h0M535.5 240.1h0M535.7 245.1h0M536.0 243.9h0M536.2 236.9h0M536.4 241.7h0M536.7 245.9h0M536.9 236.3h0M537.1 243.5h0M537.4 234.4h0M537.6 234.0h0M537.9 235.5h0M538.1 234.0h0M538.3 236.6h0M538.6 236.9h0M538.8 236.5h0M539.0 233.5h0M539.3 233.2h0M539.5 239.9h0M539.7 234.1h0M540.0 234.6h0M540.2 233.2h0M540.4 242.2h0M540.7 245.8h0M540.9 241.4h0M541.2 230.5h0M541.4 228.6h0M541.6 231.5h0M541.9 229.1h0M542.1 228.7h0M542.3 229.2h0M542.6 240.7h0M542.8 225.8h0M543.0 246.5h0M543.3 240.4h0M543.5 226.9h0M543.8 226.8h0M544.0 227.7h0M544.2 227.0h0M544.5 229.8h0M544.7 237.4h0M544.9 236.4h0M545.2 226.2h0M545.4 236.4h0M545.6 223.1h0M545.9 220.8h0M546.1 233.0h0M546.3 219.0h0M546.6 221.0h0M546.8 224.2h0M547.1 219.3h0M547.3 219.7h0M547.5 221.5h0M547.8 222.7h0M548.0 243.6h0M548.2 227.2h0M548.5 215.4h0M548.7 214.8h0M548.9 221.0h0M549.2 215.4h0M549.4 215.3h0M549.7 213.9h0M549.9 214.3h0M550.1 214.5h0M550.4 213.4h0M550.6 214.8h0M550.8 214.9h0M551.1 247.0h0M551.3 209.3h0M551.5 210.5h0M551.8 213.4h0M552.0 212.4h0M552.2 209.8h0M552.5 228.0h0M552.7 235.0h0M553.0 227.4h0M553.2 225.7h0M553.4 239.7h0M553.7 209.1h0M553.9 209.8h0M554.1 206.9h0M554.4 220.2h0M554.6 207.6h0M554.8 235.2h0M555.1 217.1h0M555.3 217.2h0M555.6 208.4h0M555.8 205.0h0M556.0 230.7h0M556.3 205.8h0M556.5 206.7h0M556.7 222.1h0M557.0 212.2h0M557.2 205.2h0M557.4 201.0h0M557.7 211.3h0M557.9 205.1h0M558.1 239.0h0M558.4 207.1h0M558.6 206.1h0M558.9 205.4h0M559.1 205.3h0M559.3 203.3h0M559.6 238.4h0M559.8 236.5h0M560.0 211.7h0M560.3 205.5h0M560.5 224.5h0M560.7 230.5h0M561.0 206.8h0M561.2 228.0h0M561.5 220.5h0M561.7 207.8h0M561.9 245.2h0M562.2 205.2h0M562.4 204.3h0M562.6 209.4h0M562.9 199.7h0M563.1 205.3h0M563.3 203.7h0M563.6 229.7h0M563.8 204.7h0M564.0 201.8h0M564.3 231.7h0M564.5 201.1h0M564.8 206.8h0M565.0 231.2h0M565.2 210.0h0M565.5 206.0h0M565.7 205.5h0M565.9 206.7h0M566.2 203.6h0M566.4 205.4h0M566.6 205.0h0M566.9 207.1h0M567.1 205.8h0M567.4 229.9h0M567.6 204.3h0M567.8 205.6h0M568.1 207.1h0M568.3 243.1h0M568.5 205.9h0M568.8 203.0h0M569.0 205.9h0M569.2 206.7h0M569.5 206.8h0M569.7 208.3h0M569.9 206.4h0M570.2 208.5h0M570.4 208.2h0M570.7 207.8h0M570.9 208.6h0M571.1 204.6h0M571.4 207.9h0M571.6 220.9h0M571.8 245.6h0M572.1 212.8h0M572.3 233.8h0M572.5 216.9h0M572.8 230.7h0M573.0 208.4h0M573.3 206.4h0M573.5 208.5h0M573.7 219.2h0M574.0 244.1h0M574.2 207.9h0M574.4 210.3h0M574.7 210.3h0M574.9 209.0h0M575.1 205.7h0M575.4 224.0h0M575.6 207.6h0M575.8 231.4h0M576.1 225.4h0M576.3 211.8h0M576.6 211.6h0M576.8 212.9h0M577.0 217.7h0M577.3 236.8h0M577.5 210.1h0" stroke="#5a6cf5" stroke-width="1.20" stroke-linecap="round" stroke-opacity="0.75" fill="none"/>
<rect x="491" y="168.4" width="87.1" height="79.0" fill="none" stroke="#8a8a8a" stroke-width="0.9"/>
<path d="M491.0 247.4h-1.6M578.1 247.4h1.2M491.0 227.7h-1.6M578.1 227.7h1.2M491.0 207.9h-1.6M578.1 207.9h1.2M491.0 188.2h-1.6M578.1 188.2h1.2M491.0 168.4h-1.6M578.1 168.4h1.2M491.0 237.5h-1M491.0 217.8h-1M491.0 198.0h-1M491.0 178.3h-1" stroke="#8a8a8a" stroke-width="0.7" fill="none"/>
<text x="488.7" y="249.8" font-size="8" text-anchor="end" font-weight="normal" fill="#111" stroke="#111" stroke-width="0.18" >0</text>
<text x="488.7" y="230.1" font-size="8" text-anchor="end" font-weight="normal" fill="#111" stroke="#111" stroke-width="0.18" >50</text>
<text x="488.7" y="210.3" font-size="8" text-anchor="end" font-weight="normal" fill="#111" stroke="#111" stroke-width="0.18" >100</text>
<text x="488.7" y="190.6" font-size="8" text-anchor="end" font-weight="normal" fill="#111" stroke="#111" stroke-width="0.18" >150</text>
<text x="488.7" y="170.8" font-size="8" text-anchor="end" font-weight="normal" fill="#111" stroke="#111" stroke-width="0.18" >200</text>
<text x="492.8" y="255.7" font-size="6.5" text-anchor="middle" font-weight="normal" fill="#111" stroke="#111" stroke-width="0.18" >1/1</text>
<text x="572.7" y="255.7" font-size="6.5" text-anchor="middle" font-weight="normal" fill="#111" stroke="#111" stroke-width="0.18" >12/31</text>
<text x="534.5" y="256.7" font-size="8.2" text-anchor="middle" font-weight="normal" fill="#111" stroke="#111" stroke-width="0.18" >Day of year</text>
<text x="534.5" y="164.7" font-size="8.5" text-anchor="middle" font-weight="normal" fill="#111" stroke="#111" stroke-width="0.18" >With pretreatment</text>
<path d="M584.8 227.7H671.3M584.8 241.5H671.3" stroke="#777" stroke-width="0.7" stroke-dasharray="0.9 1.1"/>
<path d="M585.4 245.2h0M585.6 245.2h0M585.9 244.7h0M586.1 245.2h0M586.3 244.8h0M586.6 245.0h0M586.8 244.8h0M587.0 244.9h0M587.3 245.3h0M587.5 245.3h0M587.7 245.1h0M588.0 245.2h0M588.2 244.9h0M588.4 245.2h0M588.7 245.5h0M588.9 245.2h0M589.1 244.7h0M589.4 245.5h0M589.6 245.2h0M589.9 245.0h0M590.1 244.8h0M590.3 245.1h0M590.6 244.8h0M590.8 245.3h0M591.0 245.1h0M591.3 245.2h0M591.5 245.6h0M591.7 245.1h0M592.0 245.7h0M592.2 244.8h0M592.4 244.7h0M592.7 244.9h0M592.9 245.4h0M593.1 245.3h0M593.4 245.1h0M593.6 244.9h0M593.8 245.3h0M594.1 245.3h0M594.3 245.2h0M594.5 244.9h0M594.8 245.4h0M595.0 244.9h0M595.2 245.2h0M595.5 245.4h0M595.7 245.3h0M595.9 245.4h0M596.2 245.2h0M596.4 245.4h0M596.6 245.5h0M596.9 245.2h0M597.1 245.5h0M597.4 245.3h0M597.6 245.1h0M597.8 245.1h0M598.1 245.3h0M598.3 245.3h0M598.5 245.4h0M598.8 246.1h0M599.0 245.5h0M599.2 245.4h0M599.5 245.2h0M599.7 245.1h0M599.9 245.5h0M600.2 245.6h0M600.4 245.7h0M600.6 245.3h0M600.9 245.3h0M601.1 245.6h0M601.3 245.2h0M601.6 245.2h0M601.8 245.5h0M602.0 245.5h0M602.3 245.5h0M602.5 245.4h0M602.7 246.0h0M603.0 245.9h0M603.2 245.5h0M603.4 245.4h0M603.7 245.2h0M603.9 246.0h0M604.1 245.2h0M604.4 245.9h0M604.6 245.4h0M604.9 245.5h0M605.1 245.8h0M605.3 245.4h0M605.6 245.6h0M605.8 245.6h0M606.0 245.5h0M606.3 245.8h0M606.5 245.8h0M606.7 246.0h0M607.0 245.4h0M607.2 245.4h0M607.4 245.8h0M607.7 245.8h0M607.9 245.6h0M608.1 245.8h0M608.4 245.5h0M608.6 245.4h0M608.8 245.9h0M609.1 245.6h0M609.3 245.7h0M609.5 245.4h0M609.8 246.1h0M610.0 245.4h0M610.2 245.7h0M610.5 245.6h0M610.7 245.8h0M610.9 246.1h0M611.2 245.6h0M611.4 245.4h0M611.6 245.5h0M611.9 245.7h0M612.1 246.0h0M612.3 246.1h0M612.6 245.5h0M612.8 245.7h0M613.1 245.6h0M613.3 245.8h0M613.5 245.9h0M613.8 245.6h0M614.0 246.0h0M614.2 245.5h0M614.5 245.7h0M614.7 245.6h0M614.9 245.6h0M615.2 245.5h0M615.4 245.8h0M615.6 245.6h0M615.9 245.7h0M616.1 245.7h0M616.3 245.8h0M616.6 246.1h0M616.8 245.5h0M617.0 245.4h0M617.3 245.7h0M617.5 245.6h0M617.7 245.9h0M618.0 246.2h0M618.2 245.4h0M618.4 245.9h0M618.7 246.1h0M618.9 245.8h0M619.1 246.1h0M619.4 245.8h0M619.6 245.8h0M619.8 246.0h0M620.1 245.9h0M620.3 246.3h0M620.6 245.9h0M620.8 246.1h0M621.0 246.3h0M621.3 246.1h0M621.5 246.2h0M621.7 246.1h0M622.0 246.0h0M622.2 246.1h0M622.4 246.3h0M622.7 246.3h0M622.9 246.3h0M623.1 246.1h0M623.4 246.7h0M623.6 246.2h0M623.8 246.3h0M624.1 246.9h0M624.3 246.6h0M624.5 246.5h0M624.8 246.2h0M625.0 246.5h0M625.2 246.7h0M625.5 246.4h0M625.7 246.4h0M625.9 246.4h0M626.2 246.0h0M626.4 246.5h0M626.6 246.9h0M626.9 246.3h0M627.1 246.7h0M627.3 246.1h0M627.6 246.4h0M627.8 246.5h0M628.0 246.5h0M628.3 246.4h0M628.5 246.2h0M628.8 246.3h0M629.0 246.4h0M629.2 246.7h0M629.5 246.4h0M629.7 246.2h0M629.9 246.3h0M630.2 246.4h0M630.4 246.6h0M630.6 245.9h0M630.9 246.3h0M631.1 246.3h0M631.3 246.3h0M631.6 246.4h0M631.8 246.5h0M632.0 245.7h0M632.3 246.5h0M632.5 246.4h0M632.7 246.6h0M633.0 246.3h0M633.2 246.1h0M633.4 246.3h0M633.7 245.8h0M633.9 246.0h0M634.1 246.3h0M634.4 246.4h0M634.6 245.7h0M634.8 246.3h0M635.1 246.2h0M635.3 245.8h0M635.5 245.9h0M635.8 246.1h0M636.0 246.1h0M636.3 246.1h0M636.5 246.1h0M636.7 246.2h0M637.0 245.9h0M637.2 246.0h0M637.4 246.0h0M637.7 246.1h0M637.9 246.3h0M638.1 245.8h0M638.4 246.0h0M638.6 246.2h0M638.8 246.0h0M639.1 246.4h0M639.3 246.0h0M639.5 245.8h0M639.8 245.9h0M640.0 246.1h0M640.2 246.0h0M640.5 246.1h0M640.7 246.0h0M640.9 246.0h0M641.2 246.3h0M641.4 246.2h0M641.6 246.0h0M641.9 245.9h0M642.1 245.7h0M642.3 245.8h0M642.6 245.9h0M642.8 246.2h0M643.0 245.7h0M643.3 246.3h0M643.5 246.0h0M643.8 245.9h0M644.0 246.1h0M644.2 245.6h0M644.5 245.6h0M644.7 246.1h0M644.9 246.1h0M645.2 245.8h0M645.4 245.8h0M645.6 245.3h0M645.9 245.6h0M646.1 245.3h0M646.3 246.1h0M646.6 246.1h0M646.8 246.0h0M647.0 246.1h0M647.3 246.1h0M647.5 245.4h0M647.7 245.7h0M648.0 245.5h0M648.2 245.6h0M648.4 245.7h0M648.7 245.9h0M648.9 245.5h0M649.1 245.3h0M649.4 246.1h0M649.6 245.4h0M649.8 245.5h0M650.1 245.9h0M650.3 246.0h0M650.5 245.7h0M650.8 245.7h0M651.0 245.5h0M651.2 245.7h0M651.5 245.9h0M651.7 245.6h0M652.0 245.7h0M652.2 245.4h0M652.4 245.3h0M652.7 245.5h0M652.9 245.3h0M653.1 245.6h0M653.4 245.6h0M653.6 245.1h0M653.8 246.0h0M654.1 245.3h0M654.3 245.1h0M654.5 245.2h0M654.8 245.7h0M655.0 245.3h0M655.2 245.5h0M655.5 245.4h0M655.7 245.6h0M655.9 245.6h0M656.2 245.2h0M656.4 245.6h0M656.6 245.7h0M656.9 245.7h0M657.1 245.8h0M657.3 245.3h0M657.6 245.1h0M657.8 245.0h0M658.0 245.9h0M658.3 245.6h0M658.5 245.3h0M658.7 245.3h0M659.0 245.4h0M659.2 245.1h0M659.5 245.2h0M659.7 245.4h0M659.9 245.8h0M660.2 245.4h0M660.4 245.2h0M660.6 245.2h0M660.9 245.1h0M661.1 245.2h0M661.3 245.8h0M661.6 245.6h0M661.8 244.9h0M662.0 245.1h0M662.3 245.0h0M662.5 245.0h0M662.7 245.3h0M663.0 245.0h0M663.2 245.4h0M663.4 245.1h0M663.7 245.2h0M663.9 245.6h0M664.1 245.7h0M664.4 245.5h0M664.6 245.1h0M664.8 245.2h0M665.1 245.2h0M665.3 245.2h0M665.5 245.2h0M665.8 244.8h0M666.0 245.3h0M666.2 245.4h0M666.5 245.2h0M666.7 245.4h0M667.0 245.0h0M667.2 245.1h0M667.4 245.1h0M667.7 244.9h0M667.9 245.4h0M668.1 245.3h0M668.4 245.2h0M668.6 245.3h0M668.8 245.1h0M669.1 245.3h0M669.3 245.3h0M669.5 245.3h0M669.8 244.8h0M670.0 244.8h0M670.2 244.8h0M670.5 244.9h0M670.7 244.9h0" stroke="#b0b0b0" stroke-width="1.20" stroke-linecap="round" stroke-opacity="0.6" fill="none"/>
<path d="M585.4 223.9h0M585.6 246.7h0M585.9 223.2h0M586.1 235.2h0M586.3 226.7h0M586.6 232.3h0M586.8 221.5h0M587.0 222.7h0M587.3 220.1h0M587.5 221.4h0M587.7 230.7h0M588.0 225.8h0M588.2 220.8h0M588.4 238.3h0M588.7 219.6h0M588.9 224.6h0M589.1 229.5h0M589.4 221.1h0M589.6 222.0h0M589.9 228.3h0M590.1 234.3h0M590.3 229.4h0M590.6 219.3h0M590.8 246.0h0M591.0 219.7h0M591.3 219.2h0M591.5 221.7h0M591.7 235.2h0M592.0 231.6h0M592.2 222.3h0M592.4 243.2h0M592.7 235.1h0M592.9 233.2h0M593.1 226.4h0M593.4 217.5h0M593.6 244.8h0M593.8 216.7h0M594.1 235.4h0M594.3 216.9h0M594.5 217.6h0M594.8 240.0h0M595.0 218.2h0M595.2 217.9h0M595.5 239.1h0M595.7 229.7h0M595.9 220.0h0M596.2 235.8h0M596.4 215.5h0M596.6 216.2h0M596.9 237.0h0M597.1 234.4h0M597.4 235.9h0M597.6 219.4h0M597.8 233.0h0M598.1 246.3h0M598.3 214.9h0M598.5 215.4h0M598.8 220.3h0M599.0 234.9h0M599.2 235.8h0M599.5 226.4h0M599.7 229.5h0M599.9 220.3h0M600.2 236.1h0M600.4 218.1h0M600.6 211.8h0M600.9 214.7h0M601.1 244.9h0M601.3 212.2h0M601.6 212.5h0M601.8 214.0h0M602.0 211.8h0M602.3 238.9h0M602.5 234.1h0M602.7 237.5h0M603.0 244.8h0M603.2 211.6h0M603.4 213.2h0M603.7 209.5h0M603.9 237.8h0M604.1 226.4h0M604.4 238.1h0M604.6 244.0h0M604.9 212.3h0M605.1 216.8h0M605.3 216.4h0M605.6 215.6h0M605.8 235.3h0M606.0 220.0h0M606.3 225.9h0M606.5 246.3h0M606.7 235.2h0M607.0 243.8h0M607.2 215.5h0M607.4 245.8h0M607.7 218.3h0M607.9 243.1h0M608.1 217.3h0M608.4 227.5h0M608.6 231.0h0M608.8 240.6h0M609.1 219.3h0M609.3 243.7h0M609.5 224.9h0M609.8 245.0h0M610.0 243.3h0M610.2 238.7h0M610.5 218.1h0M610.7 219.8h0M610.9 223.4h0M611.2 222.3h0M611.4 227.4h0M611.6 247.1h0M611.9 247.3h0M612.1 223.0h0M612.3 224.5h0M612.6 225.1h0M612.8 223.4h0M613.1 235.4h0M613.3 233.4h0M613.5 243.6h0M613.8 225.8h0M614.0 227.0h0M614.2 233.1h0M614.5 226.0h0M614.7 226.4h0M614.9 227.8h0M615.2 246.7h0M615.4 247.0h0M615.6 247.2h0M615.9 229.5h0M616.1 229.9h0M616.3 231.9h0M616.6 231.6h0M616.8 231.5h0M617.0 247.1h0M617.3 243.6h0M617.5 241.5h0M617.7 247.0h0M618.0 246.8h0M618.2 247.3h0M618.4 240.2h0M618.7 246.9h0M618.9 238.9h0M619.1 247.2h0M619.4 246.8h0M619.6 247.1h0M619.8 236.0h0M620.1 233.3h0M620.3 238.0h0M620.6 247.1h0M620.8 247.2h0M621.0 245.9h0M621.3 239.3h0M621.5 246.7h0M621.7 247.0h0M622.0 239.5h0M622.2 238.1h0M622.4 242.1h0M622.7 246.8h0M622.9 240.1h0M623.1 246.6h0M623.4 246.9h0M623.6 243.0h0M623.8 247.3h0M624.1 244.8h0M624.3 242.2h0M624.5 246.8h0M624.8 238.4h0M625.0 242.3h0M625.2 247.0h0M625.5 242.7h0M625.7 247.1h0M625.9 246.9h0M626.2 241.6h0M626.4 247.2h0M626.6 246.2h0M626.9 246.8h0M627.1 242.7h0M627.3 241.6h0M627.6 242.5h0M627.8 245.5h0M628.0 245.4h0M628.3 242.4h0M628.5 246.7h0M628.8 244.4h0M629.0 243.8h0M629.2 240.8h0M629.5 242.2h0M629.7 243.5h0M629.9 247.1h0M630.2 242.7h0M630.4 244.9h0M630.6 246.4h0M630.9 241.4h0M631.1 247.0h0M631.3 241.4h0M631.6 240.3h0M631.8 243.4h0M632.0 247.2h0M632.3 247.4h0M632.5 242.3h0M632.7 247.0h0M633.0 244.0h0M633.2 246.6h0M633.4 240.6h0M633.7 245.2h0M633.9 240.4h0M634.1 247.4h0M634.4 247.3h0M634.6 238.3h0M634.8 246.9h0M635.1 239.5h0M635.3 246.8h0M635.5 238.5h0M635.8 246.7h0M636.0 247.4h0M636.3 247.2h0M636.5 247.2h0M636.7 237.8h0M637.0 246.7h0M637.2 237.0h0M637.4 235.0h0M637.7 247.2h0M637.9 235.1h0M638.1 235.0h0M638.4 247.3h0M638.6 245.9h0M638.8 235.0h0M639.1 235.9h0M639.3 241.8h0M639.5 247.4h0M639.8 232.4h0M640.0 234.4h0M640.2 246.9h0M640.5 247.1h0M640.7 234.4h0M640.9 236.0h0M641.2 240.1h0M641.4 232.4h0M641.6 231.0h0M641.9 236.4h0M642.1 228.8h0M642.3 231.2h0M642.6 231.1h0M642.8 246.9h0M643.0 246.9h0M643.3 247.2h0M643.5 236.6h0M643.8 229.2h0M644.0 246.7h0M644.2 229.0h0M644.5 227.2h0M644.7 247.0h0M644.9 247.2h0M645.2 229.6h0M645.4 228.6h0M645.6 247.4h0M645.9 247.3h0M646.1 247.2h0M646.3 244.5h0M646.6 247.3h0M646.8 224.3h0M647.0 227.5h0M647.3 231.4h0M647.5 234.7h0M647.7 247.1h0M648.0 246.7h0M648.2 224.5h0M648.4 224.0h0M648.7 222.6h0M648.9 237.6h0M649.1 224.6h0M649.4 222.8h0M649.6 238.7h0M649.8 222.1h0M650.1 239.1h0M650.3 222.0h0M650.5 226.2h0M650.8 243.6h0M651.0 234.7h0M651.2 222.2h0M651.5 237.3h0M651.7 227.4h0M652.0 237.5h0M652.2 224.4h0M652.4 229.8h0M652.7 220.0h0M652.9 222.2h0M653.1 219.5h0M653.4 221.2h0M653.6 222.3h0M653.8 229.7h0M654.1 228.0h0M654.3 241.1h0M654.5 231.3h0M654.8 216.9h0M655.0 219.6h0M655.2 219.1h0M655.5 225.4h0M655.7 245.7h0M655.9 230.6h0M656.2 220.3h0M656.4 225.1h0M656.6 228.5h0M656.9 221.0h0M657.1 221.4h0M657.3 219.7h0M657.6 221.1h0M657.8 244.8h0M658.0 237.9h0M658.3 224.6h0M658.5 236.3h0M658.7 221.7h0M659.0 220.3h0M659.2 228.7h0M659.5 222.6h0M659.7 220.6h0M659.9 222.9h0M660.2 218.9h0M660.4 236.2h0M660.6 242.5h0M660.9 220.6h0M661.1 220.8h0M661.3 229.0h0M661.6 219.8h0M661.8 219.9h0M662.0 223.4h0M662.3 227.2h0M662.5 221.6h0M662.7 221.7h0M663.0 221.1h0M663.2 243.0h0M663.4 222.5h0M663.7 223.3h0M663.9 226.3h0M664.1 223.4h0M664.4 220.3h0M664.6 222.8h0M664.8 233.6h0M665.1 228.0h0M665.3 234.6h0M665.5 224.2h0M665.8 227.6h0M666.0 223.4h0M666.2 236.1h0M666.5 243.8h0M666.7 223.5h0M667.0 223.1h0M667.2 224.4h0M667.4 221.3h0M667.7 245.4h0M667.9 225.3h0M668.1 231.9h0M668.4 223.0h0M668.6 224.1h0M668.8 228.0h0M669.1 226.9h0M669.3 240.3h0M669.5 222.7h0M669.8 232.8h0M670.0 227.0h0M670.2 225.6h0M670.5 230.1h0M670.7 226.9h0" stroke="#f0505a" stroke-width="1.20" stroke-linecap="round" stroke-opacity="0.75" fill="none"/>
<path d="M585.4 217.7h0M585.6 218.6h0M585.9 218.2h0M586.1 215.9h0M586.3 213.6h0M586.6 220.6h0M586.8 218.8h0M587.0 218.2h0M587.3 219.1h0M587.5 217.3h0M587.7 217.8h0M588.0 217.2h0M588.2 216.9h0M588.4 218.8h0M588.7 228.8h0M588.9 217.0h0M589.1 217.9h0M589.4 216.8h0M589.6 216.0h0M589.9 217.4h0M590.1 216.9h0M590.3 216.7h0M590.6 216.5h0M590.8 218.8h0M591.0 216.7h0M591.3 216.4h0M591.5 218.6h0M591.7 216.6h0M592.0 216.3h0M592.2 218.8h0M592.4 213.7h0M592.7 215.8h0M592.9 214.6h0M593.1 216.5h0M593.4 215.9h0M593.6 217.4h0M593.8 216.4h0M594.1 216.2h0M594.3 215.1h0M594.5 213.8h0M594.8 218.2h0M595.0 216.0h0M595.2 214.0h0M595.5 215.9h0M595.7 217.4h0M595.9 213.5h0M596.2 213.1h0M596.4 214.2h0M596.6 233.2h0M596.9 215.1h0M597.1 215.6h0M597.4 214.1h0M597.6 245.3h0M597.8 216.7h0M598.1 213.2h0M598.3 215.4h0M598.5 245.6h0M598.8 214.9h0M599.0 214.2h0M599.2 214.5h0M599.5 212.5h0M599.7 215.2h0M599.9 213.9h0M600.2 213.0h0M600.4 222.9h0M600.6 216.5h0M600.9 212.1h0M601.1 212.6h0M601.3 213.0h0M601.6 214.9h0M601.8 216.6h0M602.0 213.9h0M602.3 213.5h0M602.5 216.4h0M602.7 214.4h0M603.0 214.5h0M603.2 230.7h0M603.4 212.5h0M603.7 216.8h0M603.9 224.5h0M604.1 215.6h0M604.4 213.7h0M604.6 212.9h0M604.9 212.9h0M605.1 215.6h0M605.3 212.3h0M605.6 215.2h0M605.8 212.5h0M606.0 217.5h0M606.3 217.4h0M606.5 216.5h0M606.7 217.1h0M607.0 219.4h0M607.2 216.7h0M607.4 238.0h0M607.7 244.5h0M607.9 232.9h0M608.1 219.3h0M608.4 217.8h0M608.6 218.5h0M608.8 218.9h0M609.1 217.3h0M609.3 219.8h0M609.5 217.1h0M609.8 220.6h0M610.0 218.2h0M610.2 219.7h0M610.5 219.2h0M610.7 220.9h0M610.9 220.3h0M611.2 220.4h0M611.4 220.2h0M611.6 220.5h0M611.9 218.2h0M612.1 220.6h0M612.3 222.9h0M612.6 231.3h0M612.8 220.4h0M613.1 224.1h0M613.3 219.8h0M613.5 222.3h0M613.8 242.2h0M614.0 223.4h0M614.2 246.1h0M614.5 223.5h0M614.7 223.2h0M614.9 222.1h0M615.2 223.1h0M615.4 223.7h0M615.6 224.8h0M615.9 226.4h0M616.1 226.0h0M616.3 224.2h0M616.6 225.2h0M616.8 227.0h0M617.0 226.3h0M617.3 224.3h0M617.5 225.9h0M617.7 226.3h0M618.0 225.3h0M618.2 227.2h0M618.4 229.3h0M618.7 228.0h0M618.9 228.4h0M619.1 227.2h0M619.4 228.7h0M619.6 228.9h0M619.8 228.7h0M620.1 239.2h0M620.3 237.4h0M620.6 231.2h0M620.8 228.5h0M621.0 229.4h0M621.3 229.9h0M621.5 236.0h0M621.7 229.4h0M622.0 233.5h0M622.2 230.7h0M622.4 233.1h0M622.7 228.3h0M622.9 232.2h0M623.1 229.1h0M623.4 232.0h0M623.6 231.9h0M623.8 232.7h0M624.1 234.0h0M624.3 229.6h0M624.5 233.8h0M624.8 232.2h0M625.0 232.4h0M625.2 231.8h0M625.5 230.0h0M625.7 234.1h0M625.9 231.5h0M626.2 232.5h0M626.4 231.1h0M626.6 231.6h0M626.9 232.3h0M627.1 229.5h0M627.3 231.0h0M627.6 231.5h0M627.8 231.2h0M628.0 231.5h0M628.3 230.2h0M628.5 230.6h0M628.8 231.2h0M629.0 232.8h0M629.2 233.3h0M629.5 243.6h0M629.7 230.2h0M629.9 230.2h0M630.2 231.3h0M630.4 228.1h0M630.6 228.7h0M630.9 231.0h0M631.1 228.8h0M631.3 231.5h0M631.6 232.9h0M631.8 229.9h0M632.0 232.0h0M632.3 227.8h0M632.5 243.3h0M632.7 228.8h0M633.0 229.3h0M633.2 227.7h0M633.4 227.6h0M633.7 228.4h0M633.9 232.8h0M634.1 230.0h0M634.4 224.8h0M634.6 227.1h0M634.8 229.2h0M635.1 226.2h0M635.3 225.9h0M635.5 227.7h0M635.8 226.7h0M636.0 226.0h0M636.3 224.4h0M636.5 228.0h0M636.7 226.4h0M637.0 238.1h0M637.2 225.4h0M637.4 226.8h0M637.7 229.4h0M637.9 224.9h0M638.1 224.5h0M638.4 223.1h0M638.6 225.2h0M638.8 227.8h0M639.1 227.3h0M639.3 223.3h0M639.5 224.9h0M639.8 247.2h0M640.0 225.0h0M640.2 247.0h0M640.5 237.2h0M640.7 223.1h0M640.9 225.6h0M641.2 223.5h0M641.4 243.9h0M641.6 236.9h0M641.9 223.8h0M642.1 244.3h0M642.3 222.5h0M642.6 225.4h0M642.8 223.7h0M643.0 223.2h0M643.3 223.5h0M643.5 222.2h0M643.8 222.6h0M644.0 221.8h0M644.2 246.3h0M644.5 220.9h0M644.7 218.8h0M644.9 239.7h0M645.2 220.5h0M645.4 223.1h0M645.6 222.8h0M645.9 222.8h0M646.1 221.0h0M646.3 222.5h0M646.6 222.2h0M646.8 221.8h0M647.0 221.5h0M647.3 218.5h0M647.5 221.2h0M647.7 221.6h0M648.0 220.9h0M648.2 222.0h0M648.4 222.0h0M648.7 220.6h0M648.9 219.8h0M649.1 221.1h0M649.4 221.2h0M649.6 219.0h0M649.8 238.7h0M650.1 221.9h0M650.3 220.1h0M650.5 217.2h0M650.8 220.5h0M651.0 217.7h0M651.2 220.0h0M651.5 222.7h0M651.7 217.5h0M652.0 218.5h0M652.2 220.5h0M652.4 220.3h0M652.7 239.1h0M652.9 219.5h0M653.1 218.1h0M653.4 218.4h0M653.6 219.9h0M653.8 219.9h0M654.1 218.3h0M654.3 216.5h0M654.5 219.1h0M654.8 243.6h0M655.0 219.0h0M655.2 228.1h0M655.5 219.3h0M655.7 218.8h0M655.9 219.9h0M656.2 220.1h0M656.4 220.0h0M656.6 231.9h0M656.9 218.4h0M657.1 219.3h0M657.3 219.7h0M657.6 221.4h0M657.8 222.0h0M658.0 219.6h0M658.3 218.1h0M658.5 221.6h0M658.7 218.8h0M659.0 218.7h0M659.2 218.0h0M659.5 217.7h0M659.7 219.0h0M659.9 216.8h0M660.2 218.7h0M660.4 220.8h0M660.6 219.4h0M660.9 219.0h0M661.1 217.6h0M661.3 218.8h0M661.6 218.7h0M661.8 220.7h0M662.0 224.2h0M662.3 218.4h0M662.5 221.6h0M662.7 228.7h0M663.0 218.4h0M663.2 220.0h0M663.4 218.6h0M663.7 218.1h0M663.9 218.2h0M664.1 217.9h0M664.4 223.3h0M664.6 220.0h0M664.8 220.9h0M665.1 222.1h0M665.3 218.5h0M665.5 219.1h0M665.8 221.4h0M666.0 218.6h0M666.2 218.9h0M666.5 220.2h0M666.7 224.6h0M667.0 220.0h0M667.2 220.3h0M667.4 218.5h0M667.7 219.9h0M667.9 220.7h0M668.1 218.9h0M668.4 218.7h0M668.6 218.1h0M668.8 218.7h0M669.1 222.0h0M669.3 220.3h0M669.5 219.3h0M669.8 222.1h0M670.0 221.3h0M670.2 221.4h0M670.5 219.5h0M670.7 221.6h0" stroke="#a45cf5" stroke-width="1.20" stroke-linecap="round" stroke-opacity="0.75" fill="none"/>
<path d="M585.4 216.2h0M585.6 215.3h0M585.9 217.9h0M586.1 218.4h0M586.3 223.4h0M586.6 221.7h0M586.8 220.1h0M587.0 216.3h0M587.3 241.2h0M587.5 217.1h0M587.7 215.5h0M588.0 236.0h0M588.2 214.9h0M588.4 213.4h0M588.7 226.9h0M588.9 213.1h0M589.1 213.2h0M589.4 241.1h0M589.6 226.7h0M589.9 228.4h0M590.1 214.0h0M590.3 214.2h0M590.6 227.4h0M590.8 237.4h0M591.0 226.6h0M591.3 217.9h0M591.5 212.2h0M591.7 211.3h0M592.0 211.0h0M592.2 215.7h0M592.4 212.3h0M592.7 209.2h0M592.9 210.9h0M593.1 215.6h0M593.4 210.5h0M593.6 210.0h0M593.8 211.2h0M594.1 230.7h0M594.3 212.8h0M594.5 235.3h0M594.8 229.3h0M595.0 211.0h0M595.2 210.7h0M595.5 211.1h0M595.7 208.1h0M595.9 236.2h0M596.2 208.1h0M596.4 208.4h0M596.6 210.3h0M596.9 205.5h0M597.1 207.1h0M597.4 210.1h0M597.6 209.4h0M597.8 210.4h0M598.1 207.7h0M598.3 208.9h0M598.5 211.6h0M598.8 204.9h0M599.0 244.9h0M599.2 223.2h0M599.5 205.8h0M599.7 222.7h0M599.9 206.1h0M600.2 236.2h0M600.4 205.6h0M600.6 209.0h0M600.9 220.1h0M601.1 206.2h0M601.3 205.5h0M601.6 211.0h0M601.8 233.1h0M602.0 242.9h0M602.3 207.2h0M602.5 206.7h0M602.7 206.2h0M603.0 237.8h0M603.2 235.5h0M603.4 221.1h0M603.7 222.2h0M603.9 221.1h0M604.1 204.5h0M604.4 213.6h0M604.6 209.8h0M604.9 206.6h0M605.1 216.6h0M605.3 225.4h0M605.6 211.4h0M605.8 222.0h0M606.0 212.5h0M606.3 217.4h0M606.5 213.3h0M606.7 239.2h0M607.0 226.6h0M607.2 211.2h0M607.4 210.2h0M607.7 221.3h0M607.9 214.1h0M608.1 211.1h0M608.4 213.4h0M608.6 214.8h0M608.8 213.7h0M609.1 221.2h0M609.3 238.6h0M609.5 233.9h0M609.8 215.4h0M610.0 214.8h0M610.2 227.8h0M610.5 231.0h0M610.7 216.1h0M610.9 217.7h0M611.2 236.6h0M611.4 246.6h0M611.6 216.6h0M611.9 238.9h0M612.1 231.3h0M612.3 233.1h0M612.6 218.1h0M612.8 240.9h0M613.1 223.9h0M613.3 216.3h0M613.5 220.3h0M613.8 224.8h0M614.0 221.1h0M614.2 221.2h0M614.5 224.3h0M614.7 223.9h0M614.9 225.2h0M615.2 224.5h0M615.4 222.8h0M615.6 226.6h0M615.9 222.5h0M616.1 227.3h0M616.3 241.1h0M616.6 233.2h0M616.8 236.6h0M617.0 230.7h0M617.3 227.5h0M617.5 229.8h0M617.7 227.1h0M618.0 229.5h0M618.2 246.1h0M618.4 229.3h0M618.7 246.4h0M618.9 228.8h0M619.1 231.0h0M619.4 244.3h0M619.6 238.5h0M619.8 236.3h0M620.1 231.4h0M620.3 237.9h0M620.6 235.6h0M620.8 236.8h0M621.0 232.3h0M621.3 231.5h0M621.5 243.2h0M621.7 236.0h0M622.0 243.9h0M622.2 238.7h0M622.4 234.9h0M622.7 245.9h0M622.9 239.0h0M623.1 245.6h0M623.4 240.9h0M623.6 234.8h0M623.8 239.7h0M624.1 238.1h0M624.3 236.6h0M624.5 239.5h0M624.8 239.2h0M625.0 235.5h0M625.2 241.4h0M625.5 239.3h0M625.7 241.1h0M625.9 241.4h0M626.2 240.9h0M626.4 239.6h0M626.6 240.8h0M626.9 238.7h0M627.1 239.3h0M627.3 242.2h0M627.6 240.0h0M627.8 236.5h0M628.0 239.4h0M628.3 242.0h0M628.5 239.3h0M628.8 239.9h0M629.0 235.8h0M629.2 237.7h0M629.5 236.0h0M629.7 240.4h0M629.9 244.3h0M630.2 244.6h0M630.4 236.5h0M630.6 239.7h0M630.9 239.3h0M631.1 235.7h0M631.3 234.9h0M631.6 236.4h0M631.8 238.1h0M632.0 237.4h0M632.3 238.2h0M632.5 234.9h0M632.7 237.3h0M633.0 232.9h0M633.2 236.5h0M633.4 243.4h0M633.7 237.7h0M633.9 233.4h0M634.1 245.8h0M634.4 243.6h0M634.6 233.5h0M634.8 233.1h0M635.1 239.3h0M635.3 244.3h0M635.5 234.5h0M635.8 230.7h0M636.0 228.4h0M636.3 246.7h0M636.5 230.4h0M636.7 229.2h0M637.0 229.5h0M637.2 232.3h0M637.4 228.4h0M637.7 238.8h0M637.9 227.8h0M638.1 235.3h0M638.4 235.1h0M638.6 238.3h0M638.8 229.4h0M639.1 225.3h0M639.3 225.7h0M639.5 228.2h0M639.8 223.5h0M640.0 226.0h0M640.2 240.9h0M640.5 222.7h0M640.7 230.6h0M640.9 220.4h0M641.2 222.3h0M641.4 224.2h0M641.6 223.1h0M641.9 242.5h0M642.1 238.6h0M642.3 235.6h0M642.6 234.7h0M642.8 228.6h0M643.0 228.3h0M643.3 235.4h0M643.5 221.6h0M643.8 218.2h0M644.0 221.2h0M644.2 234.1h0M644.5 220.1h0M644.7 228.3h0M644.9 215.6h0M645.2 244.2h0M645.4 218.5h0M645.6 235.8h0M645.9 243.8h0M646.1 215.0h0M646.3 217.2h0M646.6 214.4h0M646.8 228.9h0M647.0 237.9h0M647.3 245.2h0M647.5 220.3h0M647.7 213.8h0M648.0 241.8h0M648.2 246.2h0M648.4 235.5h0M648.7 234.9h0M648.9 214.4h0M649.1 212.2h0M649.4 235.3h0M649.6 211.7h0M649.8 236.7h0M650.1 222.6h0M650.3 218.5h0M650.5 212.0h0M650.8 211.7h0M651.0 240.5h0M651.2 246.8h0M651.5 207.3h0M651.7 246.0h0M652.0 231.3h0M652.2 218.2h0M652.4 209.5h0M652.7 214.4h0M652.9 205.5h0M653.1 217.6h0M653.4 231.0h0M653.6 232.2h0M653.8 208.7h0M654.1 218.6h0M654.3 203.1h0M654.5 209.5h0M654.8 224.4h0M655.0 231.2h0M655.2 209.2h0M655.5 239.4h0M655.7 206.4h0M655.9 236.4h0M656.2 237.2h0M656.4 207.3h0M656.6 210.9h0M656.9 209.4h0M657.1 210.1h0M657.3 239.4h0M657.6 207.1h0M657.8 242.8h0M658.0 209.4h0M658.3 218.8h0M658.5 212.3h0M658.7 242.5h0M659.0 209.3h0M659.2 207.7h0M659.5 226.9h0M659.7 240.6h0M659.9 230.6h0M660.2 212.7h0M660.4 231.9h0M660.6 208.3h0M660.9 210.0h0M661.1 221.6h0M661.3 221.9h0M661.6 213.9h0M661.8 226.2h0M662.0 209.4h0M662.3 246.1h0M662.5 208.6h0M662.7 213.4h0M663.0 211.3h0M663.2 210.0h0M663.4 226.9h0M663.7 209.3h0M663.9 211.7h0M664.1 241.6h0M664.4 213.1h0M664.6 214.2h0M664.8 241.7h0M665.1 246.0h0M665.3 231.4h0M665.5 218.0h0M665.8 215.1h0M666.0 243.1h0M666.2 217.4h0M666.5 232.1h0M666.7 221.6h0M667.0 215.2h0M667.2 228.0h0M667.4 234.6h0M667.7 224.4h0M667.9 216.4h0M668.1 213.4h0M668.4 229.9h0M668.6 227.9h0M668.8 233.0h0M669.1 216.4h0M669.3 216.4h0M669.5 215.4h0M669.8 228.9h0M670.0 220.2h0M670.2 216.0h0M670.5 235.8h0M670.7 218.2h0" stroke="#5a6cf5" stroke-width="1.20" stroke-linecap="round" stroke-opacity="0.75" fill="none"/>
<rect x="584.8" y="168.4" width="86.5" height="79.0" fill="none" stroke="#8a8a8a" stroke-width="0.9"/>
<path d="M584.8 247.4h-1.6M671.3 247.4h1.2M584.8 227.7h-1.6M671.3 227.7h1.2M584.8 207.9h-1.6M671.3 207.9h1.2M584.8 188.2h-1.6M671.3 188.2h1.2M584.8 168.4h-1.6M671.3 168.4h1.2M584.8 237.5h-1M584.8 217.8h-1M584.8 198.0h-1M584.8 178.3h-1" stroke="#8a8a8a" stroke-width="0.7" fill="none"/>
<text x="586.6" y="255.7" font-size="6.5" text-anchor="middle" font-weight="normal" fill="#111" stroke="#111" stroke-width="0.18" >1/1</text>
<text x="665.9" y="255.7" font-size="6.5" text-anchor="middle" font-weight="normal" fill="#111" stroke="#111" stroke-width="0.18" >12/31</text>
<text x="628" y="256.7" font-size="8.2" text-anchor="middle" font-weight="normal" fill="#111" stroke="#111" stroke-width="0.18" >Day of year</text>
<text x="628" y="164.7" font-size="8.5" text-anchor="middle" font-weight="normal" fill="#111" stroke="#111" stroke-width="0.18" >Without pretreatment</text>
<path d="M50.0 361.9V361.9" stroke="#c4c4c4" stroke-width="2.1" stroke-opacity="1" stroke-linecap="round"/>
<path d="M55.8 361.8V361.0" stroke="#c4c4c4" stroke-width="2.1" stroke-opacity="1" stroke-linecap="round"/>
<path d="M61.5 361.8V359.5" stroke="#c4c4c4" stroke-width="2.1" stroke-opacity="1" stroke-linecap="round"/>
<path d="M67.3 361.8V355.8" stroke="#c4c4c4" stroke-width="2.1" stroke-opacity="1" stroke-linecap="round"/>
<path d="M73.0 361.8V351.2" stroke="#c4c4c4" stroke-width="2.1" stroke-opacity="1" stroke-linecap="round"/>
<path d="M78.8 361.8V344.9" stroke="#c4c4c4" stroke-width="2.1" stroke-opacity="1" stroke-linecap="round"/>
<path d="M84.5 360.2V336.6" stroke="#c4c4c4" stroke-width="2.1" stroke-opacity="1" stroke-linecap="round"/>
<path d="M90.3 361.8V346.0" stroke="#c4c4c4" stroke-width="2.1" stroke-opacity="1" stroke-linecap="round"/>
<path d="M96.0 361.8V352.2" stroke="#c4c4c4" stroke-width="2.1" stroke-opacity="1" stroke-linecap="round"/>
<path d="M101.8 361.8V356.9" stroke="#c4c4c4" stroke-width="2.1" stroke-opacity="1" stroke-linecap="round"/>
<path d="M107.5 361.8V360.5" stroke="#c4c4c4" stroke-width="2.1" stroke-opacity="1" stroke-linecap="round"/>
<path d="M113.3 361.8V361.6" stroke="#c4c4c4" stroke-width="2.1" stroke-opacity="1" stroke-linecap="round"/>
<path d="M119.0 362.2V362.2" stroke="#c4c4c4" stroke-width="2.1" stroke-opacity="1" stroke-linecap="round"/>
<rect x="44.3" y="295.3" width="86.2" height="68.5" fill="none" stroke="#8a8a8a" stroke-width="0.9"/>
<path d="M44.3 362.7h-1.6M130.5 362.7h1.2M44.3 341.9h-1.6M130.5 341.9h1.2M44.3 321.1h-1.6M130.5 321.1h1.2M44.3 300.3h-1.6M130.5 300.3h1.2M44.3 352.3h-1M44.3 331.5h-1M44.3 310.7h-1" stroke="#8a8a8a" stroke-width="0.7" fill="none"/>
<text x="42.2" y="365.6" font-size="8" text-anchor="end" font-weight="normal" fill="#111" stroke="#111" stroke-width="0.18" >0</text>
<text x="42.2" y="344.8" font-size="8" text-anchor="end" font-weight="normal" fill="#111" stroke="#111" stroke-width="0.18" >20</text>
<text x="42.2" y="323.9" font-size="8" text-anchor="end" font-weight="normal" fill="#111" stroke="#111" stroke-width="0.18" >40</text>
<text x="42.2" y="303.1" font-size="8" text-anchor="end" font-weight="normal" fill="#111" stroke="#111" stroke-width="0.18" >60</text>
<path d="M44.3 363.8v1.5M73.0 363.8v1.5M101.8 363.8v1.5M130.5 363.8v1.5M50.0 363.8v0.9M55.8 363.8v0.9M61.5 363.8v0.9M67.3 363.8v0.9M78.8 363.8v0.9M84.5 363.8v0.9M90.3 363.8v0.9M96.0 363.8v0.9M107.5 363.8v0.9M113.3 363.8v0.9M119.0 363.8v0.9M124.8 363.8v0.9" stroke="#8a8a8a" stroke-width="0.6"/>
<text x="44.3" y="372.9" font-size="8" text-anchor="middle" font-weight="normal" fill="#111" stroke="#111" stroke-width="0.18" >5</text>
<text x="73" y="372.9" font-size="8" text-anchor="middle" font-weight="normal" fill="#111" stroke="#111" stroke-width="0.18" >10</text>
<text x="101.8" y="372.9" font-size="8" text-anchor="middle" font-weight="normal" fill="#111" stroke="#111" stroke-width="0.18" >15</text>
<text x="130.5" y="372.9" font-size="8" text-anchor="middle" font-weight="normal" fill="#111" stroke="#111" stroke-width="0.18" >20</text>
<text x="87.4" y="384.7" font-size="8.2" text-anchor="middle" font-weight="normal" fill="#111" stroke="#111" stroke-width="0.18" >Local hour</text>
<text x="87.4" y="280.8" font-size="8.5" text-anchor="middle" font-weight="normal" fill="#111" stroke="#111" stroke-width="0.18" >Case 3</text>
<text x="87.4" y="291" font-size="8.5" text-anchor="middle" font-weight="normal" fill="#111" stroke="#111" stroke-width="0.18" >without pretreatment</text>
<path d="M143.2 362.2V362.2" stroke="#c4c4c4" stroke-width="2.1" stroke-opacity="1" stroke-linecap="round"/>
<path d="M149.0 361.8V361.0" stroke="#c4c4c4" stroke-width="2.1" stroke-opacity="1" stroke-linecap="round"/>
<path d="M154.7 361.8V359.5" stroke="#c4c4c4" stroke-width="2.1" stroke-opacity="1" stroke-linecap="round"/>
<path d="M160.5 361.8V357.4" stroke="#c4c4c4" stroke-width="2.1" stroke-opacity="1" stroke-linecap="round"/>
<path d="M166.2 361.8V356.9" stroke="#c4c4c4" stroke-width="2.1" stroke-opacity="1" stroke-linecap="round"/>
<path d="M171.9 361.8V357.4" stroke="#c4c4c4" stroke-width="2.1" stroke-opacity="1" stroke-linecap="round"/>
<path d="M177.7 361.8V360.5" stroke="#c4c4c4" stroke-width="2.1" stroke-opacity="1" stroke-linecap="round"/>
<path d="M183.4 361.8V356.4" stroke="#c4c4c4" stroke-width="2.1" stroke-opacity="1" stroke-linecap="round"/>
<path d="M189.2 361.8V356.9" stroke="#c4c4c4" stroke-width="2.1" stroke-opacity="1" stroke-linecap="round"/>
<path d="M194.9 361.8V357.4" stroke="#c4c4c4" stroke-width="2.1" stroke-opacity="1" stroke-linecap="round"/>
<path d="M200.6 361.8V360.5" stroke="#c4c4c4" stroke-width="2.1" stroke-opacity="1" stroke-linecap="round"/>
<path d="M206.4 361.9V361.9" stroke="#c4c4c4" stroke-width="2.1" stroke-opacity="1" stroke-linecap="round"/>
<path d="M212.1 362.2V362.2" stroke="#c4c4c4" stroke-width="2.1" stroke-opacity="1" stroke-linecap="round"/>
<path d="M171.9 350.1V342.0" stroke="#f2606a" stroke-width="2.5" stroke-opacity="0.8" stroke-linecap="round"/>
<path d="M171.5 345.2h0M171.5 345.8h0M172.5 350.5h0M171.5 344.0h0M172.3 347.4h0M171.8 342.7h0M171.5 342.9h0M172.1 346.3h0M171.8 350.5h0M170.7 350.6h0M171.9 343.6h0M171.3 343.6h0M171.5 350.5h0M170.6 345.4h0M172.6 341.8h0M172.0 347.0h0M171.6 346.1h0M172.2 345.8h0M172.0 345.4h0M171.8 350.8h0M171.6 342.5h0M171.9 344.4h0M172.1 346.3h0M172.3 348.2h0M171.8 347.1h0M172.0 341.0h0M172.2 339.6h0M172.3 339.8h0M172.2 339.2h0M171.7 339.8h0" stroke="#ee4a58" stroke-width="1.60" stroke-linecap="round" stroke-opacity="0.35" fill="none"/>
<path d="M177.7 355.3V327.4" stroke="#f2606a" stroke-width="2.5" stroke-opacity="0.8" stroke-linecap="round"/>
<path d="M176.9 348.3h0M178.6 352.7h0M176.8 349.8h0M177.8 327.3h0M177.3 332.0h0M177.3 348.4h0M177.6 348.3h0M178.4 356.0h0M177.9 341.4h0M177.5 338.4h0M178.4 340.5h0M177.1 334.7h0M178.1 334.4h0M178.2 328.1h0M177.7 329.9h0M177.8 330.2h0M178.0 330.2h0M178.5 340.2h0M178.2 355.1h0M177.4 337.5h0M177.5 343.8h0M177.4 354.6h0M177.1 351.9h0M177.4 348.1h0M177.2 351.2h0M177.2 344.7h0M177.9 326.7h0M177.8 346.8h0M177.8 355.1h0M177.9 341.1h0M178.0 353.8h0M177.7 351.8h0M177.9 352.2h0M177.0 327.5h0M177.7 346.5h0M177.6 346.8h0M178.1 330.1h0M177.7 354.9h0M177.2 336.6h0M178.3 344.8h0M177.5 326.9h0M178.0 346.3h0M178.0 353.2h0M178.0 342.1h0M178.1 344.3h0M177.3 338.9h0M177.1 348.4h0M177.6 346.9h0M176.8 327.0h0M178.2 327.5h0M177.8 330.9h0M177.6 330.9h0M177.2 343.5h0M176.9 327.8h0M178.3 353.4h0M177.9 342.5h0M177.3 342.7h0M177.3 353.6h0M178.3 330.6h0M177.8 344.1h0M177.6 345.4h0M177.8 349.7h0M177.7 336.2h0M177.1 341.6h0M178.4 323.3h0M178.1 324.3h0M177.8 323.5h0M176.8 325.0h0M178.0 325.0h0M177.5 326.2h0M177.9 326.1h0M177.9 325.7h0M177.1 325.0h0M177.9 324.4h0" stroke="#ee4a58" stroke-width="1.60" stroke-linecap="round" stroke-opacity="0.35" fill="none"/>
<path d="M183.4 351.2V342.5" stroke="#f2606a" stroke-width="2.5" stroke-opacity="0.8" stroke-linecap="round"/>
<path d="M183.4 351.9h0M182.7 341.9h0M183.2 342.3h0M184.1 350.8h0M183.8 342.9h0M183.6 350.2h0M182.6 344.7h0M183.0 344.0h0M182.9 343.5h0M184.4 347.9h0M183.4 345.4h0M184.0 343.5h0M183.6 346.5h0M183.3 343.3h0M183.1 343.6h0M184.1 347.5h0M183.4 351.2h0M183.6 350.4h0M183.5 351.2h0M183.1 341.7h0M183.7 350.3h0M183.0 343.1h0M183.5 346.5h0M183.0 349.3h0M182.5 343.9h0M183.9 347.2h0M183.8 344.9h0M183.5 338.9h0M182.7 338.8h0M182.9 339.1h0M183.6 341.0h0" stroke="#ee4a58" stroke-width="1.60" stroke-linecap="round" stroke-opacity="0.35" fill="none"/>
<path d="M171.9 353.9V352.3" stroke="#a85cf8" stroke-width="2.3" stroke-opacity="0.9" stroke-linecap="round"/>
<path d="M177.7 359.1V359.1" stroke="#a85cf8" stroke-width="2.3" stroke-opacity="0.9" stroke-linecap="round"/>
<path d="M183.4 353.9V352.3" stroke="#a85cf8" stroke-width="2.3" stroke-opacity="0.9" stroke-linecap="round"/>
<rect x="137.5" y="295.3" width="86.1" height="68.5" fill="none" stroke="#8a8a8a" stroke-width="0.9"/>
<path d="M137.5 362.7h-1.6M223.6 362.7h1.2M137.5 341.9h-1.6M223.6 341.9h1.2M137.5 321.1h-1.6M223.6 321.1h1.2M137.5 300.3h-1.6M223.6 300.3h1.2M137.5 352.3h-1M137.5 331.5h-1M137.5 310.7h-1" stroke="#8a8a8a" stroke-width="0.7" fill="none"/>
<path d="M137.5 363.8v1.5M166.2 363.8v1.5M194.9 363.8v1.5M223.6 363.8v1.5M143.2 363.8v0.9M149.0 363.8v0.9M154.7 363.8v0.9M160.5 363.8v0.9M171.9 363.8v0.9M177.7 363.8v0.9M183.4 363.8v0.9M189.2 363.8v0.9M200.6 363.8v0.9M206.4 363.8v0.9M212.1 363.8v0.9M217.9 363.8v0.9" stroke="#8a8a8a" stroke-width="0.6"/>
<text x="137.5" y="372.9" font-size="8" text-anchor="middle" font-weight="normal" fill="#111" stroke="#111" stroke-width="0.18" >5</text>
<text x="166.2" y="372.9" font-size="8" text-anchor="middle" font-weight="normal" fill="#111" stroke="#111" stroke-width="0.18" >10</text>
<text x="194.9" y="372.9" font-size="8" text-anchor="middle" font-weight="normal" fill="#111" stroke="#111" stroke-width="0.18" >15</text>
<text x="223.6" y="372.9" font-size="8" text-anchor="middle" font-weight="normal" fill="#111" stroke="#111" stroke-width="0.18" >20</text>
<text x="180.6" y="384.7" font-size="8.2" text-anchor="middle" font-weight="normal" fill="#111" stroke="#111" stroke-width="0.18" >Local hour</text>
<text x="180.6" y="280.8" font-size="8.5" text-anchor="middle" font-weight="normal" fill="#111" stroke="#111" stroke-width="0.18" >Case 4</text>
<text x="180.6" y="291" font-size="8.5" text-anchor="middle" font-weight="normal" fill="#111" stroke="#111" stroke-width="0.18" >without pretreatment</text>
<circle cx="143.2" cy="303.6" r="1.6" fill="#c8c8c8"/>
<text x="146.8" y="305.2" font-size="4.5" text-anchor="start" font-weight="normal" fill="#222" stroke="#222" stroke-width="0.04" text-rendering="optimizeLegibility">SODIS (bacteria)</text>
<circle cx="143.2" cy="308.7" r="1.6" fill="#f0505a"/>
<text x="146.8" y="310.3" font-size="4.5" text-anchor="start" font-weight="normal" fill="#222" stroke="#222" stroke-width="0.04" text-rendering="optimizeLegibility">SOPAS (virus)</text>
<circle cx="143.2" cy="314.0" r="1.6" fill="#b47cf8"/>
<text x="146.8" y="315.6" font-size="4.5" text-anchor="start" font-weight="normal" fill="#222" stroke="#222" stroke-width="0.04" text-rendering="optimizeLegibility">Photosensitization (virus)</text>
<path d="M273.5 362.2V362.2" stroke="#c4c4c4" stroke-width="2.1" stroke-opacity="1" stroke-linecap="round"/>
<path d="M279.3 361.9V361.9" stroke="#c4c4c4" stroke-width="2.1" stroke-opacity="1" stroke-linecap="round"/>
<path d="M285.0 361.8V361.0" stroke="#c4c4c4" stroke-width="2.1" stroke-opacity="1" stroke-linecap="round"/>
<path d="M290.8 361.8V357.4" stroke="#c4c4c4" stroke-width="2.1" stroke-opacity="1" stroke-linecap="round"/>
<path d="M296.5 361.8V353.2" stroke="#c4c4c4" stroke-width="2.1" stroke-opacity="1" stroke-linecap="round"/>
<path d="M302.3 361.8V346.0" stroke="#c4c4c4" stroke-width="2.1" stroke-opacity="1" stroke-linecap="round"/>
<path d="M308.0 361.8V340.8" stroke="#c4c4c4" stroke-width="2.1" stroke-opacity="1" stroke-linecap="round"/>
<path d="M313.8 361.8V343.9" stroke="#c4c4c4" stroke-width="2.1" stroke-opacity="1" stroke-linecap="round"/>
<path d="M319.5 361.8V351.2" stroke="#c4c4c4" stroke-width="2.1" stroke-opacity="1" stroke-linecap="round"/>
<path d="M325.3 361.8V356.4" stroke="#c4c4c4" stroke-width="2.1" stroke-opacity="1" stroke-linecap="round"/>
<path d="M331.0 361.8V360.5" stroke="#c4c4c4" stroke-width="2.1" stroke-opacity="1" stroke-linecap="round"/>
<path d="M336.8 361.8V361.6" stroke="#c4c4c4" stroke-width="2.1" stroke-opacity="1" stroke-linecap="round"/>
<path d="M342.5 362.2V362.2" stroke="#c4c4c4" stroke-width="2.1" stroke-opacity="1" stroke-linecap="round"/>
<rect x="267.8" y="295.3" width="86.2" height="68.5" fill="none" stroke="#8a8a8a" stroke-width="0.9"/>
<path d="M267.8 362.7h-1.6M354.0 362.7h1.2M267.8 341.9h-1.6M354.0 341.9h1.2M267.8 321.1h-1.6M354.0 321.1h1.2M267.8 300.3h-1.6M354.0 300.3h1.2M267.8 352.3h-1M267.8 331.5h-1M267.8 310.7h-1" stroke="#8a8a8a" stroke-width="0.7" fill="none"/>
<text x="265.7" y="365.6" font-size="8" text-anchor="end" font-weight="normal" fill="#111" stroke="#111" stroke-width="0.18" >0</text>
<text x="265.7" y="344.8" font-size="8" text-anchor="end" font-weight="normal" fill="#111" stroke="#111" stroke-width="0.18" >20</text>
<text x="265.7" y="323.9" font-size="8" text-anchor="end" font-weight="normal" fill="#111" stroke="#111" stroke-width="0.18" >40</text>
<text x="265.7" y="303.1" font-size="8" text-anchor="end" font-weight="normal" fill="#111" stroke="#111" stroke-width="0.18" >60</text>
<path d="M267.8 363.8v1.5M296.5 363.8v1.5M325.3 363.8v1.5M354.0 363.8v1.5M273.5 363.8v0.9M279.3 363.8v0.9M285.0 363.8v0.9M290.8 363.8v0.9M302.3 363.8v0.9M308.0 363.8v0.9M313.8 363.8v0.9M319.5 363.8v0.9M331.0 363.8v0.9M336.8 363.8v0.9M342.5 363.8v0.9M348.3 363.8v0.9" stroke="#8a8a8a" stroke-width="0.6"/>
<text x="267.8" y="372.9" font-size="8" text-anchor="middle" font-weight="normal" fill="#111" stroke="#111" stroke-width="0.18" >5</text>
<text x="296.5" y="372.9" font-size="8" text-anchor="middle" font-weight="normal" fill="#111" stroke="#111" stroke-width="0.18" >10</text>
<text x="325.3" y="372.9" font-size="8" text-anchor="middle" font-weight="normal" fill="#111" stroke="#111" stroke-width="0.18" >15</text>
<text x="354" y="372.9" font-size="8" text-anchor="middle" font-weight="normal" fill="#111" stroke="#111" stroke-width="0.18" >20</text>
<text x="310.9" y="384.7" font-size="8.2" text-anchor="middle" font-weight="normal" fill="#111" stroke="#111" stroke-width="0.18" >Local hour</text>
<text x="310.9" y="280.8" font-size="8.5" text-anchor="middle" font-weight="normal" fill="#111" stroke="#111" stroke-width="0.18" >Case 3</text>
<text x="310.9" y="291" font-size="8.5" text-anchor="middle" font-weight="normal" fill="#111" stroke="#111" stroke-width="0.18" >without pretreatment</text>
<path d="M366.7 362.2V362.2" stroke="#c4c4c4" stroke-width="2.1" stroke-opacity="1" stroke-linecap="round"/>
<path d="M372.5 361.9V361.9" stroke="#c4c4c4" stroke-width="2.1" stroke-opacity="1" stroke-linecap="round"/>
<path d="M378.2 361.8V361.0" stroke="#c4c4c4" stroke-width="2.1" stroke-opacity="1" stroke-linecap="round"/>
<path d="M384.0 361.8V359.0" stroke="#c4c4c4" stroke-width="2.1" stroke-opacity="1" stroke-linecap="round"/>
<path d="M389.7 361.8V356.4" stroke="#c4c4c4" stroke-width="2.1" stroke-opacity="1" stroke-linecap="round"/>
<path d="M395.4 361.8V359.5" stroke="#c4c4c4" stroke-width="2.1" stroke-opacity="1" stroke-linecap="round"/>
<path d="M401.2 361.8V360.5" stroke="#c4c4c4" stroke-width="2.1" stroke-opacity="1" stroke-linecap="round"/>
<path d="M406.9 361.8V359.5" stroke="#c4c4c4" stroke-width="2.1" stroke-opacity="1" stroke-linecap="round"/>
<path d="M412.7 361.8V356.4" stroke="#c4c4c4" stroke-width="2.1" stroke-opacity="1" stroke-linecap="round"/>
<path d="M418.4 361.8V356.4" stroke="#c4c4c4" stroke-width="2.1" stroke-opacity="1" stroke-linecap="round"/>
<path d="M424.1 361.8V360.5" stroke="#c4c4c4" stroke-width="2.1" stroke-opacity="1" stroke-linecap="round"/>
<path d="M429.9 361.8V361.6" stroke="#c4c4c4" stroke-width="2.1" stroke-opacity="1" stroke-linecap="round"/>
<path d="M435.6 362.2V362.2" stroke="#c4c4c4" stroke-width="2.1" stroke-opacity="1" stroke-linecap="round"/>
<path d="M395.4 354.5V335.7" stroke="#f2606a" stroke-width="2.5" stroke-opacity="0.8" stroke-linecap="round"/>
<path d="M396.1 339.9h0M395.9 353.5h0M395.7 349.2h0M395.7 336.5h0M396.0 342.8h0M396.1 347.8h0M395.2 352.0h0M395.4 353.9h0M396.1 354.1h0M395.7 350.0h0M394.9 349.9h0M395.5 344.9h0M395.8 354.4h0M395.7 352.0h0M395.5 354.0h0M395.4 349.1h0M395.3 335.5h0M395.0 338.2h0M395.7 336.4h0M395.6 343.8h0M395.1 350.1h0M395.1 348.0h0M395.1 347.9h0M395.3 346.3h0M396.3 346.8h0M395.5 340.8h0M395.7 353.1h0M395.5 340.0h0M395.5 345.7h0M395.4 335.7h0M394.7 351.7h0M396.0 340.8h0M395.8 355.2h0M395.7 335.1h0M395.7 343.7h0M395.9 337.5h0M395.3 347.6h0M395.8 338.9h0M396.6 341.7h0M396.2 335.7h0M395.6 336.8h0M394.8 334.6h0M394.3 345.2h0M395.3 349.8h0M395.7 355.5h0M395.3 352.9h0M395.7 331.7h0M395.7 332.3h0M395.9 334.6h0M396.1 331.9h0M395.7 332.7h0M395.3 332.6h0M395.4 333.2h0" stroke="#ee4a58" stroke-width="1.60" stroke-linecap="round" stroke-opacity="0.35" fill="none"/>
<path d="M401.2 355.1V323.7" stroke="#f2606a" stroke-width="2.5" stroke-opacity="0.8" stroke-linecap="round"/>
<path d="M400.7 352.7h0M401.0 331.3h0M401.6 353.9h0M401.8 352.7h0M402.1 348.7h0M400.5 341.9h0M400.6 333.2h0M401.6 341.1h0M401.5 340.5h0M400.9 340.9h0M401.5 349.5h0M401.2 330.8h0M400.5 356.1h0M401.4 328.0h0M401.3 324.4h0M401.2 344.4h0M401.3 324.2h0M400.4 339.5h0M401.6 347.2h0M401.2 352.7h0M401.8 322.7h0M401.3 330.5h0M401.3 344.6h0M400.9 323.0h0M400.6 324.5h0M401.4 324.5h0M400.8 339.2h0M401.4 339.3h0M401.1 355.6h0M400.2 325.0h0M401.4 329.7h0M401.6 352.9h0M400.8 345.9h0M400.7 325.4h0M401.3 326.6h0M401.0 342.1h0M401.2 326.0h0M400.6 341.7h0M400.9 336.9h0M401.0 341.9h0M401.0 326.8h0M401.8 341.4h0M400.8 353.5h0M400.4 344.9h0M400.7 345.4h0M400.8 337.0h0M401.4 341.9h0M401.8 352.5h0M401.2 328.7h0M401.7 332.8h0M400.8 342.3h0M401.6 322.9h0M401.1 335.1h0M401.1 339.1h0M400.9 345.2h0M401.1 336.4h0M401.6 345.6h0M401.0 348.2h0M401.4 355.6h0M401.1 325.4h0M401.0 345.4h0M401.2 340.7h0M400.3 325.9h0M401.3 339.8h0M401.3 345.4h0M400.6 328.6h0M401.1 333.9h0M401.2 344.0h0M400.7 337.4h0M401.2 343.7h0M401.5 320.4h0M401.5 321.9h0M401.2 322.2h0M401.9 319.8h0M401.6 320.8h0M400.9 320.9h0M401.2 322.1h0M401.9 321.6h0M401.4 320.6h0M401.1 321.3h0M401.6 320.0h0" stroke="#ee4a58" stroke-width="1.60" stroke-linecap="round" stroke-opacity="0.35" fill="none"/>
<path d="M406.9 354.5V330.5" stroke="#f2606a" stroke-width="2.5" stroke-opacity="0.8" stroke-linecap="round"/>
<path d="M406.9 342.0h0M406.5 331.4h0M406.7 339.6h0M407.0 346.9h0M407.2 345.9h0M406.3 351.5h0M407.2 349.9h0M407.3 337.2h0M406.7 344.6h0M407.2 353.7h0M406.5 342.1h0M407.2 348.5h0M407.0 345.5h0M406.9 331.8h0M407.3 335.2h0M407.3 344.7h0M407.0 348.7h0M406.8 355.1h0M407.3 330.1h0M406.9 343.4h0M408.0 334.6h0M405.8 354.8h0M407.4 332.8h0M407.5 345.6h0M406.9 336.0h0M406.1 346.4h0M407.2 350.8h0M406.9 353.6h0M407.2 336.9h0M407.5 338.3h0M406.9 335.9h0M406.8 334.6h0M407.2 331.5h0M406.7 338.5h0M406.7 353.9h0M407.0 348.2h0M407.0 348.6h0M407.3 340.6h0M407.5 338.3h0M407.0 331.8h0M406.6 352.8h0M407.8 345.4h0M407.9 341.0h0M407.4 349.0h0M406.3 355.2h0M406.2 344.6h0M407.0 349.0h0M406.3 340.2h0M407.3 334.5h0M407.1 352.8h0M407.2 350.4h0M407.0 330.9h0M406.8 348.3h0M406.4 346.0h0M406.1 334.2h0M407.6 340.2h0M407.3 328.5h0M406.1 328.1h0M407.0 327.1h0M406.7 328.0h0M407.2 329.4h0M407.1 326.8h0M407.7 327.5h0M406.4 328.8h0M406.7 326.9h0" stroke="#ee4a58" stroke-width="1.60" stroke-linecap="round" stroke-opacity="0.35" fill="none"/>
<path d="M412.7 351.2V346.1" stroke="#f2606a" stroke-width="2.5" stroke-opacity="0.8" stroke-linecap="round"/>
<path d="M412.0 348.0h0M412.4 346.6h0M412.5 348.9h0M412.2 351.7h0M412.8 346.6h0M412.5 351.2h0M412.5 350.5h0M411.7 347.3h0M412.2 345.1h0M413.1 347.5h0M412.4 348.1h0M411.8 348.2h0M412.0 349.9h0M413.2 347.2h0M413.0 350.5h0M412.6 348.3h0M413.0 350.3h0M412.3 351.1h0M412.9 349.2h0M412.7 349.6h0M412.4 343.5h0M412.4 343.2h0M412.7 344.1h0" stroke="#ee4a58" stroke-width="1.60" stroke-linecap="round" stroke-opacity="0.35" fill="none"/>
<path d="M389.7 353.9V349.5" stroke="#a85cf8" stroke-width="2.3" stroke-opacity="0.9" stroke-linecap="round"/>
<path d="M395.4 357.0V356.7" stroke="#a85cf8" stroke-width="2.3" stroke-opacity="0.9" stroke-linecap="round"/>
<path d="M401.2 359.1V359.1" stroke="#a85cf8" stroke-width="2.3" stroke-opacity="0.9" stroke-linecap="round"/>
<path d="M406.9 356.6V356.6" stroke="#a85cf8" stroke-width="2.3" stroke-opacity="0.9" stroke-linecap="round"/>
<path d="M412.7 354.9V353.3" stroke="#a85cf8" stroke-width="2.3" stroke-opacity="0.9" stroke-linecap="round"/>
<path d="M418.4 353.9V353.9" stroke="#a85cf8" stroke-width="2.3" stroke-opacity="0.9" stroke-linecap="round"/>
<rect x="361" y="295.3" width="86.1" height="68.5" fill="none" stroke="#8a8a8a" stroke-width="0.9"/>
<path d="M361.0 362.7h-1.6M447.1 362.7h1.2M361.0 341.9h-1.6M447.1 341.9h1.2M361.0 321.1h-1.6M447.1 321.1h1.2M361.0 300.3h-1.6M447.1 300.3h1.2M361.0 352.3h-1M361.0 331.5h-1M361.0 310.7h-1" stroke="#8a8a8a" stroke-width="0.7" fill="none"/>
<path d="M361.0 363.8v1.5M389.7 363.8v1.5M418.4 363.8v1.5M447.1 363.8v1.5M366.7 363.8v0.9M372.5 363.8v0.9M378.2 363.8v0.9M384.0 363.8v0.9M395.4 363.8v0.9M401.2 363.8v0.9M406.9 363.8v0.9M412.7 363.8v0.9M424.1 363.8v0.9M429.9 363.8v0.9M435.6 363.8v0.9M441.4 363.8v0.9" stroke="#8a8a8a" stroke-width="0.6"/>
<text x="361" y="372.9" font-size="8" text-anchor="middle" font-weight="normal" fill="#111" stroke="#111" stroke-width="0.18" >5</text>
<text x="389.7" y="372.9" font-size="8" text-anchor="middle" font-weight="normal" fill="#111" stroke="#111" stroke-width="0.18" >10</text>
<text x="418.4" y="372.9" font-size="8" text-anchor="middle" font-weight="normal" fill="#111" stroke="#111" stroke-width="0.18" >15</text>
<text x="447.1" y="372.9" font-size="8" text-anchor="middle" font-weight="normal" fill="#111" stroke="#111" stroke-width="0.18" >20</text>
<text x="404.1" y="384.7" font-size="8.2" text-anchor="middle" font-weight="normal" fill="#111" stroke="#111" stroke-width="0.18" >Local hour</text>
<text x="404.1" y="280.8" font-size="8.5" text-anchor="middle" font-weight="normal" fill="#111" stroke="#111" stroke-width="0.18" >Case 4</text>
<text x="404.1" y="291" font-size="8.5" text-anchor="middle" font-weight="normal" fill="#111" stroke="#111" stroke-width="0.18" >without pretreatment</text>
<path d="M497.5 362.2V362.2" stroke="#c4c4c4" stroke-width="2.1" stroke-opacity="1" stroke-linecap="round"/>
<path d="M503.3 361.9V361.9" stroke="#c4c4c4" stroke-width="2.1" stroke-opacity="1" stroke-linecap="round"/>
<path d="M509.0 361.8V361.6" stroke="#c4c4c4" stroke-width="2.1" stroke-opacity="1" stroke-linecap="round"/>
<path d="M514.8 361.8V359.0" stroke="#c4c4c4" stroke-width="2.1" stroke-opacity="1" stroke-linecap="round"/>
<path d="M520.5 361.8V353.2" stroke="#c4c4c4" stroke-width="2.1" stroke-opacity="1" stroke-linecap="round"/>
<path d="M526.3 361.8V346.0" stroke="#c4c4c4" stroke-width="2.1" stroke-opacity="1" stroke-linecap="round"/>
<path d="M532.0 361.8V341.8" stroke="#c4c4c4" stroke-width="2.1" stroke-opacity="1" stroke-linecap="round"/>
<path d="M537.8 361.8V344.9" stroke="#c4c4c4" stroke-width="2.1" stroke-opacity="1" stroke-linecap="round"/>
<path d="M543.5 361.8V353.2" stroke="#c4c4c4" stroke-width="2.1" stroke-opacity="1" stroke-linecap="round"/>
<path d="M549.3 361.8V358.4" stroke="#c4c4c4" stroke-width="2.1" stroke-opacity="1" stroke-linecap="round"/>
<path d="M555.0 361.8V361.6" stroke="#c4c4c4" stroke-width="2.1" stroke-opacity="1" stroke-linecap="round"/>
<path d="M560.8 361.9V361.9" stroke="#c4c4c4" stroke-width="2.1" stroke-opacity="1" stroke-linecap="round"/>
<path d="M566.5 362.2V362.2" stroke="#c4c4c4" stroke-width="2.1" stroke-opacity="1" stroke-linecap="round"/>
<rect x="491.8" y="295.3" width="86.2" height="68.5" fill="none" stroke="#8a8a8a" stroke-width="0.9"/>
<path d="M491.8 362.7h-1.6M578.0 362.7h1.2M491.8 341.9h-1.6M578.0 341.9h1.2M491.8 321.1h-1.6M578.0 321.1h1.2M491.8 300.3h-1.6M578.0 300.3h1.2M491.8 352.3h-1M491.8 331.5h-1M491.8 310.7h-1" stroke="#8a8a8a" stroke-width="0.7" fill="none"/>
<text x="489.7" y="365.6" font-size="8" text-anchor="end" font-weight="normal" fill="#111" stroke="#111" stroke-width="0.18" >0</text>
<text x="489.7" y="344.8" font-size="8" text-anchor="end" font-weight="normal" fill="#111" stroke="#111" stroke-width="0.18" >20</text>
<text x="489.7" y="323.9" font-size="8" text-anchor="end" font-weight="normal" fill="#111" stroke="#111" stroke-width="0.18" >40</text>
<text x="489.7" y="303.1" font-size="8" text-anchor="end" font-weight="normal" fill="#111" stroke="#111" stroke-width="0.18" >60</text>
<path d="M491.8 363.8v1.5M520.5 363.8v1.5M549.3 363.8v1.5M578.0 363.8v1.5M497.5 363.8v0.9M503.3 363.8v0.9M509.0 363.8v0.9M514.8 363.8v0.9M526.3 363.8v0.9M532.0 363.8v0.9M537.8 363.8v0.9M543.5 363.8v0.9M555.0 363.8v0.9M560.8 363.8v0.9M566.5 363.8v0.9M572.3 363.8v0.9" stroke="#8a8a8a" stroke-width="0.6"/>
<text x="491.8" y="372.9" font-size="8" text-anchor="middle" font-weight="normal" fill="#111" stroke="#111" stroke-width="0.18" >5</text>
<text x="520.5" y="372.9" font-size="8" text-anchor="middle" font-weight="normal" fill="#111" stroke="#111" stroke-width="0.18" >10</text>
<text x="549.3" y="372.9" font-size="8" text-anchor="middle" font-weight="normal" fill="#111" stroke="#111" stroke-width="0.18" >15</text>
<text x="578" y="372.9" font-size="8" text-anchor="middle" font-weight="normal" fill="#111" stroke="#111" stroke-width="0.18" >20</text>
<text x="534.9" y="384.7" font-size="8.2" text-anchor="middle" font-weight="normal" fill="#111" stroke="#111" stroke-width="0.18" >Local hour</text>
<text x="534.9" y="280.8" font-size="8.5" text-anchor="middle" font-weight="normal" fill="#111" stroke="#111" stroke-width="0.18" >Case 3</text>
<text x="534.9" y="291" font-size="8.5" text-anchor="middle" font-weight="normal" fill="#111" stroke="#111" stroke-width="0.18" >without pretreatment</text>
<path d="M590.7 362.2V362.2" stroke="#c4c4c4" stroke-width="2.1" stroke-opacity="1" stroke-linecap="round"/>
<path d="M596.5 361.9V361.9" stroke="#c4c4c4" stroke-width="2.1" stroke-opacity="1" stroke-linecap="round"/>
<path d="M602.2 361.8V361.6" stroke="#c4c4c4" stroke-width="2.1" stroke-opacity="1" stroke-linecap="round"/>
<path d="M608.0 361.8V360.0" stroke="#c4c4c4" stroke-width="2.1" stroke-opacity="1" stroke-linecap="round"/>
<path d="M613.7 361.8V357.6" stroke="#c4c4c4" stroke-width="2.1" stroke-opacity="1" stroke-linecap="round"/>
<path d="M619.4 361.8V359.5" stroke="#c4c4c4" stroke-width="2.1" stroke-opacity="1" stroke-linecap="round"/>
<path d="M625.2 361.8V360.5" stroke="#c4c4c4" stroke-width="2.1" stroke-opacity="1" stroke-linecap="round"/>
<path d="M630.9 361.8V360.0" stroke="#c4c4c4" stroke-width="2.1" stroke-opacity="1" stroke-linecap="round"/>
<path d="M636.7 361.8V357.9" stroke="#c4c4c4" stroke-width="2.1" stroke-opacity="1" stroke-linecap="round"/>
<path d="M642.4 361.8V359.0" stroke="#c4c4c4" stroke-width="2.1" stroke-opacity="1" stroke-linecap="round"/>
<path d="M648.1 361.8V361.6" stroke="#c4c4c4" stroke-width="2.1" stroke-opacity="1" stroke-linecap="round"/>
<path d="M653.9 361.9V361.9" stroke="#c4c4c4" stroke-width="2.1" stroke-opacity="1" stroke-linecap="round"/>
<path d="M659.6 362.2V362.2" stroke="#c4c4c4" stroke-width="2.1" stroke-opacity="1" stroke-linecap="round"/>
<path d="M619.4 353.3V338.9" stroke="#f2606a" stroke-width="2.5" stroke-opacity="0.8" stroke-linecap="round"/>
<path d="M619.5 350.7h0M619.1 348.6h0M619.0 353.7h0M618.8 338.3h0M618.9 338.2h0M619.4 346.3h0M620.0 342.7h0M619.2 341.9h0M619.0 344.2h0M619.3 340.8h0M618.8 351.6h0M619.1 352.7h0M619.1 353.6h0M619.5 345.3h0M619.5 348.3h0M619.5 338.8h0M619.1 344.6h0M620.0 340.3h0M619.4 338.6h0M619.1 340.1h0M619.5 346.9h0M619.1 344.6h0M619.7 353.8h0M619.1 350.8h0M619.4 338.7h0M620.2 349.2h0M619.9 348.9h0M619.7 339.0h0M619.3 353.2h0M619.1 351.8h0M619.3 338.2h0M619.7 354.3h0M619.8 348.8h0M619.6 341.3h0M619.8 340.7h0M619.0 342.6h0M619.9 346.7h0M618.5 350.0h0M618.9 336.5h0M619.1 335.0h0M619.2 335.6h0M619.4 336.1h0M620.8 335.2h0M619.3 336.6h0" stroke="#ee4a58" stroke-width="1.60" stroke-linecap="round" stroke-opacity="0.35" fill="none"/>
<path d="M625.2 356.8V325.3" stroke="#f2606a" stroke-width="2.5" stroke-opacity="0.8" stroke-linecap="round"/>
<path d="M624.5 355.2h0M624.7 352.0h0M625.4 333.1h0M625.0 348.4h0M625.4 351.4h0M625.5 331.9h0M624.4 354.1h0M626.0 341.0h0M625.9 325.6h0M624.5 342.6h0M624.9 345.3h0M625.6 346.9h0M625.0 334.9h0M625.4 348.4h0M624.8 326.5h0M625.8 334.3h0M624.6 328.2h0M625.1 336.8h0M625.3 330.6h0M624.6 330.0h0M625.3 342.4h0M625.3 349.9h0M625.5 324.9h0M624.5 338.0h0M625.8 327.2h0M624.8 343.2h0M624.8 328.5h0M625.0 337.7h0M625.5 325.0h0M625.1 336.5h0M625.1 351.3h0M625.4 352.0h0M625.1 351.1h0M624.9 355.9h0M624.9 325.8h0M625.0 338.6h0M625.3 355.7h0M625.7 354.3h0M625.2 325.4h0M625.7 332.4h0M625.5 350.6h0M625.8 350.2h0M625.3 342.0h0M625.0 324.5h0M624.2 335.4h0M625.1 335.4h0M625.4 325.6h0M625.5 349.6h0M624.5 350.0h0M624.8 331.0h0M624.8 357.3h0M625.0 339.0h0M625.5 336.5h0M625.4 357.9h0M625.7 352.9h0M624.5 329.9h0M624.5 349.6h0M625.2 354.2h0M624.9 339.0h0M625.2 344.9h0M625.2 327.7h0M625.5 334.8h0M625.7 329.4h0M624.9 331.5h0M625.3 346.2h0M625.4 337.1h0M625.8 348.1h0M625.3 348.2h0M624.4 348.7h0M625.3 346.0h0M625.0 324.0h0M624.6 323.9h0M625.6 322.7h0M624.9 324.0h0M625.2 322.3h0M624.9 322.3h0M625.2 322.8h0M625.3 323.5h0M625.4 322.6h0M626.1 322.9h0M626.0 324.0h0" stroke="#ee4a58" stroke-width="1.60" stroke-linecap="round" stroke-opacity="0.35" fill="none"/>
<path d="M630.9 355.3V336.8" stroke="#f2606a" stroke-width="2.5" stroke-opacity="0.8" stroke-linecap="round"/>
<path d="M630.8 337.9h0M630.5 341.2h0M631.2 354.7h0M630.3 336.9h0M631.4 345.0h0M631.0 340.6h0M630.5 339.9h0M631.0 352.6h0M630.3 352.6h0M630.6 348.1h0M630.0 352.4h0M631.6 349.7h0M630.8 355.3h0M630.4 346.6h0M631.1 344.4h0M630.5 344.8h0M630.6 345.1h0M631.0 341.1h0M631.4 339.3h0M631.4 338.5h0M631.0 338.3h0M630.6 339.9h0M630.7 341.1h0M630.7 351.5h0M631.0 346.9h0M630.7 350.1h0M630.5 349.0h0M631.2 344.1h0M630.6 346.3h0M630.3 347.8h0M631.5 352.1h0M631.4 352.1h0M630.2 353.6h0M630.8 353.6h0M630.5 355.4h0M631.4 354.3h0M630.8 356.4h0M631.1 346.8h0M630.3 345.4h0M631.1 354.3h0M632.1 337.4h0M631.6 353.3h0M631.5 337.9h0M631.6 336.1h0M630.8 338.7h0M631.2 349.0h0M631.1 333.2h0M630.8 334.0h0M630.9 332.9h0M631.6 332.6h0M631.4 334.2h0M630.9 334.4h0M631.4 335.2h0" stroke="#ee4a58" stroke-width="1.60" stroke-linecap="round" stroke-opacity="0.35" fill="none"/>
<path d="M613.7 351.8V349.8" stroke="#a85cf8" stroke-width="2.3" stroke-opacity="0.9" stroke-linecap="round"/>
<path d="M619.4 355.9V355.1" stroke="#a85cf8" stroke-width="2.3" stroke-opacity="0.9" stroke-linecap="round"/>
<path d="M625.2 358.5V358.5" stroke="#a85cf8" stroke-width="2.3" stroke-opacity="0.9" stroke-linecap="round"/>
<path d="M630.9 357.0V357.0" stroke="#a85cf8" stroke-width="2.3" stroke-opacity="0.9" stroke-linecap="round"/>
<path d="M636.7 351.8V347.3" stroke="#a85cf8" stroke-width="2.3" stroke-opacity="0.9" stroke-linecap="round"/>
<rect x="585" y="295.3" width="86.1" height="68.5" fill="none" stroke="#8a8a8a" stroke-width="0.9"/>
<path d="M585.0 362.7h-1.6M671.1 362.7h1.2M585.0 341.9h-1.6M671.1 341.9h1.2M585.0 321.1h-1.6M671.1 321.1h1.2M585.0 300.3h-1.6M671.1 300.3h1.2M585.0 352.3h-1M585.0 331.5h-1M585.0 310.7h-1" stroke="#8a8a8a" stroke-width="0.7" fill="none"/>
<path d="M585.0 363.8v1.5M613.7 363.8v1.5M642.4 363.8v1.5M671.1 363.8v1.5M590.7 363.8v0.9M596.5 363.8v0.9M602.2 363.8v0.9M608.0 363.8v0.9M619.4 363.8v0.9M625.2 363.8v0.9M630.9 363.8v0.9M636.7 363.8v0.9M648.1 363.8v0.9M653.9 363.8v0.9M659.6 363.8v0.9M665.4 363.8v0.9" stroke="#8a8a8a" stroke-width="0.6"/>
<text x="585" y="372.9" font-size="8" text-anchor="middle" font-weight="normal" fill="#111" stroke="#111" stroke-width="0.18" >5</text>
<text x="613.7" y="372.9" font-size="8" text-anchor="middle" font-weight="normal" fill="#111" stroke="#111" stroke-width="0.18" >10</text>
<text x="642.4" y="372.9" font-size="8" text-anchor="middle" font-weight="normal" fill="#111" stroke="#111" stroke-width="0.18" >15</text>
<text x="671.1" y="372.9" font-size="8" text-anchor="middle" font-weight="normal" fill="#111" stroke="#111" stroke-width="0.18" >20</text>
<text x="628" y="384.7" font-size="8.2" text-anchor="middle" font-weight="normal" fill="#111" stroke="#111" stroke-width="0.18" >Local hour</text>
<text x="628" y="280.8" font-size="8.5" text-anchor="middle" font-weight="normal" fill="#111" stroke="#111" stroke-width="0.18" >Case 4</text>
<text x="628" y="291" font-size="8.5" text-anchor="middle" font-weight="normal" fill="#111" stroke="#111" stroke-width="0.18" >without pretreatment</text>
</svg>
</body></html>
